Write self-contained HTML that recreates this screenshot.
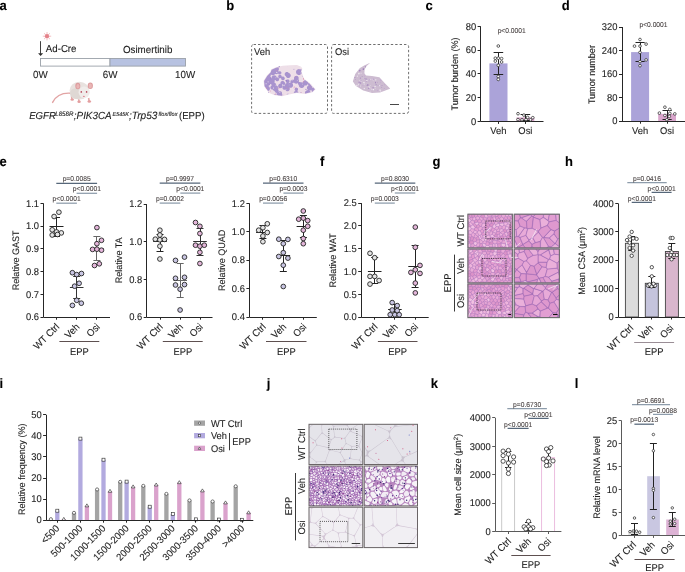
<!DOCTYPE html>
<html><head><meta charset="utf-8"><style>
html,body{margin:0;padding:0;background:#fff;}
svg{display:block;will-change:transform;}
text{font-family:"Liberation Sans", sans-serif;stroke-width:0.1px;text-rendering:geometricPrecision;}
</style></head><body>
<svg width="685" height="572" viewBox="0 0 685 572" fill="#1e1e1e">
<rect width="685" height="572" fill="#fff"/>
<text transform="translate(-0.60 9.80) scale(1 1.045)" font-size="13" fill="#000" stroke="#000" font-weight="bold">a</text>
<line x1="48.50" y1="36.20" x2="51.20" y2="36.20" stroke="#eb9aa0" stroke-width="0.65"/>
<line x1="48.06" y1="37.26" x2="49.97" y2="39.17" stroke="#eb9aa0" stroke-width="0.65"/>
<line x1="47.00" y1="37.70" x2="47.00" y2="40.40" stroke="#eb9aa0" stroke-width="0.65"/>
<line x1="45.94" y1="37.26" x2="44.03" y2="39.17" stroke="#eb9aa0" stroke-width="0.65"/>
<line x1="45.50" y1="36.20" x2="42.80" y2="36.20" stroke="#eb9aa0" stroke-width="0.65"/>
<line x1="45.94" y1="35.14" x2="44.03" y2="33.23" stroke="#eb9aa0" stroke-width="0.65"/>
<line x1="47.00" y1="34.70" x2="47.00" y2="32.00" stroke="#eb9aa0" stroke-width="0.65"/>
<line x1="48.06" y1="35.14" x2="49.97" y2="33.23" stroke="#eb9aa0" stroke-width="0.65"/>
<circle cx="47.00" cy="36.20" r="2.1" fill="#e4828a" stroke="none" stroke-width="0"/>
<line x1="40.50" y1="41.20" x2="40.50" y2="53.80" stroke="#2a2a2a" stroke-width="0.9"/>
<polygon points="38.1,53.2 43.1,53.2 40.6,56.0" fill="#2a2a2a"/>
<text transform="translate(45.80 51.70) scale(1 1.045)" font-size="9.7" stroke="#1e1e1e">Ad-Cre</text>
<text transform="translate(122.90 52.50) scale(1 1.045)" font-size="9.8" stroke="#1e1e1e">Osimertinib</text>
<rect x="40.50" y="58.50" width="69.50" height="7.60" fill="#fff" stroke="#9aa0a8" stroke-width="0.9"/>
<rect x="110.00" y="58.50" width="75.50" height="7.60" fill="#b7c2e1" stroke="#9aa0a8" stroke-width="0.9"/>
<text transform="translate(33.00 78.00) scale(1 1.045)" font-size="9.8" stroke="#1e1e1e">0W</text>
<text transform="translate(102.80 77.70) scale(1 1.045)" font-size="9.8" stroke="#1e1e1e">6W</text>
<text transform="translate(175.00 77.70) scale(1 1.045)" font-size="9.8" stroke="#1e1e1e">10W</text>
<path d="M71,93.2 C63,92.6 56,95.5 52.6,102.4" fill="none" stroke="#e2a4a4" stroke-width="1.4" stroke-linecap="round"/>
<path d="M71.5,96 l0.6,3.6 M78.6,98 l0.4,3.6 M88.6,98 l0.6,3.4" stroke="#e3a8a8" stroke-width="1.6"/>
<ellipse cx="79.4" cy="90.6" rx="9.8" ry="8.9" fill="#e8e2df"/>
<ellipse cx="76.5" cy="93.5" rx="6.5" ry="5.6" fill="#dfd8d4"/>
<ellipse cx="72.2" cy="99.6" rx="1.8" ry="1.2" fill="#e39e9f"/>
<ellipse cx="79.1" cy="101.8" rx="1.7" ry="1.3" fill="#e39e9f"/>
<ellipse cx="89.3" cy="101.5" rx="1.8" ry="1.2" fill="#e39e9f"/>
<circle cx="84.2" cy="92.2" r="5.6" fill="#f0ecea"/>
<ellipse cx="77.8" cy="86.0" rx="2.5" ry="3.3" fill="#dc9c9e"/>
<ellipse cx="77.9" cy="86.2" rx="1.5" ry="2.3" fill="#eab6b6"/>
<ellipse cx="90.3" cy="85.7" rx="2.6" ry="3.3" fill="#dc9c9e"/>
<ellipse cx="90.3" cy="85.9" rx="1.6" ry="2.3" fill="#eab6b6"/>
<ellipse cx="81.3" cy="91.9" rx="0.8" ry="0.9" fill="#b84a5c"/>
<ellipse cx="86.6" cy="91.9" rx="0.8" ry="0.9" fill="#b84a5c"/>
<ellipse cx="83.9" cy="96.4" rx="1.0" ry="0.7" fill="#e08a96"/>
<text transform="translate(29.20 119.30) scale(1 1.045)" font-size="9.6" stroke="#1e1e1e" font-style="italic">EGFR</text>
<text transform="translate(55.20 115.50) scale(1 1.045)" font-size="6.2" stroke="#1e1e1e" font-style="italic">L858R</text>
<text transform="translate(73.80 119.30) scale(1 1.045)" font-size="9.9" stroke="#1e1e1e" font-style="italic">;PIK3CA</text>
<text transform="translate(112.60 115.50) scale(1 1.045)" font-size="5.4" stroke="#1e1e1e" font-style="italic">E545K</text>
<text transform="translate(129.00 119.30) scale(1 1.045)" font-size="10.1" stroke="#1e1e1e" font-style="italic">;Trp53</text>
<text transform="translate(158.50 115.50) scale(1 1.045)" font-size="5.6" stroke="#1e1e1e" font-style="italic">flox/flox</text>
<text transform="translate(179.00 119.30) scale(1 1.045)" font-size="9.6" stroke="#1e1e1e">(EPP)</text>
<text transform="translate(226.20 9.80) scale(1 1.045)" font-size="13" fill="#000" stroke="#000" font-weight="bold">b</text>
<rect x="251.60" y="44.50" width="75.90" height="68.90" fill="none" stroke="#4a4a4a" stroke-width="0.8" rx="2" stroke-dasharray="2.4 2.0"/>
<rect x="331.60" y="44.50" width="77.00" height="68.90" fill="none" stroke="#4a4a4a" stroke-width="0.8" rx="2" stroke-dasharray="2.4 2.0"/>
<text transform="translate(254.10 54.90) scale(1 1.045)" font-size="9.4" stroke="#1e1e1e">Veh</text>
<text transform="translate(335.00 54.90) scale(1 1.045)" font-size="9.4" stroke="#1e1e1e">Osi</text>
<line x1="390.00" y1="104.50" x2="399.00" y2="104.50" stroke="#333" stroke-width="0.9"/>
<filter id="lb" x="-5%" y="-5%" width="110%" height="110%"><feGaussianBlur stdDeviation="0.35"/></filter>
<g filter="url(#lb)">
<path d="M271.1,69.5 270.3,72.1 270.3,72.1 270.2,72.1 270.2,72.1 270.2,72.2 270.2,72.2 266.8,75.6 266.8,75.6 266.8,75.6 266.7,75.7 263.6,80.8 263.6,80.9 263.6,80.9 263.6,80.9 263.6,81.0 263.6,81.0 263.6,81.0 264.1,86.3 264.1,86.4 264.1,86.4 264.1,86.4 264.1,86.4 264.2,86.5 268.6,92.6 268.6,92.6 268.6,92.6 268.6,92.6 268.6,92.7 268.7,92.7 268.7,92.7 274.8,95.3 274.8,95.3 274.8,95.3 274.9,95.3 281.9,96.2 281.9,96.2 281.9,96.2 281.9,96.2 282.0,96.2 289.0,94.5 289.0,94.5 296.8,93.1 296.8,93.1 296.8,93.1 296.9,93.1 305.5,94.0 305.5,94.0 305.5,94.0 305.6,94.0 312.6,92.3 312.6,92.3 312.6,92.3 312.6,92.3 312.7,92.2 312.7,92.2 312.7,92.2 315.4,89.5 315.4,89.5 315.4,89.5 315.5,89.4 315.5,89.4 315.5,89.4 315.5,89.4 315.5,89.3 315.5,89.3 315.5,89.3 315.5,89.2 315.5,89.2 315.5,89.2 315.5,89.2 315.5,89.1 315.4,89.1 315.4,89.1 309.2,82.6 309.2,82.6 309.2,82.6 304.1,78.7 304.1,78.6 304.1,78.6 304.0,78.6 304.0,78.6 304.0,78.5 302.8,75.4 302.8,75.4 301.5,71.5 301.5,71.5 301.5,71.4 301.5,71.4 301.5,71.4 301.5,71.3 301.5,71.3 302.3,68.9 302.3,68.9 302.3,68.8 302.3,68.8 302.3,68.8 302.3,68.7 302.3,68.7 302.3,68.7 302.3,68.7 302.3,68.6 302.2,68.6 300.7,66.6 300.7,66.6 300.7,66.6 300.7,66.6 300.7,66.5 300.6,66.5 300.6,66.5 296.9,65.1 296.9,65.1 296.9,65.1 296.8,65.1 296.8,65.1 290.0,65.2 290.0,65.2 282.8,65.7 282.8,65.7 282.7,65.7 275.9,67.3 275.9,67.3 275.9,67.3 271.3,69.3 271.3,69.3 271.2,69.4 271.2,69.4 271.2,69.4 271.2,69.4 271.2,69.4 271.1,69.5 271.1,69.5Z" fill="#eedfe8"/>
<path d="M268.2,91.0 268.3,90.8 268.7,90.7 269.2,90.3 269.6,89.8 269.9,89.2 269.9,88.5 269.9,87.9 269.6,87.3 269.2,86.7 268.7,86.3 268.1,86.1 267.7,86.0 267.8,86.0 267.8,86.0 268.4,85.9 269.0,85.6 269.5,85.3 269.9,84.7 270.2,84.1 270.2,83.9 270.3,83.9 271.0,84.2 271.3,84.3 271.5,84.4 271.5,84.4 271.4,84.9 271.5,85.6 271.6,85.8 271.3,85.9 270.9,86.2 270.6,86.6 270.4,87.1 270.4,87.6 270.4,88.1 270.6,88.6 270.9,89.0 271.3,89.3 271.8,89.5 272.3,89.6 272.7,89.5 272.8,89.7 273.2,90.3 273.9,90.8 274.6,91.1 274.6,91.1 274.6,91.2 274.9,91.7 275.2,92.2 275.6,92.5 276.1,92.7 276.4,92.7 276.3,93.1 276.2,93.5 276.3,93.9 276.4,94.3 276.7,94.7 277.0,94.9 277.4,95.1 277.7,95.1 277.6,95.2 281.9,95.7 282.3,95.6 282.3,95.6 282.3,95.4 282.4,94.9 282.3,94.5 282.2,94.0 282.0,93.9 282.0,93.8 282.1,93.3 282.0,92.8 281.8,92.2 281.5,91.8 281.0,91.5 280.5,91.2 280.0,91.2 279.4,91.2 278.9,91.5 278.5,91.8 278.3,92.0 278.3,92.0 278.2,91.9 278.4,91.7 278.6,91.2 278.7,90.7 278.6,90.2 278.4,89.7 278.1,89.3 278.2,89.0 278.3,88.2 278.2,87.5 277.9,86.7 277.4,86.1 276.8,85.7 276.2,85.4 276.2,84.9 276.1,84.3 275.9,83.7 275.5,83.2 275.0,82.9 274.4,82.6 274.4,82.6 274.6,82.1 274.7,81.4 274.6,80.6 274.5,80.4 274.8,80.3 275.4,80.0 275.5,80.0 275.7,80.3 275.9,80.7 276.3,81.0 276.8,81.2 277.3,81.2 277.7,81.2 278.2,81.0 278.6,80.7 278.9,80.3 279.1,79.9 279.1,79.4 279.1,78.9 278.9,78.4 278.6,78.1 278.2,77.8 277.7,77.6 277.3,77.5 276.8,77.6 276.7,77.6 276.6,77.2 276.4,76.5 276.0,76.0 275.4,75.6 274.8,75.4 274.2,75.3 273.5,75.4 272.9,75.6 272.4,76.0 271.9,76.5 271.7,77.2 271.6,77.8 271.7,78.4 271.2,78.5 271.3,78.1 271.2,77.7 271.1,77.3 270.8,76.9 270.5,76.7 270.3,76.6 270.4,76.5 270.7,75.8 270.8,75.1 270.7,74.4 271.2,74.8 272.0,75.1 272.8,75.2 273.6,75.1 274.3,74.8 275.0,74.3 275.2,73.9 275.7,74.1 276.3,74.2 276.9,74.1 277.4,73.9 277.9,73.5 278.1,73.3 278.1,73.3 278.2,73.7 278.5,74.1 278.9,74.4 279.3,74.5 279.7,74.6 280.2,74.5 280.6,74.4 280.9,74.1 281.2,73.7 281.4,73.3 281.4,72.9 281.4,72.4 281.2,72.0 280.9,71.7 280.6,71.4 280.2,71.2 279.7,71.2 279.3,71.2 278.9,71.4 278.5,71.7 278.5,71.7 278.5,71.3 278.2,70.8 278.2,70.8 278.5,70.4 278.8,69.8 278.9,69.0 278.8,68.3 278.5,67.6 278.2,67.3 276.1,67.8 271.6,69.7 270.7,72.2 270.7,72.3 270.7,72.3 270.7,72.3 270.7,72.3 270.7,72.4 270.6,72.4 270.6,72.4 270.6,72.5 270.6,72.5 270.6,72.5 270.5,72.5 267.2,75.9 264.1,81.0 264.6,86.2 268.1,91.1ZM286.3,72.1 285.8,72.3 285.3,72.7 285.0,73.1 284.7,73.7 284.7,74.3 284.7,74.8 285.0,75.4 285.3,75.8 285.8,76.2 285.8,76.2 286.1,76.8 286.5,77.3 287.0,77.7 287.6,78.0 288.3,78.0 288.9,78.0 289.5,77.7 290.0,77.3 290.4,76.8 290.7,76.2 290.8,75.5 290.7,74.9 290.4,74.3 290.0,73.7 289.5,73.3 288.9,73.1 288.7,73.1 288.5,72.7 288.0,72.3 287.5,72.1 286.9,72.0ZM279.6,75.0 279.2,75.1 278.8,75.4 278.5,75.8 278.4,76.2 278.3,76.7 278.4,77.1 278.5,77.5 278.8,77.9 279.2,78.2 279.6,78.4 280.1,78.4 280.5,78.4 280.9,78.2 281.1,78.1 281.1,78.4 281.1,78.9 281.3,79.3 281.6,79.7 282.0,80.0 282.4,80.2 282.9,80.2 283.4,80.2 283.8,80.0 284.2,79.7 284.5,79.3 284.7,78.9 284.8,78.4 284.7,77.9 284.5,77.5 284.2,77.1 283.8,76.8 283.4,76.6 282.9,76.6 282.4,76.6 282.0,76.8 281.8,77.0 281.8,76.7 281.8,76.2 281.6,75.8 281.3,75.4 280.9,75.1 280.5,75.0 280.1,74.9ZM287.2,79.4 286.7,79.6 286.4,79.9 286.1,80.3 285.9,80.7 285.8,81.2 285.9,81.7 286.1,82.2 286.4,82.6 286.7,82.9 286.9,82.9 286.9,82.9 286.2,83.2 285.7,83.6 285.3,84.2 285.0,84.8 284.9,85.5 284.9,85.6 284.5,85.6 284.0,85.6 283.4,85.8 283.0,86.2 282.7,86.6 282.5,87.1 282.4,87.7 282.5,88.2 282.7,88.7 283.0,89.2 283.4,89.5 284.0,89.7 284.5,89.8 285.1,89.7 285.3,89.6 285.5,90.1 285.9,90.6 286.3,90.9 286.9,91.2 287.5,91.2 288.1,91.2 288.6,90.9 289.1,90.6 289.5,90.1 289.7,89.5 289.8,88.9 289.7,88.3 289.5,87.8 289.3,87.6 289.4,87.5 289.8,87.7 290.5,87.8 291.2,87.7 291.8,87.5 292.3,87.0 292.8,86.5 293.0,85.9 293.1,85.2 293.0,84.5 292.8,83.9 292.3,83.4 292.2,83.3 292.2,83.3 292.7,83.2 293.1,83.0 293.5,82.7 293.8,82.4 294.1,82.8 294.7,83.3 295.4,83.6 296.2,83.7 296.9,83.6 297.6,83.3 298.1,82.9 298.0,83.1 298.0,83.5 298.0,84.0 298.2,84.4 298.5,84.7 298.8,85.0 298.8,85.2 298.9,85.9 299.1,86.6 299.6,87.2 300.2,87.6 300.9,87.9 301.6,88.0 302.4,87.9 303.1,87.6 303.7,87.2 304.1,86.6 304.4,85.9 304.5,85.3 304.8,85.4 305.5,85.5 306.1,85.4 306.8,85.2 307.3,84.8 307.7,84.2 308.0,83.6 308.1,82.9 308.0,82.3 305.4,80.3 304.8,80.3 304.1,80.6 303.6,81.0 303.2,81.6 302.9,82.2 302.9,82.6 302.4,82.4 301.6,82.3 300.9,82.4 300.8,82.4 300.8,82.4 300.5,82.1 300.1,81.9 299.6,81.9 299.2,81.9 298.8,82.1 298.6,82.2 298.9,81.6 299.0,80.8 298.9,80.1 298.6,79.4 298.5,79.2 298.6,78.7 298.7,78.1 298.6,77.5 298.4,77.0 298.0,76.5 297.5,76.1 297.0,75.9 296.4,75.8 295.7,75.9 295.2,76.1 294.7,76.5 294.3,77.0 294.1,77.5 294.0,78.1 294.1,78.7 294.1,78.8 293.7,79.4 293.4,80.1 293.1,79.9 292.7,79.7 292.2,79.6 291.8,79.7 291.3,79.9 291.0,80.2 290.7,80.5 290.5,81.0 290.4,81.4 290.5,81.9 290.7,82.4 290.9,82.7 290.5,82.6 289.8,82.7 289.2,83.0 288.9,83.2 288.3,83.0 288.6,82.9 289.0,82.6 289.3,82.2 289.5,81.7 289.6,81.2 289.5,80.7 289.3,80.3 289.0,79.9 288.6,79.6 288.2,79.4 287.7,79.4ZM281.0,81.6 280.7,82.1 280.5,82.6 280.4,83.2 280.5,83.7 280.5,83.8 280.3,83.7 279.7,83.8 279.2,84.0 278.7,84.4 278.4,84.9 278.2,85.4 278.1,86.0 278.2,86.6 278.4,87.1 278.7,87.6 279.2,87.9 279.7,88.1 280.3,88.2 280.9,88.1 281.5,87.9 281.9,87.6 282.3,87.1 282.5,86.6 282.6,86.0 282.5,85.4 282.5,85.3 282.5,85.3 283.0,85.2 283.4,85.3 283.8,85.2 284.3,85.1 284.6,84.8 284.9,84.4 285.1,84.0 285.2,83.5 285.1,83.0 284.9,82.6 284.6,82.2 284.3,81.9 284.1,81.6 283.6,81.3 283.1,81.1 282.5,81.0 282.0,81.1 281.5,81.3ZM287.5,93.8 287.1,93.9 286.7,94.2 286.4,94.6 286.4,94.6 288.8,94.0 288.8,94.0 288.9,94.0 288.8,93.9 288.4,93.8 287.9,93.7ZM274.1,94.2 273.8,94.3 275.0,94.8 276.0,94.9 275.8,94.7 275.5,94.4 275.0,94.2 274.6,94.1ZM301.4,69.3 300.9,69.3 300.3,69.3 300.1,69.4 299.7,69.2 298.9,69.1 298.2,69.2 297.5,69.5 296.8,70.0 296.4,70.6 296.1,71.3 296.0,72.1 296.1,72.8 296.4,73.6 296.8,74.2 297.5,74.6 298.2,74.9 298.9,75.0 299.7,74.9 300.4,74.6 301.0,74.2 301.5,73.6 301.6,73.3 301.6,73.3 301.1,71.6 301.1,71.6 301.1,71.6 301.0,71.5 301.0,71.5 301.0,71.5 301.0,71.4 301.0,71.4 301.0,71.3 301.0,71.3 301.0,71.3 301.0,71.2 301.1,71.2 301.1,71.2 301.6,69.4ZM302.2,75.9 302.3,76.3 302.5,76.7 302.7,77.1 303.0,77.3 302.3,75.6 302.3,75.6 302.3,75.6 302.3,75.5 302.3,75.5ZM308.5,82.9 308.2,83.2 308.1,83.7 308.0,84.1 308.1,84.6 308.2,85.0 308.5,85.3 308.6,85.4 308.3,85.5 307.7,85.9 307.3,86.5 307.0,87.1 306.9,87.8 307.0,88.5 307.3,89.2 307.7,89.8 308.3,90.2 308.3,90.2 307.8,90.1 307.1,90.2 306.4,90.5 305.8,91.0 305.3,91.6 305.0,92.3 304.9,93.0 305.0,93.4 305.5,93.5 310.6,92.3 310.3,91.6 309.8,91.0 309.2,90.5 309.1,90.5 309.6,90.5 310.3,90.5 311.0,90.2 311.5,89.8 311.6,89.7 311.5,90.1 311.6,90.9 311.9,91.6 312.2,91.9 312.4,91.8 314.9,89.3 313.2,87.5 313.0,87.6 312.4,88.0 312.3,88.2 312.3,87.8 312.2,87.1 312.0,86.5 311.5,85.9 311.0,85.5 310.9,85.5 311.0,85.3 311.1,85.3 308.9,82.9 308.6,82.8ZM295.5,87.9 295.1,88.1 294.9,88.5 294.7,88.9 294.6,89.4 294.7,89.8 294.9,90.2 295.1,90.6 295.5,90.9 295.6,90.9 295.5,90.9 294.9,91.2 294.4,91.6 294.0,92.1 293.8,92.7 293.7,93.1 296.7,92.6 296.7,92.6 296.7,92.6 296.8,92.6 296.8,92.6 296.9,92.6 296.9,92.6 296.9,92.6 298.5,92.8 298.5,92.7 298.3,92.1 297.9,91.6 297.4,91.2 296.9,91.0 297.2,90.9 297.6,90.6 297.9,90.2 298.0,89.8 298.1,89.4 298.0,88.9 297.9,88.5 297.6,88.1 297.2,87.9 296.8,87.7 296.4,87.6 295.9,87.7ZM299.8,92.9 299.8,92.9 301.9,93.1 301.6,92.9 301.2,92.7 300.7,92.6 300.2,92.7Z" fill="#a893ce"/>
<circle cx="287.50" cy="66.31" r="0.406691155561609" fill="#e8d8e8" stroke="none" stroke-width="0"/>
<circle cx="276.14" cy="93.40" r="0.4998280703251057" fill="#f2e8f0" stroke="none" stroke-width="0"/>
<circle cx="275.37" cy="77.78" r="0.35458840846958684" fill="#e8d8e8" stroke="none" stroke-width="0"/>
<circle cx="283.70" cy="95.00" r="0.49267957854245314" fill="#e8d8e8" stroke="none" stroke-width="0"/>
<circle cx="266.10" cy="83.85" r="0.5216384639673629" fill="#f2e8f0" stroke="none" stroke-width="0"/>
<circle cx="286.30" cy="80.64" r="0.5283915755050914" fill="#9478c0" stroke="none" stroke-width="0"/>
<circle cx="278.23" cy="75.88" r="0.4621462550189035" fill="#9478c0" stroke="none" stroke-width="0"/>
<circle cx="293.68" cy="88.02" r="0.3135340855712213" fill="#d88aa8" stroke="none" stroke-width="0"/>
<circle cx="283.52" cy="94.13" r="0.5567017156530638" fill="#e8d8e8" stroke="none" stroke-width="0"/>
<circle cx="285.62" cy="80.34" r="0.38533076389154397" fill="#9478c0" stroke="none" stroke-width="0"/>
<circle cx="293.70" cy="76.60" r="0.38572512451539026" fill="#f2e8f0" stroke="none" stroke-width="0"/>
<circle cx="291.91" cy="74.22" r="0.5149805339002951" fill="#f2e8f0" stroke="none" stroke-width="0"/>
<circle cx="266.29" cy="88.40" r="0.47574238935732993" fill="#d88aa8" stroke="none" stroke-width="0"/>
<circle cx="284.62" cy="85.85" r="0.31583743594037467" fill="#f2e8f0" stroke="none" stroke-width="0"/>
<circle cx="300.92" cy="67.45" r="0.5966308341690885" fill="#f2e8f0" stroke="none" stroke-width="0"/>
<circle cx="268.53" cy="92.26" r="0.4288547219018447" fill="#9478c0" stroke="none" stroke-width="0"/>
<circle cx="277.04" cy="87.91" r="0.3136301849559533" fill="#e8d8e8" stroke="none" stroke-width="0"/>
<circle cx="309.99" cy="86.96" r="0.4405051055797142" fill="#d88aa8" stroke="none" stroke-width="0"/>
<circle cx="293.97" cy="69.34" r="0.4872743913914813" fill="#9478c0" stroke="none" stroke-width="0"/>
<circle cx="270.66" cy="90.97" r="0.40700912146590584" fill="#d88aa8" stroke="none" stroke-width="0"/>
<circle cx="270.97" cy="78.84" r="0.5003673778853712" fill="#9478c0" stroke="none" stroke-width="0"/>
<circle cx="293.85" cy="84.55" r="0.5046018974919583" fill="#f2e8f0" stroke="none" stroke-width="0"/>
<circle cx="302.34" cy="81.39" r="0.599290377207786" fill="#f2e8f0" stroke="none" stroke-width="0"/>
<circle cx="300.25" cy="72.91" r="0.33416056596401733" fill="#f2e8f0" stroke="none" stroke-width="0"/>
<circle cx="302.65" cy="84.12" r="0.4077551683964324" fill="#f2e8f0" stroke="none" stroke-width="0"/>
<circle cx="294.27" cy="87.03" r="0.509711894970406" fill="#d88aa8" stroke="none" stroke-width="0"/>
<circle cx="295.39" cy="87.85" r="0.356944633912807" fill="#d88aa8" stroke="none" stroke-width="0"/>
<circle cx="289.10" cy="84.94" r="0.3587933329018423" fill="#e8d8e8" stroke="none" stroke-width="0"/>
<circle cx="295.16" cy="66.27" r="0.37785566842226603" fill="#e8d8e8" stroke="none" stroke-width="0"/>
<circle cx="294.92" cy="68.97" r="0.46249445217465246" fill="#e8d8e8" stroke="none" stroke-width="0"/>
<circle cx="301.28" cy="92.47" r="0.3482571681230409" fill="#d88aa8" stroke="none" stroke-width="0"/>
<circle cx="295.29" cy="76.82" r="0.44356665094368" fill="#d88aa8" stroke="none" stroke-width="0"/>
<circle cx="281.24" cy="80.34" r="0.34000875019703924" fill="#e8d8e8" stroke="none" stroke-width="0"/>
<circle cx="303.51" cy="78.97" r="0.5466126135522107" fill="#d88aa8" stroke="none" stroke-width="0"/>
<circle cx="286.33" cy="87.67" r="0.4170376870256892" fill="#d88aa8" stroke="none" stroke-width="0"/>
<circle cx="282.71" cy="84.96" r="0.5967541730329161" fill="#f2e8f0" stroke="none" stroke-width="0"/>
<circle cx="278.96" cy="88.01" r="0.5478470875043235" fill="#d88aa8" stroke="none" stroke-width="0"/>
<circle cx="285.53" cy="76.71" r="0.3291050824419027" fill="#f2e8f0" stroke="none" stroke-width="0"/>
<circle cx="292.08" cy="80.06" r="0.5055980767239161" fill="#f2e8f0" stroke="none" stroke-width="0"/>
<circle cx="279.89" cy="92.41" r="0.48111569452667735" fill="#f2e8f0" stroke="none" stroke-width="0"/>
<circle cx="288.75" cy="88.16" r="0.39838480193074455" fill="#d88aa8" stroke="none" stroke-width="0"/>
<circle cx="275.50" cy="85.06" r="0.39811977304457374" fill="#e8d8e8" stroke="none" stroke-width="0"/>
<circle cx="280.48" cy="78.79" r="0.47843051907097534" fill="#f2e8f0" stroke="none" stroke-width="0"/>
<circle cx="286.02" cy="89.29" r="0.391429362725338" fill="#f2e8f0" stroke="none" stroke-width="0"/>
<circle cx="275.62" cy="94.07" r="0.5189362694950269" fill="#d88aa8" stroke="none" stroke-width="0"/>
<circle cx="269.05" cy="90.03" r="0.30723518139864153" fill="#9478c0" stroke="none" stroke-width="0"/>
<circle cx="293.07" cy="89.09" r="0.5216497344459698" fill="#f2e8f0" stroke="none" stroke-width="0"/>
<circle cx="303.26" cy="81.68" r="0.5509129075507997" fill="#d88aa8" stroke="none" stroke-width="0"/>
<circle cx="273.48" cy="88.01" r="0.5642694730789495" fill="#f2e8f0" stroke="none" stroke-width="0"/>
<circle cx="279.20" cy="66.65" r="0.5525063547588565" fill="#9478c0" stroke="none" stroke-width="0"/>
<circle cx="268.07" cy="81.86" r="0.5364188623699288" fill="#e8d8e8" stroke="none" stroke-width="0"/>
<circle cx="281.06" cy="73.94" r="0.33162167049736946" fill="#f2e8f0" stroke="none" stroke-width="0"/>
<circle cx="269.07" cy="84.39" r="0.3431633817347498" fill="#9478c0" stroke="none" stroke-width="0"/>
<circle cx="276.78" cy="72.39" r="0.5296059092307175" fill="#f2e8f0" stroke="none" stroke-width="0"/>
<circle cx="301.71" cy="77.44" r="0.40134407536821554" fill="#f2e8f0" stroke="none" stroke-width="0"/>
<circle cx="297.27" cy="80.32" r="0.4612019527065344" fill="#e8d8e8" stroke="none" stroke-width="0"/>
<circle cx="298.99" cy="92.53" r="0.4231816599303031" fill="#f2e8f0" stroke="none" stroke-width="0"/>
<circle cx="305.97" cy="89.37" r="0.5501483181623824" fill="#9478c0" stroke="none" stroke-width="0"/>
<circle cx="310.97" cy="84.57" r="0.4571568452463731" fill="#e8d8e8" stroke="none" stroke-width="0"/>
<circle cx="303.51" cy="78.23" r="0.4261369874676223" fill="#d88aa8" stroke="none" stroke-width="0"/>
<circle cx="276.79" cy="70.71" r="0.490555331950312" fill="#d88aa8" stroke="none" stroke-width="0"/>
</g>
<g filter="url(#lb)">
<path d="M369.7,63.3 369.7,63.3 369.7,63.3 369.7,63.3 369.7,63.2 369.7,63.2 369.7,63.2 369.7,63.2 369.7,63.2 369.7,63.2 369.7,63.2 369.7,63.2 369.7,63.2 369.7,63.2 369.7,63.2 369.7,63.1 369.7,63.1 369.7,63.1 369.7,63.1 369.7,63.1 369.6,63.1 369.6,63.1 369.6,63.1 369.6,63.1 369.6,63.1 369.6,63.1 369.6,63.1 369.6,63.1 369.6,63.1 369.6,63.1 364.7,65.2 364.7,65.2 364.6,65.2 360.0,68.1 359.9,68.1 359.9,68.1 359.9,68.1 355.2,73.9 355.2,73.9 355.2,74.0 355.2,74.0 355.2,74.0 352.9,81.3 352.9,81.3 352.9,81.3 352.9,81.3 352.9,81.3 352.9,81.3 352.9,81.3 352.9,81.3 352.9,81.3 352.9,81.4 355.9,86.0 355.9,86.1 355.9,86.1 355.9,86.1 355.9,86.1 356.0,86.1 363.2,90.4 363.3,90.4 363.3,90.4 372.0,93.1 372.0,93.1 372.0,93.1 372.0,93.1 372.0,93.1 380.0,92.6 380.0,92.6 380.0,92.6 380.0,92.6 390.0,88.8 390.0,88.8 390.1,88.8 390.1,88.8 390.1,88.8 390.1,88.8 390.1,88.8 390.1,88.7 390.1,88.7 390.1,88.7 390.1,88.7 390.1,88.7 390.1,88.7 390.1,88.7 390.1,88.7 390.1,88.7 390.1,88.7 390.1,88.7 390.1,88.6 390.1,88.6 390.1,88.6 385.1,83.4 385.1,83.4 379.4,77.2 379.4,77.2 379.4,77.2 379.4,77.2 379.3,77.2 379.3,77.2 379.3,77.2 379.3,77.2 372.0,76.1 372.0,76.1 366.1,75.6 366.1,75.6 366.1,75.6 366.1,75.6 366.1,75.6 366.1,75.6 366.0,75.6 366.0,75.6 366.0,75.5 366.0,75.5 364.4,73.3 364.4,73.3 364.4,73.3 364.4,73.3 364.4,73.3 364.4,73.2 364.4,73.2 364.4,73.2 364.6,69.6 364.6,69.6 364.6,69.5 364.6,69.5 364.6,69.5 364.6,69.5 366.6,66.1 366.6,66.1 366.6,66.1 366.6,66.0Z" fill="#cdbcd1"/>
<circle cx="364.87" cy="75.68" r="0.49601218802496816" fill="#c4aed2" stroke="none" stroke-width="0"/>
<circle cx="364.41" cy="67.44" r="0.42775765573954216" fill="#dccfe0" stroke="none" stroke-width="0"/>
<circle cx="370.80" cy="88.01" r="0.4043379530222129" fill="#ece4ee" stroke="none" stroke-width="0"/>
<circle cx="359.83" cy="70.52" r="0.650013157417043" fill="#a98ac2" stroke="none" stroke-width="0"/>
<circle cx="370.46" cy="79.26" r="0.4424935187940336" fill="#f3eef4" stroke="none" stroke-width="0"/>
<circle cx="363.40" cy="69.18" r="0.8186758306314426" fill="#9a7cb8" stroke="none" stroke-width="0"/>
<circle cx="373.37" cy="89.60" r="0.7937095016338515" fill="#f3eef4" stroke="none" stroke-width="0"/>
<circle cx="372.52" cy="79.47" r="0.7438391506308528" fill="#ece4ee" stroke="none" stroke-width="0"/>
<circle cx="362.12" cy="76.64" r="0.42864519736086104" fill="#9a7cb8" stroke="none" stroke-width="0"/>
<circle cx="358.81" cy="73.65" r="0.8040527048306374" fill="#ece4ee" stroke="none" stroke-width="0"/>
<circle cx="380.44" cy="82.58" r="0.617288219380905" fill="#c4aed2" stroke="none" stroke-width="0"/>
<circle cx="384.31" cy="88.66" r="0.5258638518673209" fill="#b89ccb" stroke="none" stroke-width="0"/>
<circle cx="375.75" cy="79.84" r="0.6968459340507676" fill="#f3eef4" stroke="none" stroke-width="0"/>
<circle cx="373.11" cy="79.18" r="0.7446608274719217" fill="#b89ccb" stroke="none" stroke-width="0"/>
<circle cx="360.71" cy="80.30" r="0.5970915621427875" fill="#c4aed2" stroke="none" stroke-width="0"/>
<circle cx="364.70" cy="76.16" r="0.5028506837683475" fill="#c4aed2" stroke="none" stroke-width="0"/>
<circle cx="370.29" cy="85.45" r="0.3871723610427019" fill="#ece4ee" stroke="none" stroke-width="0"/>
<circle cx="358.20" cy="84.03" r="0.5808794138827784" fill="#dccfe0" stroke="none" stroke-width="0"/>
<circle cx="366.95" cy="85.30" r="0.49673414664013643" fill="#a98ac2" stroke="none" stroke-width="0"/>
<circle cx="384.67" cy="89.34" r="0.45336505212460876" fill="#dccfe0" stroke="none" stroke-width="0"/>
<circle cx="366.91" cy="80.19" r="0.8270445724479467" fill="#ece4ee" stroke="none" stroke-width="0"/>
<circle cx="380.93" cy="80.67" r="0.4782233938152244" fill="#b89ccb" stroke="none" stroke-width="0"/>
<circle cx="360.40" cy="85.94" r="0.5048573558965233" fill="#ece4ee" stroke="none" stroke-width="0"/>
<circle cx="363.13" cy="78.09" r="0.5158292317645866" fill="#dccfe0" stroke="none" stroke-width="0"/>
<circle cx="378.07" cy="85.25" r="0.4465827979232334" fill="#a98ac2" stroke="none" stroke-width="0"/>
<circle cx="369.05" cy="87.14" r="0.8103077576430786" fill="#ece4ee" stroke="none" stroke-width="0"/>
<circle cx="368.80" cy="79.35" r="0.45272660392098646" fill="#dccfe0" stroke="none" stroke-width="0"/>
<circle cx="358.48" cy="84.74" r="0.5157052558709854" fill="#f3eef4" stroke="none" stroke-width="0"/>
<circle cx="367.83" cy="85.00" r="0.7448355065474336" fill="#9a7cb8" stroke="none" stroke-width="0"/>
<circle cx="377.43" cy="82.26" r="0.4803571847491541" fill="#b89ccb" stroke="none" stroke-width="0"/>
<circle cx="359.98" cy="73.20" r="0.40313892870099516" fill="#f3eef4" stroke="none" stroke-width="0"/>
<circle cx="366.97" cy="79.28" r="0.4967386328622274" fill="#9a7cb8" stroke="none" stroke-width="0"/>
<circle cx="356.80" cy="85.40" r="0.7332563517199386" fill="#ece4ee" stroke="none" stroke-width="0"/>
<circle cx="366.04" cy="79.01" r="0.6370779026799693" fill="#a98ac2" stroke="none" stroke-width="0"/>
<circle cx="365.34" cy="66.75" r="0.5305994446060351" fill="#9a7cb8" stroke="none" stroke-width="0"/>
<circle cx="373.75" cy="80.81" r="0.43426733281214147" fill="#ece4ee" stroke="none" stroke-width="0"/>
<circle cx="380.59" cy="90.91" r="0.6507530053915056" fill="#ece4ee" stroke="none" stroke-width="0"/>
<circle cx="361.91" cy="81.21" r="0.43293782616247967" fill="#9a7cb8" stroke="none" stroke-width="0"/>
<circle cx="375.11" cy="88.34" r="0.36601044983934705" fill="#f3eef4" stroke="none" stroke-width="0"/>
<circle cx="364.38" cy="84.14" r="0.8032223097296116" fill="#dccfe0" stroke="none" stroke-width="0"/>
<circle cx="375.76" cy="83.21" r="0.3581745801812032" fill="#9a7cb8" stroke="none" stroke-width="0"/>
<circle cx="360.38" cy="78.04" r="0.6139293945818312" fill="#a98ac2" stroke="none" stroke-width="0"/>
<circle cx="357.38" cy="76.17" r="0.6098853227923571" fill="#ece4ee" stroke="none" stroke-width="0"/>
<circle cx="362.76" cy="81.04" r="0.3767365226213099" fill="#ece4ee" stroke="none" stroke-width="0"/>
<circle cx="382.01" cy="85.65" r="0.42237362266770684" fill="#9a7cb8" stroke="none" stroke-width="0"/>
<circle cx="376.08" cy="84.68" r="0.5534799745370291" fill="#9a7cb8" stroke="none" stroke-width="0"/>
<circle cx="370.15" cy="91.16" r="0.554510226194245" fill="#dccfe0" stroke="none" stroke-width="0"/>
<circle cx="369.06" cy="80.98" r="0.5151821901090485" fill="#c4aed2" stroke="none" stroke-width="0"/>
<circle cx="363.95" cy="82.49" r="0.7160034178811526" fill="#f3eef4" stroke="none" stroke-width="0"/>
<circle cx="375.11" cy="86.56" r="0.7912985764199397" fill="#ece4ee" stroke="none" stroke-width="0"/>
<circle cx="380.04" cy="90.14" r="0.7832457614919415" fill="#ece4ee" stroke="none" stroke-width="0"/>
<circle cx="368.59" cy="88.16" r="0.6747531680264425" fill="#a98ac2" stroke="none" stroke-width="0"/>
<circle cx="355.65" cy="79.59" r="0.4118979814729573" fill="#a98ac2" stroke="none" stroke-width="0"/>
<circle cx="366.19" cy="81.57" r="0.5031118937996465" fill="#b89ccb" stroke="none" stroke-width="0"/>
<circle cx="381.74" cy="87.30" r="0.4513466801321072" fill="#a98ac2" stroke="none" stroke-width="0"/>
<circle cx="384.78" cy="84.78" r="0.4477522891606278" fill="#b89ccb" stroke="none" stroke-width="0"/>
<circle cx="360.47" cy="82.97" r="0.8247301186627503" fill="#a98ac2" stroke="none" stroke-width="0"/>
<circle cx="364.32" cy="88.53" r="0.7847932056350964" fill="#ece4ee" stroke="none" stroke-width="0"/>
<circle cx="361.26" cy="73.21" r="0.6955739512907906" fill="#dccfe0" stroke="none" stroke-width="0"/>
<circle cx="362.95" cy="85.60" r="0.6822957765141955" fill="#c4aed2" stroke="none" stroke-width="0"/>
<circle cx="377.49" cy="90.53" r="0.6079563752896898" fill="#c4aed2" stroke="none" stroke-width="0"/>
<circle cx="359.68" cy="70.78" r="0.6699650968156783" fill="#a98ac2" stroke="none" stroke-width="0"/>
<circle cx="369.29" cy="79.85" r="0.8036977598270092" fill="#c4aed2" stroke="none" stroke-width="0"/>
<circle cx="359.64" cy="86.03" r="0.44317995529758014" fill="#b89ccb" stroke="none" stroke-width="0"/>
<circle cx="359.66" cy="80.68" r="0.8048438614592803" fill="#dccfe0" stroke="none" stroke-width="0"/>
<circle cx="364.87" cy="78.50" r="0.6083675432631631" fill="#b89ccb" stroke="none" stroke-width="0"/>
<circle cx="371.71" cy="89.36" r="0.8417030987162945" fill="#dccfe0" stroke="none" stroke-width="0"/>
<circle cx="380.54" cy="79.95" r="0.739827101570493" fill="#c4aed2" stroke="none" stroke-width="0"/>
<circle cx="359.11" cy="82.24" r="0.6842195244149613" fill="#a98ac2" stroke="none" stroke-width="0"/>
<circle cx="379.50" cy="85.65" r="0.594558872819539" fill="#ece4ee" stroke="none" stroke-width="0"/>
<circle cx="361.19" cy="81.40" r="0.48066840930034715" fill="#f3eef4" stroke="none" stroke-width="0"/>
<circle cx="354.94" cy="77.45" r="0.5125273829393485" fill="#a98ac2" stroke="none" stroke-width="0"/>
<circle cx="375.51" cy="82.26" r="0.5673181865502659" fill="#9a7cb8" stroke="none" stroke-width="0"/>
<circle cx="373.10" cy="87.75" r="0.6616111872577344" fill="#a98ac2" stroke="none" stroke-width="0"/>
</g>
<text transform="translate(425.40 9.80) scale(1 1.045)" font-size="13" fill="#000" stroke="#000" font-weight="bold">c</text>
<line x1="480.50" y1="26.30" x2="480.50" y2="121.40" stroke="#262626" stroke-width="1"/>
<line x1="477.60" y1="121.50" x2="480.60" y2="121.50" stroke="#262626" stroke-width="1"/>
<text transform="translate(476.10 124.60) scale(1 1.045)" font-size="9.4" text-anchor="end" stroke="#1e1e1e">0</text>
<line x1="477.60" y1="97.50" x2="480.60" y2="97.50" stroke="#262626" stroke-width="1"/>
<text transform="translate(476.10 100.83) scale(1 1.045)" font-size="9.4" text-anchor="end" stroke="#1e1e1e">20</text>
<line x1="477.60" y1="73.50" x2="480.60" y2="73.50" stroke="#262626" stroke-width="1"/>
<text transform="translate(476.10 77.05) scale(1 1.045)" font-size="9.4" text-anchor="end" stroke="#1e1e1e">40</text>
<line x1="477.60" y1="50.50" x2="480.60" y2="50.50" stroke="#262626" stroke-width="1"/>
<text transform="translate(476.10 53.28) scale(1 1.045)" font-size="9.4" text-anchor="end" stroke="#1e1e1e">60</text>
<line x1="477.60" y1="26.50" x2="480.60" y2="26.50" stroke="#262626" stroke-width="1"/>
<text transform="translate(476.10 29.50) scale(1 1.045)" font-size="9.4" text-anchor="end" stroke="#1e1e1e">80</text>
<rect x="489.40" y="63.40" width="18.10" height="58.00" fill="#aba3d9" stroke="none" stroke-width="1"/>
<rect x="516.50" y="117.40" width="17.80" height="4.00" fill="#d9a6cc" stroke="none" stroke-width="1"/>
<line x1="480.60" y1="121.50" x2="543.50" y2="121.50" stroke="#262626" stroke-width="1"/>
<line x1="498.50" y1="121.40" x2="498.50" y2="123.90" stroke="#262626" stroke-width="1"/>
<line x1="525.50" y1="121.40" x2="525.50" y2="123.90" stroke="#262626" stroke-width="1"/>
<line x1="498.50" y1="52.60" x2="498.50" y2="74.20" stroke="#222" stroke-width="1"/>
<line x1="493.60" y1="52.50" x2="503.20" y2="52.50" stroke="#222" stroke-width="1"/>
<line x1="493.60" y1="74.50" x2="503.20" y2="74.50" stroke="#222" stroke-width="1"/>
<circle cx="498.30" cy="46.00" r="1.35" fill="#fff" stroke="#222" stroke-width="0.7"/>
<circle cx="495.30" cy="58.20" r="1.35" fill="#fff" stroke="#222" stroke-width="0.7"/>
<circle cx="498.30" cy="58.20" r="1.35" fill="#fff" stroke="#222" stroke-width="0.7"/>
<circle cx="501.60" cy="58.60" r="1.35" fill="#fff" stroke="#222" stroke-width="0.7"/>
<circle cx="495.30" cy="61.10" r="1.35" fill="#fff" stroke="#222" stroke-width="0.7"/>
<circle cx="501.60" cy="62.00" r="1.35" fill="#fff" stroke="#222" stroke-width="0.7"/>
<circle cx="498.30" cy="65.30" r="1.35" fill="#fff" stroke="#222" stroke-width="0.7"/>
<circle cx="498.30" cy="76.50" r="1.35" fill="#fff" stroke="#222" stroke-width="0.7"/>
<circle cx="498.30" cy="79.40" r="1.35" fill="#fff" stroke="#222" stroke-width="0.7"/>
<line x1="525.50" y1="114.50" x2="525.50" y2="120.50" stroke="#222" stroke-width="1"/>
<line x1="520.60" y1="114.50" x2="530.20" y2="114.50" stroke="#222" stroke-width="1"/>
<line x1="520.60" y1="120.50" x2="530.20" y2="120.50" stroke="#222" stroke-width="1"/>
<circle cx="518.00" cy="113.70" r="1.35" fill="#fff" stroke="#222" stroke-width="0.7"/>
<circle cx="523.90" cy="115.10" r="1.35" fill="#fff" stroke="#222" stroke-width="0.7"/>
<circle cx="527.60" cy="117.40" r="1.35" fill="#fff" stroke="#222" stroke-width="0.7"/>
<circle cx="532.80" cy="117.70" r="1.35" fill="#fff" stroke="#222" stroke-width="0.7"/>
<circle cx="518.00" cy="119.60" r="1.35" fill="#fff" stroke="#222" stroke-width="0.7"/>
<circle cx="522.00" cy="119.80" r="1.35" fill="#fff" stroke="#222" stroke-width="0.7"/>
<circle cx="526.00" cy="119.60" r="1.35" fill="#fff" stroke="#222" stroke-width="0.7"/>
<circle cx="530.50" cy="119.80" r="1.35" fill="#fff" stroke="#222" stroke-width="0.7"/>
<text transform="translate(498.40 134.40) scale(1 1.045)" font-size="9.4" text-anchor="middle" stroke="#1e1e1e">Veh</text>
<text transform="translate(525.40 134.40) scale(1 1.045)" font-size="9.4" text-anchor="middle" stroke="#1e1e1e">Osi</text>
<text transform="translate(457.90 74.00) rotate(-90) scale(1 1.045)" font-size="9.05" text-anchor="middle" stroke="#1e1e1e">Tumor burden (%)</text>
<text transform="translate(511.70 32.80) scale(1 1.045)" font-size="6.7" text-anchor="middle" fill="#4a4444" stroke="#4a4444">p&lt;0.0001</text>
<text transform="translate(561.70 9.80) scale(1 1.045)" font-size="13" fill="#000" stroke="#000" font-weight="bold">d</text>
<line x1="622.50" y1="27.00" x2="622.50" y2="121.20" stroke="#262626" stroke-width="1"/>
<line x1="619.00" y1="121.50" x2="622.00" y2="121.50" stroke="#262626" stroke-width="1"/>
<text transform="translate(617.50 124.40) scale(1 1.045)" font-size="9.4" text-anchor="end" stroke="#1e1e1e">0</text>
<line x1="619.00" y1="97.50" x2="622.00" y2="97.50" stroke="#262626" stroke-width="1"/>
<text transform="translate(617.50 100.85) scale(1 1.045)" font-size="9.4" text-anchor="end" stroke="#1e1e1e">80</text>
<line x1="619.00" y1="74.50" x2="622.00" y2="74.50" stroke="#262626" stroke-width="1"/>
<text transform="translate(617.50 77.30) scale(1 1.045)" font-size="9.4" text-anchor="end" stroke="#1e1e1e">160</text>
<line x1="619.00" y1="50.50" x2="622.00" y2="50.50" stroke="#262626" stroke-width="1"/>
<text transform="translate(617.50 53.75) scale(1 1.045)" font-size="9.4" text-anchor="end" stroke="#1e1e1e">240</text>
<line x1="619.00" y1="27.50" x2="622.00" y2="27.50" stroke="#262626" stroke-width="1"/>
<text transform="translate(617.50 30.20) scale(1 1.045)" font-size="9.4" text-anchor="end" stroke="#1e1e1e">320</text>
<rect x="631.10" y="52.10" width="18.00" height="69.10" fill="#aba3d9" stroke="none" stroke-width="1"/>
<rect x="658.20" y="113.90" width="17.80" height="7.30" fill="#d9a6cc" stroke="none" stroke-width="1"/>
<line x1="622.00" y1="121.50" x2="685.00" y2="121.50" stroke="#262626" stroke-width="1"/>
<line x1="640.50" y1="121.20" x2="640.50" y2="123.70" stroke="#262626" stroke-width="1"/>
<line x1="667.50" y1="121.20" x2="667.50" y2="123.70" stroke="#262626" stroke-width="1"/>
<line x1="640.50" y1="42.10" x2="640.50" y2="61.60" stroke="#222" stroke-width="1"/>
<line x1="635.50" y1="42.50" x2="644.70" y2="42.50" stroke="#222" stroke-width="1"/>
<line x1="635.50" y1="61.50" x2="644.70" y2="61.50" stroke="#222" stroke-width="1"/>
<circle cx="640.00" cy="39.50" r="1.35" fill="#fff" stroke="#222" stroke-width="0.7"/>
<circle cx="634.50" cy="46.10" r="1.35" fill="#fff" stroke="#222" stroke-width="0.7"/>
<circle cx="640.00" cy="46.10" r="1.35" fill="#fff" stroke="#222" stroke-width="0.7"/>
<circle cx="646.10" cy="44.10" r="1.35" fill="#fff" stroke="#222" stroke-width="0.7"/>
<circle cx="640.00" cy="52.40" r="1.35" fill="#fff" stroke="#222" stroke-width="0.7"/>
<circle cx="646.10" cy="59.90" r="1.35" fill="#fff" stroke="#222" stroke-width="0.7"/>
<circle cx="640.00" cy="61.60" r="1.35" fill="#fff" stroke="#222" stroke-width="0.7"/>
<circle cx="640.00" cy="65.70" r="1.35" fill="#fff" stroke="#222" stroke-width="0.7"/>
<line x1="667.50" y1="110.10" x2="667.50" y2="119.00" stroke="#222" stroke-width="1"/>
<line x1="662.50" y1="110.50" x2="671.70" y2="110.50" stroke="#222" stroke-width="1"/>
<line x1="662.50" y1="119.50" x2="671.70" y2="119.50" stroke="#222" stroke-width="1"/>
<circle cx="664.90" cy="107.20" r="1.35" fill="#fff" stroke="#222" stroke-width="0.7"/>
<circle cx="669.80" cy="109.40" r="1.35" fill="#fff" stroke="#222" stroke-width="0.7"/>
<circle cx="659.40" cy="113.10" r="1.35" fill="#fff" stroke="#222" stroke-width="0.7"/>
<circle cx="669.80" cy="113.40" r="1.35" fill="#fff" stroke="#222" stroke-width="0.7"/>
<circle cx="674.80" cy="113.90" r="1.35" fill="#fff" stroke="#222" stroke-width="0.7"/>
<circle cx="664.90" cy="115.50" r="1.35" fill="#fff" stroke="#222" stroke-width="0.7"/>
<circle cx="669.30" cy="116.40" r="1.35" fill="#fff" stroke="#222" stroke-width="0.7"/>
<circle cx="666.90" cy="119.70" r="1.35" fill="#fff" stroke="#222" stroke-width="0.7"/>
<text transform="translate(640.10 134.30) scale(1 1.045)" font-size="9.4" text-anchor="middle" stroke="#1e1e1e">Veh</text>
<text transform="translate(667.10 134.30) scale(1 1.045)" font-size="9.4" text-anchor="middle" stroke="#1e1e1e">Osi</text>
<text transform="translate(595.30 74.60) rotate(-90) scale(1 1.045)" font-size="9.05" text-anchor="middle" stroke="#1e1e1e">Tumor number</text>
<text transform="translate(653.50 27.10) scale(1 1.045)" font-size="6.7" text-anchor="middle" fill="#4a4444" stroke="#4a4444">p&lt;0.0001</text>
<text transform="translate(-0.60 166.20) scale(1 1.045)" font-size="13" fill="#000" stroke="#000" font-weight="bold">e</text>
<text transform="translate(320.00 166.30) scale(1 1.045)" font-size="13" fill="#000" stroke="#000" font-weight="bold">f</text>
<text transform="translate(432.60 166.20) scale(1 1.045)" font-size="13" fill="#000" stroke="#000" font-weight="bold">g</text>
<text transform="translate(565.00 166.30) scale(1 1.045)" font-size="13" fill="#000" stroke="#000" font-weight="bold">h</text>
<line x1="43.50" y1="203.40" x2="43.50" y2="317.20" stroke="#262626" stroke-width="1"/>
<line x1="40.50" y1="317.50" x2="43.50" y2="317.50" stroke="#262626" stroke-width="1"/>
<text transform="translate(39.00 320.40) scale(1 1.045)" font-size="9.4" text-anchor="end" stroke="#1e1e1e">0.6</text>
<line x1="40.50" y1="294.50" x2="43.50" y2="294.50" stroke="#262626" stroke-width="1"/>
<text transform="translate(39.00 297.64) scale(1 1.045)" font-size="9.4" text-anchor="end" stroke="#1e1e1e">0.7</text>
<line x1="40.50" y1="271.50" x2="43.50" y2="271.50" stroke="#262626" stroke-width="1"/>
<text transform="translate(39.00 274.88) scale(1 1.045)" font-size="9.4" text-anchor="end" stroke="#1e1e1e">0.8</text>
<line x1="40.50" y1="248.50" x2="43.50" y2="248.50" stroke="#262626" stroke-width="1"/>
<text transform="translate(39.00 252.12) scale(1 1.045)" font-size="9.4" text-anchor="end" stroke="#1e1e1e">0.9</text>
<line x1="40.50" y1="226.50" x2="43.50" y2="226.50" stroke="#262626" stroke-width="1"/>
<text transform="translate(39.00 229.36) scale(1 1.045)" font-size="9.4" text-anchor="end" stroke="#1e1e1e">1.0</text>
<line x1="40.50" y1="203.50" x2="43.50" y2="203.50" stroke="#262626" stroke-width="1"/>
<text transform="translate(39.00 206.60) scale(1 1.045)" font-size="9.4" text-anchor="end" stroke="#1e1e1e">1.1</text>
<line x1="43.50" y1="317.50" x2="110.00" y2="317.50" stroke="#262626" stroke-width="1"/>
<line x1="56.50" y1="317.20" x2="56.50" y2="319.70" stroke="#262626" stroke-width="1"/>
<line x1="76.50" y1="317.20" x2="76.50" y2="319.70" stroke="#262626" stroke-width="1"/>
<line x1="96.50" y1="317.20" x2="96.50" y2="319.70" stroke="#262626" stroke-width="1"/>
<line x1="56.50" y1="217.00" x2="56.50" y2="236.00" stroke="#222" stroke-width="1"/>
<line x1="53.00" y1="217.50" x2="60.00" y2="217.50" stroke="#222" stroke-width="1"/>
<line x1="53.00" y1="236.50" x2="60.00" y2="236.50" stroke="#222" stroke-width="1"/>
<line x1="49.50" y1="226.50" x2="63.50" y2="226.50" stroke="#222" stroke-width="1"/>
<circle cx="58.90" cy="212.20" r="2.35" fill="#e4e4e4" stroke="#222" stroke-width="0.9"/>
<circle cx="54.10" cy="216.50" r="2.35" fill="#e4e4e4" stroke="#222" stroke-width="0.9"/>
<circle cx="52.20" cy="229.80" r="2.35" fill="#e4e4e4" stroke="#222" stroke-width="0.9"/>
<circle cx="56.50" cy="231.90" r="2.35" fill="#e4e4e4" stroke="#222" stroke-width="0.9"/>
<circle cx="61.30" cy="232.90" r="2.35" fill="#e4e4e4" stroke="#222" stroke-width="0.9"/>
<circle cx="52.20" cy="235.00" r="2.35" fill="#e4e4e4" stroke="#222" stroke-width="0.9"/>
<circle cx="57.50" cy="234.50" r="2.35" fill="#e4e4e4" stroke="#222" stroke-width="0.9"/>
<line x1="76.50" y1="276.00" x2="76.50" y2="298.60" stroke="#333" stroke-width="1"/>
<line x1="73.20" y1="276.50" x2="80.20" y2="276.50" stroke="#333" stroke-width="1"/>
<line x1="73.20" y1="298.50" x2="80.20" y2="298.50" stroke="#333" stroke-width="1"/>
<line x1="69.90" y1="287.50" x2="83.50" y2="287.50" stroke="#333" stroke-width="1"/>
<circle cx="72.40" cy="272.70" r="2.35" fill="#c9c6e3" stroke="#222" stroke-width="0.9"/>
<circle cx="76.70" cy="274.60" r="2.35" fill="#c9c6e3" stroke="#222" stroke-width="0.9"/>
<circle cx="81.50" cy="273.50" r="2.35" fill="#c9c6e3" stroke="#222" stroke-width="0.9"/>
<circle cx="79.10" cy="283.30" r="2.35" fill="#c9c6e3" stroke="#222" stroke-width="0.9"/>
<circle cx="74.60" cy="286.20" r="2.35" fill="#c9c6e3" stroke="#222" stroke-width="0.9"/>
<circle cx="76.70" cy="300.30" r="2.35" fill="#c9c6e3" stroke="#222" stroke-width="0.9"/>
<circle cx="81.30" cy="303.20" r="2.35" fill="#c9c6e3" stroke="#222" stroke-width="0.9"/>
<circle cx="72.40" cy="305.40" r="2.35" fill="#c9c6e3" stroke="#222" stroke-width="0.9"/>
<line x1="96.50" y1="236.30" x2="96.50" y2="260.70" stroke="#666" stroke-width="1"/>
<line x1="93.40" y1="236.50" x2="100.40" y2="236.50" stroke="#666" stroke-width="1"/>
<line x1="93.40" y1="260.50" x2="100.40" y2="260.50" stroke="#666" stroke-width="1"/>
<line x1="90.10" y1="248.50" x2="103.70" y2="248.50" stroke="#666" stroke-width="1"/>
<circle cx="96.90" cy="227.60" r="2.35" fill="#e3b5d9" stroke="#222" stroke-width="0.9"/>
<circle cx="101.50" cy="240.30" r="2.35" fill="#e3b5d9" stroke="#222" stroke-width="0.9"/>
<circle cx="96.90" cy="243.70" r="2.35" fill="#e3b5d9" stroke="#222" stroke-width="0.9"/>
<circle cx="92.60" cy="249.40" r="2.35" fill="#e3b5d9" stroke="#222" stroke-width="0.9"/>
<circle cx="96.90" cy="249.20" r="2.35" fill="#e3b5d9" stroke="#222" stroke-width="0.9"/>
<circle cx="101.50" cy="250.20" r="2.35" fill="#e3b5d9" stroke="#222" stroke-width="0.9"/>
<circle cx="94.50" cy="265.50" r="2.35" fill="#e3b5d9" stroke="#222" stroke-width="0.9"/>
<circle cx="99.30" cy="263.80" r="2.35" fill="#e3b5d9" stroke="#222" stroke-width="0.9"/>
<text transform="translate(60.10 327.40) rotate(-45) scale(1 1.045)" font-size="9.5" text-anchor="end" stroke="#1e1e1e">WT Ctrl</text>
<text transform="translate(80.30 327.40) rotate(-45) scale(1 1.045)" font-size="9.5" text-anchor="end" stroke="#1e1e1e">Veh</text>
<text transform="translate(100.50 327.40) rotate(-45) scale(1 1.045)" font-size="9.5" text-anchor="end" stroke="#1e1e1e">Osi</text>
<line x1="59.40" y1="341.50" x2="99.30" y2="341.50" stroke="#5e5050" stroke-width="1"/>
<text transform="translate(79.35 354.80) scale(1 1.045)" font-size="9.4" text-anchor="middle" stroke="#1e1e1e">EPP</text>
<text transform="translate(18.80 260.30) rotate(-90) scale(1 1.045)" font-size="9.05" text-anchor="middle" stroke="#1e1e1e">Relative GAST</text>
<line x1="56.30" y1="183.30" x2="97.10" y2="183.30" stroke="#56677a" stroke-width="1.25"/>
<text transform="translate(76.70 181.40) scale(1 1.045)" font-size="6.7" text-anchor="middle" fill="#4a4444" stroke="#4a4444">p=0.0085</text>
<line x1="76.60" y1="193.30" x2="97.10" y2="193.30" stroke="#8d9cab" stroke-width="1.25"/>
<text transform="translate(86.85 191.40) scale(1 1.045)" font-size="6.7" text-anchor="middle" fill="#4a4444" stroke="#4a4444">p&lt;0.0001</text>
<line x1="56.30" y1="203.20" x2="76.90" y2="203.20" stroke="#8d9cab" stroke-width="1.25"/>
<text transform="translate(66.60 201.30) scale(1 1.045)" font-size="6.7" text-anchor="middle" fill="#4a4444" stroke="#4a4444">p&lt;0.0001</text>
<line x1="146.50" y1="204.10" x2="146.50" y2="317.20" stroke="#262626" stroke-width="1"/>
<line x1="143.70" y1="317.50" x2="146.70" y2="317.50" stroke="#262626" stroke-width="1"/>
<text transform="translate(142.20 320.40) scale(1 1.045)" font-size="9.4" text-anchor="end" stroke="#1e1e1e">0.6</text>
<line x1="143.70" y1="279.50" x2="146.70" y2="279.50" stroke="#262626" stroke-width="1"/>
<text transform="translate(142.20 282.70) scale(1 1.045)" font-size="9.4" text-anchor="end" stroke="#1e1e1e">0.8</text>
<line x1="143.70" y1="241.50" x2="146.70" y2="241.50" stroke="#262626" stroke-width="1"/>
<text transform="translate(142.20 245.00) scale(1 1.045)" font-size="9.4" text-anchor="end" stroke="#1e1e1e">1.0</text>
<line x1="143.70" y1="204.50" x2="146.70" y2="204.50" stroke="#262626" stroke-width="1"/>
<text transform="translate(142.20 207.30) scale(1 1.045)" font-size="9.4" text-anchor="end" stroke="#1e1e1e">1.2</text>
<line x1="146.70" y1="317.50" x2="212.50" y2="317.50" stroke="#262626" stroke-width="1"/>
<line x1="160.50" y1="317.20" x2="160.50" y2="319.70" stroke="#262626" stroke-width="1"/>
<line x1="180.50" y1="317.20" x2="180.50" y2="319.70" stroke="#262626" stroke-width="1"/>
<line x1="200.50" y1="317.20" x2="200.50" y2="319.70" stroke="#262626" stroke-width="1"/>
<line x1="160.50" y1="234.60" x2="160.50" y2="251.30" stroke="#222" stroke-width="1"/>
<line x1="156.50" y1="234.50" x2="163.50" y2="234.50" stroke="#222" stroke-width="1"/>
<line x1="156.50" y1="251.50" x2="163.50" y2="251.50" stroke="#222" stroke-width="1"/>
<line x1="153.20" y1="241.50" x2="166.80" y2="241.50" stroke="#222" stroke-width="1"/>
<circle cx="159.90" cy="230.20" r="2.35" fill="#e4e4e4" stroke="#222" stroke-width="0.9"/>
<circle cx="159.90" cy="235.00" r="2.35" fill="#e4e4e4" stroke="#222" stroke-width="0.9"/>
<circle cx="155.30" cy="239.20" r="2.35" fill="#e4e4e4" stroke="#222" stroke-width="0.9"/>
<circle cx="159.90" cy="239.80" r="2.35" fill="#e4e4e4" stroke="#222" stroke-width="0.9"/>
<circle cx="164.50" cy="239.40" r="2.35" fill="#e4e4e4" stroke="#222" stroke-width="0.9"/>
<circle cx="159.90" cy="246.20" r="2.35" fill="#e4e4e4" stroke="#222" stroke-width="0.9"/>
<circle cx="159.90" cy="259.00" r="2.35" fill="#e4e4e4" stroke="#222" stroke-width="0.9"/>
<line x1="180.50" y1="263.50" x2="180.50" y2="297.10" stroke="#666" stroke-width="1"/>
<line x1="176.70" y1="263.50" x2="183.70" y2="263.50" stroke="#666" stroke-width="1"/>
<line x1="176.70" y1="297.50" x2="183.70" y2="297.50" stroke="#666" stroke-width="1"/>
<line x1="173.40" y1="280.50" x2="187.00" y2="280.50" stroke="#666" stroke-width="1"/>
<circle cx="175.50" cy="260.40" r="2.35" fill="#c9c6e3" stroke="#222" stroke-width="0.9"/>
<circle cx="184.50" cy="257.10" r="2.35" fill="#c9c6e3" stroke="#222" stroke-width="0.9"/>
<circle cx="175.50" cy="278.30" r="2.35" fill="#c9c6e3" stroke="#222" stroke-width="0.9"/>
<circle cx="184.50" cy="277.30" r="2.35" fill="#c9c6e3" stroke="#222" stroke-width="0.9"/>
<circle cx="175.50" cy="285.00" r="2.35" fill="#c9c6e3" stroke="#222" stroke-width="0.9"/>
<circle cx="184.50" cy="284.60" r="2.35" fill="#c9c6e3" stroke="#222" stroke-width="0.9"/>
<circle cx="180.10" cy="289.20" r="2.35" fill="#c9c6e3" stroke="#222" stroke-width="0.9"/>
<circle cx="180.10" cy="310.00" r="2.35" fill="#c9c6e3" stroke="#222" stroke-width="0.9"/>
<line x1="200.50" y1="228.30" x2="200.50" y2="255.20" stroke="#333" stroke-width="1"/>
<line x1="196.50" y1="228.50" x2="203.50" y2="228.50" stroke="#333" stroke-width="1"/>
<line x1="196.50" y1="255.50" x2="203.50" y2="255.50" stroke="#333" stroke-width="1"/>
<line x1="193.20" y1="241.50" x2="206.80" y2="241.50" stroke="#333" stroke-width="1"/>
<circle cx="195.50" cy="222.50" r="2.35" fill="#e3b5d9" stroke="#222" stroke-width="0.9"/>
<circle cx="199.90" cy="226.30" r="2.35" fill="#e3b5d9" stroke="#222" stroke-width="0.9"/>
<circle cx="199.90" cy="233.50" r="2.35" fill="#e3b5d9" stroke="#222" stroke-width="0.9"/>
<circle cx="195.50" cy="245.20" r="2.35" fill="#e3b5d9" stroke="#222" stroke-width="0.9"/>
<circle cx="199.90" cy="246.20" r="2.35" fill="#e3b5d9" stroke="#222" stroke-width="0.9"/>
<circle cx="204.30" cy="245.20" r="2.35" fill="#e3b5d9" stroke="#222" stroke-width="0.9"/>
<circle cx="199.90" cy="252.30" r="2.35" fill="#e3b5d9" stroke="#222" stroke-width="0.9"/>
<circle cx="199.90" cy="263.50" r="2.35" fill="#e3b5d9" stroke="#222" stroke-width="0.9"/>
<text transform="translate(163.60 327.40) rotate(-45) scale(1 1.045)" font-size="9.5" text-anchor="end" stroke="#1e1e1e">WT Ctrl</text>
<text transform="translate(183.80 327.40) rotate(-45) scale(1 1.045)" font-size="9.5" text-anchor="end" stroke="#1e1e1e">Veh</text>
<text transform="translate(203.60 327.40) rotate(-45) scale(1 1.045)" font-size="9.5" text-anchor="end" stroke="#1e1e1e">Osi</text>
<line x1="162.80" y1="341.50" x2="202.70" y2="341.50" stroke="#5e5050" stroke-width="1"/>
<text transform="translate(182.75 354.80) scale(1 1.045)" font-size="9.4" text-anchor="middle" stroke="#1e1e1e">EPP</text>
<text transform="translate(121.80 260.30) rotate(-90) scale(1 1.045)" font-size="9.05" text-anchor="middle" stroke="#1e1e1e">Relative TA</text>
<line x1="159.70" y1="183.20" x2="200.30" y2="183.20" stroke="#56677a" stroke-width="1.25"/>
<text transform="translate(180.00 181.30) scale(1 1.045)" font-size="6.7" text-anchor="middle" fill="#4a4444" stroke="#4a4444">p=0.9997</text>
<line x1="180.30" y1="193.10" x2="200.30" y2="193.10" stroke="#8d9cab" stroke-width="1.25"/>
<text transform="translate(190.30 191.20) scale(1 1.045)" font-size="6.7" text-anchor="middle" fill="#4a4444" stroke="#4a4444">p&lt;0.0001</text>
<line x1="159.70" y1="203.10" x2="180.30" y2="203.10" stroke="#8d9cab" stroke-width="1.25"/>
<text transform="translate(170.00 201.20) scale(1 1.045)" font-size="6.7" text-anchor="middle" fill="#4a4444" stroke="#4a4444">p=0.0002</text>
<line x1="249.50" y1="203.30" x2="249.50" y2="317.20" stroke="#262626" stroke-width="1"/>
<line x1="246.40" y1="317.50" x2="249.40" y2="317.50" stroke="#262626" stroke-width="1"/>
<text transform="translate(244.90 320.40) scale(1 1.045)" font-size="9.4" text-anchor="end" stroke="#1e1e1e">0.4</text>
<line x1="246.40" y1="288.50" x2="249.40" y2="288.50" stroke="#262626" stroke-width="1"/>
<text transform="translate(244.90 291.93) scale(1 1.045)" font-size="9.4" text-anchor="end" stroke="#1e1e1e">0.6</text>
<line x1="246.40" y1="260.50" x2="249.40" y2="260.50" stroke="#262626" stroke-width="1"/>
<text transform="translate(244.90 263.45) scale(1 1.045)" font-size="9.4" text-anchor="end" stroke="#1e1e1e">0.8</text>
<line x1="246.40" y1="231.50" x2="249.40" y2="231.50" stroke="#262626" stroke-width="1"/>
<text transform="translate(244.90 234.97) scale(1 1.045)" font-size="9.4" text-anchor="end" stroke="#1e1e1e">1.0</text>
<line x1="246.40" y1="203.50" x2="249.40" y2="203.50" stroke="#262626" stroke-width="1"/>
<text transform="translate(244.90 206.50) scale(1 1.045)" font-size="9.4" text-anchor="end" stroke="#1e1e1e">1.2</text>
<line x1="249.40" y1="317.50" x2="316.80" y2="317.50" stroke="#262626" stroke-width="1"/>
<line x1="262.50" y1="317.20" x2="262.50" y2="319.70" stroke="#262626" stroke-width="1"/>
<line x1="283.50" y1="317.20" x2="283.50" y2="319.70" stroke="#262626" stroke-width="1"/>
<line x1="303.50" y1="317.20" x2="303.50" y2="319.70" stroke="#262626" stroke-width="1"/>
<line x1="262.50" y1="225.40" x2="262.50" y2="238.50" stroke="#222" stroke-width="1"/>
<line x1="259.40" y1="225.50" x2="266.40" y2="225.50" stroke="#222" stroke-width="1"/>
<line x1="259.40" y1="238.50" x2="266.40" y2="238.50" stroke="#222" stroke-width="1"/>
<line x1="256.10" y1="232.50" x2="269.70" y2="232.50" stroke="#222" stroke-width="1"/>
<circle cx="267.30" cy="223.80" r="2.35" fill="#e4e4e4" stroke="#222" stroke-width="0.9"/>
<circle cx="262.90" cy="227.70" r="2.35" fill="#e4e4e4" stroke="#222" stroke-width="0.9"/>
<circle cx="258.70" cy="230.20" r="2.35" fill="#e4e4e4" stroke="#222" stroke-width="0.9"/>
<circle cx="267.30" cy="232.50" r="2.35" fill="#e4e4e4" stroke="#222" stroke-width="0.9"/>
<circle cx="262.90" cy="236.00" r="2.35" fill="#e4e4e4" stroke="#222" stroke-width="0.9"/>
<circle cx="262.90" cy="241.70" r="2.35" fill="#e4e4e4" stroke="#222" stroke-width="0.9"/>
<line x1="283.50" y1="240.00" x2="283.50" y2="271.20" stroke="#222" stroke-width="1"/>
<line x1="279.80" y1="240.50" x2="286.80" y2="240.50" stroke="#222" stroke-width="1"/>
<line x1="279.80" y1="271.50" x2="286.80" y2="271.50" stroke="#222" stroke-width="1"/>
<line x1="276.50" y1="255.50" x2="290.10" y2="255.50" stroke="#222" stroke-width="1"/>
<circle cx="278.80" cy="239.20" r="2.35" fill="#c9c6e3" stroke="#222" stroke-width="0.9"/>
<circle cx="287.90" cy="239.40" r="2.35" fill="#c9c6e3" stroke="#222" stroke-width="0.9"/>
<circle cx="283.30" cy="243.70" r="2.35" fill="#c9c6e3" stroke="#222" stroke-width="0.9"/>
<circle cx="283.30" cy="252.70" r="2.35" fill="#c9c6e3" stroke="#222" stroke-width="0.9"/>
<circle cx="278.80" cy="256.50" r="2.35" fill="#c9c6e3" stroke="#222" stroke-width="0.9"/>
<circle cx="287.90" cy="258.10" r="2.35" fill="#c9c6e3" stroke="#222" stroke-width="0.9"/>
<circle cx="283.30" cy="265.20" r="2.35" fill="#c9c6e3" stroke="#222" stroke-width="0.9"/>
<circle cx="283.30" cy="286.50" r="2.35" fill="#c9c6e3" stroke="#222" stroke-width="0.9"/>
<line x1="303.50" y1="215.80" x2="303.50" y2="237.00" stroke="#222" stroke-width="1"/>
<line x1="299.90" y1="215.50" x2="306.90" y2="215.50" stroke="#222" stroke-width="1"/>
<line x1="299.90" y1="237.50" x2="306.90" y2="237.50" stroke="#222" stroke-width="1"/>
<line x1="296.60" y1="226.50" x2="310.20" y2="226.50" stroke="#222" stroke-width="1"/>
<circle cx="303.30" cy="211.00" r="2.35" fill="#e3b5d9" stroke="#222" stroke-width="0.9"/>
<circle cx="303.30" cy="218.10" r="2.35" fill="#e3b5d9" stroke="#222" stroke-width="0.9"/>
<circle cx="298.70" cy="219.20" r="2.35" fill="#e3b5d9" stroke="#222" stroke-width="0.9"/>
<circle cx="307.70" cy="220.60" r="2.35" fill="#e3b5d9" stroke="#222" stroke-width="0.9"/>
<circle cx="307.70" cy="226.30" r="2.35" fill="#e3b5d9" stroke="#222" stroke-width="0.9"/>
<circle cx="303.30" cy="230.20" r="2.35" fill="#e3b5d9" stroke="#222" stroke-width="0.9"/>
<circle cx="303.30" cy="238.50" r="2.35" fill="#e3b5d9" stroke="#222" stroke-width="0.9"/>
<circle cx="303.30" cy="243.70" r="2.35" fill="#e3b5d9" stroke="#222" stroke-width="0.9"/>
<text transform="translate(266.50 327.40) rotate(-45) scale(1 1.045)" font-size="9.5" text-anchor="end" stroke="#1e1e1e">WT Ctrl</text>
<text transform="translate(286.90 327.40) rotate(-45) scale(1 1.045)" font-size="9.5" text-anchor="end" stroke="#1e1e1e">Veh</text>
<text transform="translate(307.00 327.40) rotate(-45) scale(1 1.045)" font-size="9.5" text-anchor="end" stroke="#1e1e1e">Osi</text>
<line x1="266.00" y1="341.50" x2="306.50" y2="341.50" stroke="#5e5050" stroke-width="1"/>
<text transform="translate(286.25 354.80) scale(1 1.045)" font-size="9.4" text-anchor="middle" stroke="#1e1e1e">EPP</text>
<text transform="translate(224.50 260.30) rotate(-90) scale(1 1.045)" font-size="9.05" text-anchor="middle" stroke="#1e1e1e">Relative QUAD</text>
<line x1="263.00" y1="183.20" x2="303.50" y2="183.20" stroke="#56677a" stroke-width="1.25"/>
<text transform="translate(283.25 181.30) scale(1 1.045)" font-size="6.7" text-anchor="middle" fill="#4a4444" stroke="#4a4444">p=0.6310</text>
<line x1="283.40" y1="193.10" x2="303.50" y2="193.10" stroke="#8d9cab" stroke-width="1.25"/>
<text transform="translate(293.45 191.20) scale(1 1.045)" font-size="6.7" text-anchor="middle" fill="#4a4444" stroke="#4a4444">p=0.0003</text>
<line x1="263.00" y1="203.10" x2="283.40" y2="203.10" stroke="#8d9cab" stroke-width="1.25"/>
<text transform="translate(273.20 201.20) scale(1 1.045)" font-size="6.7" text-anchor="middle" fill="#4a4444" stroke="#4a4444">p=0.0056</text>
<line x1="361.50" y1="203.10" x2="361.50" y2="317.20" stroke="#262626" stroke-width="1"/>
<line x1="358.20" y1="317.50" x2="361.20" y2="317.50" stroke="#262626" stroke-width="1"/>
<text transform="translate(356.70 320.40) scale(1 1.045)" font-size="9.4" text-anchor="end" stroke="#1e1e1e">0.0</text>
<line x1="358.20" y1="294.50" x2="361.20" y2="294.50" stroke="#262626" stroke-width="1"/>
<text transform="translate(356.70 297.58) scale(1 1.045)" font-size="9.4" text-anchor="end" stroke="#1e1e1e">0.5</text>
<line x1="358.20" y1="271.50" x2="361.20" y2="271.50" stroke="#262626" stroke-width="1"/>
<text transform="translate(356.70 274.76) scale(1 1.045)" font-size="9.4" text-anchor="end" stroke="#1e1e1e">1.0</text>
<line x1="358.20" y1="248.50" x2="361.20" y2="248.50" stroke="#262626" stroke-width="1"/>
<text transform="translate(356.70 251.94) scale(1 1.045)" font-size="9.4" text-anchor="end" stroke="#1e1e1e">1.5</text>
<line x1="358.20" y1="225.50" x2="361.20" y2="225.50" stroke="#262626" stroke-width="1"/>
<text transform="translate(356.70 229.12) scale(1 1.045)" font-size="9.4" text-anchor="end" stroke="#1e1e1e">2.0</text>
<line x1="358.20" y1="203.50" x2="361.20" y2="203.50" stroke="#262626" stroke-width="1"/>
<text transform="translate(356.70 206.30) scale(1 1.045)" font-size="9.4" text-anchor="end" stroke="#1e1e1e">2.5</text>
<line x1="361.20" y1="317.50" x2="428.70" y2="317.50" stroke="#262626" stroke-width="1"/>
<line x1="374.50" y1="317.20" x2="374.50" y2="319.70" stroke="#262626" stroke-width="1"/>
<line x1="394.50" y1="317.20" x2="394.50" y2="319.70" stroke="#262626" stroke-width="1"/>
<line x1="415.50" y1="317.20" x2="415.50" y2="319.70" stroke="#262626" stroke-width="1"/>
<line x1="374.50" y1="257.50" x2="374.50" y2="283.50" stroke="#222" stroke-width="1"/>
<line x1="371.20" y1="257.50" x2="378.20" y2="257.50" stroke="#222" stroke-width="1"/>
<line x1="371.20" y1="283.50" x2="378.20" y2="283.50" stroke="#222" stroke-width="1"/>
<line x1="367.90" y1="271.50" x2="381.50" y2="271.50" stroke="#222" stroke-width="1"/>
<circle cx="370.00" cy="253.30" r="2.35" fill="#e4e4e4" stroke="#222" stroke-width="0.9"/>
<circle cx="374.70" cy="257.70" r="2.35" fill="#e4e4e4" stroke="#222" stroke-width="0.9"/>
<circle cx="370.00" cy="276.40" r="2.35" fill="#e4e4e4" stroke="#222" stroke-width="0.9"/>
<circle cx="374.70" cy="276.40" r="2.35" fill="#e4e4e4" stroke="#222" stroke-width="0.9"/>
<circle cx="379.10" cy="280.50" r="2.35" fill="#e4e4e4" stroke="#222" stroke-width="0.9"/>
<circle cx="370.00" cy="284.10" r="2.35" fill="#e4e4e4" stroke="#222" stroke-width="0.9"/>
<line x1="394.50" y1="304.00" x2="394.50" y2="315.00" stroke="#222" stroke-width="1"/>
<line x1="391.40" y1="304.50" x2="398.40" y2="304.50" stroke="#222" stroke-width="1"/>
<line x1="391.40" y1="315.50" x2="398.40" y2="315.50" stroke="#222" stroke-width="1"/>
<line x1="388.10" y1="309.50" x2="401.70" y2="309.50" stroke="#222" stroke-width="1"/>
<circle cx="392.20" cy="302.60" r="2.35" fill="#c9c6e3" stroke="#222" stroke-width="0.9"/>
<circle cx="397.20" cy="305.60" r="2.35" fill="#c9c6e3" stroke="#222" stroke-width="0.9"/>
<circle cx="392.20" cy="310.00" r="2.35" fill="#c9c6e3" stroke="#222" stroke-width="0.9"/>
<circle cx="397.20" cy="310.60" r="2.35" fill="#c9c6e3" stroke="#222" stroke-width="0.9"/>
<circle cx="390.20" cy="314.70" r="2.35" fill="#c9c6e3" stroke="#222" stroke-width="0.9"/>
<circle cx="394.80" cy="314.70" r="2.35" fill="#c9c6e3" stroke="#222" stroke-width="0.9"/>
<circle cx="399.20" cy="314.70" r="2.35" fill="#c9c6e3" stroke="#222" stroke-width="0.9"/>
<line x1="415.50" y1="245.80" x2="415.50" y2="287.50" stroke="#222" stroke-width="1"/>
<line x1="411.60" y1="245.50" x2="418.60" y2="245.50" stroke="#222" stroke-width="1"/>
<line x1="411.60" y1="287.50" x2="418.60" y2="287.50" stroke="#222" stroke-width="1"/>
<line x1="408.30" y1="266.50" x2="421.90" y2="266.50" stroke="#222" stroke-width="1"/>
<circle cx="415.30" cy="227.10" r="2.35" fill="#e3b5d9" stroke="#222" stroke-width="0.9"/>
<circle cx="415.30" cy="247.30" r="2.35" fill="#e3b5d9" stroke="#222" stroke-width="0.9"/>
<circle cx="420.00" cy="265.40" r="2.35" fill="#e3b5d9" stroke="#222" stroke-width="0.9"/>
<circle cx="415.30" cy="269.80" r="2.35" fill="#e3b5d9" stroke="#222" stroke-width="0.9"/>
<circle cx="410.90" cy="272.40" r="2.35" fill="#e3b5d9" stroke="#222" stroke-width="0.9"/>
<circle cx="420.00" cy="273.40" r="2.35" fill="#e3b5d9" stroke="#222" stroke-width="0.9"/>
<circle cx="415.30" cy="283.10" r="2.35" fill="#e3b5d9" stroke="#222" stroke-width="0.9"/>
<circle cx="415.30" cy="292.90" r="2.35" fill="#e3b5d9" stroke="#222" stroke-width="0.9"/>
<text transform="translate(378.30 327.40) rotate(-45) scale(1 1.045)" font-size="9.5" text-anchor="end" stroke="#1e1e1e">WT Ctrl</text>
<text transform="translate(398.50 327.40) rotate(-45) scale(1 1.045)" font-size="9.5" text-anchor="end" stroke="#1e1e1e">Veh</text>
<text transform="translate(418.70 327.40) rotate(-45) scale(1 1.045)" font-size="9.5" text-anchor="end" stroke="#1e1e1e">Osi</text>
<line x1="377.90" y1="341.50" x2="417.50" y2="341.50" stroke="#5e5050" stroke-width="1"/>
<text transform="translate(397.70 354.80) scale(1 1.045)" font-size="9.4" text-anchor="middle" stroke="#1e1e1e">EPP</text>
<text transform="translate(336.00 260.30) rotate(-90) scale(1 1.045)" font-size="9.05" text-anchor="middle" stroke="#1e1e1e">Relative WAT</text>
<line x1="374.80" y1="183.20" x2="415.30" y2="183.20" stroke="#56677a" stroke-width="1.25"/>
<text transform="translate(395.05 181.30) scale(1 1.045)" font-size="6.7" text-anchor="middle" fill="#4a4444" stroke="#4a4444">p=0.8030</text>
<line x1="394.80" y1="193.00" x2="415.30" y2="193.00" stroke="#8d9cab" stroke-width="1.25"/>
<text transform="translate(405.05 191.10) scale(1 1.045)" font-size="6.7" text-anchor="middle" fill="#4a4444" stroke="#4a4444">p&lt;0.0001</text>
<line x1="374.80" y1="203.10" x2="394.80" y2="203.10" stroke="#8d9cab" stroke-width="1.25"/>
<text transform="translate(384.80 201.20) scale(1 1.045)" font-size="6.7" text-anchor="middle" fill="#4a4444" stroke="#4a4444">p=0.0003</text>
<g filter="url(#lb)">
<rect x="467.90" y="214.20" width="44.50" height="33.70" fill="#c088c4"/>
<path d="M469.1,214.4 469.3,214.2 467.9,214.2 467.9,214.9Z" fill="#eaa8d6" stroke="#a878bc" stroke-width="0.35"/>
<path d="M469.1,214.4 467.9,214.9 467.9,218.8 469.7,218.6 470.2,217.7Z" fill="#eaa8d6" stroke="#a878bc" stroke-width="0.35"/>
<path d="M468.9,223.2 469.4,222.5 467.9,220.6 467.9,223.7Z" fill="#dc92c8" stroke="#a878bc" stroke-width="0.35"/>
<path d="M467.9,227.0 470.6,226.9 470.9,226.3 468.9,223.2 467.9,223.7 467.9,227.0Z" fill="#dc92c8" stroke="#a878bc" stroke-width="0.35"/>
<path d="M467.9,227.0 467.9,227.0 467.9,227.1Z" fill="#e4a2d2" stroke="#a878bc" stroke-width="0.35"/>
<path d="M468.7,231.1 468.7,231.1 467.9,229.8 467.9,231.3Z" fill="#e8aad6" stroke="#a878bc" stroke-width="0.35"/>
<path d="M468.9,234.1 468.7,231.1 467.9,231.3 467.9,235.1Z" fill="#e099cc" stroke="#a878bc" stroke-width="0.35"/>
<path d="M468.5,237.0 467.9,236.0 467.9,238.8 467.9,238.8Z" fill="#dc92c8" stroke="#a878bc" stroke-width="0.35"/>
<path d="M467.9,238.8 467.9,238.8 467.9,241.6 469.7,241.8 470.5,240.7 470.4,240.6Z" fill="#e4a2d2" stroke="#a878bc" stroke-width="0.35"/>
<path d="M469.7,243.3 469.7,241.8 467.9,241.6 467.9,244.3Z" fill="#e59cd0" stroke="#a878bc" stroke-width="0.35"/>
<path d="M469.6,247.6 467.9,246.3 467.9,247.9 469.5,247.9Z" fill="#e8aad6" stroke="#a878bc" stroke-width="0.35"/>
<path d="M469.1,214.4 470.2,217.7 472.1,217.2 471.6,214.2 469.3,214.2Z" fill="#e099cc" stroke="#a878bc" stroke-width="0.35"/>
<path d="M470.2,217.7 469.7,218.6 471.1,220.7 472.7,220.3 473.1,217.6 472.1,217.2Z" fill="#e4a2d2" stroke="#a878bc" stroke-width="0.35"/>
<path d="M469.4,222.5 470.4,222.1 471.1,220.7 469.7,218.6 467.9,218.8 467.9,220.6Z" fill="#f2c0e2" stroke="#a878bc" stroke-width="0.35"/>
<path d="M470.9,226.3 473.0,224.7 473.1,224.3 470.4,222.1 469.4,222.5 468.9,223.2Z" fill="#eeb4dc" stroke="#a878bc" stroke-width="0.35"/>
<path d="M467.9,227.1 467.9,229.8 468.7,231.1 470.3,230.6 471.3,228.6 470.6,226.9 467.9,227.0Z" fill="#f2c0e2" stroke="#a878bc" stroke-width="0.35"/>
<path d="M472.6,232.8 473.3,232.7 474.6,230.0 474.3,229.0 471.3,228.6 470.3,230.6Z" fill="#eaa8d6" stroke="#a878bc" stroke-width="0.35"/>
<path d="M472.6,232.8 470.3,230.6 468.7,231.1 468.7,231.1 468.9,234.1 471.4,234.5Z" fill="#eeb4dc" stroke="#a878bc" stroke-width="0.35"/>
<path d="M468.5,237.0 470.8,237.3 471.9,236.6 471.4,234.5 468.9,234.1 467.9,235.1 467.9,236.0Z" fill="#e59cd0" stroke="#a878bc" stroke-width="0.35"/>
<path d="M470.8,237.3 468.5,237.0 467.9,238.8 470.4,240.6Z" fill="#e099cc" stroke="#a878bc" stroke-width="0.35"/>
<path d="M469.7,241.8 469.7,243.3 470.8,244.4 473.5,243.5 473.8,242.0 472.8,240.8 470.5,240.7Z" fill="#dc92c8" stroke="#a878bc" stroke-width="0.35"/>
<path d="M469.6,247.6 470.8,246.8 470.8,244.4 469.7,243.3 467.9,244.3 467.9,246.3Z" fill="#eeb4dc" stroke="#a878bc" stroke-width="0.35"/>
<path d="M473.2,247.2 470.8,246.8 469.6,247.6 469.5,247.9 473.4,247.9Z" fill="#e8aad6" stroke="#a878bc" stroke-width="0.35"/>
<path d="M474.4,214.4 474.6,214.2 473.7,214.2Z" fill="#e8aad6" stroke="#a878bc" stroke-width="0.35"/>
<path d="M472.1,217.2 473.1,217.6 474.7,217.0 474.4,214.4 473.7,214.2 471.6,214.2Z" fill="#dc92c8" stroke="#a878bc" stroke-width="0.35"/>
<path d="M472.7,220.3 474.2,221.1 476.1,219.3 475.7,217.5 474.7,217.0 473.1,217.6Z" fill="#eeb4dc" stroke="#a878bc" stroke-width="0.35"/>
<path d="M474.2,221.1 472.7,220.3 471.1,220.7 470.4,222.1 473.1,224.3 474.5,223.2 474.6,223.0Z" fill="#e8aad6" stroke="#a878bc" stroke-width="0.35"/>
<path d="M473.1,224.3 473.0,224.7 475.2,227.7 476.1,227.4 476.8,225.3 474.5,223.2Z" fill="#e099cc" stroke="#a878bc" stroke-width="0.35"/>
<path d="M471.3,228.6 474.3,229.0 475.2,227.7 473.0,224.7 470.9,226.3 470.6,226.9Z" fill="#f2c0e2" stroke="#a878bc" stroke-width="0.35"/>
<path d="M477.5,232.4 477.7,231.6 474.6,230.0 473.3,232.7 475.1,233.9Z" fill="#eeb4dc" stroke="#a878bc" stroke-width="0.35"/>
<path d="M475.1,233.9 473.3,232.7 472.6,232.8 471.4,234.5 471.9,236.6 473.8,237.4 475.2,234.4Z" fill="#eaa8d6" stroke="#a878bc" stroke-width="0.35"/>
<path d="M475.2,234.4 473.8,237.4 473.9,237.5 476.0,238.2 478.0,236.3Z" fill="#eaa8d6" stroke="#a878bc" stroke-width="0.35"/>
<path d="M470.5,240.7 472.8,240.8 473.9,237.5 473.8,237.4 471.9,236.6 470.8,237.3 470.4,240.6Z" fill="#dc92c8" stroke="#a878bc" stroke-width="0.35"/>
<path d="M476.3,245.5 477.4,243.1 476.1,241.5 473.8,242.0 473.5,243.5 474.5,245.4Z" fill="#f2c0e2" stroke="#a878bc" stroke-width="0.35"/>
<path d="M473.5,243.5 470.8,244.4 470.8,246.8 473.2,247.2 474.5,245.4Z" fill="#e4a2d2" stroke="#a878bc" stroke-width="0.35"/>
<path d="M477.5,247.0 476.3,245.5 474.5,245.4 473.2,247.2 473.4,247.9 477.2,247.9Z" fill="#eaa8d6" stroke="#a878bc" stroke-width="0.35"/>
<path d="M474.4,214.4 474.7,217.0 475.7,217.5 477.8,216.2 477.7,214.2 474.6,214.2Z" fill="#e59cd0" stroke="#a878bc" stroke-width="0.35"/>
<path d="M479.5,219.2 479.8,217.3 477.8,216.2 475.7,217.5 476.1,219.3 477.8,220.2Z" fill="#e8aad6" stroke="#a878bc" stroke-width="0.35"/>
<path d="M477.9,222.1 477.8,220.2 476.1,219.3 474.2,221.1 474.6,223.0Z" fill="#dc92c8" stroke="#a878bc" stroke-width="0.35"/>
<path d="M477.9,222.1 474.6,223.0 474.5,223.2 476.8,225.3 478.6,224.5 478.9,223.1Z" fill="#f2c0e2" stroke="#a878bc" stroke-width="0.35"/>
<path d="M478.6,224.5 476.8,225.3 476.1,227.4 478.1,228.3 480.2,226.5Z" fill="#e099cc" stroke="#a878bc" stroke-width="0.35"/>
<path d="M476.1,227.4 475.2,227.7 474.3,229.0 474.6,230.0 477.7,231.6 478.8,230.7 478.1,228.3Z" fill="#e59cd0" stroke="#a878bc" stroke-width="0.35"/>
<path d="M477.5,232.4 475.1,233.9 475.2,234.4 478.0,236.3 478.3,236.2 479.2,235.4Z" fill="#e8aad6" stroke="#a878bc" stroke-width="0.35"/>
<path d="M478.3,236.2 479.6,239.7 479.9,239.8 480.9,239.6 481.5,238.7 480.0,235.3 479.2,235.4Z" fill="#f2c0e2" stroke="#a878bc" stroke-width="0.35"/>
<path d="M476.8,239.9 476.0,238.2 473.9,237.5 472.8,240.8 473.8,242.0 476.1,241.5Z" fill="#e099cc" stroke="#a878bc" stroke-width="0.35"/>
<path d="M476.8,239.9 476.1,241.5 477.4,243.1 479.5,243.1 479.9,239.8 479.6,239.7Z" fill="#e4a2d2" stroke="#a878bc" stroke-width="0.35"/>
<path d="M479.5,246.5 480.1,243.7 479.5,243.1 477.4,243.1 476.3,245.5 477.5,247.0Z" fill="#eaa8d6" stroke="#a878bc" stroke-width="0.35"/>
<path d="M480.4,247.2 479.5,246.5 477.5,247.0 477.2,247.9 480.6,247.9Z" fill="#dc92c8" stroke="#a878bc" stroke-width="0.35"/>
<path d="M481.4,215.0 483.6,214.4 483.6,214.2 480.7,214.2Z" fill="#eeb4dc" stroke="#a878bc" stroke-width="0.35"/>
<path d="M477.8,216.2 479.8,217.3 480.7,216.8 481.4,215.0 480.7,214.2 477.7,214.2Z" fill="#e4a2d2" stroke="#a878bc" stroke-width="0.35"/>
<path d="M481.7,220.8 483.3,219.5 483.3,218.2 480.7,216.8 479.8,217.3 479.5,219.2Z" fill="#e8aad6" stroke="#a878bc" stroke-width="0.35"/>
<path d="M481.7,220.8 479.5,219.2 477.8,220.2 477.9,222.1 478.9,223.1 481.6,222.3Z" fill="#e59cd0" stroke="#a878bc" stroke-width="0.35"/>
<path d="M478.9,223.1 478.6,224.5 480.2,226.5 481.5,226.6 482.5,223.2 481.6,222.3Z" fill="#e4a2d2" stroke="#a878bc" stroke-width="0.35"/>
<path d="M478.1,228.3 478.8,230.7 479.9,230.9 482.2,229.1 482.3,227.4 481.5,226.6 480.2,226.5Z" fill="#eaa8d6" stroke="#a878bc" stroke-width="0.35"/>
<path d="M483.6,230.5 482.2,229.1 479.9,230.9 481.7,233.5 483.8,232.3Z" fill="#e59cd0" stroke="#a878bc" stroke-width="0.35"/>
<path d="M481.7,233.5 479.9,230.9 478.8,230.7 477.7,231.6 477.5,232.4 479.2,235.4 480.0,235.3 481.5,234.4Z" fill="#eeb4dc" stroke="#a878bc" stroke-width="0.35"/>
<path d="M481.5,234.4 480.0,235.3 481.5,238.7 483.2,238.0 482.9,235.5Z" fill="#e8aad6" stroke="#a878bc" stroke-width="0.35"/>
<path d="M478.3,236.2 478.0,236.3 476.0,238.2 476.8,239.9 479.6,239.7Z" fill="#e099cc" stroke="#a878bc" stroke-width="0.35"/>
<path d="M479.5,243.1 480.1,243.7 482.3,243.6 482.8,243.2 483.1,241.8 480.9,239.6 479.9,239.8Z" fill="#e8aad6" stroke="#a878bc" stroke-width="0.35"/>
<path d="M482.9,246.1 482.3,243.6 480.1,243.7 479.5,246.5 480.4,247.2Z" fill="#e099cc" stroke="#a878bc" stroke-width="0.35"/>
<path d="M480.6,247.9 483.4,247.9 484.2,246.9 482.9,246.1 480.4,247.2Z" fill="#dc92c8" stroke="#a878bc" stroke-width="0.35"/>
<path d="M483.6,214.4 484.4,214.7 485.7,214.2 483.6,214.2Z" fill="#e099cc" stroke="#a878bc" stroke-width="0.35"/>
<path d="M484.4,214.7 483.6,214.4 481.4,215.0 480.7,216.8 483.3,218.2 484.6,216.9Z" fill="#dc92c8" stroke="#a878bc" stroke-width="0.35"/>
<path d="M487.3,219.0 487.3,218.1 484.6,216.9 483.3,218.2 483.3,219.5 485.2,220.5Z" fill="#e4a2d2" stroke="#a878bc" stroke-width="0.35"/>
<path d="M482.5,223.2 485.4,223.4 485.2,220.5 483.3,219.5 481.7,220.8 481.6,222.3Z" fill="#e4a2d2" stroke="#a878bc" stroke-width="0.35"/>
<path d="M481.5,226.6 482.3,227.4 484.2,227.0 485.6,225.6 485.5,223.4 485.4,223.4 482.5,223.2Z" fill="#eeb4dc" stroke="#a878bc" stroke-width="0.35"/>
<path d="M484.2,227.0 482.3,227.4 482.2,229.1 483.6,230.5 486.1,229.5Z" fill="#e4a2d2" stroke="#a878bc" stroke-width="0.35"/>
<path d="M487.1,231.8 487.2,229.7 486.1,229.5 483.6,230.5 483.8,232.3 485.4,233.0Z" fill="#e8aad6" stroke="#a878bc" stroke-width="0.35"/>
<path d="M485.4,233.0 483.8,232.3 481.7,233.5 481.5,234.4 482.9,235.5 485.7,235.0Z" fill="#e099cc" stroke="#a878bc" stroke-width="0.35"/>
<path d="M482.9,235.5 483.2,238.0 484.1,238.3 486.2,237.2 486.4,235.8 485.7,235.0Z" fill="#f2c0e2" stroke="#a878bc" stroke-width="0.35"/>
<path d="M481.5,238.7 480.9,239.6 483.1,241.8 484.7,240.7 484.1,238.3 483.2,238.0Z" fill="#eeb4dc" stroke="#a878bc" stroke-width="0.35"/>
<path d="M486.6,241.3 484.7,240.7 483.1,241.8 482.8,243.2 485.7,244.1 486.8,241.5Z" fill="#eaa8d6" stroke="#a878bc" stroke-width="0.35"/>
<path d="M485.7,244.1 482.8,243.2 482.3,243.6 482.9,246.1 484.2,246.9 485.2,247.0 486.2,245.5Z" fill="#f2c0e2" stroke="#a878bc" stroke-width="0.35"/>
<path d="M485.2,247.0 484.2,246.9 483.4,247.9 485.6,247.9Z" fill="#dc92c8" stroke="#a878bc" stroke-width="0.35"/>
<path d="M487.5,214.8 488.3,214.2 486.1,214.2Z" fill="#f2c0e2" stroke="#a878bc" stroke-width="0.35"/>
<path d="M484.4,214.7 484.6,216.9 487.3,218.1 488.1,216.9 487.5,214.8 486.1,214.2 485.7,214.2Z" fill="#eeb4dc" stroke="#a878bc" stroke-width="0.35"/>
<path d="M488.1,216.9 487.3,218.1 487.3,219.0 488.8,220.4 490.4,220.3 491.6,216.7Z" fill="#e099cc" stroke="#a878bc" stroke-width="0.35"/>
<path d="M485.4,223.4 485.5,223.4 487.9,223.0 488.8,220.4 487.3,219.0 485.2,220.5Z" fill="#e4a2d2" stroke="#a878bc" stroke-width="0.35"/>
<path d="M489.7,226.1 489.7,224.4 487.9,223.0 485.5,223.4 485.6,225.6 488.4,227.3Z" fill="#dc92c8" stroke="#a878bc" stroke-width="0.35"/>
<path d="M487.2,229.7 488.1,229.0 488.4,227.3 485.6,225.6 484.2,227.0 486.1,229.5Z" fill="#e59cd0" stroke="#a878bc" stroke-width="0.35"/>
<path d="M487.1,231.8 489.1,233.2 491.4,231.1 491.1,230.5 488.1,229.0 487.2,229.7Z" fill="#e4a2d2" stroke="#a878bc" stroke-width="0.35"/>
<path d="M486.4,235.8 489.3,235.0 489.1,233.2 487.1,231.8 485.4,233.0 485.7,235.0Z" fill="#e8aad6" stroke="#a878bc" stroke-width="0.35"/>
<path d="M486.2,237.2 487.4,238.7 489.8,238.5 490.4,237.2 490.0,235.5 489.3,235.0 486.4,235.8Z" fill="#eeb4dc" stroke="#a878bc" stroke-width="0.35"/>
<path d="M484.1,238.3 484.7,240.7 486.6,241.3 487.4,238.7 486.2,237.2Z" fill="#f2c0e2" stroke="#a878bc" stroke-width="0.35"/>
<path d="M492.8,241.0 490.2,239.3 488.6,242.1 489.2,242.7 492.7,241.4Z" fill="#e8aad6" stroke="#a878bc" stroke-width="0.35"/>
<path d="M488.6,242.1 486.8,241.5 485.7,244.1 486.2,245.5 488.9,245.4 489.4,244.3 489.2,242.7Z" fill="#e59cd0" stroke="#a878bc" stroke-width="0.35"/>
<path d="M488.9,245.4 486.2,245.5 485.2,247.0 485.6,247.9 489.2,247.9 489.6,246.9Z" fill="#f2c0e2" stroke="#a878bc" stroke-width="0.35"/>
<path d="M491.7,216.1 493.0,214.3 493.0,214.2 490.3,214.2Z" fill="#f2c0e2" stroke="#a878bc" stroke-width="0.35"/>
<path d="M487.5,214.8 488.1,216.9 491.6,216.7 491.7,216.7 491.7,216.1 490.3,214.2 488.3,214.2Z" fill="#e4a2d2" stroke="#a878bc" stroke-width="0.35"/>
<path d="M491.6,216.7 490.4,220.3 491.3,221.1 493.8,220.5 492.7,217.2 491.7,216.7Z" fill="#e099cc" stroke="#a878bc" stroke-width="0.35"/>
<path d="M490.4,220.3 488.8,220.4 487.9,223.0 489.7,224.4 491.4,223.2 491.3,221.1Z" fill="#e59cd0" stroke="#a878bc" stroke-width="0.35"/>
<path d="M493.8,224.2 491.4,223.2 489.7,224.4 489.7,226.1 492.3,227.1Z" fill="#dc92c8" stroke="#a878bc" stroke-width="0.35"/>
<path d="M489.7,226.1 488.4,227.3 488.1,229.0 491.1,230.5 492.6,227.6 492.3,227.1Z" fill="#e4a2d2" stroke="#a878bc" stroke-width="0.35"/>
<path d="M491.1,230.5 491.4,231.1 492.7,231.9 495.3,229.4 494.9,228.4 492.6,227.6Z" fill="#e59cd0" stroke="#a878bc" stroke-width="0.35"/>
<path d="M492.7,231.9 491.4,231.1 489.1,233.2 489.3,235.0 490.0,235.5 492.4,234.4 492.8,232.1Z" fill="#e8aad6" stroke="#a878bc" stroke-width="0.35"/>
<path d="M490.0,235.5 490.4,237.2 493.7,237.6 494.4,236.8 494.2,235.9 492.4,234.4Z" fill="#f2c0e2" stroke="#a878bc" stroke-width="0.35"/>
<path d="M489.8,238.5 487.4,238.7 486.6,241.3 486.8,241.5 488.6,242.1 490.2,239.3Z" fill="#e099cc" stroke="#a878bc" stroke-width="0.35"/>
<path d="M489.2,242.7 489.4,244.3 492.7,244.3 493.4,243.7 492.7,241.4Z" fill="#dc92c8" stroke="#a878bc" stroke-width="0.35"/>
<path d="M489.4,244.3 488.9,245.4 489.6,246.9 492.3,247.2 492.4,247.1 492.7,244.3Z" fill="#e8aad6" stroke="#a878bc" stroke-width="0.35"/>
<path d="M489.6,246.9 489.2,247.9 492.4,247.9 492.3,247.2Z" fill="#eaa8d6" stroke="#a878bc" stroke-width="0.35"/>
<path d="M493.0,214.3 495.1,214.2 495.2,214.2 493.0,214.2Z" fill="#f2c0e2" stroke="#a878bc" stroke-width="0.35"/>
<path d="M492.7,217.2 495.4,217.0 495.5,216.8 495.1,214.2 493.0,214.3 491.7,216.1 491.7,216.7Z" fill="#e4a2d2" stroke="#a878bc" stroke-width="0.35"/>
<path d="M493.8,220.5 495.2,221.1 495.4,221.0 496.1,219.7 495.4,217.0 492.7,217.2Z" fill="#eeb4dc" stroke="#a878bc" stroke-width="0.35"/>
<path d="M493.8,220.5 491.3,221.1 491.4,223.2 493.8,224.2 494.4,224.0 495.2,221.1Z" fill="#e099cc" stroke="#a878bc" stroke-width="0.35"/>
<path d="M494.4,224.0 495.6,224.8 499.2,223.2 499.1,222.8 495.4,221.0 495.2,221.1Z" fill="#e8aad6" stroke="#a878bc" stroke-width="0.35"/>
<path d="M494.4,224.0 493.8,224.2 492.3,227.1 492.6,227.6 494.9,228.4 496.2,226.5 495.6,224.8Z" fill="#f2c0e2" stroke="#a878bc" stroke-width="0.35"/>
<path d="M496.0,233.3 496.8,231.5 496.3,230.0 495.3,229.4 492.7,231.9 492.8,232.1Z" fill="#eeb4dc" stroke="#a878bc" stroke-width="0.35"/>
<path d="M492.4,234.4 494.2,235.9 496.0,233.5 496.0,233.3 492.8,232.1Z" fill="#e8aad6" stroke="#a878bc" stroke-width="0.35"/>
<path d="M494.2,235.9 494.4,236.8 497.2,237.3 497.4,234.5 496.0,233.5Z" fill="#dc92c8" stroke="#a878bc" stroke-width="0.35"/>
<path d="M493.9,240.0 493.7,237.6 490.4,237.2 489.8,238.5 490.2,239.3 492.8,241.0Z" fill="#dc92c8" stroke="#a878bc" stroke-width="0.35"/>
<path d="M493.4,243.7 495.0,244.1 496.9,243.4 497.2,240.6 493.9,240.0 492.8,241.0 492.7,241.4Z" fill="#e8aad6" stroke="#a878bc" stroke-width="0.35"/>
<path d="M492.4,247.1 495.3,246.9 495.0,244.1 493.4,243.7 492.7,244.3Z" fill="#eeb4dc" stroke="#a878bc" stroke-width="0.35"/>
<path d="M496.3,247.8 495.3,246.9 492.4,247.1 492.3,247.2 492.4,247.9 496.2,247.9Z" fill="#e8aad6" stroke="#a878bc" stroke-width="0.35"/>
<path d="M498.3,214.9 500.0,214.2 497.5,214.2Z" fill="#e099cc" stroke="#a878bc" stroke-width="0.35"/>
<path d="M497.8,216.3 498.3,214.9 497.5,214.2 495.2,214.2 495.1,214.2 495.5,216.8Z" fill="#eaa8d6" stroke="#a878bc" stroke-width="0.35"/>
<path d="M495.4,217.0 496.1,219.7 499.5,218.7 499.5,218.6 497.8,216.3 495.5,216.8Z" fill="#e099cc" stroke="#a878bc" stroke-width="0.35"/>
<path d="M496.1,219.7 495.4,221.0 499.1,222.8 500.1,220.2 499.5,218.7Z" fill="#eeb4dc" stroke="#a878bc" stroke-width="0.35"/>
<path d="M496.2,226.5 498.6,226.9 499.7,225.3 499.5,223.5 499.2,223.2 495.6,224.8Z" fill="#f2c0e2" stroke="#a878bc" stroke-width="0.35"/>
<path d="M494.9,228.4 495.3,229.4 496.3,230.0 498.9,228.5 498.6,226.9 496.2,226.5Z" fill="#eaa8d6" stroke="#a878bc" stroke-width="0.35"/>
<path d="M496.3,230.0 496.8,231.5 499.7,231.8 499.9,229.3 498.9,228.5Z" fill="#eaa8d6" stroke="#a878bc" stroke-width="0.35"/>
<path d="M500.3,232.7 500.3,232.6 499.7,231.8 496.8,231.5 496.0,233.3 496.0,233.5 497.4,234.5 499.5,234.2Z" fill="#e59cd0" stroke="#a878bc" stroke-width="0.35"/>
<path d="M499.5,234.2 497.4,234.5 497.2,237.3 497.9,238.0 500.0,236.8 500.2,236.3Z" fill="#eaa8d6" stroke="#a878bc" stroke-width="0.35"/>
<path d="M497.9,238.0 497.2,237.3 494.4,236.8 493.7,237.6 493.9,240.0 497.2,240.6 497.7,240.2 497.9,239.9Z" fill="#eeb4dc" stroke="#a878bc" stroke-width="0.35"/>
<path d="M497.7,240.2 497.2,240.6 496.9,243.4 497.5,244.0 501.3,243.8 501.6,243.2 501.6,243.2Z" fill="#e59cd0" stroke="#a878bc" stroke-width="0.35"/>
<path d="M497.5,244.0 496.9,243.4 495.0,244.1 495.3,246.9 496.3,247.8 498.0,247.1Z" fill="#eeb4dc" stroke="#a878bc" stroke-width="0.35"/>
<path d="M498.0,247.1 496.3,247.8 496.2,247.9 499.7,247.9 499.6,247.6Z" fill="#eaa8d6" stroke="#a878bc" stroke-width="0.35"/>
<path d="M501.5,214.7 503.9,214.2 501.0,214.2Z" fill="#e4a2d2" stroke="#a878bc" stroke-width="0.35"/>
<path d="M499.5,218.6 501.7,216.8 501.5,214.7 501.0,214.2 500.0,214.2 498.3,214.9 497.8,216.3Z" fill="#e099cc" stroke="#a878bc" stroke-width="0.35"/>
<path d="M500.1,220.2 503.0,220.6 503.9,218.9 503.7,218.0 501.7,216.8 499.5,218.6 499.5,218.7Z" fill="#e8aad6" stroke="#a878bc" stroke-width="0.35"/>
<path d="M499.5,223.5 503.7,223.0 503.8,222.9 503.0,220.6 500.1,220.2 499.1,222.8 499.2,223.2Z" fill="#dc92c8" stroke="#a878bc" stroke-width="0.35"/>
<path d="M502.2,226.5 504.1,225.1 503.7,223.0 499.5,223.5 499.7,225.3Z" fill="#f2c0e2" stroke="#a878bc" stroke-width="0.35"/>
<path d="M498.9,228.5 499.9,229.3 502.1,228.6 502.2,226.5 499.7,225.3 498.6,226.9Z" fill="#e4a2d2" stroke="#a878bc" stroke-width="0.35"/>
<path d="M499.7,231.8 500.3,232.6 503.3,230.8 503.4,229.7 502.1,228.6 499.9,229.3Z" fill="#eeb4dc" stroke="#a878bc" stroke-width="0.35"/>
<path d="M502.6,235.7 502.9,234.3 500.3,232.7 499.5,234.2 500.2,236.3Z" fill="#eeb4dc" stroke="#a878bc" stroke-width="0.35"/>
<path d="M502.6,239.7 503.7,237.3 502.6,235.7 500.2,236.3 500.0,236.8 502.4,239.6Z" fill="#dc92c8" stroke="#a878bc" stroke-width="0.35"/>
<path d="M500.0,236.8 497.9,238.0 497.9,239.9 502.4,239.6Z" fill="#e099cc" stroke="#a878bc" stroke-width="0.35"/>
<path d="M497.9,239.9 497.7,240.2 501.6,243.2 502.7,239.9 502.6,239.7 502.4,239.6Z" fill="#eaa8d6" stroke="#a878bc" stroke-width="0.35"/>
<path d="M501.2,245.8 501.3,243.8 497.5,244.0 498.0,247.1 499.6,247.6Z" fill="#e099cc" stroke="#a878bc" stroke-width="0.35"/>
<path d="M504.0,247.2 501.2,245.8 499.6,247.6 499.7,247.9 503.7,247.9Z" fill="#dc92c8" stroke="#a878bc" stroke-width="0.35"/>
<path d="M505.3,215.0 506.6,214.2 504.4,214.2Z" fill="#dc92c8" stroke="#a878bc" stroke-width="0.35"/>
<path d="M501.5,214.7 501.7,216.8 503.7,218.0 505.6,216.2 505.3,215.0 504.4,214.2 503.9,214.2Z" fill="#eaa8d6" stroke="#a878bc" stroke-width="0.35"/>
<path d="M507.2,216.9 505.6,216.2 503.7,218.0 503.9,218.9 506.4,219.8 507.6,219.2Z" fill="#e59cd0" stroke="#a878bc" stroke-width="0.35"/>
<path d="M506.4,219.8 503.9,218.9 503.0,220.6 503.8,222.9 505.9,222.1Z" fill="#eaa8d6" stroke="#a878bc" stroke-width="0.35"/>
<path d="M505.9,222.1 503.8,222.9 503.7,223.0 504.1,225.1 505.4,225.9 508.2,223.8 508.0,223.1Z" fill="#eeb4dc" stroke="#a878bc" stroke-width="0.35"/>
<path d="M502.1,228.6 503.4,229.7 505.4,228.8 505.8,226.7 505.4,225.9 504.1,225.1 502.2,226.5Z" fill="#eaa8d6" stroke="#a878bc" stroke-width="0.35"/>
<path d="M505.4,228.8 503.4,229.7 503.3,230.8 504.7,232.8 506.7,232.2 506.8,229.9Z" fill="#dc92c8" stroke="#a878bc" stroke-width="0.35"/>
<path d="M504.7,232.8 503.3,230.8 500.3,232.6 500.3,232.7 502.9,234.3 504.5,233.4Z" fill="#eaa8d6" stroke="#a878bc" stroke-width="0.35"/>
<path d="M506.3,236.7 506.4,236.5 504.5,233.4 502.9,234.3 502.6,235.7 503.7,237.3Z" fill="#e59cd0" stroke="#a878bc" stroke-width="0.35"/>
<path d="M502.7,239.9 505.7,240.7 507.0,238.0 506.3,236.7 503.7,237.3 502.6,239.7Z" fill="#eeb4dc" stroke="#a878bc" stroke-width="0.35"/>
<path d="M501.6,243.2 501.6,243.2 505.9,244.2 506.3,241.8 505.7,240.7 502.7,239.9Z" fill="#e4a2d2" stroke="#a878bc" stroke-width="0.35"/>
<path d="M505.1,246.7 505.9,244.3 505.9,244.2 501.6,243.2 501.3,243.8 501.2,245.8 504.0,247.2Z" fill="#f2c0e2" stroke="#a878bc" stroke-width="0.35"/>
<path d="M505.1,246.7 504.0,247.2 503.7,247.9 506.3,247.9Z" fill="#e4a2d2" stroke="#a878bc" stroke-width="0.35"/>
<path d="M508.7,214.2 506.6,214.2 505.3,215.0 505.6,216.2 507.2,216.9 508.8,215.8Z" fill="#eeb4dc" stroke="#a878bc" stroke-width="0.35"/>
<path d="M510.0,220.0 510.8,218.9 510.6,216.7 508.8,215.8 507.2,216.9 507.6,219.2 509.5,220.0Z" fill="#e099cc" stroke="#a878bc" stroke-width="0.35"/>
<path d="M507.6,219.2 506.4,219.8 505.9,222.1 508.0,223.1 509.5,220.0Z" fill="#eeb4dc" stroke="#a878bc" stroke-width="0.35"/>
<path d="M508.2,223.8 505.4,225.9 505.8,226.7 508.9,227.3 510.0,225.8 509.7,224.8Z" fill="#eeb4dc" stroke="#a878bc" stroke-width="0.35"/>
<path d="M508.9,227.3 505.8,226.7 505.4,228.8 506.8,229.9 508.9,229.1Z" fill="#f2c0e2" stroke="#a878bc" stroke-width="0.35"/>
<path d="M508.9,229.1 506.8,229.9 506.7,232.2 507.6,232.7 509.6,231.8 509.8,229.9Z" fill="#e8aad6" stroke="#a878bc" stroke-width="0.35"/>
<path d="M506.7,232.2 504.7,232.8 504.5,233.4 506.4,236.5 508.1,235.0 507.6,232.7Z" fill="#eeb4dc" stroke="#a878bc" stroke-width="0.35"/>
<path d="M506.4,236.5 506.3,236.7 507.0,238.0 508.9,238.6 510.9,237.3 511.0,237.1 510.2,235.4 508.1,235.0Z" fill="#dc92c8" stroke="#a878bc" stroke-width="0.35"/>
<path d="M507.0,238.0 505.7,240.7 506.3,241.8 509.3,241.2 508.9,238.6Z" fill="#e099cc" stroke="#a878bc" stroke-width="0.35"/>
<path d="M509.3,241.2 506.3,241.8 505.9,244.2 505.9,244.3 508.6,244.9 510.5,242.8 510.3,241.8Z" fill="#e59cd0" stroke="#a878bc" stroke-width="0.35"/>
<path d="M509.2,246.1 508.6,244.9 505.9,244.3 505.1,246.7 506.3,247.9 508.4,247.9Z" fill="#e4a2d2" stroke="#a878bc" stroke-width="0.35"/>
<path d="M512.0,247.5 511.6,246.6 509.2,246.1 508.4,247.9 511.9,247.9Z" fill="#e59cd0" stroke="#a878bc" stroke-width="0.35"/>
<path d="M511.9,215.6 512.4,215.6 512.4,214.2 511.4,214.2Z" fill="#eeb4dc" stroke="#a878bc" stroke-width="0.35"/>
<path d="M508.8,215.8 510.6,216.7 511.9,215.6 511.4,214.2 508.7,214.2Z" fill="#f2c0e2" stroke="#a878bc" stroke-width="0.35"/>
<path d="M512.4,218.9 512.4,215.6 511.9,215.6 510.6,216.7 510.8,218.9Z" fill="#e59cd0" stroke="#a878bc" stroke-width="0.35"/>
<path d="M508.0,223.1 508.2,223.8 509.7,224.8 511.9,222.4 510.0,220.0 509.5,220.0Z" fill="#f2c0e2" stroke="#a878bc" stroke-width="0.35"/>
<path d="M511.9,222.4 509.7,224.8 510.0,225.8 512.4,226.7 512.4,222.4Z" fill="#e59cd0" stroke="#a878bc" stroke-width="0.35"/>
<path d="M512.4,229.4 512.4,226.7 510.0,225.8 508.9,227.3 508.9,229.1 509.8,229.9Z" fill="#dc92c8" stroke="#a878bc" stroke-width="0.35"/>
<path d="M509.8,229.9 509.6,231.8 511.4,233.3 511.9,233.1 512.4,232.0 512.4,229.4Z" fill="#e59cd0" stroke="#a878bc" stroke-width="0.35"/>
<path d="M507.6,232.7 508.1,235.0 510.2,235.4 511.4,233.3 509.6,231.8Z" fill="#dc92c8" stroke="#a878bc" stroke-width="0.35"/>
<path d="M510.2,235.4 511.0,237.1 512.4,236.9 512.4,233.4 511.9,233.1 511.4,233.3Z" fill="#e4a2d2" stroke="#a878bc" stroke-width="0.35"/>
<path d="M509.3,241.2 510.3,241.8 512.0,240.3 510.9,237.3 508.9,238.6Z" fill="#eeb4dc" stroke="#a878bc" stroke-width="0.35"/>
<path d="M512.0,240.3 510.3,241.8 510.5,242.8 512.4,244.1 512.4,240.3Z" fill="#e59cd0" stroke="#a878bc" stroke-width="0.35"/>
<path d="M512.4,244.6 512.4,244.1 510.5,242.8 508.6,244.9 509.2,246.1 511.6,246.6Z" fill="#e59cd0" stroke="#a878bc" stroke-width="0.35"/>
<path d="M512.0,247.5 511.9,247.9 512.4,247.9 512.4,247.5Z" fill="#e8aad6" stroke="#a878bc" stroke-width="0.35"/>
<path d="M511.9,222.4 512.4,222.4 512.4,218.9 510.8,218.9 510.0,220.0Z" fill="#e8aad6" stroke="#a878bc" stroke-width="0.35"/>
<path d="M511.9,233.1 512.4,233.4 512.4,232.0Z" fill="#f2c0e2" stroke="#a878bc" stroke-width="0.35"/>
<path d="M511.0,237.1 510.9,237.3 512.0,240.3 512.4,240.3 512.4,236.9Z" fill="#dc92c8" stroke="#a878bc" stroke-width="0.35"/>
<path d="M511.6,246.6 512.0,247.5 512.4,247.5 512.4,244.6Z" fill="#e59cd0" stroke="#a878bc" stroke-width="0.35"/>
<path d="M505.5,239.7 l2.0,7.8" stroke="#f6eef6" stroke-width="0.8" fill="none" opacity="0.9"/>
<path d="M490.7,227.8 l-6.6,5.3" stroke="#f6eef6" stroke-width="0.8" fill="none" opacity="0.9"/>
</g>
<rect x="467.90" y="214.20" width="44.50" height="33.70" fill="none" stroke="#6e6e6e" stroke-width="1.1"/>
<g filter="url(#lb)">
<rect x="514.20" y="214.20" width="45.20" height="33.70" fill="#a674bc"/>
<path d="M516.5,229.4 519.7,226.5 519.8,225.7 518.3,221.4 517.7,221.0 514.2,220.8 514.2,229.1 515.8,229.6Z" fill="#e29ed2" stroke="#9462b0" stroke-width="0.4"/>
<path d="M516.5,235.9 516.1,230.4 516.0,230.0 515.6,229.7 514.2,229.3 514.2,237.7 516.1,236.5Z" fill="#e8aad8" stroke="#9462b0" stroke-width="0.4"/>
<path d="M518.2,236.7 516.9,236.5 516.4,236.6 514.4,237.8 514.2,238.0 514.2,238.9 517.8,246.5 518.5,246.9 518.9,246.9 519.2,246.8 522.3,245.0 522.6,244.6 522.6,244.1 519.9,237.7 519.6,237.3 518.3,236.8Z" fill="#dc96cc" stroke="#9462b0" stroke-width="0.4"/>
<path d="M517.9,247.2 516.7,247.9 519.4,247.9 519.2,247.5 518.9,247.2 518.5,247.1 518.2,247.1Z" fill="#e29ed2" stroke="#9462b0" stroke-width="0.4"/>
<path d="M520.5,217.6 520.9,217.8 521.0,217.8 521.3,217.7 529.7,214.8 530.1,214.4 530.1,214.2 519.7,214.2 520.3,217.2Z" fill="#de98ce" stroke="#9462b0" stroke-width="0.4"/>
<path d="M517.7,220.8 518.4,220.5 520.0,218.1 520.1,217.5 519.4,214.2 514.2,214.2 514.2,220.6Z" fill="#de98ce" stroke="#9462b0" stroke-width="0.4"/>
<path d="M526.6,227.9 526.9,227.3 526.4,221.8 526.1,221.2 521.3,218.1 520.9,218.0 520.7,218.0 520.1,218.3 518.5,220.6 518.4,221.3 520.1,225.8 520.5,226.2 524.5,227.8 524.6,227.8 526.0,228.1Z" fill="#de98ce" stroke="#9462b0" stroke-width="0.4"/>
<path d="M518.5,236.2 523.8,228.7 523.9,228.1 523.5,227.6 520.6,226.5 519.8,226.6 516.6,229.6 516.3,230.2 516.7,235.7 516.8,236.1 517.2,236.3 517.8,236.5Z" fill="#e8aad8" stroke="#9462b0" stroke-width="0.4"/>
<path d="M528.7,239.9 526.1,235.9 525.8,235.6 525.3,235.6 520.7,237.2 520.3,237.6 520.3,238.1 522.6,243.6 523.0,244.0 523.6,243.9 528.4,241.0 528.8,240.5 528.8,240.4Z" fill="#e6a6d6" stroke="#9462b0" stroke-width="0.4"/>
<path d="M517.6,246.8 517.5,246.3 514.2,239.4 514.2,247.9 516.1,247.9 517.2,247.2Z" fill="#eab0da" stroke="#9462b0" stroke-width="0.4"/>
<path d="M519.4,247.0 519.4,247.5 519.6,247.9 525.4,247.9 523.1,245.3 522.6,245.1 522.2,245.2 519.7,246.6Z" fill="#dc96cc" stroke="#9462b0" stroke-width="0.4"/>
<path d="M533.0,216.4 533.4,216.2 535.6,214.2 530.4,214.2 530.5,214.4 530.7,214.7 531.7,215.8 531.9,215.9 532.6,216.3Z" fill="#e29ed2" stroke="#9462b0" stroke-width="0.4"/>
<path d="M531.3,215.9 531.1,215.4 530.8,215.1 530.0,214.9 522.8,217.5 522.4,217.8 522.4,218.3 522.7,218.7 525.9,220.9 526.4,221.0 526.8,220.8 531.1,216.4Z" fill="#e8aad8" stroke="#9462b0" stroke-width="0.4"/>
<path d="M528.0,228.6 531.4,228.2 531.8,228.0 532.0,227.6 533.2,217.5 533.1,217.1 533.0,216.9 532.8,216.7 532.2,216.4 531.8,216.3 531.4,216.5 526.8,221.2 526.6,221.7 527.1,227.9 527.5,228.4 527.6,228.5Z" fill="#dc96cc" stroke="#9462b0" stroke-width="0.4"/>
<path d="M527.4,228.9 527.1,228.5 527.1,228.5 526.9,228.4 525.0,228.1 524.3,228.4 519.0,235.9 518.9,236.5 519.3,237.0 519.7,237.1 520.2,237.2 525.4,235.4 525.9,234.9 527.4,229.3Z" fill="#e8aad8" stroke="#9462b0" stroke-width="0.4"/>
<path d="M529.0,240.5 529.0,240.5 529.2,241.1 531.6,243.8 532.0,244.0 532.4,244.0 534.6,242.9 534.9,242.5 534.9,242.0 533.0,238.5 532.5,238.1 532.0,238.2 529.3,240.0Z" fill="#e8aad8" stroke="#9462b0" stroke-width="0.4"/>
<path d="M523.1,244.7 523.3,245.3 525.7,247.9 530.4,247.9 531.6,246.9 531.9,246.3 531.8,244.7 531.6,244.3 529.2,241.5 528.8,241.2 528.3,241.3 523.5,244.2Z" fill="#de98ce" stroke="#9462b0" stroke-width="0.4"/>
<path d="M532.5,247.2 532.1,247.1 531.7,247.2 530.8,247.9 533.5,247.9Z" fill="#e8aad8" stroke="#9462b0" stroke-width="0.4"/>
<path d="M533.5,216.6 533.6,217.0 533.9,217.3 539.5,219.3 540.1,219.2 542.9,217.4 543.2,216.9 543.4,214.6 543.3,214.2 535.9,214.2 533.7,216.2Z" fill="#e29ed2" stroke="#9462b0" stroke-width="0.4"/>
<path d="M532.4,228.2 532.7,228.4 537.7,231.0 538.2,231.1 538.6,230.8 540.6,228.3 540.7,227.8 539.8,220.0 539.3,219.5 534.4,217.7 533.8,217.8 533.4,218.3 532.3,227.7Z" fill="#e29ed2" stroke="#9462b0" stroke-width="0.4"/>
<path d="M527.9,229.0 527.7,229.3 526.1,235.0 526.2,235.6 528.6,239.3 529.0,239.6 529.5,239.5 532.5,237.5 532.6,237.4 537.9,232.4 538.1,231.8 537.7,231.3 532.3,228.5 531.9,228.5 528.3,228.8Z" fill="#eab0da" stroke="#9462b0" stroke-width="0.4"/>
<path d="M538.4,232.6 537.9,232.8 533.2,237.2 533.0,237.6 533.1,238.1 535.2,242.0 535.6,242.3 536.0,242.4 540.1,241.3 540.5,241.0 542.1,237.9 542.1,237.1 538.9,232.9Z" fill="#e8aad8" stroke="#9462b0" stroke-width="0.4"/>
<path d="M540.0,241.9 539.4,241.8 535.5,242.8 535.4,242.8 532.5,244.3 532.1,244.9 532.2,246.3 532.5,246.9 534.0,247.9 540.3,247.9 540.3,242.5Z" fill="#dc96cc" stroke="#9462b0" stroke-width="0.4"/>
<path d="M543.5,216.8 543.8,217.5 547.2,219.8 547.6,220.0 548.0,219.8 548.3,219.4 549.3,214.2 543.7,214.2Z" fill="#e8aad8" stroke="#9462b0" stroke-width="0.4"/>
<path d="M548.6,221.6 548.1,220.9 547.9,220.7 543.7,217.8 542.9,217.7 540.4,219.3 540.1,220.0 540.9,227.0 541.3,227.5 541.9,227.5 547.0,225.4 547.4,225.1 548.7,222.3Z" fill="#eab0da" stroke="#9462b0" stroke-width="0.4"/>
<path d="M543.6,237.3 550.4,230.1 550.6,229.6 550.4,229.2 547.7,225.9 547.3,225.7 546.9,225.7 541.1,228.1 540.9,228.3 538.6,231.2 538.5,231.8 538.5,231.9 538.6,232.1 542.4,237.2 542.8,237.4 543.0,237.5Z" fill="#de98ce" stroke="#9462b0" stroke-width="0.4"/>
<path d="M544.2,237.9 544.0,238.3 544.1,238.8 548.5,246.2 549.0,246.6 550.7,246.8 551.3,246.7 554.4,244.2 554.6,243.7 554.4,243.1 549.3,238.3 548.9,238.1 544.7,237.7Z" fill="#de98ce" stroke="#9462b0" stroke-width="0.4"/>
<path d="M543.1,237.8 542.6,237.8 542.2,238.1 540.6,241.2 540.6,241.5 540.5,247.9 546.3,247.9 547.9,246.9 548.2,246.5 548.1,246.0 543.5,238.1Z" fill="#e8aad8" stroke="#9462b0" stroke-width="0.4"/>
<path d="M549.6,221.7 555.5,220.4 555.9,220.1 556.0,219.7 555.6,214.7 555.5,214.3 555.4,214.2 549.5,214.2 548.3,220.3 548.4,220.9 548.9,221.5Z" fill="#e29ed2" stroke="#9462b0" stroke-width="0.4"/>
<path d="M549.0,222.3 547.7,225.0 547.8,225.8 550.9,229.4 551.2,229.6 554.3,230.8 554.9,230.7 559.4,228.1 559.4,223.1 556.4,220.7 555.8,220.5 549.5,221.9Z" fill="#de98ce" stroke="#9462b0" stroke-width="0.4"/>
<path d="M554.0,233.6 554.3,231.7 554.3,231.2 553.9,230.9 551.4,230.0 550.7,230.2 544.8,236.4 544.6,236.8 544.8,237.3 545.2,237.6 548.8,237.8 549.3,237.7 553.7,234.0Z" fill="#e8aad8" stroke="#9462b0" stroke-width="0.4"/>
<path d="M555.2,243.2 555.7,242.8 557.4,239.5 557.3,238.7 554.5,234.7 554.0,234.4 553.4,234.5 549.9,237.5 549.6,238.0 549.9,238.6 554.6,243.0Z" fill="#e8aad8" stroke="#9462b0" stroke-width="0.4"/>
<path d="M551.0,247.6 550.8,247.2 550.4,247.0 548.9,246.7 548.4,246.8 546.7,247.9 551.1,247.9Z" fill="#e6a6d6" stroke="#9462b0" stroke-width="0.4"/>
<path d="M556.3,214.3 556.0,214.6 555.9,215.0 556.3,220.0 556.5,220.5 559.4,222.8 559.4,214.2 556.5,214.2Z" fill="#e8aad8" stroke="#9462b0" stroke-width="0.4"/>
<path d="M557.8,238.8 558.3,238.7 559.4,238.2 559.4,228.3 559.4,228.3 555.0,230.9 554.7,231.4 554.2,233.6 554.3,234.1 557.4,238.5Z" fill="#dc96cc" stroke="#9462b0" stroke-width="0.4"/>
<path d="M555.7,243.6 555.9,244.0 559.4,246.6 559.4,238.4 558.0,239.1 557.7,239.4 555.7,243.1Z" fill="#e29ed2" stroke="#9462b0" stroke-width="0.4"/>
<path d="M555.7,244.1 555.2,243.9 554.8,244.1 551.5,246.8 551.2,247.4 551.3,247.9 559.4,247.9 559.4,246.9Z" fill="#eab0da" stroke="#9462b0" stroke-width="0.4"/>
<path d="M520.3,242.8 l-5.9,5.4" stroke="#f6eef6" stroke-width="0.8" fill="none" opacity="0.9"/>
<path d="M536.6,229.3 l-5.6,10.9" stroke="#f6eef6" stroke-width="0.8" fill="none" opacity="0.9"/>
</g>
<rect x="514.20" y="214.20" width="45.20" height="33.70" fill="none" stroke="#6e6e6e" stroke-width="1.1"/>
<g filter="url(#lb)">
<rect x="467.90" y="249.00" width="44.50" height="33.90" fill="#c088c4"/>
<path d="M467.9,249.0 467.9,249.0 467.9,249.0Z" fill="#f2c0e2" stroke="#a878bc" stroke-width="0.35"/>
<path d="M469.7,253.5 469.6,253.0 468.9,251.9 467.9,251.5 467.9,255.7Z" fill="#e8aad6" stroke="#a878bc" stroke-width="0.35"/>
<path d="M468.0,257.4 468.0,257.3 467.9,256.0 467.9,257.4Z" fill="#dc92c8" stroke="#a878bc" stroke-width="0.35"/>
<path d="M468.9,261.2 469.1,260.6 468.0,257.4 467.9,257.4 467.9,261.3Z" fill="#e099cc" stroke="#a878bc" stroke-width="0.35"/>
<path d="M468.8,265.0 470.1,263.4 468.9,261.2 467.9,261.3 467.9,264.2Z" fill="#dc92c8" stroke="#a878bc" stroke-width="0.35"/>
<path d="M468.7,265.5 468.8,265.0 467.9,264.2 467.9,265.6Z" fill="#e59cd0" stroke="#a878bc" stroke-width="0.35"/>
<path d="M467.9,265.6 467.9,267.9 469.2,267.0 468.7,265.5Z" fill="#e8aad6" stroke="#a878bc" stroke-width="0.35"/>
<path d="M470.4,274.0 471.4,272.3 470.2,270.5 467.9,270.9 467.9,273.9Z" fill="#dc92c8" stroke="#a878bc" stroke-width="0.35"/>
<path d="M468.3,279.5 470.6,278.8 470.4,276.4 467.9,277.0 467.9,278.9Z" fill="#eeb4dc" stroke="#a878bc" stroke-width="0.35"/>
<path d="M468.2,281.2 468.3,279.5 467.9,278.9 467.9,281.3Z" fill="#f2c0e2" stroke="#a878bc" stroke-width="0.35"/>
<path d="M469.8,282.0 468.2,281.2 467.9,281.3 467.9,282.9 469.9,282.9Z" fill="#dc92c8" stroke="#a878bc" stroke-width="0.35"/>
<path d="M473.4,249.0 470.1,249.0 470.5,249.7 472.7,250.1Z" fill="#eaa8d6" stroke="#a878bc" stroke-width="0.35"/>
<path d="M467.9,249.0 467.9,251.5 468.9,251.9 470.5,249.7 470.1,249.0 467.9,249.0Z" fill="#e8aad6" stroke="#a878bc" stroke-width="0.35"/>
<path d="M469.7,253.5 471.7,254.8 474.1,253.9 474.2,253.7 474.0,252.6 472.9,251.3 469.6,253.0Z" fill="#eaa8d6" stroke="#a878bc" stroke-width="0.35"/>
<path d="M468.0,257.3 471.3,257.2 471.7,254.8 469.7,253.5 467.9,255.7 467.9,256.0Z" fill="#e8aad6" stroke="#a878bc" stroke-width="0.35"/>
<path d="M471.3,257.2 468.0,257.3 468.0,257.4 469.1,260.6 472.9,258.9 472.9,258.9Z" fill="#e59cd0" stroke="#a878bc" stroke-width="0.35"/>
<path d="M470.1,263.4 470.4,263.4 473.2,260.8 472.9,258.9 469.1,260.6 468.9,261.2Z" fill="#e099cc" stroke="#a878bc" stroke-width="0.35"/>
<path d="M468.7,265.5 469.2,267.0 470.6,268.1 472.0,267.7 472.9,266.0 472.5,264.6 470.4,263.4 470.1,263.4 468.8,265.0Z" fill="#eeb4dc" stroke="#a878bc" stroke-width="0.35"/>
<path d="M470.2,270.5 470.6,268.1 469.2,267.0 467.9,267.9 467.9,270.9Z" fill="#e8aad6" stroke="#a878bc" stroke-width="0.35"/>
<path d="M473.2,272.1 474.4,269.3 472.0,267.7 470.6,268.1 470.2,270.5 471.4,272.3Z" fill="#e8aad6" stroke="#a878bc" stroke-width="0.35"/>
<path d="M470.4,276.4 470.9,275.8 470.4,274.0 467.9,273.9 467.9,277.0Z" fill="#dc92c8" stroke="#a878bc" stroke-width="0.35"/>
<path d="M470.6,278.8 471.8,279.8 473.6,278.9 472.8,276.3 470.9,275.8 470.4,276.4Z" fill="#eaa8d6" stroke="#a878bc" stroke-width="0.35"/>
<path d="M468.2,281.2 469.8,282.0 471.5,281.1 471.8,279.8 470.6,278.8 468.3,279.5Z" fill="#e4a2d2" stroke="#a878bc" stroke-width="0.35"/>
<path d="M471.5,281.1 469.8,282.0 469.9,282.9 473.4,282.9Z" fill="#f2c0e2" stroke="#a878bc" stroke-width="0.35"/>
<path d="M469.6,253.0 472.9,251.3 472.7,250.1 470.5,249.7 468.9,251.9Z" fill="#f2c0e2" stroke="#a878bc" stroke-width="0.35"/>
<path d="M478.2,251.8 477.9,250.4 477.0,249.9 474.0,252.6 474.2,253.7 475.4,253.9Z" fill="#f2c0e2" stroke="#a878bc" stroke-width="0.35"/>
<path d="M474.1,253.9 471.7,254.8 471.3,257.2 472.9,258.9 474.6,258.0Z" fill="#e59cd0" stroke="#a878bc" stroke-width="0.35"/>
<path d="M474.6,258.0 474.6,258.0 472.9,258.9 472.9,258.9 473.2,260.8 475.0,262.6 477.7,260.6Z" fill="#eeb4dc" stroke="#a878bc" stroke-width="0.35"/>
<path d="M473.2,260.8 470.4,263.4 472.5,264.6 475.0,262.8 475.0,262.6Z" fill="#eeb4dc" stroke="#a878bc" stroke-width="0.35"/>
<path d="M472.5,264.6 472.9,266.0 475.6,266.2 476.5,265.2 475.0,262.8Z" fill="#eeb4dc" stroke="#a878bc" stroke-width="0.35"/>
<path d="M475.6,266.2 472.9,266.0 472.0,267.7 474.4,269.3 475.5,269.0Z" fill="#eeb4dc" stroke="#a878bc" stroke-width="0.35"/>
<path d="M474.4,269.3 473.2,272.1 473.8,272.6 477.1,272.0 477.5,269.8 475.5,269.0Z" fill="#e59cd0" stroke="#a878bc" stroke-width="0.35"/>
<path d="M470.9,275.8 472.8,276.3 474.7,275.1 473.8,272.6 473.2,272.1 471.4,272.3 470.4,274.0Z" fill="#dc92c8" stroke="#a878bc" stroke-width="0.35"/>
<path d="M473.6,278.9 473.8,278.9 476.8,277.0 476.8,276.3 476.3,275.6 474.7,275.1 472.8,276.3Z" fill="#e4a2d2" stroke="#a878bc" stroke-width="0.35"/>
<path d="M475.7,281.5 475.7,281.4 473.8,278.9 473.6,278.9 471.8,279.8 471.5,281.1 473.4,282.9 473.5,282.9Z" fill="#eeb4dc" stroke="#a878bc" stroke-width="0.35"/>
<path d="M475.7,281.5 473.5,282.9 476.4,282.9Z" fill="#eaa8d6" stroke="#a878bc" stroke-width="0.35"/>
<path d="M480.4,249.0 476.4,249.0 477.0,249.9 477.9,250.4 480.4,249.0Z" fill="#eeb4dc" stroke="#a878bc" stroke-width="0.35"/>
<path d="M472.7,250.1 472.9,251.3 474.0,252.6 477.0,249.9 476.4,249.0 473.4,249.0Z" fill="#e099cc" stroke="#a878bc" stroke-width="0.35"/>
<path d="M479.1,252.9 478.2,251.8 475.4,253.9 478.0,255.9Z" fill="#f2c0e2" stroke="#a878bc" stroke-width="0.35"/>
<path d="M475.4,253.9 474.2,253.7 474.1,253.9 474.6,258.0 474.6,258.0 478.0,256.1 478.0,255.9Z" fill="#eeb4dc" stroke="#a878bc" stroke-width="0.35"/>
<path d="M474.6,258.0 477.7,260.6 478.1,260.6 478.3,260.4 478.9,256.9 478.8,256.6 478.0,256.1Z" fill="#e8aad6" stroke="#a878bc" stroke-width="0.35"/>
<path d="M477.7,260.6 475.0,262.6 475.0,262.8 476.5,265.2 477.2,265.2 478.8,263.5 478.1,260.6Z" fill="#e8aad6" stroke="#a878bc" stroke-width="0.35"/>
<path d="M477.2,265.2 479.1,267.1 480.7,266.6 481.2,264.0 478.8,263.5Z" fill="#dc92c8" stroke="#a878bc" stroke-width="0.35"/>
<path d="M476.5,265.2 475.6,266.2 475.5,269.0 477.5,269.8 478.3,269.4 479.1,267.1 477.2,265.2Z" fill="#e4a2d2" stroke="#a878bc" stroke-width="0.35"/>
<path d="M479.7,270.2 478.3,269.4 477.5,269.8 477.1,272.0 477.4,272.5 480.0,273.6 480.6,272.8Z" fill="#eeb4dc" stroke="#a878bc" stroke-width="0.35"/>
<path d="M474.7,275.1 476.3,275.6 477.4,272.5 477.1,272.0 473.8,272.6Z" fill="#e4a2d2" stroke="#a878bc" stroke-width="0.35"/>
<path d="M476.8,276.3 476.8,277.0 478.1,278.9 480.6,278.5 481.2,275.9 480.2,274.9Z" fill="#eaa8d6" stroke="#a878bc" stroke-width="0.35"/>
<path d="M473.8,278.9 475.7,281.4 477.6,280.4 478.1,278.9 476.8,277.0Z" fill="#f2c0e2" stroke="#a878bc" stroke-width="0.35"/>
<path d="M479.8,282.5 477.6,280.4 475.7,281.4 475.7,281.5 476.4,282.9 479.8,282.9Z" fill="#e4a2d2" stroke="#a878bc" stroke-width="0.35"/>
<path d="M480.4,249.0 481.8,249.9 483.2,249.0 480.4,249.0Z" fill="#e59cd0" stroke="#a878bc" stroke-width="0.35"/>
<path d="M482.5,252.1 481.8,249.9 480.4,249.0 477.9,250.4 478.2,251.8 479.1,252.9 482.0,253.2Z" fill="#eaa8d6" stroke="#a878bc" stroke-width="0.35"/>
<path d="M478.0,256.1 478.8,256.6 482.0,254.2 482.2,253.9 482.0,253.2 479.1,252.9 478.0,255.9Z" fill="#e8aad6" stroke="#a878bc" stroke-width="0.35"/>
<path d="M478.8,256.6 478.9,256.9 482.1,257.9 482.0,254.2Z" fill="#e59cd0" stroke="#a878bc" stroke-width="0.35"/>
<path d="M480.7,260.5 482.7,259.2 482.8,258.7 482.1,257.9 478.9,256.9 478.3,260.4Z" fill="#e099cc" stroke="#a878bc" stroke-width="0.35"/>
<path d="M478.8,263.5 481.2,264.0 481.6,263.7 480.7,260.5 478.3,260.4 478.1,260.6Z" fill="#f2c0e2" stroke="#a878bc" stroke-width="0.35"/>
<path d="M480.7,266.6 482.4,267.7 483.9,266.8 484.1,263.6 481.6,263.7 481.2,264.0Z" fill="#e099cc" stroke="#a878bc" stroke-width="0.35"/>
<path d="M478.3,269.4 479.7,270.2 482.4,269.4 482.4,267.7 480.7,266.6 479.1,267.1Z" fill="#f2c0e2" stroke="#a878bc" stroke-width="0.35"/>
<path d="M482.8,272.1 483.0,270.1 482.4,269.4 479.7,270.2 480.6,272.8Z" fill="#e099cc" stroke="#a878bc" stroke-width="0.35"/>
<path d="M477.4,272.5 476.3,275.6 476.8,276.3 480.2,274.9 480.0,273.6Z" fill="#e59cd0" stroke="#a878bc" stroke-width="0.35"/>
<path d="M480.6,278.5 482.1,280.1 484.8,277.9 483.0,275.7 481.2,275.9Z" fill="#eeb4dc" stroke="#a878bc" stroke-width="0.35"/>
<path d="M477.6,280.4 479.8,282.5 482.2,280.7 482.1,280.1 480.6,278.5 478.1,278.9Z" fill="#eeb4dc" stroke="#a878bc" stroke-width="0.35"/>
<path d="M484.0,282.3 482.2,280.7 479.8,282.5 479.8,282.9 483.8,282.9Z" fill="#e099cc" stroke="#a878bc" stroke-width="0.35"/>
<path d="M485.4,251.5 485.2,249.0 483.2,249.0 481.8,249.9 482.5,252.1Z" fill="#dc92c8" stroke="#a878bc" stroke-width="0.35"/>
<path d="M484.8,255.1 486.7,253.8 486.3,252.1 485.4,251.5 482.5,252.1 482.0,253.2 482.2,253.9Z" fill="#e8aad6" stroke="#a878bc" stroke-width="0.35"/>
<path d="M482.0,254.2 482.1,257.9 482.8,258.7 484.9,257.8 484.8,255.1 482.2,253.9Z" fill="#f2c0e2" stroke="#a878bc" stroke-width="0.35"/>
<path d="M482.7,259.2 484.6,262.8 487.0,260.6 487.1,258.6 484.9,257.8 482.8,258.7Z" fill="#eeb4dc" stroke="#a878bc" stroke-width="0.35"/>
<path d="M481.6,263.7 484.1,263.6 484.5,263.3 484.6,262.8 482.7,259.2 480.7,260.5Z" fill="#dc92c8" stroke="#a878bc" stroke-width="0.35"/>
<path d="M483.9,266.8 486.3,267.8 486.7,267.6 486.8,264.5 484.5,263.3 484.1,263.6Z" fill="#e8aad6" stroke="#a878bc" stroke-width="0.35"/>
<path d="M483.9,266.8 482.4,267.7 482.4,269.4 483.0,270.1 485.7,269.9 486.3,267.8Z" fill="#dc92c8" stroke="#a878bc" stroke-width="0.35"/>
<path d="M484.3,273.6 485.1,273.5 486.9,271.7 485.7,269.9 483.0,270.1 482.8,272.1Z" fill="#dc92c8" stroke="#a878bc" stroke-width="0.35"/>
<path d="M480.0,273.6 480.2,274.9 481.2,275.9 483.0,275.7 484.3,273.6 482.8,272.1 480.6,272.8Z" fill="#e59cd0" stroke="#a878bc" stroke-width="0.35"/>
<path d="M484.8,277.9 485.4,278.0 487.3,276.3 487.3,276.3 485.1,273.5 484.3,273.6 483.0,275.7Z" fill="#dc92c8" stroke="#a878bc" stroke-width="0.35"/>
<path d="M485.4,278.0 484.8,277.9 482.1,280.1 482.2,280.7 484.0,282.3 486.0,282.1 486.6,281.4 486.8,280.8Z" fill="#e8aad6" stroke="#a878bc" stroke-width="0.35"/>
<path d="M483.8,282.9 486.2,282.9 486.0,282.1 484.0,282.3Z" fill="#eaa8d6" stroke="#a878bc" stroke-width="0.35"/>
<path d="M487.9,249.0 487.9,249.0 487.9,249.0Z" fill="#e8aad6" stroke="#a878bc" stroke-width="0.35"/>
<path d="M485.4,251.5 486.3,252.1 487.9,250.9 487.9,249.0 487.9,249.0 485.2,249.0Z" fill="#e4a2d2" stroke="#a878bc" stroke-width="0.35"/>
<path d="M486.7,253.8 487.7,254.4 489.1,254.3 490.7,251.7 487.9,250.9 486.3,252.1Z" fill="#e099cc" stroke="#a878bc" stroke-width="0.35"/>
<path d="M484.9,257.8 487.1,258.6 487.2,258.5 487.7,254.4 486.7,253.8 484.8,255.1Z" fill="#e4a2d2" stroke="#a878bc" stroke-width="0.35"/>
<path d="M487.0,260.6 488.9,262.1 490.6,262.0 491.7,260.3 488.1,258.4 487.2,258.5 487.1,258.6Z" fill="#dc92c8" stroke="#a878bc" stroke-width="0.35"/>
<path d="M486.8,264.5 487.6,264.3 488.9,262.1 487.0,260.6 484.6,262.8 484.5,263.3Z" fill="#e8aad6" stroke="#a878bc" stroke-width="0.35"/>
<path d="M489.8,265.6 487.6,264.3 486.8,264.5 486.7,267.6 488.2,267.8Z" fill="#e59cd0" stroke="#a878bc" stroke-width="0.35"/>
<path d="M488.2,267.8 486.7,267.6 486.3,267.8 485.7,269.9 486.9,271.7 487.5,271.7 489.8,269.6Z" fill="#eeb4dc" stroke="#a878bc" stroke-width="0.35"/>
<path d="M489.8,269.6 487.5,271.7 488.8,273.3 490.7,273.6 491.6,272.4 490.9,269.7Z" fill="#e099cc" stroke="#a878bc" stroke-width="0.35"/>
<path d="M488.8,273.3 487.5,271.7 486.9,271.7 485.1,273.5 487.3,276.3Z" fill="#dc92c8" stroke="#a878bc" stroke-width="0.35"/>
<path d="M487.3,276.3 489.6,279.1 490.6,279.2 491.1,278.4 490.6,275.8Z" fill="#dc92c8" stroke="#a878bc" stroke-width="0.35"/>
<path d="M485.4,278.0 486.8,280.8 489.6,279.1 487.3,276.3 487.3,276.3Z" fill="#e4a2d2" stroke="#a878bc" stroke-width="0.35"/>
<path d="M490.1,282.9 486.6,281.4 486.0,282.1 486.2,282.9 490.1,282.9Z" fill="#eeb4dc" stroke="#a878bc" stroke-width="0.35"/>
<path d="M492.0,249.0 489.9,249.0 491.0,249.9Z" fill="#dc92c8" stroke="#a878bc" stroke-width="0.35"/>
<path d="M490.7,251.7 490.8,251.7 491.0,249.9 489.9,249.0 487.9,249.0 487.9,249.0 487.9,250.9Z" fill="#e59cd0" stroke="#a878bc" stroke-width="0.35"/>
<path d="M490.8,251.7 490.7,251.7 489.1,254.3 490.6,256.1 490.9,256.2 493.2,255.0 493.0,252.7Z" fill="#eaa8d6" stroke="#a878bc" stroke-width="0.35"/>
<path d="M489.1,254.3 487.7,254.4 487.2,258.5 488.1,258.4 490.6,256.1Z" fill="#eaa8d6" stroke="#a878bc" stroke-width="0.35"/>
<path d="M490.6,256.1 488.1,258.4 491.7,260.3 492.3,259.9 492.4,259.9 490.9,256.2Z" fill="#e8aad6" stroke="#a878bc" stroke-width="0.35"/>
<path d="M491.5,264.5 490.6,262.0 488.9,262.1 487.6,264.3 489.8,265.6 490.6,265.4Z" fill="#e4a2d2" stroke="#a878bc" stroke-width="0.35"/>
<path d="M492.5,268.8 494.1,266.4 493.2,264.7 491.5,264.5 490.6,265.4 491.7,269.0Z" fill="#e4a2d2" stroke="#a878bc" stroke-width="0.35"/>
<path d="M490.6,265.4 489.8,265.6 488.2,267.8 489.8,269.6 490.9,269.7 491.7,269.0Z" fill="#e59cd0" stroke="#a878bc" stroke-width="0.35"/>
<path d="M490.9,269.7 491.6,272.4 494.3,272.7 494.9,270.3 492.5,268.8 491.7,269.0Z" fill="#f2c0e2" stroke="#a878bc" stroke-width="0.35"/>
<path d="M487.3,276.3 490.6,275.8 491.0,275.0 490.7,273.6 488.8,273.3 487.3,276.3 487.3,276.3Z" fill="#eaa8d6" stroke="#a878bc" stroke-width="0.35"/>
<path d="M490.6,275.8 491.1,278.4 493.3,277.6 493.5,275.7 491.0,275.0Z" fill="#eeb4dc" stroke="#a878bc" stroke-width="0.35"/>
<path d="M486.6,281.4 490.1,282.9 491.4,280.8 490.6,279.2 489.6,279.1 486.8,280.8Z" fill="#e099cc" stroke="#a878bc" stroke-width="0.35"/>
<path d="M490.1,282.9 494.1,282.9 494.2,282.6 493.3,281.3 491.4,280.8 490.1,282.9Z" fill="#e4a2d2" stroke="#a878bc" stroke-width="0.35"/>
<path d="M491.0,249.9 490.8,251.7 493.0,252.7 494.3,251.7 494.1,249.0 492.0,249.0Z" fill="#dc92c8" stroke="#a878bc" stroke-width="0.35"/>
<path d="M496.8,252.1 494.3,251.7 493.0,252.7 493.2,255.0 494.6,255.9 497.1,254.3 497.1,252.5Z" fill="#f2c0e2" stroke="#a878bc" stroke-width="0.35"/>
<path d="M490.9,256.2 492.4,259.9 494.8,256.6 494.6,255.9 493.2,255.0Z" fill="#eeb4dc" stroke="#a878bc" stroke-width="0.35"/>
<path d="M492.3,259.9 495.2,261.4 496.7,260.4 496.8,258.4 494.8,256.6 492.4,259.9Z" fill="#eaa8d6" stroke="#a878bc" stroke-width="0.35"/>
<path d="M495.2,262.6 495.2,261.4 492.3,259.9 491.7,260.3 490.6,262.0 491.5,264.5 493.2,264.7Z" fill="#e59cd0" stroke="#a878bc" stroke-width="0.35"/>
<path d="M495.6,266.8 497.6,265.3 497.6,264.9 495.2,262.6 493.2,264.7 494.1,266.4Z" fill="#e4a2d2" stroke="#a878bc" stroke-width="0.35"/>
<path d="M492.5,268.8 494.9,270.3 496.4,269.6 495.6,266.8 494.1,266.4Z" fill="#eaa8d6" stroke="#a878bc" stroke-width="0.35"/>
<path d="M494.9,270.3 494.3,272.7 495.2,274.0 498.1,272.2 497.8,269.9 496.4,269.6Z" fill="#dc92c8" stroke="#a878bc" stroke-width="0.35"/>
<path d="M493.5,275.7 495.2,274.4 495.2,274.0 494.3,272.7 491.6,272.4 490.7,273.6 491.0,275.0Z" fill="#e8aad6" stroke="#a878bc" stroke-width="0.35"/>
<path d="M493.5,275.7 493.3,277.6 495.0,279.0 495.7,278.9 496.1,275.3 495.2,274.4Z" fill="#eeb4dc" stroke="#a878bc" stroke-width="0.35"/>
<path d="M493.3,281.3 495.0,279.0 493.3,277.6 491.1,278.4 490.6,279.2 491.4,280.8Z" fill="#f2c0e2" stroke="#a878bc" stroke-width="0.35"/>
<path d="M497.0,282.6 494.2,282.6 494.1,282.9 497.1,282.9Z" fill="#e4a2d2" stroke="#a878bc" stroke-width="0.35"/>
<path d="M497.7,249.3 501.1,249.7 501.2,249.6 501.1,249.0 497.5,249.0Z" fill="#e59cd0" stroke="#a878bc" stroke-width="0.35"/>
<path d="M497.7,249.3 497.5,249.0 494.1,249.0 494.3,251.7 496.8,252.1Z" fill="#f2c0e2" stroke="#a878bc" stroke-width="0.35"/>
<path d="M497.1,254.3 497.2,254.3 499.9,254.8 500.4,252.2 497.1,252.5Z" fill="#e099cc" stroke="#a878bc" stroke-width="0.35"/>
<path d="M494.6,255.9 494.8,256.6 496.8,258.4 498.4,257.4 497.2,254.3 497.1,254.3Z" fill="#e8aad6" stroke="#a878bc" stroke-width="0.35"/>
<path d="M500.7,257.4 498.4,257.4 496.8,258.4 496.7,260.4 498.8,261.1 501.0,259.0 500.9,257.6Z" fill="#eaa8d6" stroke="#a878bc" stroke-width="0.35"/>
<path d="M499.5,262.7 498.8,261.1 496.7,260.4 495.2,261.4 495.2,262.6 497.6,264.9Z" fill="#e099cc" stroke="#a878bc" stroke-width="0.35"/>
<path d="M497.6,265.3 498.9,266.4 500.8,266.2 501.8,264.4 500.9,263.1 499.5,262.7 497.6,264.9Z" fill="#dc92c8" stroke="#a878bc" stroke-width="0.35"/>
<path d="M495.6,266.8 496.4,269.6 497.8,269.9 498.5,269.4 498.9,266.4 497.6,265.3Z" fill="#e8aad6" stroke="#a878bc" stroke-width="0.35"/>
<path d="M498.1,272.2 499.6,273.3 501.2,273.3 501.7,272.8 501.1,269.8 498.5,269.4 497.8,269.9Z" fill="#dc92c8" stroke="#a878bc" stroke-width="0.35"/>
<path d="M495.2,274.0 495.2,274.4 496.1,275.3 498.1,275.8 499.6,273.3 498.1,272.2Z" fill="#e8aad6" stroke="#a878bc" stroke-width="0.35"/>
<path d="M498.1,275.8 496.1,275.3 495.7,278.9 496.7,279.3 499.2,277.9 499.3,277.5Z" fill="#e099cc" stroke="#a878bc" stroke-width="0.35"/>
<path d="M495.0,279.0 493.3,281.3 494.2,282.6 497.0,282.6 497.5,281.9 496.7,279.3 495.7,278.9Z" fill="#e4a2d2" stroke="#a878bc" stroke-width="0.35"/>
<path d="M497.5,281.9 497.0,282.6 497.1,282.9 500.4,282.9 499.9,281.8Z" fill="#e4a2d2" stroke="#a878bc" stroke-width="0.35"/>
<path d="M501.2,249.6 504.3,249.2 504.3,249.0 501.1,249.0Z" fill="#e8aad6" stroke="#a878bc" stroke-width="0.35"/>
<path d="M500.4,252.2 501.0,251.8 501.1,249.7 497.7,249.3 496.8,252.1 497.1,252.5Z" fill="#dc92c8" stroke="#a878bc" stroke-width="0.35"/>
<path d="M499.9,254.8 500.8,256.0 503.3,253.5 501.0,251.8 500.4,252.2Z" fill="#e099cc" stroke="#a878bc" stroke-width="0.35"/>
<path d="M498.4,257.4 500.7,257.4 500.8,256.0 499.9,254.8 497.2,254.3Z" fill="#e59cd0" stroke="#a878bc" stroke-width="0.35"/>
<path d="M504.8,256.9 500.9,257.6 501.0,259.0 502.7,260.7 503.5,260.8 505.3,257.9Z" fill="#eeb4dc" stroke="#a878bc" stroke-width="0.35"/>
<path d="M501.0,259.0 498.8,261.1 499.5,262.7 500.9,263.1 502.7,260.7Z" fill="#f2c0e2" stroke="#a878bc" stroke-width="0.35"/>
<path d="M502.5,268.4 502.6,268.4 505.0,266.4 504.3,264.4 501.8,264.4 500.8,266.2Z" fill="#dc92c8" stroke="#a878bc" stroke-width="0.35"/>
<path d="M498.5,269.4 501.1,269.8 502.5,268.4 500.8,266.2 498.9,266.4Z" fill="#eaa8d6" stroke="#a878bc" stroke-width="0.35"/>
<path d="M501.1,269.8 501.7,272.8 504.2,272.5 504.7,270.5 502.6,268.4 502.5,268.4Z" fill="#e4a2d2" stroke="#a878bc" stroke-width="0.35"/>
<path d="M499.6,273.3 498.1,275.8 499.3,277.5 501.7,276.0 501.2,273.3Z" fill="#e4a2d2" stroke="#a878bc" stroke-width="0.35"/>
<path d="M499.3,277.5 499.2,277.9 501.0,280.3 502.4,280.1 503.4,276.9 501.7,276.0Z" fill="#eeb4dc" stroke="#a878bc" stroke-width="0.35"/>
<path d="M499.2,277.9 496.7,279.3 497.5,281.9 499.9,281.8 501.0,280.3Z" fill="#e59cd0" stroke="#a878bc" stroke-width="0.35"/>
<path d="M502.4,280.1 501.0,280.3 499.9,281.8 500.4,282.9 504.0,282.9 503.9,281.3Z" fill="#e59cd0" stroke="#a878bc" stroke-width="0.35"/>
<path d="M504.3,249.2 505.1,249.6 505.8,249.2 505.8,249.0 504.3,249.0Z" fill="#e099cc" stroke="#a878bc" stroke-width="0.35"/>
<path d="M501.1,249.7 501.0,251.8 503.3,253.5 503.4,253.5 505.3,250.8 505.1,249.6 504.3,249.2 501.2,249.6Z" fill="#eaa8d6" stroke="#a878bc" stroke-width="0.35"/>
<path d="M507.1,252.1 505.3,250.8 503.4,253.5 505.2,255.4 507.5,254.4Z" fill="#dc92c8" stroke="#a878bc" stroke-width="0.35"/>
<path d="M503.4,253.5 503.3,253.5 500.8,256.0 500.7,257.4 500.9,257.6 504.8,256.9 505.2,255.4Z" fill="#e8aad6" stroke="#a878bc" stroke-width="0.35"/>
<path d="M505.3,257.9 503.5,260.8 504.1,261.4 507.0,260.8 506.9,258.7Z" fill="#f2c0e2" stroke="#a878bc" stroke-width="0.35"/>
<path d="M502.7,260.7 500.9,263.1 501.8,264.4 504.3,264.4 504.6,263.8 504.1,261.4 503.5,260.8Z" fill="#eaa8d6" stroke="#a878bc" stroke-width="0.35"/>
<path d="M504.6,263.8 504.3,264.4 505.0,266.4 506.0,266.8 508.0,266.4 508.0,262.9Z" fill="#e59cd0" stroke="#a878bc" stroke-width="0.35"/>
<path d="M506.2,269.7 506.0,266.8 505.0,266.4 502.6,268.4 504.7,270.5Z" fill="#e099cc" stroke="#a878bc" stroke-width="0.35"/>
<path d="M505.4,273.6 506.0,273.4 507.9,270.5 506.2,269.7 504.7,270.5 504.2,272.5Z" fill="#e4a2d2" stroke="#a878bc" stroke-width="0.35"/>
<path d="M505.0,276.3 505.4,273.6 504.2,272.5 501.7,272.8 501.2,273.3 501.7,276.0 503.4,276.9 504.9,276.5Z" fill="#e099cc" stroke="#a878bc" stroke-width="0.35"/>
<path d="M508.5,276.3 505.0,276.3 504.9,276.5 505.8,278.4 508.7,278.4 509.1,277.7Z" fill="#eaa8d6" stroke="#a878bc" stroke-width="0.35"/>
<path d="M504.9,276.5 503.4,276.9 502.4,280.1 503.9,281.3 505.6,280.3 505.8,278.4Z" fill="#e4a2d2" stroke="#a878bc" stroke-width="0.35"/>
<path d="M508.0,281.2 505.6,280.3 503.9,281.3 504.0,282.9 507.7,282.9Z" fill="#e4a2d2" stroke="#a878bc" stroke-width="0.35"/>
<path d="M505.8,249.2 509.3,249.1 509.4,249.0 505.8,249.0Z" fill="#f2c0e2" stroke="#a878bc" stroke-width="0.35"/>
<path d="M509.7,250.4 509.9,250.0 509.3,249.1 505.8,249.2 505.1,249.6 505.3,250.8 507.1,252.1Z" fill="#dc92c8" stroke="#a878bc" stroke-width="0.35"/>
<path d="M512.4,252.1 512.4,250.4 512.3,250.3 509.9,250.0 509.7,250.4 510.0,254.0 511.2,254.3Z" fill="#e8aad6" stroke="#a878bc" stroke-width="0.35"/>
<path d="M507.5,254.4 505.2,255.4 504.8,256.9 505.3,257.9 506.9,258.7 509.0,257.9 508.0,254.6Z" fill="#e59cd0" stroke="#a878bc" stroke-width="0.35"/>
<path d="M506.9,258.7 507.0,260.8 508.3,262.3 510.1,260.5 509.5,258.1 509.0,257.9Z" fill="#e59cd0" stroke="#a878bc" stroke-width="0.35"/>
<path d="M504.1,261.4 504.6,263.8 508.0,262.9 508.3,262.5 508.3,262.3 507.0,260.8Z" fill="#e4a2d2" stroke="#a878bc" stroke-width="0.35"/>
<path d="M508.3,262.5 508.0,262.9 508.0,266.4 509.5,267.2 509.8,267.2 510.5,266.2 510.2,263.5Z" fill="#eaa8d6" stroke="#a878bc" stroke-width="0.35"/>
<path d="M506.0,266.8 506.2,269.7 507.9,270.5 508.4,270.4 509.5,267.2 508.0,266.4Z" fill="#eeb4dc" stroke="#a878bc" stroke-width="0.35"/>
<path d="M506.0,273.4 508.6,274.0 509.6,271.5 508.4,270.4 507.9,270.5Z" fill="#e099cc" stroke="#a878bc" stroke-width="0.35"/>
<path d="M509.0,274.8 508.6,274.0 506.0,273.4 505.4,273.6 505.0,276.3 508.5,276.3Z" fill="#eaa8d6" stroke="#a878bc" stroke-width="0.35"/>
<path d="M511.0,277.6 512.4,275.7 512.4,275.7 511.9,274.9 509.0,274.8 508.5,276.3 509.1,277.7Z" fill="#f2c0e2" stroke="#a878bc" stroke-width="0.35"/>
<path d="M505.8,278.4 505.6,280.3 508.0,281.2 508.8,280.6 508.7,278.4Z" fill="#e8aad6" stroke="#a878bc" stroke-width="0.35"/>
<path d="M511.5,282.4 511.0,281.1 508.8,280.6 508.0,281.2 507.7,282.9 511.3,282.9Z" fill="#eaa8d6" stroke="#a878bc" stroke-width="0.35"/>
<path d="M509.3,249.1 509.9,250.0 512.3,250.3 512.4,250.2 512.4,249.0 509.4,249.0Z" fill="#e099cc" stroke="#a878bc" stroke-width="0.35"/>
<path d="M510.0,254.0 509.7,250.4 507.1,252.1 507.5,254.4 508.0,254.6Z" fill="#eaa8d6" stroke="#a878bc" stroke-width="0.35"/>
<path d="M512.4,254.9 512.4,252.1 511.2,254.3 511.7,254.9Z" fill="#e4a2d2" stroke="#a878bc" stroke-width="0.35"/>
<path d="M509.0,257.9 509.5,258.1 511.7,257.2 511.7,254.9 511.2,254.3 510.0,254.0 508.0,254.6Z" fill="#f2c0e2" stroke="#a878bc" stroke-width="0.35"/>
<path d="M511.7,257.2 509.5,258.1 510.1,260.5 512.4,260.9 512.4,257.7Z" fill="#e59cd0" stroke="#a878bc" stroke-width="0.35"/>
<path d="M510.1,260.5 508.3,262.3 508.3,262.5 510.2,263.5 512.0,263.0 512.4,261.1 512.4,260.9Z" fill="#eaa8d6" stroke="#a878bc" stroke-width="0.35"/>
<path d="M510.5,266.2 512.4,265.5 512.4,263.5 512.0,263.0 510.2,263.5Z" fill="#eaa8d6" stroke="#a878bc" stroke-width="0.35"/>
<path d="M509.8,267.2 509.5,267.2 508.4,270.4 509.6,271.5 511.2,271.6 512.2,268.9Z" fill="#dc92c8" stroke="#a878bc" stroke-width="0.35"/>
<path d="M512.2,268.9 511.2,271.6 512.2,272.6 512.4,272.5 512.4,268.8Z" fill="#dc92c8" stroke="#a878bc" stroke-width="0.35"/>
<path d="M511.9,274.9 512.2,272.6 511.2,271.6 509.6,271.5 508.6,274.0 509.0,274.8Z" fill="#e099cc" stroke="#a878bc" stroke-width="0.35"/>
<path d="M511.0,277.6 512.2,279.6 512.4,279.6 512.4,275.7Z" fill="#dc92c8" stroke="#a878bc" stroke-width="0.35"/>
<path d="M508.7,278.4 508.8,280.6 511.0,281.1 512.2,279.6 511.0,277.6 509.1,277.7Z" fill="#dc92c8" stroke="#a878bc" stroke-width="0.35"/>
<path d="M511.5,282.4 511.3,282.9 512.4,282.9 512.4,282.6Z" fill="#e8aad6" stroke="#a878bc" stroke-width="0.35"/>
<path d="M512.3,250.3 512.4,250.4 512.4,250.2Z" fill="#f2c0e2" stroke="#a878bc" stroke-width="0.35"/>
<path d="M512.4,257.7 512.4,254.9 511.7,254.9 511.7,257.2Z" fill="#eaa8d6" stroke="#a878bc" stroke-width="0.35"/>
<path d="M512.0,263.0 512.4,263.5 512.4,261.1Z" fill="#eeb4dc" stroke="#a878bc" stroke-width="0.35"/>
<path d="M510.5,266.2 509.8,267.2 512.2,268.9 512.4,268.8 512.4,265.5Z" fill="#dc92c8" stroke="#a878bc" stroke-width="0.35"/>
<path d="M512.2,272.6 511.9,274.9 512.4,275.7 512.4,272.5Z" fill="#e099cc" stroke="#a878bc" stroke-width="0.35"/>
<path d="M512.2,279.6 511.0,281.1 511.5,282.4 512.4,282.6 512.4,279.6Z" fill="#e59cd0" stroke="#a878bc" stroke-width="0.35"/>
<path d="M482.3,254.1 l-3.0,5.9" stroke="#f6eef6" stroke-width="0.8" fill="none" opacity="0.9"/>
<path d="M491.7,261.4 l9.9,1.8" stroke="#f6eef6" stroke-width="0.8" fill="none" opacity="0.9"/>
</g>
<rect x="467.90" y="249.00" width="44.50" height="33.90" fill="none" stroke="#6e6e6e" stroke-width="1.1"/>
<g filter="url(#lb)">
<rect x="514.20" y="249.00" width="45.20" height="33.90" fill="#a674bc"/>
<path d="M516.2,269.6 516.0,269.2 514.2,267.7 514.2,273.2 516.1,270.1Z" fill="#de98ce" stroke="#9462b0" stroke-width="0.4"/>
<path d="M517.4,253.9 517.8,254.0 518.3,253.8 519.0,253.1 519.2,252.5 518.8,249.0 514.2,249.0 514.2,251.8Z" fill="#eab0da" stroke="#9462b0" stroke-width="0.4"/>
<path d="M517.5,258.3 517.9,257.7 517.7,254.7 517.4,254.1 514.2,252.1 514.2,260.2Z" fill="#e29ed2" stroke="#9462b0" stroke-width="0.4"/>
<path d="M519.5,277.0 520.9,274.1 520.9,273.7 520.7,273.3 517.2,270.3 516.7,270.1 516.2,270.4 514.2,273.7 514.2,277.3 514.7,277.6 518.9,277.4Z" fill="#e29ed2" stroke="#9462b0" stroke-width="0.4"/>
<path d="M520.5,282.9 519.9,282.8 519.7,282.9 520.5,282.9Z" fill="#e29ed2" stroke="#9462b0" stroke-width="0.4"/>
<path d="M519.4,251.9 519.7,252.4 520.3,252.5 523.8,251.4 524.2,251.0 525.0,249.0 519.1,249.0Z" fill="#e8aad8" stroke="#9462b0" stroke-width="0.4"/>
<path d="M527.4,258.1 524.4,252.1 524.1,251.8 523.6,251.8 519.6,253.0 519.3,253.1 518.2,254.1 518.0,254.6 518.1,257.8 518.5,258.3 523.7,261.3 524.2,261.3 526.0,260.8 526.5,260.5 527.4,258.8Z" fill="#e8aad8" stroke="#9462b0" stroke-width="0.4"/>
<path d="M514.2,260.5 514.2,267.4 516.1,269.0 516.6,269.2 517.0,269.0 522.0,264.9 522.2,264.7 523.5,262.2 523.6,261.6 523.2,261.2 518.4,258.5 517.7,258.5 514.2,260.5Z" fill="#e29ed2" stroke="#9462b0" stroke-width="0.4"/>
<path d="M517.2,269.5 517.4,270.1 521.1,273.3 521.6,273.5 525.7,273.8 526.1,273.6 526.4,273.2 526.4,272.8 526.3,272.4 522.6,265.8 522.1,265.5 521.6,265.6 517.4,269.0Z" fill="#e8aad8" stroke="#9462b0" stroke-width="0.4"/>
<path d="M525.9,280.6 526.1,280.1 526.1,274.7 525.9,274.2 525.4,274.0 521.8,273.8 521.4,273.9 521.1,274.2 519.7,277.3 519.7,277.8 520.7,280.8 521.0,281.2 521.4,281.3 525.5,280.8Z" fill="#de98ce" stroke="#9462b0" stroke-width="0.4"/>
<path d="M520.4,281.5 520.5,280.8 519.5,278.1 519.3,277.8 518.9,277.6 514.9,277.8 514.5,278.0 514.2,278.5 514.2,279.3 514.2,281.5 514.3,281.7 514.8,281.9 519.8,281.8Z" fill="#de98ce" stroke="#9462b0" stroke-width="0.4"/>
<path d="M519.3,282.6 519.0,282.2 518.6,282.0 514.4,282.1 514.2,282.2 514.2,282.9 519.2,282.9Z" fill="#de98ce" stroke="#9462b0" stroke-width="0.4"/>
<path d="M527.8,258.0 528.4,257.9 532.4,255.7 532.7,255.2 532.6,254.7 528.2,249.0 525.3,249.0 524.4,251.2 524.4,251.7 527.4,257.6Z" fill="#de98ce" stroke="#9462b0" stroke-width="0.4"/>
<path d="M527.7,258.7 526.8,260.4 526.7,260.8 526.8,261.2 530.4,265.2 530.8,265.4 533.7,266.1 534.3,265.9 537.9,262.9 538.1,262.6 538.1,262.4 538.1,262.2 538.1,255.5 537.8,255.0 537.3,254.8 533.4,255.4 533.2,255.5 527.9,258.4Z" fill="#e6a6d6" stroke="#9462b0" stroke-width="0.4"/>
<path d="M526.0,261.0 524.3,261.5 523.9,261.8 522.5,264.5 522.5,265.2 526.0,271.3 526.4,271.6 526.8,271.6 527.2,271.3 530.2,265.9 530.3,265.5 530.1,265.1 526.7,261.2Z" fill="#e6a6d6" stroke="#9462b0" stroke-width="0.4"/>
<path d="M526.6,274.1 526.4,274.6 526.4,280.5 526.6,281.0 527.1,281.5 527.8,281.8 537.3,279.4 537.7,279.2 538.3,278.5 538.5,278.0 538.4,277.6 536.9,275.4 536.4,275.0 527.1,273.9Z" fill="#dc96cc" stroke="#9462b0" stroke-width="0.4"/>
<path d="M521.0,281.8 520.8,282.3 520.9,282.9 527.2,282.9 527.2,282.3 527.0,281.9 526.4,281.2 525.8,281.0 521.5,281.6Z" fill="#e8aad8" stroke="#9462b0" stroke-width="0.4"/>
<path d="M537.3,250.8 537.9,251.1 538.4,250.8 539.6,249.0 535.8,249.0Z" fill="#de98ce" stroke="#9462b0" stroke-width="0.4"/>
<path d="M537.7,254.4 537.9,253.9 537.8,252.1 537.7,251.7 535.6,249.0 528.4,249.0 533.0,254.9 533.7,255.2 537.3,254.7Z" fill="#eab0da" stroke="#9462b0" stroke-width="0.4"/>
<path d="M538.5,255.2 538.3,255.7 538.3,261.5 538.5,262.0 539.0,262.2 546.6,262.2 547.2,261.9 548.2,260.1 548.2,259.6 547.9,259.2 540.4,255.2 540.1,255.1 539.0,255.0Z" fill="#e6a6d6" stroke="#9462b0" stroke-width="0.4"/>
<path d="M533.5,266.2 531.1,265.7 530.6,265.7 530.3,266.0 526.8,272.5 526.7,272.7 526.7,272.9 526.8,273.4 527.3,273.7 535.6,274.7 536.1,274.6 536.4,274.2 536.4,273.8 534.1,266.7Z" fill="#dc96cc" stroke="#9462b0" stroke-width="0.4"/>
<path d="M537.0,275.2 538.7,277.6 539.3,278.0 542.9,277.4 543.1,277.3 544.8,276.5 545.2,276.1 547.0,269.4 546.9,268.8 546.3,267.8 545.8,267.5 542.5,266.9 541.8,267.2 537.0,274.4Z" fill="#e6a6d6" stroke="#9462b0" stroke-width="0.4"/>
<path d="M527.6,282.2 527.5,282.7 527.5,282.9 536.7,282.9 537.2,280.8 537.2,280.3 536.8,280.0 536.4,279.9 528.0,282.0Z" fill="#de98ce" stroke="#9462b0" stroke-width="0.4"/>
<path d="M537.7,279.7 536.9,282.9 541.1,282.9 539.4,279.2 539.1,278.9 538.6,278.8 538.2,279.0 537.9,279.4Z" fill="#eab0da" stroke="#9462b0" stroke-width="0.4"/>
<path d="M538.3,254.5 538.7,254.7 540.0,254.8 540.4,254.7 548.4,249.8 548.7,249.4 548.9,249.0 539.9,249.0 538.2,251.7 538.0,252.1 538.1,254.0Z" fill="#e6a6d6" stroke="#9462b0" stroke-width="0.4"/>
<path d="M548.9,259.2 549.2,259.1 549.6,258.7 550.4,256.2 550.4,255.8 548.9,250.9 548.5,250.4 547.9,250.5 541.6,254.3 541.3,254.7 541.3,255.2 541.7,255.6 548.4,259.2Z" fill="#e6a6d6" stroke="#9462b0" stroke-width="0.4"/>
<path d="M539.0,262.6 538.8,263.1 539.0,263.6 541.9,266.5 542.3,266.7 545.4,267.2 545.9,267.1 546.2,266.6 546.8,263.3 546.6,262.7 546.1,262.4 539.5,262.4Z" fill="#e29ed2" stroke="#9462b0" stroke-width="0.4"/>
<path d="M534.3,266.3 534.3,266.7 536.4,273.0 536.7,273.4 537.2,273.4 537.6,273.1 541.5,267.3 541.7,266.8 541.5,266.4 538.6,263.5 538.1,263.3 537.6,263.4 534.5,266.0Z" fill="#de98ce" stroke="#9462b0" stroke-width="0.4"/>
<path d="M558.6,270.6 557.4,268.6 556.7,268.3 547.8,269.1 547.4,269.3 547.2,269.6 545.5,275.7 545.6,276.2 546.0,276.5 548.1,277.1 548.6,277.0 558.2,272.2 558.6,271.7 558.7,271.1Z" fill="#e6a6d6" stroke="#9462b0" stroke-width="0.4"/>
<path d="M539.7,278.4 539.7,279.1 541.4,282.9 545.7,282.9 543.2,278.1 542.9,277.8 542.5,277.7 540.2,278.1Z" fill="#dc96cc" stroke="#9462b0" stroke-width="0.4"/>
<path d="M550.9,255.4 551.5,255.4 553.7,254.3 554.0,253.9 554.1,253.5 553.4,249.0 549.2,249.0 549.0,249.6 549.0,250.0 550.5,255.0Z" fill="#eab0da" stroke="#9462b0" stroke-width="0.4"/>
<path d="M549.9,259.0 550.2,259.4 556.6,262.8 557.1,262.9 557.5,262.7 559.4,260.4 559.4,254.9 554.6,254.2 554.2,254.3 551.0,255.9 550.6,256.3 549.9,258.6Z" fill="#eab0da" stroke="#9462b0" stroke-width="0.4"/>
<path d="M548.6,259.8 547.2,262.3 547.2,262.5 546.3,267.1 546.4,267.6 547.0,268.6 547.7,268.9 556.5,268.1 556.9,267.8 557.1,267.4 557.0,263.7 556.7,263.1 549.9,259.4 549.4,259.4 549.0,259.5Z" fill="#eab0da" stroke="#9462b0" stroke-width="0.4"/>
<path d="M558.4,272.7 557.7,272.7 549.3,276.9 549.0,277.4 549.1,278.0 551.5,280.8 552.2,281.0 558.6,279.0 559.0,278.7 559.4,277.7 559.4,276.1 558.7,273.2Z" fill="#eab0da" stroke="#9462b0" stroke-width="0.4"/>
<path d="M543.4,277.6 543.5,278.2 546.0,282.9 551.6,282.9 551.7,281.5 551.5,281.1 548.5,277.5 548.1,277.3 545.4,276.6 544.9,276.6 543.8,277.2Z" fill="#e29ed2" stroke="#9462b0" stroke-width="0.4"/>
<path d="M554.4,253.5 554.6,253.9 554.9,254.1 559.4,254.8 559.4,249.0 553.7,249.0Z" fill="#e6a6d6" stroke="#9462b0" stroke-width="0.4"/>
<path d="M557.4,263.0 557.2,263.5 557.4,267.9 557.5,268.2 558.7,270.3 559.4,270.6 559.4,270.6 559.4,260.7Z" fill="#de98ce" stroke="#9462b0" stroke-width="0.4"/>
<path d="M559.0,271.0 558.8,271.3 558.7,272.0 558.7,272.3 559.4,275.3 559.4,270.8Z" fill="#e29ed2" stroke="#9462b0" stroke-width="0.4"/>
<path d="M558.9,280.1 558.5,279.6 557.9,279.5 552.4,281.2 552.0,281.4 551.9,281.9 551.9,282.9 559.0,282.9Z" fill="#dc96cc" stroke="#9462b0" stroke-width="0.4"/>
<path d="M559.1,278.9 559.0,279.2 559.3,282.9 559.4,282.9 559.4,278.2Z" fill="#dc96cc" stroke="#9462b0" stroke-width="0.4"/>
<path d="M524.4,281.6 l10.7,4.5" stroke="#f6eef6" stroke-width="0.8" fill="none" opacity="0.9"/>
<path d="M518.1,257.4 l-7.7,0.0" stroke="#f6eef6" stroke-width="0.8" fill="none" opacity="0.9"/>
</g>
<rect x="514.20" y="249.00" width="45.20" height="33.90" fill="none" stroke="#6e6e6e" stroke-width="1.1"/>
<g filter="url(#lb)">
<rect x="467.90" y="284.00" width="44.50" height="33.60" fill="#c088c4"/>
<path d="M468.0,290.0 467.9,289.9 467.9,290.1Z" fill="#e4a2d2" stroke="#a878bc" stroke-width="0.35"/>
<path d="M468.1,286.2 468.3,284.0 467.9,284.0 467.9,286.3Z" fill="#e8aad6" stroke="#a878bc" stroke-width="0.35"/>
<path d="M467.9,286.3 467.9,289.9 468.0,290.0 468.4,289.9 468.9,289.4 468.8,286.9 468.1,286.2Z" fill="#f2c0e2" stroke="#a878bc" stroke-width="0.35"/>
<path d="M468.0,290.0 467.9,290.1 467.9,293.6 468.1,293.7 469.3,292.2 468.4,289.9Z" fill="#e59cd0" stroke="#a878bc" stroke-width="0.35"/>
<path d="M468.1,294.5 468.1,293.7 467.9,293.6 467.9,294.7Z" fill="#e4a2d2" stroke="#a878bc" stroke-width="0.35"/>
<path d="M468.7,301.1 468.8,298.4 467.9,298.0 467.9,301.1Z" fill="#eaa8d6" stroke="#a878bc" stroke-width="0.35"/>
<path d="M468.7,301.1 468.7,301.1 467.9,301.1 467.9,304.6Z" fill="#e099cc" stroke="#a878bc" stroke-width="0.35"/>
<path d="M469.4,308.7 470.3,306.2 470.2,305.7 467.9,305.1 467.9,309.7Z" fill="#f2c0e2" stroke="#a878bc" stroke-width="0.35"/>
<path d="M470.0,313.2 469.8,312.3 467.9,310.0 467.9,314.1Z" fill="#e099cc" stroke="#a878bc" stroke-width="0.35"/>
<path d="M467.9,317.1 467.9,317.6 468.9,317.6 468.9,317.5Z" fill="#e099cc" stroke="#a878bc" stroke-width="0.35"/>
<path d="M471.9,284.0 471.9,284.0 471.8,284.0Z" fill="#e59cd0" stroke="#a878bc" stroke-width="0.35"/>
<path d="M468.1,286.2 468.8,286.9 472.0,286.2 471.9,284.0 471.8,284.0 468.3,284.0Z" fill="#dc92c8" stroke="#a878bc" stroke-width="0.35"/>
<path d="M472.9,287.0 472.0,286.2 468.8,286.9 468.9,289.4 472.6,289.7Z" fill="#dc92c8" stroke="#a878bc" stroke-width="0.35"/>
<path d="M472.6,289.7 468.9,289.4 468.4,289.9 469.3,292.2 471.1,292.6 472.7,289.9Z" fill="#e59cd0" stroke="#a878bc" stroke-width="0.35"/>
<path d="M471.1,292.6 469.3,292.2 468.1,293.7 468.1,294.5 470.3,295.8 472.1,294.7Z" fill="#e4a2d2" stroke="#a878bc" stroke-width="0.35"/>
<path d="M470.0,297.6 470.3,295.8 468.1,294.5 467.9,294.7 467.9,298.0 468.8,298.4Z" fill="#e4a2d2" stroke="#a878bc" stroke-width="0.35"/>
<path d="M468.7,301.1 470.7,301.7 473.2,299.8 473.2,299.4 470.0,297.6 468.8,298.4 468.7,301.1Z" fill="#f2c0e2" stroke="#a878bc" stroke-width="0.35"/>
<path d="M471.6,304.4 470.7,301.7 468.7,301.1 467.9,304.6 467.9,305.1 470.2,305.7Z" fill="#eeb4dc" stroke="#a878bc" stroke-width="0.35"/>
<path d="M473.4,308.6 474.3,307.5 473.6,304.5 471.6,304.4 470.2,305.7 470.3,306.2Z" fill="#f2c0e2" stroke="#a878bc" stroke-width="0.35"/>
<path d="M469.8,312.3 472.2,309.8 469.4,308.7 467.9,309.7 467.9,310.0Z" fill="#eaa8d6" stroke="#a878bc" stroke-width="0.35"/>
<path d="M472.2,309.8 469.8,312.3 470.0,313.2 470.8,313.8 470.8,313.8 474.2,310.8 473.3,309.5Z" fill="#e59cd0" stroke="#a878bc" stroke-width="0.35"/>
<path d="M470.8,313.8 470.0,313.2 467.9,314.1 467.9,317.1 468.9,317.5 471.1,316.1Z" fill="#e4a2d2" stroke="#a878bc" stroke-width="0.35"/>
<path d="M471.7,316.5 471.1,316.1 468.9,317.5 468.9,317.6 472.1,317.6Z" fill="#f2c0e2" stroke="#a878bc" stroke-width="0.35"/>
<path d="M475.6,285.1 477.9,284.1 477.9,284.0 474.8,284.0Z" fill="#eaa8d6" stroke="#a878bc" stroke-width="0.35"/>
<path d="M471.9,284.0 472.0,286.2 472.9,287.0 475.0,286.5 475.6,285.1 474.8,284.0 471.9,284.0Z" fill="#e59cd0" stroke="#a878bc" stroke-width="0.35"/>
<path d="M475.0,286.5 472.9,287.0 472.6,289.7 472.7,289.9 474.1,290.6 476.7,289.0 476.7,288.0Z" fill="#dc92c8" stroke="#a878bc" stroke-width="0.35"/>
<path d="M471.1,292.6 472.1,294.7 472.3,294.7 474.9,293.5 475.1,293.0 474.1,290.6 472.7,289.9Z" fill="#eaa8d6" stroke="#a878bc" stroke-width="0.35"/>
<path d="M474.1,298.1 475.9,297.4 476.1,295.0 474.9,293.5 472.3,294.7Z" fill="#eeb4dc" stroke="#a878bc" stroke-width="0.35"/>
<path d="M472.1,294.7 470.3,295.8 470.0,297.6 473.2,299.4 474.1,298.1 472.3,294.7Z" fill="#e8aad6" stroke="#a878bc" stroke-width="0.35"/>
<path d="M474.1,298.1 473.2,299.4 473.2,299.8 474.7,301.5 476.3,301.4 478.0,299.1 477.6,298.3 475.9,297.4Z" fill="#e59cd0" stroke="#a878bc" stroke-width="0.35"/>
<path d="M474.1,304.1 474.7,301.5 473.2,299.8 470.7,301.7 471.6,304.4 473.6,304.5Z" fill="#f2c0e2" stroke="#a878bc" stroke-width="0.35"/>
<path d="M476.7,304.8 474.1,304.1 473.6,304.5 474.3,307.5 476.8,307.3Z" fill="#e4a2d2" stroke="#a878bc" stroke-width="0.35"/>
<path d="M469.4,308.7 472.2,309.8 473.3,309.5 473.4,308.6 470.3,306.2Z" fill="#dc92c8" stroke="#a878bc" stroke-width="0.35"/>
<path d="M474.2,310.8 470.8,313.8 475.1,314.0 475.1,313.9 474.9,311.3Z" fill="#eaa8d6" stroke="#a878bc" stroke-width="0.35"/>
<path d="M470.8,313.8 470.8,313.8 471.1,316.1 471.7,316.5 474.3,315.8 475.1,314.0Z" fill="#eaa8d6" stroke="#a878bc" stroke-width="0.35"/>
<path d="M474.3,315.8 471.7,316.5 472.1,317.6 475.4,317.6Z" fill="#eaa8d6" stroke="#a878bc" stroke-width="0.35"/>
<path d="M477.9,284.1 478.0,284.1 480.7,284.1 480.7,284.0 477.9,284.0Z" fill="#eeb4dc" stroke="#a878bc" stroke-width="0.35"/>
<path d="M478.0,284.1 477.9,284.1 475.6,285.1 475.0,286.5 476.7,288.0 478.2,287.1Z" fill="#e099cc" stroke="#a878bc" stroke-width="0.35"/>
<path d="M478.2,287.1 476.7,288.0 476.7,289.0 478.4,290.7 480.7,288.9 480.9,288.1 480.4,287.5Z" fill="#e099cc" stroke="#a878bc" stroke-width="0.35"/>
<path d="M476.7,289.0 474.1,290.6 475.1,293.0 478.4,291.6 478.4,290.7Z" fill="#e59cd0" stroke="#a878bc" stroke-width="0.35"/>
<path d="M474.9,293.5 476.1,295.0 479.7,294.5 479.8,293.3 478.4,291.6 475.1,293.0Z" fill="#eeb4dc" stroke="#a878bc" stroke-width="0.35"/>
<path d="M479.7,294.5 476.1,295.0 475.9,297.4 477.6,298.3 480.1,295.2Z" fill="#e099cc" stroke="#a878bc" stroke-width="0.35"/>
<path d="M478.2,303.3 479.7,300.0 478.0,299.1 476.3,301.4Z" fill="#eeb4dc" stroke="#a878bc" stroke-width="0.35"/>
<path d="M478.2,303.3 476.3,301.4 474.7,301.5 474.1,304.1 476.7,304.8 478.3,303.6Z" fill="#f2c0e2" stroke="#a878bc" stroke-width="0.35"/>
<path d="M478.3,303.6 476.7,304.8 476.8,307.3 477.9,308.1 479.9,307.5 479.4,304.1Z" fill="#dc92c8" stroke="#a878bc" stroke-width="0.35"/>
<path d="M476.8,307.3 474.3,307.5 473.4,308.6 473.3,309.5 474.2,310.8 474.9,311.3 477.3,310.5 477.9,308.1Z" fill="#e8aad6" stroke="#a878bc" stroke-width="0.35"/>
<path d="M477.3,310.5 474.9,311.3 475.1,313.9 478.0,314.7 479.2,313.4 479.1,312.2Z" fill="#e4a2d2" stroke="#a878bc" stroke-width="0.35"/>
<path d="M475.1,313.9 475.1,314.0 474.3,315.8 475.4,317.6 476.2,317.6 478.1,316.4 478.0,314.7Z" fill="#e4a2d2" stroke="#a878bc" stroke-width="0.35"/>
<path d="M476.2,317.6 479.1,317.6 479.1,317.2 478.1,316.4Z" fill="#e59cd0" stroke="#a878bc" stroke-width="0.35"/>
<path d="M480.7,284.1 480.9,284.5 484.4,285.8 485.2,284.4 484.8,284.0 480.7,284.0Z" fill="#e59cd0" stroke="#a878bc" stroke-width="0.35"/>
<path d="M480.9,284.5 480.7,284.1 478.0,284.1 478.2,287.1 480.4,287.5Z" fill="#e099cc" stroke="#a878bc" stroke-width="0.35"/>
<path d="M480.7,288.9 482.7,291.5 484.1,289.8 483.7,287.5 480.9,288.1Z" fill="#eeb4dc" stroke="#a878bc" stroke-width="0.35"/>
<path d="M478.4,290.7 478.4,291.6 479.8,293.3 482.7,291.6 482.7,291.5 480.7,288.9Z" fill="#e4a2d2" stroke="#a878bc" stroke-width="0.35"/>
<path d="M482.7,291.6 479.8,293.3 479.7,294.5 480.1,295.2 480.6,295.5 483.6,295.1 483.9,292.7Z" fill="#eaa8d6" stroke="#a878bc" stroke-width="0.35"/>
<path d="M480.1,295.2 477.6,298.3 478.0,299.1 479.7,300.0 480.3,299.9 481.7,298.7 480.6,295.5Z" fill="#e59cd0" stroke="#a878bc" stroke-width="0.35"/>
<path d="M484.3,301.0 484.4,299.7 483.8,298.9 481.7,298.7 480.3,299.9 481.8,302.6 484.0,301.6Z" fill="#e4a2d2" stroke="#a878bc" stroke-width="0.35"/>
<path d="M481.5,303.3 481.8,302.6 480.3,299.9 479.7,300.0 478.2,303.3 478.3,303.6 479.4,304.1Z" fill="#e59cd0" stroke="#a878bc" stroke-width="0.35"/>
<path d="M479.9,307.5 480.2,307.6 483.1,306.5 483.2,305.5 481.5,303.3 479.4,304.1Z" fill="#e4a2d2" stroke="#a878bc" stroke-width="0.35"/>
<path d="M477.3,310.5 479.1,312.2 481.4,310.5 480.2,307.6 479.9,307.5 477.9,308.1Z" fill="#dc92c8" stroke="#a878bc" stroke-width="0.35"/>
<path d="M479.1,312.2 479.2,313.4 481.7,314.5 483.1,313.2 482.8,310.9 481.4,310.5Z" fill="#f2c0e2" stroke="#a878bc" stroke-width="0.35"/>
<path d="M478.0,314.7 478.1,316.4 479.1,317.2 482.1,316.6 481.7,314.5 479.2,313.4Z" fill="#eaa8d6" stroke="#a878bc" stroke-width="0.35"/>
<path d="M482.4,316.9 482.1,316.6 479.1,317.2 479.1,317.6 482.5,317.6Z" fill="#eeb4dc" stroke="#a878bc" stroke-width="0.35"/>
<path d="M485.2,284.4 485.8,284.0 484.8,284.0Z" fill="#e59cd0" stroke="#a878bc" stroke-width="0.35"/>
<path d="M480.9,288.1 483.7,287.5 484.5,286.6 484.4,285.8 480.9,284.5 480.4,287.5Z" fill="#e59cd0" stroke="#a878bc" stroke-width="0.35"/>
<path d="M487.3,289.7 486.8,287.8 484.5,286.6 483.7,287.5 484.1,289.8 486.7,290.3 487.1,290.0Z" fill="#e59cd0" stroke="#a878bc" stroke-width="0.35"/>
<path d="M484.1,289.8 482.7,291.5 482.7,291.6 483.9,292.7 485.5,292.5 486.7,290.3Z" fill="#e4a2d2" stroke="#a878bc" stroke-width="0.35"/>
<path d="M483.9,292.7 483.6,295.1 484.6,296.0 486.5,295.7 487.0,294.0 485.5,292.5Z" fill="#f2c0e2" stroke="#a878bc" stroke-width="0.35"/>
<path d="M483.6,295.1 480.6,295.5 481.7,298.7 483.8,298.9 484.6,296.0Z" fill="#eaa8d6" stroke="#a878bc" stroke-width="0.35"/>
<path d="M488.1,302.0 486.9,299.3 484.4,299.7 484.3,301.0 487.5,302.6Z" fill="#eaa8d6" stroke="#a878bc" stroke-width="0.35"/>
<path d="M481.8,302.6 481.5,303.3 483.2,305.5 485.1,304.3 484.0,301.6Z" fill="#e4a2d2" stroke="#a878bc" stroke-width="0.35"/>
<path d="M486.2,307.8 487.2,304.8 487.0,304.5 485.1,304.3 483.2,305.5 483.1,306.5 484.8,308.5Z" fill="#dc92c8" stroke="#a878bc" stroke-width="0.35"/>
<path d="M481.4,310.5 482.8,310.9 484.6,309.8 484.8,308.5 483.1,306.5 480.2,307.6Z" fill="#e4a2d2" stroke="#a878bc" stroke-width="0.35"/>
<path d="M482.8,310.9 483.1,313.2 485.6,314.1 486.2,313.6 486.3,311.3 484.6,309.8Z" fill="#eeb4dc" stroke="#a878bc" stroke-width="0.35"/>
<path d="M482.1,316.6 482.4,316.9 485.1,316.3 485.6,314.1 483.1,313.2 481.7,314.5Z" fill="#f2c0e2" stroke="#a878bc" stroke-width="0.35"/>
<path d="M482.5,317.6 486.4,317.6 485.1,316.3 482.4,316.9Z" fill="#f2c0e2" stroke="#a878bc" stroke-width="0.35"/>
<path d="M488.8,284.5 489.4,284.0 487.9,284.0Z" fill="#eeb4dc" stroke="#a878bc" stroke-width="0.35"/>
<path d="M487.9,284.0 485.8,284.0 485.2,284.4 484.4,285.8 484.5,286.6 486.8,287.8 489.1,285.8 488.8,284.5Z" fill="#eaa8d6" stroke="#a878bc" stroke-width="0.35"/>
<path d="M490.7,287.4 490.6,286.9 489.1,285.8 486.8,287.8 487.3,289.7 489.9,289.2Z" fill="#e099cc" stroke="#a878bc" stroke-width="0.35"/>
<path d="M486.7,290.3 485.5,292.5 487.0,294.0 489.3,292.9 487.1,290.0Z" fill="#e4a2d2" stroke="#a878bc" stroke-width="0.35"/>
<path d="M486.5,295.7 488.2,297.4 490.5,295.5 489.3,292.9 489.3,292.9 487.0,294.0Z" fill="#eaa8d6" stroke="#a878bc" stroke-width="0.35"/>
<path d="M484.6,296.0 483.8,298.9 484.4,299.7 486.9,299.3 488.2,297.7 488.2,297.4 486.5,295.7Z" fill="#eaa8d6" stroke="#a878bc" stroke-width="0.35"/>
<path d="M489.8,301.7 490.2,299.4 488.2,297.7 486.9,299.3 488.1,302.0Z" fill="#f2c0e2" stroke="#a878bc" stroke-width="0.35"/>
<path d="M484.3,301.0 484.0,301.6 485.1,304.3 487.0,304.5 487.5,302.6Z" fill="#e8aad6" stroke="#a878bc" stroke-width="0.35"/>
<path d="M489.6,305.7 487.2,304.8 486.2,307.8 488.6,308.7 490.1,306.9Z" fill="#e8aad6" stroke="#a878bc" stroke-width="0.35"/>
<path d="M488.6,308.7 486.2,307.8 484.8,308.5 484.6,309.8 486.3,311.3 488.9,310.4Z" fill="#f2c0e2" stroke="#a878bc" stroke-width="0.35"/>
<path d="M486.3,311.3 486.2,313.6 488.7,314.3 489.1,314.0 489.8,311.1 488.9,310.4Z" fill="#f2c0e2" stroke="#a878bc" stroke-width="0.35"/>
<path d="M486.4,317.6 487.5,317.6 488.8,316.7 488.7,314.3 486.2,313.6 485.6,314.1 485.1,316.3Z" fill="#eeb4dc" stroke="#a878bc" stroke-width="0.35"/>
<path d="M489.9,317.1 488.8,316.7 487.5,317.6 490.1,317.6Z" fill="#e4a2d2" stroke="#a878bc" stroke-width="0.35"/>
<path d="M488.8,284.5 489.1,285.8 490.6,286.9 493.6,284.5 493.4,284.0 489.4,284.0Z" fill="#e4a2d2" stroke="#a878bc" stroke-width="0.35"/>
<path d="M493.0,288.6 490.7,287.4 489.9,289.2 491.2,291.6 491.7,291.5Z" fill="#dc92c8" stroke="#a878bc" stroke-width="0.35"/>
<path d="M489.9,289.2 487.3,289.7 487.1,290.0 489.3,292.9 489.3,292.9 491.2,291.6Z" fill="#e099cc" stroke="#a878bc" stroke-width="0.35"/>
<path d="M491.2,291.6 489.3,292.9 490.5,295.5 491.8,295.8 493.3,294.9 493.9,292.9 491.7,291.5Z" fill="#eaa8d6" stroke="#a878bc" stroke-width="0.35"/>
<path d="M488.2,297.7 490.2,299.4 492.4,298.7 491.8,295.8 490.5,295.5 488.2,297.4Z" fill="#e099cc" stroke="#a878bc" stroke-width="0.35"/>
<path d="M491.2,302.8 493.4,301.2 493.4,299.3 492.4,298.7 490.2,299.4 489.8,301.7Z" fill="#e099cc" stroke="#a878bc" stroke-width="0.35"/>
<path d="M487.0,304.5 487.2,304.8 489.6,305.7 491.3,303.5 491.2,302.8 489.8,301.7 488.1,302.0 487.5,302.6Z" fill="#e4a2d2" stroke="#a878bc" stroke-width="0.35"/>
<path d="M492.1,307.6 492.5,307.5 493.4,305.0 491.3,303.5 489.6,305.7 490.1,306.9Z" fill="#eaa8d6" stroke="#a878bc" stroke-width="0.35"/>
<path d="M489.8,311.1 491.6,310.9 492.1,307.6 490.1,306.9 488.6,308.7 488.9,310.4Z" fill="#e099cc" stroke="#a878bc" stroke-width="0.35"/>
<path d="M489.1,314.0 492.3,314.5 492.7,314.2 492.7,311.6 491.6,310.9 489.8,311.1Z" fill="#dc92c8" stroke="#a878bc" stroke-width="0.35"/>
<path d="M489.9,317.1 492.0,316.3 492.3,314.5 489.1,314.0 488.7,314.3 488.8,316.7Z" fill="#e59cd0" stroke="#a878bc" stroke-width="0.35"/>
<path d="M492.0,316.3 489.9,317.1 490.1,317.6 493.1,317.6Z" fill="#e59cd0" stroke="#a878bc" stroke-width="0.35"/>
<path d="M493.6,284.5 495.3,286.0 497.5,284.5 497.4,284.0 493.4,284.0Z" fill="#dc92c8" stroke="#a878bc" stroke-width="0.35"/>
<path d="M493.0,288.6 494.3,288.3 495.3,286.8 495.3,286.0 493.6,284.5 490.6,286.9 490.7,287.4Z" fill="#e099cc" stroke="#a878bc" stroke-width="0.35"/>
<path d="M497.7,288.3 495.3,286.8 494.3,288.3 495.4,291.0 497.7,290.6Z" fill="#e8aad6" stroke="#a878bc" stroke-width="0.35"/>
<path d="M493.9,292.9 494.4,292.6 495.4,291.0 494.3,288.3 493.0,288.6 491.7,291.5Z" fill="#e59cd0" stroke="#a878bc" stroke-width="0.35"/>
<path d="M494.4,292.6 493.9,292.9 493.3,294.9 495.6,296.8 497.5,295.6 497.7,294.3Z" fill="#e4a2d2" stroke="#a878bc" stroke-width="0.35"/>
<path d="M493.3,294.9 491.8,295.8 492.4,298.7 493.4,299.3 495.3,298.3 495.6,296.8Z" fill="#eaa8d6" stroke="#a878bc" stroke-width="0.35"/>
<path d="M493.4,299.3 493.4,301.2 495.5,302.6 497.3,301.7 497.4,299.9 495.3,298.3Z" fill="#e59cd0" stroke="#a878bc" stroke-width="0.35"/>
<path d="M493.4,305.0 495.1,304.5 495.5,302.6 493.4,301.2 491.2,302.8 491.3,303.5Z" fill="#e099cc" stroke="#a878bc" stroke-width="0.35"/>
<path d="M495.1,308.5 496.4,307.5 496.6,306.2 495.1,304.5 493.4,305.0 492.5,307.5Z" fill="#e59cd0" stroke="#a878bc" stroke-width="0.35"/>
<path d="M492.7,311.6 494.9,310.9 495.1,308.5 492.5,307.5 492.1,307.6 491.6,310.9Z" fill="#e099cc" stroke="#a878bc" stroke-width="0.35"/>
<path d="M496.8,312.2 494.9,310.9 492.7,311.6 492.7,314.2 495.2,315.0 496.9,313.1Z" fill="#e59cd0" stroke="#a878bc" stroke-width="0.35"/>
<path d="M495.4,316.2 495.2,315.0 492.7,314.2 492.3,314.5 492.0,316.3 493.1,317.6 493.4,317.6Z" fill="#eeb4dc" stroke="#a878bc" stroke-width="0.35"/>
<path d="M496.6,317.3 495.4,316.2 493.4,317.6 496.5,317.6Z" fill="#eaa8d6" stroke="#a878bc" stroke-width="0.35"/>
<path d="M497.5,284.5 498.7,284.6 499.3,284.0 497.4,284.0Z" fill="#e099cc" stroke="#a878bc" stroke-width="0.35"/>
<path d="M495.3,286.0 495.3,286.8 497.7,288.3 500.2,287.1 498.7,284.6 497.5,284.5Z" fill="#dc92c8" stroke="#a878bc" stroke-width="0.35"/>
<path d="M501.1,289.0 500.8,287.3 500.2,287.1 497.7,288.3 497.7,290.6 498.6,291.2Z" fill="#eaa8d6" stroke="#a878bc" stroke-width="0.35"/>
<path d="M499.1,292.8 498.6,291.2 497.7,290.6 495.4,291.0 494.4,292.6 497.7,294.3Z" fill="#dc92c8" stroke="#a878bc" stroke-width="0.35"/>
<path d="M497.5,295.6 499.0,296.9 501.7,295.8 501.1,293.9 500.1,293.0 499.1,292.8 497.7,294.3Z" fill="#e59cd0" stroke="#a878bc" stroke-width="0.35"/>
<path d="M495.3,298.3 497.4,299.9 499.0,298.7 499.0,296.9 497.5,295.6 495.6,296.8Z" fill="#e8aad6" stroke="#a878bc" stroke-width="0.35"/>
<path d="M501.2,299.6 499.0,298.7 497.4,299.9 497.3,301.7 498.8,302.7 501.4,301.4Z" fill="#e59cd0" stroke="#a878bc" stroke-width="0.35"/>
<path d="M499.2,305.0 498.8,302.7 497.3,301.7 495.5,302.6 495.1,304.5 496.6,306.2Z" fill="#dc92c8" stroke="#a878bc" stroke-width="0.35"/>
<path d="M498.8,309.2 500.5,306.7 499.8,305.3 499.2,305.0 496.6,306.2 496.4,307.5Z" fill="#e8aad6" stroke="#a878bc" stroke-width="0.35"/>
<path d="M499.1,310.3 498.8,309.2 496.4,307.5 495.1,308.5 494.9,310.9 496.8,312.2Z" fill="#e8aad6" stroke="#a878bc" stroke-width="0.35"/>
<path d="M500.8,311.0 499.1,310.3 496.8,312.2 496.9,313.1 498.8,314.6 501.3,314.1 501.6,313.6 501.6,312.7Z" fill="#f2c0e2" stroke="#a878bc" stroke-width="0.35"/>
<path d="M496.9,313.1 495.2,315.0 495.4,316.2 496.6,317.3 498.4,317.1 498.8,314.6Z" fill="#eeb4dc" stroke="#a878bc" stroke-width="0.35"/>
<path d="M498.4,317.1 496.6,317.3 496.5,317.6 498.9,317.6Z" fill="#eaa8d6" stroke="#a878bc" stroke-width="0.35"/>
<path d="M500.2,287.1 500.8,287.3 502.0,286.6 502.0,284.0 499.3,284.0 498.7,284.6Z" fill="#e099cc" stroke="#a878bc" stroke-width="0.35"/>
<path d="M501.1,289.0 502.5,290.5 504.0,290.8 504.9,287.8 504.2,286.8 502.0,286.6 500.8,287.3Z" fill="#e59cd0" stroke="#a878bc" stroke-width="0.35"/>
<path d="M500.1,293.0 502.5,290.5 501.1,289.0 498.6,291.2 499.1,292.8Z" fill="#e099cc" stroke="#a878bc" stroke-width="0.35"/>
<path d="M504.9,292.1 501.1,293.9 501.7,295.8 501.8,295.9 504.5,294.8 504.9,292.2Z" fill="#e8aad6" stroke="#a878bc" stroke-width="0.35"/>
<path d="M501.8,295.9 501.7,295.8 499.0,296.9 499.0,298.7 501.2,299.6 502.7,298.1Z" fill="#e4a2d2" stroke="#a878bc" stroke-width="0.35"/>
<path d="M503.6,298.3 502.7,298.1 501.2,299.6 501.4,301.4 502.8,302.4 504.5,302.1 505.0,301.5Z" fill="#dc92c8" stroke="#a878bc" stroke-width="0.35"/>
<path d="M501.4,301.4 498.8,302.7 499.2,305.0 499.8,305.3 502.3,304.0 502.8,302.4Z" fill="#eaa8d6" stroke="#a878bc" stroke-width="0.35"/>
<path d="M503.7,306.4 502.3,304.0 499.8,305.3 500.5,306.7 502.2,307.3 503.7,306.5Z" fill="#e4a2d2" stroke="#a878bc" stroke-width="0.35"/>
<path d="M500.5,306.7 498.8,309.2 499.1,310.3 500.8,311.0 502.3,309.4 502.2,307.3Z" fill="#e8aad6" stroke="#a878bc" stroke-width="0.35"/>
<path d="M500.8,311.0 501.6,312.7 505.6,311.1 505.7,310.6 505.5,310.1 502.3,309.4Z" fill="#e59cd0" stroke="#a878bc" stroke-width="0.35"/>
<path d="M501.7,316.3 501.3,314.1 498.8,314.6 498.4,317.1 498.9,317.6 500.7,317.6Z" fill="#e4a2d2" stroke="#a878bc" stroke-width="0.35"/>
<path d="M503.5,316.9 501.7,316.3 500.7,317.6 503.8,317.6Z" fill="#eeb4dc" stroke="#a878bc" stroke-width="0.35"/>
<path d="M505.3,284.6 506.5,284.2 506.6,284.0 504.7,284.0Z" fill="#e59cd0" stroke="#a878bc" stroke-width="0.35"/>
<path d="M502.0,286.6 504.2,286.8 505.3,284.6 504.7,284.0 502.0,284.0Z" fill="#dc92c8" stroke="#a878bc" stroke-width="0.35"/>
<path d="M504.9,287.8 504.0,290.8 504.9,292.1 504.9,292.2 505.0,292.2 507.8,290.1 507.1,288.0Z" fill="#eaa8d6" stroke="#a878bc" stroke-width="0.35"/>
<path d="M504.0,290.8 502.5,290.5 500.1,293.0 501.1,293.9 504.9,292.1Z" fill="#eaa8d6" stroke="#a878bc" stroke-width="0.35"/>
<path d="M504.9,292.2 504.5,294.8 505.9,296.6 506.5,296.4 507.5,293.7 505.0,292.2Z" fill="#e099cc" stroke="#a878bc" stroke-width="0.35"/>
<path d="M503.6,298.3 505.5,297.3 505.9,296.6 504.5,294.8 501.8,295.9 502.7,298.1Z" fill="#e099cc" stroke="#a878bc" stroke-width="0.35"/>
<path d="M506.5,300.9 506.9,299.8 505.5,297.3 503.6,298.3 505.0,301.5Z" fill="#eaa8d6" stroke="#a878bc" stroke-width="0.35"/>
<path d="M502.8,302.4 502.3,304.0 503.7,306.4 505.8,305.1 504.5,302.1Z" fill="#eaa8d6" stroke="#a878bc" stroke-width="0.35"/>
<path d="M505.5,309.2 507.0,307.4 506.2,305.2 505.8,305.1 503.7,306.4 503.7,306.5Z" fill="#eaa8d6" stroke="#a878bc" stroke-width="0.35"/>
<path d="M502.2,307.3 502.3,309.4 505.5,310.1 505.5,309.2 503.7,306.5Z" fill="#e59cd0" stroke="#a878bc" stroke-width="0.35"/>
<path d="M501.6,313.6 504.8,314.7 505.4,314.6 506.4,313.6 505.6,311.1 501.6,312.7Z" fill="#f2c0e2" stroke="#a878bc" stroke-width="0.35"/>
<path d="M503.5,316.9 504.8,314.7 501.6,313.6 501.3,314.1 501.7,316.3Z" fill="#e4a2d2" stroke="#a878bc" stroke-width="0.35"/>
<path d="M505.4,314.6 504.8,314.7 503.5,316.9 503.8,317.6 506.2,317.6Z" fill="#f2c0e2" stroke="#a878bc" stroke-width="0.35"/>
<path d="M506.5,284.2 508.8,285.8 510.0,284.0 506.6,284.0Z" fill="#e59cd0" stroke="#a878bc" stroke-width="0.35"/>
<path d="M508.8,285.8 506.5,284.2 505.3,284.6 504.2,286.8 504.9,287.8 507.1,288.0 508.9,286.2Z" fill="#dc92c8" stroke="#a878bc" stroke-width="0.35"/>
<path d="M507.1,288.0 507.8,290.1 509.5,290.7 510.5,289.2 509.6,286.7 508.9,286.2Z" fill="#eeb4dc" stroke="#a878bc" stroke-width="0.35"/>
<path d="M507.8,290.1 505.0,292.2 507.5,293.7 508.9,293.6 509.9,291.9 509.5,290.7Z" fill="#e099cc" stroke="#a878bc" stroke-width="0.35"/>
<path d="M506.5,296.4 508.1,296.8 509.6,295.1 508.9,293.6 507.5,293.7Z" fill="#eeb4dc" stroke="#a878bc" stroke-width="0.35"/>
<path d="M506.5,296.4 505.9,296.6 505.5,297.3 506.9,299.8 509.0,298.5 508.1,296.8Z" fill="#e8aad6" stroke="#a878bc" stroke-width="0.35"/>
<path d="M510.5,301.3 510.2,298.9 509.0,298.5 506.9,299.8 506.5,300.9 508.9,302.4Z" fill="#e8aad6" stroke="#a878bc" stroke-width="0.35"/>
<path d="M504.5,302.1 505.8,305.1 506.2,305.2 508.7,304.2 508.9,302.4 506.5,300.9 505.0,301.5Z" fill="#eeb4dc" stroke="#a878bc" stroke-width="0.35"/>
<path d="M509.3,307.9 510.4,306.7 510.4,305.9 508.7,304.2 506.2,305.2 507.0,307.4Z" fill="#eeb4dc" stroke="#a878bc" stroke-width="0.35"/>
<path d="M505.7,310.6 509.1,309.9 509.3,307.9 507.0,307.4 505.5,309.2 505.5,310.1Z" fill="#eeb4dc" stroke="#a878bc" stroke-width="0.35"/>
<path d="M506.4,313.6 507.6,313.9 510.5,312.4 510.6,311.7 509.1,309.9 505.7,310.6 505.6,311.1Z" fill="#f2c0e2" stroke="#a878bc" stroke-width="0.35"/>
<path d="M506.2,317.6 507.9,317.6 508.7,316.6 507.6,313.9 506.4,313.6 505.4,314.6Z" fill="#e8aad6" stroke="#a878bc" stroke-width="0.35"/>
<path d="M510.6,316.6 508.7,316.6 507.9,317.6 510.9,317.6Z" fill="#e59cd0" stroke="#a878bc" stroke-width="0.35"/>
<path d="M509.6,286.7 512.4,286.3 512.4,286.3 512.4,284.0 510.0,284.0 508.8,285.8 508.9,286.2Z" fill="#f2c0e2" stroke="#a878bc" stroke-width="0.35"/>
<path d="M510.5,289.2 512.4,289.1 512.4,286.3 512.4,286.3 509.6,286.7Z" fill="#e59cd0" stroke="#a878bc" stroke-width="0.35"/>
<path d="M510.5,289.2 509.5,290.7 509.9,291.9 511.7,292.3 512.4,291.4 512.4,289.1Z" fill="#e8aad6" stroke="#a878bc" stroke-width="0.35"/>
<path d="M508.9,293.6 509.6,295.1 511.2,295.8 512.4,295.0 512.4,293.2 511.7,292.3 509.9,291.9Z" fill="#e4a2d2" stroke="#a878bc" stroke-width="0.35"/>
<path d="M509.6,295.1 508.1,296.8 509.0,298.5 510.2,298.9 511.1,298.1 511.2,295.8Z" fill="#e59cd0" stroke="#a878bc" stroke-width="0.35"/>
<path d="M512.4,301.5 512.4,298.4 511.1,298.1 510.2,298.9 510.5,301.3 511.9,301.8Z" fill="#eeb4dc" stroke="#a878bc" stroke-width="0.35"/>
<path d="M511.9,301.8 510.5,301.3 508.9,302.4 508.7,304.2 510.4,305.9 512.4,304.4 512.4,303.1Z" fill="#e4a2d2" stroke="#a878bc" stroke-width="0.35"/>
<path d="M510.4,305.9 510.4,306.7 512.4,307.9 512.4,304.4Z" fill="#e8aad6" stroke="#a878bc" stroke-width="0.35"/>
<path d="M510.6,311.7 512.4,310.5 512.4,307.9 510.4,306.7 509.3,307.9 509.1,309.9Z" fill="#e099cc" stroke="#a878bc" stroke-width="0.35"/>
<path d="M510.6,311.7 510.5,312.4 511.8,314.1 512.4,314.0 512.4,310.5Z" fill="#f2c0e2" stroke="#a878bc" stroke-width="0.35"/>
<path d="M510.5,312.4 507.6,313.9 508.7,316.6 510.6,316.6 511.6,315.6 511.8,314.1Z" fill="#dc92c8" stroke="#a878bc" stroke-width="0.35"/>
<path d="M511.6,315.6 510.6,316.6 510.9,317.6 512.4,317.6 512.4,316.1Z" fill="#e4a2d2" stroke="#a878bc" stroke-width="0.35"/>
<path d="M512.4,286.3 512.4,286.3 512.4,286.3Z" fill="#eaa8d6" stroke="#a878bc" stroke-width="0.35"/>
<path d="M512.4,293.2 512.4,291.4 511.7,292.3Z" fill="#eeb4dc" stroke="#a878bc" stroke-width="0.35"/>
<path d="M511.2,295.8 511.1,298.1 512.4,298.4 512.4,295.0Z" fill="#eeb4dc" stroke="#a878bc" stroke-width="0.35"/>
<path d="M511.9,301.8 512.4,303.1 512.4,301.5Z" fill="#dc92c8" stroke="#a878bc" stroke-width="0.35"/>
<path d="M511.8,314.1 511.6,315.6 512.4,316.1 512.4,314.0Z" fill="#e099cc" stroke="#a878bc" stroke-width="0.35"/>
<path d="M472.7,307.6 l-6.2,12.0" stroke="#f6eef6" stroke-width="0.8" fill="none" opacity="0.9"/>
<path d="M480.0,292.6 l-7.6,8.4" stroke="#f6eef6" stroke-width="0.8" fill="none" opacity="0.9"/>
</g>
<rect x="467.90" y="284.00" width="44.50" height="33.60" fill="none" stroke="#6e6e6e" stroke-width="1.1"/>
<g filter="url(#lb)">
<rect x="514.20" y="284.00" width="45.20" height="33.60" fill="#a674bc"/>
<path d="M517.0,288.5 517.1,288.0 516.9,287.6 516.5,287.4 514.2,287.1 514.2,293.1Z" fill="#e6a6d6" stroke="#9462b0" stroke-width="0.4"/>
<path d="M523.0,299.0 523.5,298.8 523.8,298.4 523.9,296.4 523.9,296.1 523.1,294.3 522.8,293.9 522.3,293.8 514.2,295.7 514.2,298.3Z" fill="#e29ed2" stroke="#9462b0" stroke-width="0.4"/>
<path d="M515.4,305.0 515.8,304.6 515.7,304.1 514.2,300.8 514.2,305.6Z" fill="#e6a6d6" stroke="#9462b0" stroke-width="0.4"/>
<path d="M518.9,307.2 519.1,306.6 518.7,306.1 516.4,305.0 515.8,305.0 514.2,305.8 514.2,312.5Z" fill="#e6a6d6" stroke="#9462b0" stroke-width="0.4"/>
<path d="M514.2,317.0 514.2,317.6 514.5,317.6Z" fill="#dc96cc" stroke="#9462b0" stroke-width="0.4"/>
<path d="M528.0,284.8 528.2,284.0 519.1,284.0 519.6,286.3 520.0,286.8 522.8,288.2 523.4,288.2 523.5,288.2 523.6,288.1 527.7,285.2Z" fill="#eab0da" stroke="#9462b0" stroke-width="0.4"/>
<path d="M517.6,287.3 517.9,287.2 518.9,286.8 519.3,286.5 519.3,286.0 518.8,284.0 514.2,284.0 514.2,286.8Z" fill="#e8aad8" stroke="#9462b0" stroke-width="0.4"/>
<path d="M514.5,295.3 522.3,293.6 522.7,293.3 522.9,292.9 522.9,289.0 522.6,288.4 519.9,287.0 519.3,286.9 518.1,287.4 517.7,287.7 514.2,293.6 514.2,295.3Z" fill="#e8aad8" stroke="#9462b0" stroke-width="0.4"/>
<path d="M525.3,306.2 525.4,306.1 525.5,305.5 523.9,299.8 523.6,299.5 523.3,299.3 514.5,298.6 514.2,298.7 514.2,300.4 516.1,304.4 516.4,304.7 519.6,306.3 519.9,306.4 524.7,306.5Z" fill="#eab0da" stroke="#9462b0" stroke-width="0.4"/>
<path d="M523.8,314.7 524.1,314.4 525.4,312.2 525.5,311.8 525.1,307.3 524.9,306.9 524.4,306.7 520.1,306.6 519.5,306.9 514.6,312.3 514.5,312.7 514.6,313.2 515.0,313.4 523.4,314.8Z" fill="#de98ce" stroke="#9462b0" stroke-width="0.4"/>
<path d="M514.8,317.6 523.1,317.6 523.6,315.8 523.5,315.2 523.0,314.9 514.2,313.5 514.2,316.5Z" fill="#dc96cc" stroke="#9462b0" stroke-width="0.4"/>
<path d="M533.7,288.4 534.1,288.2 537.3,284.0 537.3,284.0 528.4,284.0 528.2,284.6 528.3,285.0 528.5,285.3 533.2,288.3Z" fill="#eab0da" stroke="#9462b0" stroke-width="0.4"/>
<path d="M533.0,288.5 528.4,285.5 528.0,285.4 527.6,285.5 524.7,287.6 524.4,288.2 524.8,288.8 531.8,293.2 532.2,293.3 532.6,293.1 532.8,292.7 533.4,289.2Z" fill="#dc96cc" stroke="#9462b0" stroke-width="0.4"/>
<path d="M523.8,288.7 523.4,289.0 523.2,289.4 523.2,293.4 523.2,293.6 524.0,295.5 524.3,295.9 524.8,295.9 531.1,294.6 531.6,294.3 531.7,293.7 531.4,293.3 524.3,288.8Z" fill="#de98ce" stroke="#9462b0" stroke-width="0.4"/>
<path d="M532.2,303.6 534.1,296.4 533.9,295.8 533.1,294.8 532.4,294.5 524.7,296.2 524.3,296.4 524.1,296.8 523.9,299.1 523.9,299.4 525.6,305.0 525.9,305.5 526.4,305.5 531.7,304.1Z" fill="#de98ce" stroke="#9462b0" stroke-width="0.4"/>
<path d="M537.6,308.7 537.6,308.2 536.4,306.1 536.0,305.8 532.4,304.3 531.9,304.3 526.0,305.9 525.6,306.2 525.4,306.4 525.3,306.9 525.7,311.5 526.1,312.1 527.8,313.0 528.1,313.0 531.7,313.0 532.1,312.9 537.4,309.2Z" fill="#dc96cc" stroke="#9462b0" stroke-width="0.4"/>
<path d="M527.9,313.4 527.7,313.2 526.2,312.5 525.7,312.5 525.3,312.8 524.1,314.9 524.0,315.1 523.4,317.6 531.4,317.6Z" fill="#e29ed2" stroke="#9462b0" stroke-width="0.4"/>
<path d="M533.9,288.9 533.6,289.4 532.9,293.9 532.9,294.1 532.9,294.1 533.1,294.5 534.1,295.6 534.7,295.9 537.3,295.6 537.7,295.5 541.5,292.1 541.7,291.7 541.6,291.2 541.2,290.9 534.5,288.9Z" fill="#e8aad8" stroke="#9462b0" stroke-width="0.4"/>
<path d="M542.8,292.0 542.4,291.8 541.9,292.0 538.1,295.3 537.9,295.8 538.0,296.2 541.1,300.4 541.5,300.7 542.0,300.6 543.8,299.5 544.1,299.2 544.1,298.8 543.1,292.4Z" fill="#dc96cc" stroke="#9462b0" stroke-width="0.4"/>
<path d="M541.1,300.8 537.7,296.2 537.1,295.9 534.8,296.1 534.4,296.3 534.2,296.6 532.4,303.4 532.5,303.9 532.8,304.2 536.0,305.5 536.7,305.4 541.0,301.8 541.2,301.5 541.2,301.4Z" fill="#e6a6d6" stroke="#9462b0" stroke-width="0.4"/>
<path d="M538.0,309.3 537.6,309.4 533.2,312.5 532.9,312.9 532.9,313.3 533.2,313.7 537.9,316.4 538.4,316.5 539.2,316.4 539.7,316.2 539.8,315.7 540.1,311.5 539.9,311.0 538.5,309.5Z" fill="#eab0da" stroke="#9462b0" stroke-width="0.4"/>
<path d="M536.6,317.2 536.9,316.9 537.0,316.4 536.7,316.0 532.1,313.4 531.8,313.3 529.6,313.3 529.1,313.5 528.9,313.9 529.1,314.4 531.7,317.6 535.7,317.6Z" fill="#dc96cc" stroke="#9462b0" stroke-width="0.4"/>
<path d="M540.2,316.9 539.5,316.6 538.2,316.8 538.0,316.8 536.2,317.6 540.7,317.6Z" fill="#e6a6d6" stroke="#9462b0" stroke-width="0.4"/>
<path d="M544.8,287.0 545.3,287.2 545.8,286.9 548.1,284.0 541.9,284.0Z" fill="#e8aad8" stroke="#9462b0" stroke-width="0.4"/>
<path d="M543.0,290.9 545.1,288.9 545.3,288.3 545.3,288.0 545.1,287.6 541.6,284.0 537.6,284.0 534.7,287.7 534.6,288.3 535.1,288.8 542.4,291.1Z" fill="#e6a6d6" stroke="#9462b0" stroke-width="0.4"/>
<path d="M544.5,299.1 544.8,299.3 547.5,299.8 547.9,299.7 548.2,299.4 551.2,292.9 551.3,292.4 550.9,292.0 545.9,289.1 545.5,289.0 545.1,289.2 543.3,290.9 543.1,291.6 544.3,298.7Z" fill="#e8aad8" stroke="#9462b0" stroke-width="0.4"/>
<path d="M541.5,301.5 541.7,302.1 547.4,307.6 547.8,307.7 548.3,307.6 548.5,307.3 549.7,303.6 549.6,303.0 548.1,300.3 547.7,300.0 544.6,299.4 544.1,299.5 541.8,300.9Z" fill="#de98ce" stroke="#9462b0" stroke-width="0.4"/>
<path d="M538.3,308.8 540.0,310.6 540.3,310.8 540.7,310.8 546.5,308.4 546.9,308.1 546.9,307.7 546.7,307.3 541.6,302.4 541.2,302.2 540.7,302.3 537.0,305.5 536.8,305.9 536.8,306.4 538.2,308.7Z" fill="#de98ce" stroke="#9462b0" stroke-width="0.4"/>
<path d="M552.5,313.3 552.6,312.8 552.4,312.4 548.6,308.4 548.0,308.1 547.9,308.2 547.7,308.2 540.8,311.1 540.3,311.7 540.1,316.1 540.2,316.6 540.9,317.6 548.7,317.6Z" fill="#e29ed2" stroke="#9462b0" stroke-width="0.4"/>
<path d="M556.3,286.2 556.7,286.4 557.2,286.4 557.5,286.0 558.3,284.0 554.7,284.0Z" fill="#de98ce" stroke="#9462b0" stroke-width="0.4"/>
<path d="M557.2,288.7 557.2,288.3 557.0,287.6 556.9,287.3 554.5,284.0 548.4,284.0 545.6,287.5 545.5,288.1 545.5,288.3 545.9,288.8 551.5,292.1 551.8,292.1 552.0,292.2 552.4,292.0 556.9,289.0Z" fill="#dc96cc" stroke="#9462b0" stroke-width="0.4"/>
<path d="M557.7,289.0 557.2,289.1 552.9,291.9 552.6,292.3 552.7,292.9 555.6,297.3 556.1,297.6 556.6,297.4 559.4,294.9 559.4,289.3Z" fill="#dc96cc" stroke="#9462b0" stroke-width="0.4"/>
<path d="M552.2,292.7 551.7,292.7 551.3,293.1 548.3,299.6 548.3,300.3 549.7,302.6 550.0,302.9 550.5,303.0 553.8,301.9 554.1,301.7 556.1,299.6 556.2,298.9 555.9,298.2 555.9,298.0 552.5,293.0Z" fill="#dc96cc" stroke="#9462b0" stroke-width="0.4"/>
<path d="M558.4,309.5 558.3,309.1 554.3,302.6 553.9,302.3 553.5,302.3 550.3,303.2 549.9,303.7 548.7,307.6 548.8,308.3 552.9,312.5 553.3,312.7 555.7,312.9 556.3,312.6 558.3,309.9Z" fill="#de98ce" stroke="#9462b0" stroke-width="0.4"/>
<path d="M557.6,315.7 557.5,315.1 556.3,313.4 555.8,313.1 553.4,312.9 552.8,313.2 549.0,317.6 557.0,317.6Z" fill="#e29ed2" stroke="#9462b0" stroke-width="0.4"/>
<path d="M558.6,316.4 558.2,316.2 557.7,316.3 557.4,316.7 557.1,317.6 559.4,317.6 559.4,317.2Z" fill="#dc96cc" stroke="#9462b0" stroke-width="0.4"/>
<path d="M557.3,287.2 557.3,287.6 557.4,288.3 558.0,288.8 559.4,289.1 559.4,284.0 558.5,284.0Z" fill="#e29ed2" stroke="#9462b0" stroke-width="0.4"/>
<path d="M556.5,297.8 556.3,298.1 556.3,298.5 556.4,298.9 556.9,299.3 559.2,300.0 559.4,299.9 559.4,295.1Z" fill="#de98ce" stroke="#9462b0" stroke-width="0.4"/>
<path d="M559.2,300.2 556.9,299.5 556.2,299.7 554.5,301.6 554.3,302.0 554.4,302.4 558.4,308.8 558.8,309.1 559.4,309.0 559.4,309.0 559.4,300.3Z" fill="#e8aad8" stroke="#9462b0" stroke-width="0.4"/>
<path d="M558.9,309.6 558.7,309.7 556.6,312.6 556.5,313.0 556.6,313.4 557.5,314.8 558.1,315.1 559.4,315.0 559.4,309.2Z" fill="#dc96cc" stroke="#9462b0" stroke-width="0.4"/>
<path d="M558.9,315.5 558.8,316.0 559.0,316.4 559.4,316.9 559.4,315.2Z" fill="#dc96cc" stroke="#9462b0" stroke-width="0.4"/>
<path d="M557.8,284.4 l-4.9,5.4" stroke="#f6eef6" stroke-width="0.8" fill="none" opacity="0.9"/>
<path d="M558.8,284.6 l-10.6,4.2" stroke="#f6eef6" stroke-width="0.8" fill="none" opacity="0.9"/>
</g>
<rect x="514.20" y="284.00" width="45.20" height="33.60" fill="none" stroke="#6e6e6e" stroke-width="1.1"/>
<rect x="485.80" y="221.00" width="24.40" height="17.80" fill="none" stroke="#151515" stroke-width="0.7" stroke-dasharray="1 0.8"/>
<rect x="482.00" y="258.50" width="24.00" height="17.50" fill="none" stroke="#151515" stroke-width="0.7" stroke-dasharray="1 0.8"/>
<rect x="477.00" y="293.00" width="24.00" height="17.00" fill="none" stroke="#151515" stroke-width="0.7" stroke-dasharray="1 0.8"/>
<line x1="508.30" y1="314.50" x2="511.00" y2="314.50" stroke="#111" stroke-width="1.1"/>
<line x1="553.00" y1="314.50" x2="557.50" y2="314.50" stroke="#111" stroke-width="1.1"/>
<text transform="translate(463.80 230.80) rotate(-90) scale(1 1.045)" font-size="9.4" text-anchor="middle" stroke="#1e1e1e">WT Ctrl</text>
<text transform="translate(463.80 266.00) rotate(-90) scale(1 1.045)" font-size="9.4" text-anchor="middle" stroke="#1e1e1e">Veh</text>
<text transform="translate(463.80 301.00) rotate(-90) scale(1 1.045)" font-size="9.4" text-anchor="middle" stroke="#1e1e1e">Osi</text>
<line x1="454.50" y1="254.60" x2="454.50" y2="311.50" stroke="#222" stroke-width="0.9"/>
<text transform="translate(451.40 283.00) rotate(-90) scale(1 1.045)" font-size="9.4" text-anchor="middle" stroke="#1e1e1e">EPP</text>
<line x1="618.50" y1="203.50" x2="618.50" y2="317.00" stroke="#262626" stroke-width="1"/>
<line x1="615.30" y1="317.50" x2="618.30" y2="317.50" stroke="#262626" stroke-width="1"/>
<text transform="translate(613.80 320.20) scale(1 1.045)" font-size="9.4" text-anchor="end" stroke="#1e1e1e">0</text>
<line x1="615.30" y1="288.50" x2="618.30" y2="288.50" stroke="#262626" stroke-width="1"/>
<text transform="translate(613.80 291.82) scale(1 1.045)" font-size="9.4" text-anchor="end" stroke="#1e1e1e">1000</text>
<line x1="615.30" y1="260.50" x2="618.30" y2="260.50" stroke="#262626" stroke-width="1"/>
<text transform="translate(613.80 263.45) scale(1 1.045)" font-size="9.4" text-anchor="end" stroke="#1e1e1e">2000</text>
<line x1="615.30" y1="231.50" x2="618.30" y2="231.50" stroke="#262626" stroke-width="1"/>
<text transform="translate(613.80 235.07) scale(1 1.045)" font-size="9.4" text-anchor="end" stroke="#1e1e1e">3000</text>
<line x1="615.30" y1="203.50" x2="618.30" y2="203.50" stroke="#262626" stroke-width="1"/>
<text transform="translate(613.80 206.70) scale(1 1.045)" font-size="9.4" text-anchor="end" stroke="#1e1e1e">4000</text>
<rect x="625.40" y="243.30" width="13.00" height="73.70" fill="#dcdcdc" stroke="#444" stroke-width="0.9"/>
<rect x="645.30" y="283.30" width="13.00" height="33.70" fill="#c5c4dc" stroke="#444" stroke-width="0.9"/>
<rect x="665.40" y="251.50" width="13.00" height="65.50" fill="#d9b6cd" stroke="#444" stroke-width="0.9"/>
<line x1="618.30" y1="317.50" x2="685.00" y2="317.50" stroke="#262626" stroke-width="1"/>
<line x1="631.50" y1="317.00" x2="631.50" y2="319.50" stroke="#262626" stroke-width="1"/>
<line x1="651.50" y1="317.00" x2="651.50" y2="319.50" stroke="#262626" stroke-width="1"/>
<line x1="671.50" y1="317.00" x2="671.50" y2="319.50" stroke="#262626" stroke-width="1"/>
<line x1="631.50" y1="236.50" x2="631.50" y2="250.00" stroke="#222" stroke-width="1"/>
<line x1="628.30" y1="236.50" x2="635.30" y2="236.50" stroke="#222" stroke-width="1"/>
<line x1="628.30" y1="250.50" x2="635.30" y2="250.50" stroke="#222" stroke-width="1"/>
<circle cx="631.70" cy="231.90" r="1.7" fill="#fff" stroke="#222" stroke-width="0.75"/>
<circle cx="629.60" cy="236.60" r="1.7" fill="#fff" stroke="#222" stroke-width="0.75"/>
<circle cx="627.00" cy="240.10" r="1.7" fill="#fff" stroke="#222" stroke-width="0.75"/>
<circle cx="633.10" cy="238.40" r="1.7" fill="#fff" stroke="#222" stroke-width="0.75"/>
<circle cx="636.60" cy="238.90" r="1.7" fill="#fff" stroke="#222" stroke-width="0.75"/>
<circle cx="629.60" cy="242.70" r="1.7" fill="#fff" stroke="#222" stroke-width="0.75"/>
<circle cx="633.10" cy="245.30" r="1.7" fill="#fff" stroke="#222" stroke-width="0.75"/>
<circle cx="629.60" cy="248.00" r="1.7" fill="#fff" stroke="#222" stroke-width="0.75"/>
<circle cx="633.10" cy="250.60" r="1.7" fill="#fff" stroke="#222" stroke-width="0.75"/>
<circle cx="631.70" cy="255.80" r="1.7" fill="#fff" stroke="#222" stroke-width="0.75"/>
<line x1="651.50" y1="276.30" x2="651.50" y2="287.00" stroke="#222" stroke-width="1"/>
<line x1="648.30" y1="276.50" x2="655.30" y2="276.50" stroke="#222" stroke-width="1"/>
<line x1="648.30" y1="287.50" x2="655.30" y2="287.50" stroke="#222" stroke-width="1"/>
<circle cx="651.80" cy="267.20" r="1.7" fill="#fff" stroke="#222" stroke-width="0.75"/>
<circle cx="651.80" cy="276.30" r="1.7" fill="#fff" stroke="#222" stroke-width="0.75"/>
<circle cx="648.00" cy="285.60" r="1.7" fill="#fff" stroke="#222" stroke-width="0.75"/>
<circle cx="651.50" cy="286.40" r="1.7" fill="#fff" stroke="#222" stroke-width="0.75"/>
<circle cx="655.00" cy="285.60" r="1.7" fill="#fff" stroke="#222" stroke-width="0.75"/>
<circle cx="649.50" cy="284.50" r="1.7" fill="#fff" stroke="#222" stroke-width="0.75"/>
<circle cx="653.50" cy="283.80" r="1.7" fill="#fff" stroke="#222" stroke-width="0.75"/>
<line x1="671.50" y1="243.30" x2="671.50" y2="258.00" stroke="#222" stroke-width="1"/>
<line x1="668.30" y1="243.50" x2="675.30" y2="243.50" stroke="#222" stroke-width="1"/>
<line x1="668.30" y1="258.50" x2="675.30" y2="258.50" stroke="#222" stroke-width="1"/>
<circle cx="670.70" cy="238.00" r="1.7" fill="#fff" stroke="#222" stroke-width="0.75"/>
<circle cx="672.60" cy="238.00" r="1.7" fill="#fff" stroke="#222" stroke-width="0.75"/>
<circle cx="669.80" cy="248.00" r="1.7" fill="#fff" stroke="#222" stroke-width="0.75"/>
<circle cx="671.60" cy="252.30" r="1.7" fill="#fff" stroke="#222" stroke-width="0.75"/>
<circle cx="667.30" cy="255.00" r="1.7" fill="#fff" stroke="#222" stroke-width="0.75"/>
<circle cx="670.70" cy="255.00" r="1.7" fill="#fff" stroke="#222" stroke-width="0.75"/>
<circle cx="674.20" cy="255.00" r="1.7" fill="#fff" stroke="#222" stroke-width="0.75"/>
<circle cx="676.80" cy="255.00" r="1.7" fill="#fff" stroke="#222" stroke-width="0.75"/>
<circle cx="671.60" cy="259.30" r="1.7" fill="#fff" stroke="#222" stroke-width="0.75"/>
<text transform="translate(634.10 328.70) rotate(-45) scale(1 1.045)" font-size="9.5" text-anchor="end" stroke="#1e1e1e">WT Ctrl</text>
<text transform="translate(654.10 328.70) rotate(-45) scale(1 1.045)" font-size="9.5" text-anchor="end" stroke="#1e1e1e">Veh</text>
<text transform="translate(674.10 328.70) rotate(-45) scale(1 1.045)" font-size="9.5" text-anchor="end" stroke="#1e1e1e">Osi</text>
<line x1="634.20" y1="342.50" x2="674.10" y2="342.50" stroke="#9a8e96" stroke-width="1"/>
<text transform="translate(654.15 355.30) scale(1 1.045)" font-size="9.4" text-anchor="middle" stroke="#1e1e1e">EPP</text>
<text transform="translate(584.70 260.80) rotate(-90) scale(1 1.045)" font-size="9.05" text-anchor="middle" stroke="#1e1e1e">Mean CSA (μm<tspan dy="-3" font-size="6">2</tspan><tspan dy="3">)</tspan></text>
<line x1="627.30" y1="182.60" x2="666.70" y2="182.60" stroke="#8d9cab" stroke-width="1.25"/>
<text transform="translate(647.00 180.70) scale(1 1.045)" font-size="6.7" text-anchor="middle" fill="#4a4444" stroke="#4a4444">p=0.0416</text>
<line x1="651.60" y1="192.40" x2="671.60" y2="192.40" stroke="#56677a" stroke-width="1.25"/>
<text transform="translate(661.60 190.50) scale(1 1.045)" font-size="6.7" text-anchor="middle" fill="#4a4444" stroke="#4a4444">p&lt;0.0001</text>
<line x1="631.70" y1="202.40" x2="652.00" y2="202.40" stroke="#56677a" stroke-width="1.25"/>
<text transform="translate(641.85 200.50) scale(1 1.045)" font-size="6.7" text-anchor="middle" fill="#4a4444" stroke="#4a4444">p&lt;0.0001</text>
<text transform="translate(-0.60 387.60) scale(1 1.045)" font-size="13" fill="#000" stroke="#000" font-weight="bold">i</text>
<text transform="translate(266.80 387.60) scale(1 1.045)" font-size="13" fill="#000" stroke="#000" font-weight="bold">j</text>
<text transform="translate(430.80 387.60) scale(1 1.045)" font-size="13" fill="#000" stroke="#000" font-weight="bold">k</text>
<text transform="translate(574.80 387.60) scale(1 1.045)" font-size="13" fill="#000" stroke="#000" font-weight="bold">l</text>
<line x1="46.50" y1="414.80" x2="46.50" y2="520.20" stroke="#262626" stroke-width="1"/>
<line x1="43.10" y1="520.50" x2="46.10" y2="520.50" stroke="#262626" stroke-width="1"/>
<text transform="translate(41.60 523.40) scale(1 1.045)" font-size="9.4" text-anchor="end" stroke="#1e1e1e">0</text>
<line x1="43.10" y1="499.50" x2="46.10" y2="499.50" stroke="#262626" stroke-width="1"/>
<text transform="translate(41.60 502.32) scale(1 1.045)" font-size="9.4" text-anchor="end" stroke="#1e1e1e">10</text>
<line x1="43.10" y1="478.50" x2="46.10" y2="478.50" stroke="#262626" stroke-width="1"/>
<text transform="translate(41.60 481.24) scale(1 1.045)" font-size="9.4" text-anchor="end" stroke="#1e1e1e">20</text>
<line x1="43.10" y1="456.50" x2="46.10" y2="456.50" stroke="#262626" stroke-width="1"/>
<text transform="translate(41.60 460.16) scale(1 1.045)" font-size="9.4" text-anchor="end" stroke="#1e1e1e">30</text>
<line x1="43.10" y1="435.50" x2="46.10" y2="435.50" stroke="#262626" stroke-width="1"/>
<text transform="translate(41.60 439.08) scale(1 1.045)" font-size="9.4" text-anchor="end" stroke="#1e1e1e">40</text>
<line x1="43.10" y1="414.50" x2="46.10" y2="414.50" stroke="#262626" stroke-width="1"/>
<text transform="translate(41.60 418.00) scale(1 1.045)" font-size="9.4" text-anchor="end" stroke="#1e1e1e">50</text>
<rect x="48.75" y="519.15" width="4.30" height="1.05" fill="#a4a4a4" stroke="none" stroke-width="1"/>
<circle cx="50.90" cy="519.15" r="1.55" fill="#fff" stroke="#333" stroke-width="0.65"/>
<rect x="55.15" y="510.71" width="4.30" height="9.49" fill="#b2aadf" stroke="none" stroke-width="1"/>
<rect x="55.80" y="509.21" width="3.00" height="3.00" fill="#fff" stroke="#333" stroke-width="0.65"/>
<rect x="61.65" y="519.15" width="4.30" height="1.05" fill="#daa2cc" stroke="none" stroke-width="1"/>
<polygon points="62.00,520.35 65.60,520.35 63.80,517.35" fill="#fff" stroke="#333" stroke-width="0.65"/>
<rect x="71.85" y="512.82" width="4.30" height="7.38" fill="#a4a4a4" stroke="none" stroke-width="1"/>
<circle cx="74.00" cy="512.82" r="1.55" fill="#fff" stroke="#333" stroke-width="0.65"/>
<rect x="78.25" y="438.62" width="4.30" height="81.58" fill="#b2aadf" stroke="none" stroke-width="1"/>
<rect x="78.90" y="437.12" width="3.00" height="3.00" fill="#fff" stroke="#333" stroke-width="0.65"/>
<rect x="84.75" y="505.65" width="4.30" height="14.55" fill="#daa2cc" stroke="none" stroke-width="1"/>
<polygon points="85.10,506.85 88.70,506.85 86.90,503.85" fill="#fff" stroke="#333" stroke-width="0.65"/>
<rect x="94.95" y="489.42" width="4.30" height="30.78" fill="#a4a4a4" stroke="none" stroke-width="1"/>
<circle cx="97.10" cy="489.42" r="1.55" fill="#fff" stroke="#333" stroke-width="0.65"/>
<rect x="101.35" y="459.70" width="4.30" height="60.50" fill="#b2aadf" stroke="none" stroke-width="1"/>
<rect x="102.00" y="458.20" width="3.00" height="3.00" fill="#fff" stroke="#333" stroke-width="0.65"/>
<rect x="107.85" y="491.11" width="4.30" height="29.09" fill="#daa2cc" stroke="none" stroke-width="1"/>
<polygon points="108.20,492.31 111.80,492.31 110.00,489.31" fill="#fff" stroke="#333" stroke-width="0.65"/>
<rect x="118.05" y="481.83" width="4.30" height="38.37" fill="#a4a4a4" stroke="none" stroke-width="1"/>
<circle cx="120.20" cy="481.83" r="1.55" fill="#fff" stroke="#333" stroke-width="0.65"/>
<rect x="124.45" y="481.62" width="4.30" height="38.58" fill="#b2aadf" stroke="none" stroke-width="1"/>
<rect x="125.10" y="480.12" width="3.00" height="3.00" fill="#fff" stroke="#333" stroke-width="0.65"/>
<rect x="130.95" y="486.68" width="4.30" height="33.52" fill="#daa2cc" stroke="none" stroke-width="1"/>
<polygon points="131.30,487.88 134.90,487.88 133.10,484.88" fill="#fff" stroke="#333" stroke-width="0.65"/>
<rect x="141.15" y="485.84" width="4.30" height="34.36" fill="#a4a4a4" stroke="none" stroke-width="1"/>
<circle cx="143.30" cy="485.84" r="1.55" fill="#fff" stroke="#333" stroke-width="0.65"/>
<rect x="147.55" y="506.71" width="4.30" height="13.49" fill="#b2aadf" stroke="none" stroke-width="1"/>
<rect x="148.20" y="505.21" width="3.00" height="3.00" fill="#fff" stroke="#333" stroke-width="0.65"/>
<rect x="154.05" y="484.79" width="4.30" height="35.41" fill="#daa2cc" stroke="none" stroke-width="1"/>
<polygon points="154.40,485.99 158.00,485.99 156.20,482.99" fill="#fff" stroke="#333" stroke-width="0.65"/>
<rect x="164.25" y="493.85" width="4.30" height="26.35" fill="#a4a4a4" stroke="none" stroke-width="1"/>
<circle cx="166.40" cy="493.85" r="1.55" fill="#fff" stroke="#333" stroke-width="0.65"/>
<rect x="170.65" y="513.88" width="4.30" height="6.32" fill="#b2aadf" stroke="none" stroke-width="1"/>
<rect x="171.30" y="512.38" width="3.00" height="3.00" fill="#fff" stroke="#333" stroke-width="0.65"/>
<rect x="177.15" y="482.47" width="4.30" height="37.73" fill="#daa2cc" stroke="none" stroke-width="1"/>
<polygon points="177.50,483.67 181.10,483.67 179.30,480.67" fill="#fff" stroke="#333" stroke-width="0.65"/>
<rect x="187.35" y="500.38" width="4.30" height="19.82" fill="#a4a4a4" stroke="none" stroke-width="1"/>
<circle cx="189.50" cy="500.38" r="1.55" fill="#fff" stroke="#333" stroke-width="0.65"/>
<rect x="193.75" y="519.36" width="4.30" height="0.84" fill="#b2aadf" stroke="none" stroke-width="1"/>
<rect x="194.40" y="517.86" width="3.00" height="3.00" fill="#fff" stroke="#333" stroke-width="0.65"/>
<rect x="200.25" y="490.69" width="4.30" height="29.51" fill="#daa2cc" stroke="none" stroke-width="1"/>
<polygon points="200.60,491.89 204.20,491.89 202.40,488.89" fill="#fff" stroke="#333" stroke-width="0.65"/>
<rect x="210.45" y="501.44" width="4.30" height="18.76" fill="#a4a4a4" stroke="none" stroke-width="1"/>
<circle cx="212.60" cy="501.44" r="1.55" fill="#fff" stroke="#333" stroke-width="0.65"/>
<rect x="216.85" y="519.57" width="4.30" height="0.63" fill="#b2aadf" stroke="none" stroke-width="1"/>
<rect x="217.50" y="518.07" width="3.00" height="3.00" fill="#fff" stroke="#333" stroke-width="0.65"/>
<rect x="223.35" y="502.70" width="4.30" height="17.50" fill="#daa2cc" stroke="none" stroke-width="1"/>
<polygon points="223.70,503.90 227.30,503.90 225.50,500.90" fill="#fff" stroke="#333" stroke-width="0.65"/>
<rect x="233.55" y="486.26" width="4.30" height="33.94" fill="#a4a4a4" stroke="none" stroke-width="1"/>
<circle cx="235.70" cy="486.26" r="1.55" fill="#fff" stroke="#333" stroke-width="0.65"/>
<rect x="239.95" y="519.78" width="4.30" height="0.42" fill="#b2aadf" stroke="none" stroke-width="1"/>
<rect x="240.60" y="518.28" width="3.00" height="3.00" fill="#fff" stroke="#333" stroke-width="0.65"/>
<rect x="246.45" y="512.61" width="4.30" height="7.59" fill="#daa2cc" stroke="none" stroke-width="1"/>
<polygon points="246.80,513.81 250.40,513.81 248.60,510.81" fill="#fff" stroke="#333" stroke-width="0.65"/>
<line x1="46.10" y1="520.50" x2="253.30" y2="520.50" stroke="#262626" stroke-width="1"/>
<line x1="57.50" y1="520.20" x2="57.50" y2="522.70" stroke="#262626" stroke-width="1"/>
<line x1="80.50" y1="520.20" x2="80.50" y2="522.70" stroke="#262626" stroke-width="1"/>
<line x1="103.50" y1="520.20" x2="103.50" y2="522.70" stroke="#262626" stroke-width="1"/>
<line x1="126.50" y1="520.20" x2="126.50" y2="522.70" stroke="#262626" stroke-width="1"/>
<line x1="149.50" y1="520.20" x2="149.50" y2="522.70" stroke="#262626" stroke-width="1"/>
<line x1="172.50" y1="520.20" x2="172.50" y2="522.70" stroke="#262626" stroke-width="1"/>
<line x1="195.50" y1="520.20" x2="195.50" y2="522.70" stroke="#262626" stroke-width="1"/>
<line x1="219.50" y1="520.20" x2="219.50" y2="522.70" stroke="#262626" stroke-width="1"/>
<line x1="242.50" y1="520.20" x2="242.50" y2="522.70" stroke="#262626" stroke-width="1"/>
<text transform="translate(60.10 529.10) rotate(-45) scale(1 1.045)" font-size="9.5" text-anchor="end" stroke="#1e1e1e">&lt;500</text>
<text transform="translate(83.20 529.10) rotate(-45) scale(1 1.045)" font-size="9.5" text-anchor="end" stroke="#1e1e1e">500-1000</text>
<text transform="translate(106.30 529.10) rotate(-45) scale(1 1.045)" font-size="9.5" text-anchor="end" stroke="#1e1e1e">1000-1500</text>
<text transform="translate(129.40 529.10) rotate(-45) scale(1 1.045)" font-size="9.5" text-anchor="end" stroke="#1e1e1e">1500-2000</text>
<text transform="translate(152.50 529.10) rotate(-45) scale(1 1.045)" font-size="9.5" text-anchor="end" stroke="#1e1e1e">2000-2500</text>
<text transform="translate(175.60 529.10) rotate(-45) scale(1 1.045)" font-size="9.5" text-anchor="end" stroke="#1e1e1e">2500-3000</text>
<text transform="translate(198.70 529.10) rotate(-45) scale(1 1.045)" font-size="9.5" text-anchor="end" stroke="#1e1e1e">3000-3500</text>
<text transform="translate(221.80 529.10) rotate(-45) scale(1 1.045)" font-size="9.5" text-anchor="end" stroke="#1e1e1e">3500-4000</text>
<text transform="translate(244.90 529.10) rotate(-45) scale(1 1.045)" font-size="9.5" text-anchor="end" stroke="#1e1e1e">&gt;4000</text>
<text transform="translate(25.00 469.30) rotate(-90) scale(1 1.045)" font-size="9.05" text-anchor="middle" stroke="#1e1e1e">Relative frequency (%)</text>
<rect x="194.10" y="420.50" width="10.90" height="5.30" fill="#a4a4a4" stroke="none" stroke-width="1"/>
<circle cx="199.50" cy="423.15" r="1.1" fill="#fff" stroke="#333" stroke-width="0.6"/>
<text transform="translate(210.90 426.50) scale(1 1.045)" font-size="9.3" stroke="#1e1e1e">WT Ctrl</text>
<rect x="194.10" y="433.00" width="10.90" height="5.30" fill="#b2aadf" stroke="none" stroke-width="1"/>
<rect x="198.40" y="434.55" width="2.20" height="2.20" fill="#fff" stroke="#333" stroke-width="0.6"/>
<text transform="translate(210.90 439.00) scale(1 1.045)" font-size="9.3" stroke="#1e1e1e">Veh</text>
<rect x="194.10" y="445.70" width="10.90" height="5.30" fill="#daa2cc" stroke="none" stroke-width="1"/>
<polygon points="198.20,449.35 200.80,449.35 199.50,447.05" fill="#fff" stroke="#333" stroke-width="0.6"/>
<text transform="translate(210.90 451.70) scale(1 1.045)" font-size="9.3" stroke="#1e1e1e">Osi</text>
<line x1="229.50" y1="433.00" x2="229.50" y2="450.30" stroke="#222" stroke-width="0.9"/>
<text transform="translate(232.30 445.20) scale(1 1.045)" font-size="9.3" stroke="#1e1e1e">EPP</text>
<g filter="url(#lb)">
<rect x="309.00" y="424.30" width="53.80" height="40.20" fill="#c9c3cf"/>
<path d="M309.7,427.0 312.9,424.3 309.0,424.3 309.0,427.1Z" fill="#e5e4ea" stroke="none" stroke-width="0"/>
<path d="M316.1,444.1 315.3,441.7 314.7,440.9 309.0,436.8 309.0,451.6 310.2,452.1 311.4,451.4 315.9,445.7Z" fill="#e5e4ea" stroke="none" stroke-width="0"/>
<path d="M309.4,452.8 309.0,452.4 309.0,456.7 309.7,455.7 309.9,454.2Z" fill="#e5e4ea" stroke="none" stroke-width="0"/>
<path d="M315.8,462.0 315.2,461.2 310.7,457.7 309.0,457.5 309.0,464.5 315.4,464.5 315.8,463.0Z" fill="#e5e4ea" stroke="none" stroke-width="0"/>
<path d="M315.2,440.0 316.3,439.4 321.4,433.1 321.8,431.9 321.3,425.2 320.9,424.3 313.7,424.3 309.6,427.8 309.0,428.7 309.0,436.1 314.0,439.7Z" fill="#e5e4ea" stroke="none" stroke-width="0"/>
<path d="M317.8,445.0 326.8,447.0 327.9,446.9 328.7,446.0 330.6,441.1 330.6,440.1 330.0,439.2 323.4,434.0 322.2,433.7 321.1,434.3 316.2,440.3 315.9,442.0 316.6,443.9Z" fill="#e5e4ea" stroke="none" stroke-width="0"/>
<path d="M324.9,461.1 325.5,460.3 328.9,450.7 328.9,449.4 328.5,448.6 327.3,447.7 317.8,445.5 316.1,446.1 310.8,453.0 310.4,453.8 310.2,455.7 310.9,457.2 316.0,461.2 317.1,461.5 324.0,461.4Z" fill="#e5e4ea" stroke="none" stroke-width="0"/>
<path d="M325.7,462.6 324.4,461.9 317.9,462.0 316.9,462.4 316.3,463.3 315.9,464.5 327.2,464.5Z" fill="#e5e4ea" stroke="none" stroke-width="0"/>
<path d="M332.5,424.5 333.1,425.4 334.2,425.7 345.9,425.4 347.0,425.0 347.3,424.3 332.5,424.3Z" fill="#e5e4ea" stroke="none" stroke-width="0"/>
<path d="M322.9,433.0 330.3,438.8 331.3,439.1 332.4,438.7 333.7,437.7 334.3,436.1 333.1,426.7 332.6,425.7 332.2,425.3 331.1,424.8 323.6,424.6 322.4,425.1 321.9,426.4 322.3,431.8Z" fill="#e5e4ea" stroke="none" stroke-width="0"/>
<path d="M330.4,450.0 338.9,452.0 340.0,451.9 340.8,451.3 345.4,443.7 345.6,442.4 344.9,439.6 344.4,438.8 343.5,438.4 335.5,437.5 334.2,437.9 331.9,439.8 331.4,440.5 328.9,447.0 328.9,448.3 329.3,449.0Z" fill="#e5e4ea" stroke="none" stroke-width="0"/>
<path d="M343.0,460.9 343.7,459.9 343.5,458.7 340.4,453.4 339.4,452.6 331.1,450.6 329.9,450.8 329.1,451.7 325.9,460.8 326.2,462.4 327.8,464.5 337.8,464.5Z" fill="#e5e4ea" stroke="none" stroke-width="0"/>
<path d="M345.0,462.8 343.9,461.8 342.4,461.9 338.6,464.5 345.5,464.5Z" fill="#e5e4ea" stroke="none" stroke-width="0"/>
<path d="M348.0,425.1 348.1,426.0 349.1,427.9 350.2,428.7 351.5,428.5 358.1,424.3 348.0,424.3Z" fill="#e5e4ea" stroke="none" stroke-width="0"/>
<path d="M349.7,430.3 349.7,430.2 349.5,429.7 348.0,426.8 346.5,425.9 335.4,426.2 334.1,426.8 333.8,428.1 334.7,435.6 335.2,436.6 336.2,437.1 343.8,437.9 345.3,437.2 349.4,431.5Z" fill="#e5e4ea" stroke="none" stroke-width="0"/>
<path d="M358.5,445.5 359.1,444.7 361.6,438.2 361.6,437.0 360.7,436.1 351.4,431.9 350.3,431.8 349.3,432.4 345.6,437.7 345.3,439.1 346.1,442.3 346.9,443.4 351.3,445.7 352.1,445.9 357.6,445.8Z" fill="#e5e4ea" stroke="none" stroke-width="0"/>
<path d="M344.9,459.3 345.9,459.4 348.8,458.9 349.7,458.3 350.1,457.4 351.2,447.4 351.0,446.4 350.3,445.7 347.6,444.3 346.3,444.1 345.3,444.8 341.1,451.7 341.0,453.4 344.1,458.7Z" fill="#e5e4ea" stroke="none" stroke-width="0"/>
<path d="M345.4,460.6 345.2,462.0 346.0,464.5 360.2,464.5 360.3,462.3 360.1,461.4 359.9,461.2 358.7,460.3 350.5,459.1 349.9,459.1 346.5,459.8Z" fill="#e5e4ea" stroke="none" stroke-width="0"/>
<path d="M351.3,429.7 351.4,430.9 352.2,431.7 361.3,435.8 362.7,435.8 362.8,435.6 362.8,424.3 359.0,424.3 352.0,428.8Z" fill="#e5e4ea" stroke="none" stroke-width="0"/>
<path d="M359.5,446.7 361.7,451.4 362.5,452.2 362.8,452.3 362.8,437.2 362.3,437.8 359.4,445.4Z" fill="#e5e4ea" stroke="none" stroke-width="0"/>
<path d="M357.6,446.3 353.3,446.4 352.2,446.8 351.7,447.9 350.6,457.0 351.0,458.2 352.1,458.8 358.1,459.7 359.2,459.5 360.0,458.6 361.7,453.7 361.6,452.4 359.2,447.3Z" fill="#e5e4ea" stroke="none" stroke-width="0"/>
<path d="M362.5,462.1 361.3,462.5 360.7,463.7 360.7,464.5 362.8,464.5 362.8,462.1Z" fill="#e5e4ea" stroke="none" stroke-width="0"/>
<path d="M360.4,460.8 361.8,461.6 362.8,461.6 362.8,453.4 362.1,454.0 360.2,459.3Z" fill="#e5e4ea" stroke="none" stroke-width="0"/>
</g>
<rect x="309.00" y="424.30" width="53.80" height="40.20" fill="none" stroke="#6a6466" stroke-width="1.0"/>
<g filter="url(#lb)">
<rect x="364.20" y="424.30" width="53.30" height="40.20" fill="#c9c3cf"/>
<path d="M365.5,455.5 366.4,454.5 366.5,454.3 366.6,451.4 364.2,446.5 364.2,456.4Z" fill="#e5e4ea" stroke="none" stroke-width="0"/>
<path d="M368.0,456.8 366.3,456.3 364.5,456.8 364.2,457.0 364.2,464.5 379.2,464.5Z" fill="#e5e4ea" stroke="none" stroke-width="0"/>
<path d="M389.5,430.6 391.2,429.6 393.3,427.3 394.1,425.5 394.2,424.3 374.3,424.3 387.6,430.4Z" fill="#e5e4ea" stroke="none" stroke-width="0"/>
<path d="M387.7,431.0 373.1,424.3 364.2,424.3 364.2,445.3 366.1,449.2 368.1,450.8 370.7,450.3 388.3,437.7 389.6,435.0 389.6,433.7Z" fill="#e5e4ea" stroke="none" stroke-width="0"/>
<path d="M368.0,454.6 369.3,457.1 380.1,464.5 394.4,464.5 400.5,460.5 401.8,458.6 401.4,456.3 391.6,440.1 389.6,438.6 387.1,439.1 369.3,452.0Z" fill="#e5e4ea" stroke="none" stroke-width="0"/>
<path d="M395.8,425.1 398.2,426.0 416.0,424.3 395.5,424.3Z" fill="#e5e4ea" stroke="none" stroke-width="0"/>
<path d="M390.0,433.0 390.1,435.9 390.6,437.4 401.3,455.2 403.1,456.6 405.3,456.4 417.5,450.8 417.5,425.2 415.7,424.8 395.6,426.7 393.5,427.7 390.8,430.8Z" fill="#e5e4ea" stroke="none" stroke-width="0"/>
<path d="M403.6,458.9 403.9,461.4 405.8,464.5 417.5,464.5 417.5,451.4 405.3,457.0Z" fill="#e5e4ea" stroke="none" stroke-width="0"/>
<path d="M404.1,462.6 402.1,461.2 399.7,461.6 395.3,464.5 405.2,464.5Z" fill="#e5e4ea" stroke="none" stroke-width="0"/>
</g>
<rect x="364.20" y="424.30" width="53.30" height="40.20" fill="none" stroke="#6a6466" stroke-width="1.0"/>
<g filter="url(#lb)">
<clipPath id="cj10"><rect x="309.0" y="466.0" width="53.8" height="39.9"/></clipPath>
<g clip-path="url(#cj10)">
<rect x="309.00" y="466.00" width="53.80" height="39.90" fill="#a874b8"/>
<path d="M309.7,470.7 310.3,470.3 310.4,470.2 310.3,469.6 309.4,468.6 309.0,468.8 309.0,470.5Z" fill="#ead8ec" stroke="none" stroke-width="0"/>
<path d="M309.3,472.6 309.3,471.4 309.0,471.4 309.0,472.7Z" fill="#ead8ec" stroke="none" stroke-width="0"/>
<path d="M309.7,474.1 309.5,473.7 309.0,473.8 309.0,474.9 309.4,474.9Z" fill="#f6f0f7" stroke="none" stroke-width="0"/>
<path d="M309.1,479.3 309.3,479.0 309.2,478.7 309.0,478.6 309.0,479.2Z" fill="#ead8ec" stroke="none" stroke-width="0"/>
<path d="M309.0,483.1 309.0,484.1 310.0,484.2 309.5,482.5Z" fill="#ead8ec" stroke="none" stroke-width="0"/>
<path d="M309.0,486.6 309.0,487.2 309.9,487.5 310.5,486.0Z" fill="#ead8ec" stroke="none" stroke-width="0"/>
<path d="M309.4,488.3 309.0,488.2 309.0,488.8Z" fill="#efe4f0" stroke="none" stroke-width="0"/>
<path d="M309.0,490.9 309.0,493.0 310.2,491.8 310.0,491.2Z" fill="#f6f0f7" stroke="none" stroke-width="0"/>
<path d="M310.7,497.7 309.6,495.6 309.6,495.6 309.0,495.4 309.0,495.4 309.0,498.0 310.1,498.0Z" fill="#efe4f0" stroke="none" stroke-width="0"/>
<path d="M309.7,498.7 309.0,498.7 309.0,500.3 309.5,499.6Z" fill="#ead8ec" stroke="none" stroke-width="0"/>
<path d="M310.6,501.8 310.6,500.8 310.0,500.5 309.4,501.3 309.6,502.1 310.2,502.0Z" fill="#f6f0f7" stroke="none" stroke-width="0"/>
<path d="M309.0,505.6 309.0,505.9 309.2,505.9Z" fill="#ead8ec" stroke="none" stroke-width="0"/>
<path d="M310.6,466.1 309.8,466.2 309.7,466.3 309.9,468.1 310.6,468.9 311.5,467.4Z" fill="#f8f4f9" stroke="none" stroke-width="0"/>
<path d="M311.1,469.5 311.1,469.8 312.6,469.4 312.0,468.0Z" fill="#ead8ec" stroke="none" stroke-width="0"/>
<path d="M312.4,472.8 310.6,471.2 310.3,471.3 310.3,472.8 310.7,473.4 312.4,473.1Z" fill="#ead8ec" stroke="none" stroke-width="0"/>
<path d="M310.7,474.4 310.3,475.4 310.6,475.8 312.1,476.3 313.1,475.2 312.5,474.0Z" fill="#f6f0f7" stroke="none" stroke-width="0"/>
<path d="M309.6,475.9 309.0,476.0 309.0,477.5 309.5,477.7 309.9,476.2Z" fill="#ead8ec" stroke="none" stroke-width="0"/>
<path d="M310.6,476.6 310.1,478.3 310.2,478.6 312.1,478.1 311.9,477.0Z" fill="#f8f4f9" stroke="none" stroke-width="0"/>
<path d="M312.4,480.9 312.2,478.6 310.1,479.2 309.6,480.2 309.8,481.3 309.9,481.3 312.1,481.3Z" fill="#f8f4f9" stroke="none" stroke-width="0"/>
<path d="M310.6,482.1 311.4,484.6 311.6,484.7 311.6,484.8 312.4,483.7 312.2,482.4 311.9,482.0Z" fill="#efe4f0" stroke="none" stroke-width="0"/>
<path d="M309.0,485.2 309.0,485.8 310.3,485.3Z" fill="#f8f4f9" stroke="none" stroke-width="0"/>
<path d="M310.7,487.7 310.7,487.8 311.4,488.1 311.8,487.9 312.2,486.8 311.6,485.9 311.5,485.8Z" fill="#f8f4f9" stroke="none" stroke-width="0"/>
<path d="M310.7,490.1 311.1,488.8 310.4,488.6 309.0,490.2 309.0,490.3 310.2,490.6Z" fill="#f8f4f9" stroke="none" stroke-width="0"/>
<path d="M311.0,490.5 310.6,491.0 310.8,491.7 312.1,492.5 312.6,491.0Z" fill="#efe4f0" stroke="none" stroke-width="0"/>
<path d="M310.7,492.5 309.1,493.9 309.3,494.6 309.7,494.7 311.6,493.1Z" fill="#f8f4f9" stroke="none" stroke-width="0"/>
<path d="M313.0,497.3 313.0,497.2 313.1,496.0 310.7,495.9 311.4,497.4 311.6,497.5Z" fill="#ead8ec" stroke="none" stroke-width="0"/>
<path d="M311.0,498.5 310.6,498.7 310.5,499.5 310.9,499.8 311.0,499.6Z" fill="#efe4f0" stroke="none" stroke-width="0"/>
<path d="M311.6,500.6 311.6,501.7 312.9,501.6 312.9,501.4 311.7,500.5Z" fill="#ead8ec" stroke="none" stroke-width="0"/>
<path d="M310.9,504.6 310.1,503.2 309.6,503.2 309.5,503.3 309.5,504.4 309.8,505.0Z" fill="#f6f0f7" stroke="none" stroke-width="0"/>
<path d="M312.5,505.3 311.9,505.2 310.0,505.9 312.2,505.9Z" fill="#ead8ec" stroke="none" stroke-width="0"/>
<path d="M315.3,466.1 315.3,466.0 314.1,466.0 314.6,466.8 314.7,466.8Z" fill="#f8f4f9" stroke="none" stroke-width="0"/>
<path d="M312.1,467.2 312.2,467.2 314.0,466.9 313.5,466.0 313.4,466.0 311.2,466.0Z" fill="#efe4f0" stroke="none" stroke-width="0"/>
<path d="M314.4,467.7 314.3,467.6 313.0,467.9 313.5,469.2 313.9,469.3Z" fill="#f6f0f7" stroke="none" stroke-width="0"/>
<path d="M313.1,472.3 314.0,471.7 313.8,470.1 313.1,470.0 311.1,470.5Z" fill="#efe4f0" stroke="none" stroke-width="0"/>
<path d="M314.4,472.3 313.4,472.9 313.2,473.5 313.9,474.9 314.5,475.1 316.2,473.0 316.2,473.0 315.9,472.8Z" fill="#efe4f0" stroke="none" stroke-width="0"/>
<path d="M314.5,475.7 313.7,475.5 312.4,476.8 312.7,478.1 314.7,478.2 315.3,476.7Z" fill="#ead8ec" stroke="none" stroke-width="0"/>
<path d="M313.1,480.2 314.2,480.0 314.5,479.0 314.5,479.0 313.0,478.9Z" fill="#efe4f0" stroke="none" stroke-width="0"/>
<path d="M312.9,481.9 315.4,481.9 314.5,480.8 312.8,481.2 312.6,481.5Z" fill="#ead8ec" stroke="none" stroke-width="0"/>
<path d="M313.4,483.4 313.7,483.4 315.3,482.9 315.4,482.7 313.3,482.8Z" fill="#ead8ec" stroke="none" stroke-width="0"/>
<path d="M313.4,484.5 313.2,484.4 312.6,485.3 313.1,486.1 314.4,486.1Z" fill="#efe4f0" stroke="none" stroke-width="0"/>
<path d="M315.5,487.4 315.4,487.2 315.4,487.2 313.2,487.3 313.0,488.1 314.2,489.3 314.5,489.3Z" fill="#f8f4f9" stroke="none" stroke-width="0"/>
<path d="M312.2,488.9 311.8,489.1 311.6,489.9 312.8,490.3 313.2,489.9Z" fill="#f8f4f9" stroke="none" stroke-width="0"/>
<path d="M313.3,493.2 314.8,491.2 314.6,490.4 314.6,490.4 314.1,490.4 313.3,491.1 312.7,492.9Z" fill="#efe4f0" stroke="none" stroke-width="0"/>
<path d="M313.2,495.0 313.2,495.0 313.3,494.5 313.1,494.2 312.4,493.8 311.1,494.9Z" fill="#efe4f0" stroke="none" stroke-width="0"/>
<path d="M314.1,496.8 315.3,496.8 315.4,496.2 314.2,495.8Z" fill="#efe4f0" stroke="none" stroke-width="0"/>
<path d="M313.4,500.6 313.7,500.0 313.0,498.1 312.0,498.3 311.9,499.6Z" fill="#ead8ec" stroke="none" stroke-width="0"/>
<path d="M313.6,502.1 313.9,502.5 316.0,502.5 315.8,500.5 314.4,500.4 313.9,501.3Z" fill="#f6f0f7" stroke="none" stroke-width="0"/>
<path d="M312.1,504.6 312.8,504.8 313.1,504.6 313.3,503.0 313.0,502.5 311.2,502.5 310.9,502.7Z" fill="#f8f4f9" stroke="none" stroke-width="0"/>
<path d="M313.4,505.2 313.0,505.4 312.7,505.9 314.2,505.9Z" fill="#ead8ec" stroke="none" stroke-width="0"/>
<path d="M315.8,466.6 315.2,467.3 315.2,467.4 317.4,468.4 317.7,468.3 317.1,466.8Z" fill="#ead8ec" stroke="none" stroke-width="0"/>
<path d="M315.4,468.5 315.2,469.1 316.1,469.3 316.5,469.1Z" fill="#f8f4f9" stroke="none" stroke-width="0"/>
<path d="M314.7,471.5 315.7,471.8 315.8,470.3 314.5,470.1Z" fill="#efe4f0" stroke="none" stroke-width="0"/>
<path d="M316.9,473.2 317.6,475.3 318.6,474.7 316.9,473.2Z" fill="#ead8ec" stroke="none" stroke-width="0"/>
<path d="M317.0,475.8 316.4,474.2 315.2,475.5 315.8,476.2 316.9,476.2Z" fill="#f8f4f9" stroke="none" stroke-width="0"/>
<path d="M317.8,478.6 318.1,477.9 317.1,477.0 315.7,477.0 315.2,478.4 315.3,478.7 317.5,479.3Z" fill="#efe4f0" stroke="none" stroke-width="0"/>
<path d="M316.8,481.5 317.2,480.5 317.2,480.0 315.4,479.5 315.1,480.3 316.3,481.7Z" fill="#efe4f0" stroke="none" stroke-width="0"/>
<path d="M316.3,482.4 316.0,483.4 316.5,485.0 319.1,484.1 317.0,482.2Z" fill="#efe4f0" stroke="none" stroke-width="0"/>
<path d="M315.7,485.2 315.3,484.1 314.7,484.3 315.5,485.6Z" fill="#f8f4f9" stroke="none" stroke-width="0"/>
<path d="M316.7,487.6 318.4,490.0 318.8,490.2 318.7,487.4Z" fill="#ead8ec" stroke="none" stroke-width="0"/>
<path d="M317.7,489.9 316.2,487.8 315.1,489.9 315.2,490.0Z" fill="#f6f0f7" stroke="none" stroke-width="0"/>
<path d="M316.8,492.8 315.4,491.8 314.0,493.8 314.0,493.9 315.6,493.7Z" fill="#f8f4f9" stroke="none" stroke-width="0"/>
<path d="M315.6,494.3 314.0,494.5 314.0,494.9 316.0,495.6 316.3,495.4Z" fill="#f8f4f9" stroke="none" stroke-width="0"/>
<path d="M316.5,496.2 316.4,497.1 317.0,497.4 317.6,497.3 317.4,496.2 316.7,496.1Z" fill="#ead8ec" stroke="none" stroke-width="0"/>
<path d="M314.4,499.6 315.8,499.7 316.5,498.2 315.7,497.8 313.7,497.8Z" fill="#f6f0f7" stroke="none" stroke-width="0"/>
<path d="M318.1,501.2 316.9,501.0 316.9,502.2Z" fill="#f6f0f7" stroke="none" stroke-width="0"/>
<path d="M316.1,505.9 316.4,503.4 316.3,503.3 314.1,503.3 313.9,504.8 315.2,505.9 316.0,505.9Z" fill="#f8f4f9" stroke="none" stroke-width="0"/>
<path d="M319.1,504.2 317.0,503.6 316.7,505.7 319.1,505.2Z" fill="#f8f4f9" stroke="none" stroke-width="0"/>
<path d="M318.0,466.7 318.4,467.9 318.9,467.8 318.3,466.4Z" fill="#f8f4f9" stroke="none" stroke-width="0"/>
<path d="M318.2,468.9 317.8,469.1 317.7,469.3 318.4,471.4 319.1,471.3 319.3,468.8Z" fill="#f8f4f9" stroke="none" stroke-width="0"/>
<path d="M317.5,471.8 317.0,470.1 316.7,470.3 316.5,472.2 316.8,472.3Z" fill="#f8f4f9" stroke="none" stroke-width="0"/>
<path d="M318.3,472.4 317.7,472.8 319.4,474.2 320.3,474.4 320.4,474.4 320.4,474.3 319.5,472.3 319.4,472.2Z" fill="#f6f0f7" stroke="none" stroke-width="0"/>
<path d="M318.9,477.3 319.9,475.2 319.2,475.1 317.8,476.0 317.7,476.6 318.6,477.4Z" fill="#ead8ec" stroke="none" stroke-width="0"/>
<path d="M321.1,480.1 321.1,480.1 321.1,479.9 321.1,479.2 320.9,478.9 319.1,478.1 318.8,478.2 318.7,478.6Z" fill="#f6f0f7" stroke="none" stroke-width="0"/>
<path d="M317.8,481.8 319.0,482.9 318.9,481.4 318.0,481.3Z" fill="#f8f4f9" stroke="none" stroke-width="0"/>
<path d="M321.3,481.0 321.2,481.0 321.0,481.0 319.9,481.3 320.1,482.9Z" fill="#efe4f0" stroke="none" stroke-width="0"/>
<path d="M318.6,486.6 319.3,485.5 319.1,484.9 316.7,485.7 316.4,486.6 316.5,486.8Z" fill="#f6f0f7" stroke="none" stroke-width="0"/>
<path d="M321.6,488.8 322.1,488.7 322.1,488.6 320.0,486.0 319.3,487.1Z" fill="#f6f0f7" stroke="none" stroke-width="0"/>
<path d="M318.3,490.8 318.1,490.7 315.7,490.8 315.8,490.9 317.6,492.2Z" fill="#ead8ec" stroke="none" stroke-width="0"/>
<path d="M321.2,492.3 319.6,490.8 319.2,490.8 318.2,492.8 318.9,493.8Z" fill="#efe4f0" stroke="none" stroke-width="0"/>
<path d="M317.7,495.3 318.3,494.0 317.7,493.1 317.6,493.1 316.2,494.1 316.8,495.2Z" fill="#f8f4f9" stroke="none" stroke-width="0"/>
<path d="M318.5,497.4 319.6,497.9 320.1,497.5 321.1,495.8 318.9,494.5 318.3,495.7Z" fill="#f6f0f7" stroke="none" stroke-width="0"/>
<path d="M318.6,500.0 319.2,499.3 319.1,498.8 318.1,498.3 317.4,498.5 316.9,499.8Z" fill="#ead8ec" stroke="none" stroke-width="0"/>
<path d="M321.1,500.7 319.9,499.8 319.1,500.8 319.0,501.3 320.0,502.7 320.1,502.6Z" fill="#ead8ec" stroke="none" stroke-width="0"/>
<path d="M319.3,503.5 319.4,503.4 319.5,503.1 318.7,502.0 317.6,503.0Z" fill="#f8f4f9" stroke="none" stroke-width="0"/>
<path d="M319.8,504.1 319.7,505.3 319.8,505.4 321.2,505.8 321.5,504.9 319.8,504.1Z" fill="#efe4f0" stroke="none" stroke-width="0"/>
<path d="M319.8,468.1 319.8,468.1 320.7,467.8 321.3,466.0 318.9,466.0Z" fill="#f8f4f9" stroke="none" stroke-width="0"/>
<path d="M320.1,468.6 319.8,471.5 320.0,471.6 322.0,470.8 322.1,469.3 320.8,468.3Z" fill="#ead8ec" stroke="none" stroke-width="0"/>
<path d="M320.6,472.2 321.2,473.5 322.6,472.8 322.7,472.2 322.1,471.6Z" fill="#f8f4f9" stroke="none" stroke-width="0"/>
<path d="M323.0,473.4 321.2,474.4 321.1,474.6 321.2,474.6 324.3,475.4 324.6,475.2Z" fill="#ead8ec" stroke="none" stroke-width="0"/>
<path d="M321.0,478.1 321.5,476.7 320.8,475.1 320.7,475.2 319.6,477.4Z" fill="#f6f0f7" stroke="none" stroke-width="0"/>
<path d="M323.2,477.7 323.2,477.4 322.2,477.2 321.7,478.4Z" fill="#f6f0f7" stroke="none" stroke-width="0"/>
<path d="M318.0,480.4 319.4,480.6 320.2,480.4 318.2,479.2 317.9,479.7Z" fill="#f6f0f7" stroke="none" stroke-width="0"/>
<path d="M322.6,483.5 323.3,482.9 323.4,482.2 322.0,481.6 321.0,483.1Z" fill="#ead8ec" stroke="none" stroke-width="0"/>
<path d="M320.3,485.1 322.0,485.0 322.1,484.3 320.5,483.8 320.0,484.2 319.9,484.3Z" fill="#f6f0f7" stroke="none" stroke-width="0"/>
<path d="M322.8,488.0 323.1,486.6 323.1,486.5 322.2,485.8 320.8,485.9 322.6,488.1Z" fill="#efe4f0" stroke="none" stroke-width="0"/>
<path d="M319.6,490.3 321.1,489.1 319.2,487.8 319.3,490.3Z" fill="#ead8ec" stroke="none" stroke-width="0"/>
<path d="M321.7,492.0 322.5,492.2 322.7,492.0 322.0,489.3 321.7,489.4 320.2,490.6Z" fill="#ead8ec" stroke="none" stroke-width="0"/>
<path d="M321.7,495.4 322.6,495.0 322.7,494.8 322.4,492.8 321.6,492.6 319.3,494.0Z" fill="#f6f0f7" stroke="none" stroke-width="0"/>
<path d="M323.8,497.9 323.2,496.0 322.7,495.6 321.9,495.9 320.9,497.6 323.2,498.4Z" fill="#f6f0f7" stroke="none" stroke-width="0"/>
<path d="M322.8,498.9 320.5,498.2 320.0,498.5 320.1,499.3 321.5,500.3 322.2,500.4Z" fill="#ead8ec" stroke="none" stroke-width="0"/>
<path d="M322.2,502.6 322.4,501.3 322.2,501.1 321.6,501.0 320.9,502.5Z" fill="#ead8ec" stroke="none" stroke-width="0"/>
<path d="M321.9,504.1 322.3,503.7 322.2,503.5 320.4,503.3 320.4,503.4Z" fill="#efe4f0" stroke="none" stroke-width="0"/>
<path d="M322.4,504.9 322.0,505.9 323.3,505.9 323.6,505.6 322.9,504.4Z" fill="#f8f4f9" stroke="none" stroke-width="0"/>
<path d="M321.5,467.8 322.5,468.6 322.6,468.6 324.1,467.5 323.9,466.3 323.3,466.0 322.8,466.0 322.1,466.0Z" fill="#f8f4f9" stroke="none" stroke-width="0"/>
<path d="M325.4,468.8 324.7,468.3 323.7,469.1 325.5,470.2 325.8,470.0Z" fill="#f8f4f9" stroke="none" stroke-width="0"/>
<path d="M322.8,470.8 323.5,471.4 324.6,471.0 322.9,469.9Z" fill="#efe4f0" stroke="none" stroke-width="0"/>
<path d="M323.8,472.6 323.7,472.9 324.8,474.0 325.0,473.3 324.7,472.3Z" fill="#f8f4f9" stroke="none" stroke-width="0"/>
<path d="M321.8,475.5 322.1,476.3 323.4,476.5 323.7,476.0Z" fill="#f8f4f9" stroke="none" stroke-width="0"/>
<path d="M321.9,479.3 322.0,479.5 324.5,479.1 323.6,478.4Z" fill="#f8f4f9" stroke="none" stroke-width="0"/>
<path d="M322.1,480.4 322.1,480.4 322.2,480.6 323.8,481.3 324.5,481.0 324.8,480.0Z" fill="#ead8ec" stroke="none" stroke-width="0"/>
<path d="M325.7,484.4 326.1,482.6 324.9,481.8 324.1,482.2 324.0,483.0 324.4,483.8Z" fill="#f6f0f7" stroke="none" stroke-width="0"/>
<path d="M323.2,485.3 323.6,484.1 323.5,484.0 323.2,484.2 323.0,485.2Z" fill="#ead8ec" stroke="none" stroke-width="0"/>
<path d="M324.0,486.9 323.7,488.0 325.4,488.7 325.8,488.7 325.5,486.5Z" fill="#efe4f0" stroke="none" stroke-width="0"/>
<path d="M322.7,489.1 323.3,491.2 324.6,489.4 323.2,488.8 322.8,489.0Z" fill="#f8f4f9" stroke="none" stroke-width="0"/>
<path d="M326.2,490.7 324.8,491.9 326.3,492.7 326.2,490.8Z" fill="#efe4f0" stroke="none" stroke-width="0"/>
<path d="M323.3,492.8 323.4,493.8 324.9,493.1 323.9,492.6 323.4,492.6Z" fill="#ead8ec" stroke="none" stroke-width="0"/>
<path d="M325.7,497.2 325.3,496.1 324.0,496.2 324.4,497.6Z" fill="#f6f0f7" stroke="none" stroke-width="0"/>
<path d="M324.4,500.9 324.7,499.3 324.1,498.5 323.5,498.9 322.8,500.7 323.0,500.9Z" fill="#f8f4f9" stroke="none" stroke-width="0"/>
<path d="M326.6,500.7 326.5,499.9 325.5,499.8 325.2,501.0 325.6,501.3Z" fill="#ead8ec" stroke="none" stroke-width="0"/>
<path d="M324.6,503.0 325.2,502.7 325.2,502.1 324.5,501.6 323.2,501.6 323.0,503.0 323.2,503.5Z" fill="#f6f0f7" stroke="none" stroke-width="0"/>
<path d="M324.3,504.2 323.9,504.3 324.3,504.8Z" fill="#f8f4f9" stroke="none" stroke-width="0"/>
<path d="M326.8,466.7 325.9,466.0 325.5,466.0 325.0,466.3 325.2,467.3 325.8,467.7Z" fill="#efe4f0" stroke="none" stroke-width="0"/>
<path d="M327.9,470.0 327.9,470.0 328.6,469.4 328.6,468.4 327.6,467.4 326.4,468.6 326.8,469.8Z" fill="#f8f4f9" stroke="none" stroke-width="0"/>
<path d="M325.9,471.3 325.7,471.6 326.0,472.7 327.4,472.5 327.4,471.0 326.6,470.8Z" fill="#ead8ec" stroke="none" stroke-width="0"/>
<path d="M325.7,475.3 326.9,475.5 327.7,475.1 327.7,473.3 325.9,473.5 325.3,475.1Z" fill="#f8f4f9" stroke="none" stroke-width="0"/>
<path d="M325.3,475.8 325.0,475.6 324.6,475.9 324.0,477.0 324.0,477.8 325.2,478.7Z" fill="#f8f4f9" stroke="none" stroke-width="0"/>
<path d="M326.6,478.7 326.3,476.3 326.2,476.3 326.1,478.8Z" fill="#efe4f0" stroke="none" stroke-width="0"/>
<path d="M325.7,481.2 326.6,481.9 327.0,481.9 326.0,480.4Z" fill="#ead8ec" stroke="none" stroke-width="0"/>
<path d="M326.6,482.8 326.2,484.8 326.4,485.1 327.9,485.1 327.9,485.0 328.2,482.9 328.1,482.9Z" fill="#f6f0f7" stroke="none" stroke-width="0"/>
<path d="M325.5,485.4 325.5,485.4 325.5,485.3 324.6,484.8 324.3,485.7Z" fill="#efe4f0" stroke="none" stroke-width="0"/>
<path d="M326.7,488.4 328.6,487.7 328.7,487.3 327.8,485.8 326.4,485.9 326.3,486.0Z" fill="#f8f4f9" stroke="none" stroke-width="0"/>
<path d="M325.8,490.0 325.7,489.7 325.5,489.7 324.6,491.0Z" fill="#f8f4f9" stroke="none" stroke-width="0"/>
<path d="M327.3,492.8 327.3,492.9 327.6,492.6 327.8,491.4 327.2,491.4Z" fill="#f6f0f7" stroke="none" stroke-width="0"/>
<path d="M326.4,493.3 323.1,495.0 323.1,495.1 323.6,495.6 325.5,495.4 327.2,494.4 327.0,493.7 326.6,493.3Z" fill="#f6f0f7" stroke="none" stroke-width="0"/>
<path d="M327.2,497.1 327.7,496.7 327.8,495.7 327.4,495.2 326.2,495.9 326.6,497.0Z" fill="#f6f0f7" stroke="none" stroke-width="0"/>
<path d="M326.7,498.9 326.8,498.8 326.9,498.1 326.2,498.0 325.0,498.3 325.3,498.8Z" fill="#f6f0f7" stroke="none" stroke-width="0"/>
<path d="M327.2,499.5 327.3,500.8 329.2,501.6 329.2,500.1 329.2,499.9 327.3,499.3Z" fill="#ead8ec" stroke="none" stroke-width="0"/>
<path d="M325.9,504.0 325.5,503.6 325.4,503.7 325.4,504.3Z" fill="#ead8ec" stroke="none" stroke-width="0"/>
<path d="M325.2,505.9 327.1,505.9 327.5,505.5 327.6,504.8 326.8,504.4 325.1,505.7 325.1,505.7Z" fill="#efe4f0" stroke="none" stroke-width="0"/>
<path d="M329.1,467.8 330.5,466.5 330.5,466.0 328.5,466.0 327.9,466.6Z" fill="#efe4f0" stroke="none" stroke-width="0"/>
<path d="M331.6,467.9 330.9,467.2 329.6,468.4 329.6,469.2 331.5,469.4Z" fill="#f8f4f9" stroke="none" stroke-width="0"/>
<path d="M330.6,472.9 328.4,471.1 328.4,472.7Z" fill="#efe4f0" stroke="none" stroke-width="0"/>
<path d="M328.4,475.1 329.5,475.5 330.3,474.6 330.4,473.6 328.3,473.4Z" fill="#efe4f0" stroke="none" stroke-width="0"/>
<path d="M327.7,477.4 328.7,476.2 328.0,476.0 327.5,476.1Z" fill="#efe4f0" stroke="none" stroke-width="0"/>
<path d="M328.4,479.2 330.3,478.5 330.2,477.5 329.6,476.6 327.7,478.9Z" fill="#ead8ec" stroke="none" stroke-width="0"/>
<path d="M326.9,479.8 328.1,481.5 327.9,480.0 327.2,479.7Z" fill="#ead8ec" stroke="none" stroke-width="0"/>
<path d="M331.5,483.9 330.8,482.3 329.5,482.7Z" fill="#ead8ec" stroke="none" stroke-width="0"/>
<path d="M328.9,483.4 328.7,484.5 330.1,484.2Z" fill="#efe4f0" stroke="none" stroke-width="0"/>
<path d="M329.7,487.4 329.5,487.5 329.3,488.1 330.3,489.8 331.5,489.3 332.2,488.6Z" fill="#f8f4f9" stroke="none" stroke-width="0"/>
<path d="M328.4,490.6 329.7,490.1 328.8,488.5 326.5,489.2 326.4,489.4 326.6,490.1 326.8,490.4Z" fill="#efe4f0" stroke="none" stroke-width="0"/>
<path d="M329.9,491.7 329.7,491.0 329.0,491.3 328.9,492.1Z" fill="#f6f0f7" stroke="none" stroke-width="0"/>
<path d="M327.8,493.8 327.9,494.3 328.6,495.0 330.0,494.8 329.8,492.9 328.4,493.4Z" fill="#efe4f0" stroke="none" stroke-width="0"/>
<path d="M330.1,497.9 331.2,497.6 331.4,497.1 331.4,496.1 330.5,495.8 328.9,496.0 328.8,496.7Z" fill="#f8f4f9" stroke="none" stroke-width="0"/>
<path d="M329.1,499.0 329.2,498.6 328.2,497.8 328.0,498.0 327.9,498.6Z" fill="#ead8ec" stroke="none" stroke-width="0"/>
<path d="M330.7,500.3 329.9,500.5 329.9,501.3Z" fill="#f6f0f7" stroke="none" stroke-width="0"/>
<path d="M327.1,503.6 327.9,504.0 328.7,503.4 329.0,502.4 327.1,501.6 326.1,502.2 326.1,502.7Z" fill="#f8f4f9" stroke="none" stroke-width="0"/>
<path d="M330.8,505.7 329.2,504.4 328.5,504.9 328.4,505.5 328.8,505.9 330.7,505.9Z" fill="#ead8ec" stroke="none" stroke-width="0"/>
<path d="M331.4,466.3 332.2,467.0 332.7,466.8 332.7,466.5 332.3,466.0 331.3,466.0Z" fill="#efe4f0" stroke="none" stroke-width="0"/>
<path d="M333.0,469.5 334.5,467.9 333.4,467.6 332.5,467.9 332.4,469.6Z" fill="#efe4f0" stroke="none" stroke-width="0"/>
<path d="M329.3,470.3 329.2,470.4 331.3,472.1 331.6,471.9 331.5,470.5Z" fill="#f8f4f9" stroke="none" stroke-width="0"/>
<path d="M333.1,473.2 332.3,472.8 331.5,473.3 331.3,473.5 331.2,474.4 333.4,475.0 333.5,474.9 333.5,474.9Z" fill="#ead8ec" stroke="none" stroke-width="0"/>
<path d="M332.4,475.6 330.8,475.2 330.2,476.0 330.7,476.8Z" fill="#efe4f0" stroke="none" stroke-width="0"/>
<path d="M333.6,477.6 331.0,477.8 331.1,478.6 331.2,478.7 333.7,478.4Z" fill="#f8f4f9" stroke="none" stroke-width="0"/>
<path d="M330.8,481.2 331.0,480.9 330.6,479.4 330.6,479.3 328.8,479.9 329.1,481.8Z" fill="#ead8ec" stroke="none" stroke-width="0"/>
<path d="M333.6,481.6 331.5,481.2 331.4,481.6 332.2,483.5 333.6,482.6 333.7,481.7Z" fill="#ead8ec" stroke="none" stroke-width="0"/>
<path d="M329.4,486.7 329.5,486.7 331.5,485.0 331.5,484.9 331.3,484.8 328.7,485.5Z" fill="#ead8ec" stroke="none" stroke-width="0"/>
<path d="M333.0,488.0 333.2,486.5 332.0,485.6 330.5,487.0 332.8,488.0Z" fill="#ead8ec" stroke="none" stroke-width="0"/>
<path d="M330.8,491.5 331.8,491.8 332.6,491.2 331.6,489.9 330.4,490.4Z" fill="#f8f4f9" stroke="none" stroke-width="0"/>
<path d="M333.8,492.8 333.0,491.9 332.4,492.3 332.5,492.5Z" fill="#f6f0f7" stroke="none" stroke-width="0"/>
<path d="M331.6,492.4 330.7,492.1 330.6,492.2 330.8,495.0 331.5,495.2 331.9,493.0Z" fill="#efe4f0" stroke="none" stroke-width="0"/>
<path d="M331.8,499.3 331.4,498.5 330.2,498.7 329.8,499.7Z" fill="#efe4f0" stroke="none" stroke-width="0"/>
<path d="M331.0,501.7 332.4,501.8 332.5,501.8 332.8,500.5 332.3,500.2Z" fill="#f6f0f7" stroke="none" stroke-width="0"/>
<path d="M329.5,503.6 331.5,505.2 331.6,505.1 331.7,505.0 332.1,502.6 329.9,502.5Z" fill="#ead8ec" stroke="none" stroke-width="0"/>
<path d="M333.3,505.6 333.7,505.0 332.9,505.4Z" fill="#efe4f0" stroke="none" stroke-width="0"/>
<path d="M331.7,505.8 331.6,505.9 331.9,505.9Z" fill="#efe4f0" stroke="none" stroke-width="0"/>
<path d="M333.7,466.5 333.8,466.8 334.5,467.0 334.6,466.0 334.1,466.0Z" fill="#f8f4f9" stroke="none" stroke-width="0"/>
<path d="M335.3,468.4 334.1,469.6 335.2,470.0 336.0,469.5 335.6,468.5Z" fill="#efe4f0" stroke="none" stroke-width="0"/>
<path d="M332.7,470.5 332.8,472.0 333.5,472.4 334.2,472.0 334.7,470.9 333.2,470.4Z" fill="#efe4f0" stroke="none" stroke-width="0"/>
<path d="M334.7,472.6 333.8,473.1 334.2,474.7 336.7,474.7 337.2,473.4Z" fill="#f8f4f9" stroke="none" stroke-width="0"/>
<path d="M333.7,476.8 333.5,475.8 333.4,475.8 331.7,476.9Z" fill="#efe4f0" stroke="none" stroke-width="0"/>
<path d="M334.5,478.6 334.8,478.9 336.9,479.0 336.8,477.2 334.5,477.4Z" fill="#efe4f0" stroke="none" stroke-width="0"/>
<path d="M333.9,479.2 331.5,479.5 331.8,480.6 333.6,480.8 334.1,479.4Z" fill="#ead8ec" stroke="none" stroke-width="0"/>
<path d="M334.2,481.9 334.1,482.7 335.4,483.9 336.7,483.3 337.2,482.3 337.2,482.2Z" fill="#f8f4f9" stroke="none" stroke-width="0"/>
<path d="M334.2,485.4 334.6,484.3 333.8,483.6 332.6,484.3 332.5,484.6 332.6,484.8 333.7,485.6Z" fill="#f8f4f9" stroke="none" stroke-width="0"/>
<path d="M334.7,489.0 336.2,487.5 336.0,487.1 334.7,486.4 334.1,486.6 333.8,488.1Z" fill="#f6f0f7" stroke="none" stroke-width="0"/>
<path d="M332.2,489.6 333.1,490.7 334.1,489.6 333.2,488.7 333.0,488.8Z" fill="#efe4f0" stroke="none" stroke-width="0"/>
<path d="M335.0,492.7 335.8,491.8 335.8,491.3 334.6,490.2 333.6,491.3Z" fill="#f6f0f7" stroke="none" stroke-width="0"/>
<path d="M334.4,494.3 334.5,493.8 332.6,493.4 332.3,495.2Z" fill="#ead8ec" stroke="none" stroke-width="0"/>
<path d="M334.9,496.6 335.3,495.9 334.7,495.2 333.2,495.8Z" fill="#ead8ec" stroke="none" stroke-width="0"/>
<path d="M332.0,498.1 332.5,499.2 333.4,499.8 334.1,499.6 334.1,498.2 332.2,497.7Z" fill="#efe4f0" stroke="none" stroke-width="0"/>
<path d="M335.8,501.4 335.9,500.7 334.4,500.3 333.8,500.6 333.5,502.0 335.0,503.1Z" fill="#f6f0f7" stroke="none" stroke-width="0"/>
<path d="M334.2,503.7 332.9,502.7 332.8,502.7 332.5,504.4Z" fill="#efe4f0" stroke="none" stroke-width="0"/>
<path d="M334.5,505.9 335.5,505.9 335.2,504.9Z" fill="#ead8ec" stroke="none" stroke-width="0"/>
<path d="M335.3,467.4 335.3,467.5 335.9,467.7 337.6,466.1 337.2,466.0 335.4,466.0Z" fill="#efe4f0" stroke="none" stroke-width="0"/>
<path d="M336.9,469.4 338.1,470.1 338.4,469.9 338.6,466.3 338.4,466.4 336.4,468.2Z" fill="#ead8ec" stroke="none" stroke-width="0"/>
<path d="M335.7,470.9 335.2,472.1 337.2,472.6 337.7,470.9 337.7,470.8 336.6,470.2Z" fill="#f6f0f7" stroke="none" stroke-width="0"/>
<path d="M339.3,474.9 339.4,474.7 339.3,474.2 337.8,473.6 337.3,474.9 337.6,475.7Z" fill="#f8f4f9" stroke="none" stroke-width="0"/>
<path d="M336.5,475.4 334.3,475.5 334.3,475.5 334.5,476.5 336.8,476.3 336.8,476.2Z" fill="#ead8ec" stroke="none" stroke-width="0"/>
<path d="M337.4,476.8 337.6,479.2 338.8,479.1 339.9,477.1 339.9,477.1 337.5,476.5Z" fill="#efe4f0" stroke="none" stroke-width="0"/>
<path d="M336.8,481.4 336.9,480.0 335.0,479.9 334.5,481.2Z" fill="#ead8ec" stroke="none" stroke-width="0"/>
<path d="M337.4,483.4 338.1,484.5 339.4,485.2 339.4,485.1 338.5,483.0 337.7,482.8Z" fill="#f6f0f7" stroke="none" stroke-width="0"/>
<path d="M335.8,484.5 335.4,485.7 336.2,486.1 336.3,486.1 337.1,484.9 336.7,484.1Z" fill="#efe4f0" stroke="none" stroke-width="0"/>
<path d="M337.2,487.2 338.3,487.7 338.3,487.6 338.8,486.7 337.0,486.9Z" fill="#efe4f0" stroke="none" stroke-width="0"/>
<path d="M336.9,487.9 335.0,489.6 336.2,490.8 338.1,489.5 338.1,488.5Z" fill="#ead8ec" stroke="none" stroke-width="0"/>
<path d="M339.5,491.3 339.4,491.1 338.3,490.2 336.7,491.4 336.7,491.7 338.7,492.8Z" fill="#ead8ec" stroke="none" stroke-width="0"/>
<path d="M335.3,494.5 336.1,495.4 336.8,495.5 338.2,493.5 336.3,492.5 335.3,493.6Z" fill="#f8f4f9" stroke="none" stroke-width="0"/>
<path d="M337.0,496.8 336.7,496.5 336.3,496.5 335.9,497.1 336.8,498.3 337.4,497.5Z" fill="#efe4f0" stroke="none" stroke-width="0"/>
<path d="M334.8,498.1 334.8,499.6 336.2,500.0 336.4,499.3 335.1,497.7Z" fill="#efe4f0" stroke="none" stroke-width="0"/>
<path d="M337.0,501.2 338.4,502.2 338.8,501.4 337.0,501.1Z" fill="#f6f0f7" stroke="none" stroke-width="0"/>
<path d="M338.0,503.4 336.5,502.3 335.8,503.6Z" fill="#f8f4f9" stroke="none" stroke-width="0"/>
<path d="M339.0,505.2 339.0,504.6 338.6,504.1 335.9,504.4 336.3,505.6 338.7,505.6Z" fill="#f8f4f9" stroke="none" stroke-width="0"/>
<path d="M339.1,469.8 339.8,469.7 340.4,467.3 339.8,466.4 339.3,466.2Z" fill="#ead8ec" stroke="none" stroke-width="0"/>
<path d="M341.2,469.7 341.5,468.4 341.1,468.2 340.7,469.6Z" fill="#ead8ec" stroke="none" stroke-width="0"/>
<path d="M339.5,473.7 340.7,473.0 338.3,471.3 337.8,473.0Z" fill="#f8f4f9" stroke="none" stroke-width="0"/>
<path d="M340.0,474.6 341.5,475.2 341.9,474.0 341.2,473.2 339.9,474.0Z" fill="#f8f4f9" stroke="none" stroke-width="0"/>
<path d="M339.3,476.2 339.2,475.9 338.9,476.1Z" fill="#ead8ec" stroke="none" stroke-width="0"/>
<path d="M341.8,477.3 340.6,477.5 339.7,479.1 340.7,479.6 342.0,478.0 342.0,477.5Z" fill="#ead8ec" stroke="none" stroke-width="0"/>
<path d="M339.0,479.6 337.7,479.8 337.6,482.0 337.6,482.0 338.8,482.3 341.2,481.7 340.7,480.4Z" fill="#efe4f0" stroke="none" stroke-width="0"/>
<path d="M339.6,483.0 340.1,484.0 341.2,482.7 341.1,482.6Z" fill="#efe4f0" stroke="none" stroke-width="0"/>
<path d="M339.3,487.7 341.5,488.3 341.5,488.3 339.8,486.6Z" fill="#efe4f0" stroke="none" stroke-width="0"/>
<path d="M339.0,489.3 339.8,490.0 340.5,489.1 339.0,488.6Z" fill="#efe4f0" stroke="none" stroke-width="0"/>
<path d="M341.4,492.6 341.0,492.0 340.3,491.9 339.6,493.0Z" fill="#ead8ec" stroke="none" stroke-width="0"/>
<path d="M339.6,494.8 338.9,494.1 337.9,495.6Z" fill="#ead8ec" stroke="none" stroke-width="0"/>
<path d="M339.7,497.3 340.7,495.7 340.4,495.6 338.3,496.6 338.5,497.0Z" fill="#f6f0f7" stroke="none" stroke-width="0"/>
<path d="M337.0,499.4 336.7,500.2 339.3,500.6 339.8,498.1 339.8,498.1 338.3,497.7Z" fill="#f8f4f9" stroke="none" stroke-width="0"/>
<path d="M340.6,500.9 341.6,499.3 340.4,498.7 339.9,500.7Z" fill="#f6f0f7" stroke="none" stroke-width="0"/>
<path d="M339.0,503.7 339.3,504.1 340.9,503.1 340.4,501.7 339.8,501.5 339.0,503.3Z" fill="#efe4f0" stroke="none" stroke-width="0"/>
<path d="M341.6,504.0 341.3,503.9 339.8,504.8 339.8,504.8 340.9,505.2Z" fill="#ead8ec" stroke="none" stroke-width="0"/>
<path d="M342.2,467.8 343.2,467.4 343.6,466.0 341.9,466.0 340.5,466.4 340.9,467.1Z" fill="#f8f4f9" stroke="none" stroke-width="0"/>
<path d="M342.1,470.4 342.9,470.4 343.7,468.8 343.2,468.1 342.5,468.4 342.0,470.3Z" fill="#ead8ec" stroke="none" stroke-width="0"/>
<path d="M341.0,472.4 341.5,470.9 341.4,470.7 340.0,470.4 338.9,470.5 338.6,470.8Z" fill="#f6f0f7" stroke="none" stroke-width="0"/>
<path d="M344.1,474.0 342.3,474.1 341.9,475.5 342.1,476.6 342.5,476.9 343.8,476.5Z" fill="#f6f0f7" stroke="none" stroke-width="0"/>
<path d="M340.5,476.4 341.1,476.3 341.1,476.0 340.4,475.7Z" fill="#ead8ec" stroke="none" stroke-width="0"/>
<path d="M344.2,478.9 345.1,478.4 344.1,477.0 344.0,477.0 342.8,477.4 342.8,478.1Z" fill="#f6f0f7" stroke="none" stroke-width="0"/>
<path d="M343.0,480.9 342.4,479.1 341.4,480.3 341.8,481.4Z" fill="#efe4f0" stroke="none" stroke-width="0"/>
<path d="M343.9,483.0 343.6,481.9 342.3,482.3 342.3,482.5Z" fill="#f8f4f9" stroke="none" stroke-width="0"/>
<path d="M342.1,485.3 341.6,483.9 340.5,485.2Z" fill="#f6f0f7" stroke="none" stroke-width="0"/>
<path d="M342.2,488.0 342.4,487.8 342.8,486.2 342.8,486.2 340.1,486.1Z" fill="#efe4f0" stroke="none" stroke-width="0"/>
<path d="M341.2,491.0 342.2,490.3 341.8,489.2 340.5,490.9Z" fill="#f6f0f7" stroke="none" stroke-width="0"/>
<path d="M343.1,493.3 343.5,493.0 343.9,491.3 342.9,491.0 342.0,491.7 342.5,492.6Z" fill="#ead8ec" stroke="none" stroke-width="0"/>
<path d="M341.5,495.1 341.5,495.1 342.5,494.0 342.0,493.4 340.1,493.9 340.8,494.6Z" fill="#efe4f0" stroke="none" stroke-width="0"/>
<path d="M343.6,495.2 342.9,494.6 342.2,495.5 343.2,496.6 344.9,497.3Z" fill="#f6f0f7" stroke="none" stroke-width="0"/>
<path d="M341.9,498.4 342.5,496.9 341.7,496.1 340.6,497.8Z" fill="#efe4f0" stroke="none" stroke-width="0"/>
<path d="M342.4,499.9 341.8,500.8 343.5,500.8 343.7,500.4Z" fill="#efe4f0" stroke="none" stroke-width="0"/>
<path d="M341.6,502.9 342.5,503.3 343.2,503.2 343.3,501.8 341.3,501.8Z" fill="#f8f4f9" stroke="none" stroke-width="0"/>
<path d="M342.7,504.1 341.5,505.9 341.6,505.9 343.0,505.9 343.5,505.6 343.4,504.0Z" fill="#f6f0f7" stroke="none" stroke-width="0"/>
<path d="M339.5,505.7 339.3,505.9 340.1,505.9Z" fill="#f8f4f9" stroke="none" stroke-width="0"/>
<path d="M343.8,467.5 344.4,468.4 346.0,468.6 345.4,466.3 344.2,466.2Z" fill="#efe4f0" stroke="none" stroke-width="0"/>
<path d="M345.9,470.6 346.0,469.3 344.3,469.0 343.4,470.8 344.0,471.2Z" fill="#efe4f0" stroke="none" stroke-width="0"/>
<path d="M343.4,471.8 342.9,471.4 342.4,471.4 341.9,472.8 342.4,473.3 343.6,473.2Z" fill="#f8f4f9" stroke="none" stroke-width="0"/>
<path d="M347.5,472.6 347.2,472.5 345.6,473.8 346.4,474.3Z" fill="#f8f4f9" stroke="none" stroke-width="0"/>
<path d="M346.5,475.7 346.3,475.2 344.8,474.2 344.7,474.2 344.4,476.3Z" fill="#efe4f0" stroke="none" stroke-width="0"/>
<path d="M344.8,480.5 345.7,480.5 346.2,479.3 345.5,479.0 344.7,479.5Z" fill="#ead8ec" stroke="none" stroke-width="0"/>
<path d="M343.7,479.6 343.6,479.5 343.7,479.9Z" fill="#f6f0f7" stroke="none" stroke-width="0"/>
<path d="M345.2,483.4 346.2,482.6 346.2,482.5 345.7,481.6 344.7,481.6Z" fill="#f6f0f7" stroke="none" stroke-width="0"/>
<path d="M343.2,485.6 343.3,485.6 344.5,485.3 344.6,484.3 344.5,484.2 342.5,483.6Z" fill="#f8f4f9" stroke="none" stroke-width="0"/>
<path d="M344.8,486.1 343.5,486.4 343.1,487.7 345.0,488.4 345.4,486.6Z" fill="#f8f4f9" stroke="none" stroke-width="0"/>
<path d="M343.1,490.2 344.4,490.7 345.2,490.3 345.1,489.4 345.1,489.2 342.7,488.3 342.4,488.5Z" fill="#ead8ec" stroke="none" stroke-width="0"/>
<path d="M345.2,493.4 346.4,491.8 346.4,491.2 345.5,490.8 344.7,491.2 344.3,493.1Z" fill="#f6f0f7" stroke="none" stroke-width="0"/>
<path d="M344.0,494.6 346.1,495.1 346.2,495.1 345.2,494.1 344.0,493.7 343.4,494.1Z" fill="#f8f4f9" stroke="none" stroke-width="0"/>
<path d="M345.8,495.8 344.6,495.5 345.3,496.7Z" fill="#ead8ec" stroke="none" stroke-width="0"/>
<path d="M344.2,499.8 345.2,498.2 345.1,498.0 343.2,497.1 342.4,499.0Z" fill="#f6f0f7" stroke="none" stroke-width="0"/>
<path d="M347.6,500.5 345.8,498.6 345.5,498.5 344.5,500.1 344.5,500.3 345.8,501.0Z" fill="#f6f0f7" stroke="none" stroke-width="0"/>
<path d="M344.7,503.1 345.7,502.3 345.3,501.7 344.5,501.3 344.4,501.5 344.3,503.1Z" fill="#f6f0f7" stroke="none" stroke-width="0"/>
<path d="M346.4,505.1 344.7,504.1 344.1,504.0 344.2,505.6 344.6,505.9 346.6,505.9Z" fill="#f8f4f9" stroke="none" stroke-width="0"/>
<path d="M346.3,466.2 346.8,468.4 347.8,468.2 347.2,466.0 346.6,466.0Z" fill="#f6f0f7" stroke="none" stroke-width="0"/>
<path d="M348.1,472.1 348.5,472.1 349.0,470.5 348.0,469.0 346.6,469.1 346.5,469.2 346.4,470.6 347.3,471.8Z" fill="#f8f4f9" stroke="none" stroke-width="0"/>
<path d="M344.8,473.6 346.8,472.0 346.0,471.0 344.2,471.6 344.5,473.6Z" fill="#efe4f0" stroke="none" stroke-width="0"/>
<path d="M347.8,476.0 348.9,474.9 349.1,473.2 348.5,472.7 348.3,472.7 346.9,475.0 347.3,475.7Z" fill="#f6f0f7" stroke="none" stroke-width="0"/>
<path d="M347.4,477.5 347.3,476.8 346.9,476.6 345.3,477.1 345.9,477.9 346.8,478.4Z" fill="#f8f4f9" stroke="none" stroke-width="0"/>
<path d="M347.9,478.8 349.4,480.1 349.5,480.0 349.7,479.6 348.2,478.3Z" fill="#f8f4f9" stroke="none" stroke-width="0"/>
<path d="M346.6,480.9 347.1,481.8 348.4,481.5 348.6,480.9 347.2,479.6Z" fill="#f6f0f7" stroke="none" stroke-width="0"/>
<path d="M348.7,482.3 347.1,482.7 347.0,482.9 348.3,484.4 349.3,484.1 349.4,483.1Z" fill="#efe4f0" stroke="none" stroke-width="0"/>
<path d="M346.6,483.6 345.5,484.5 345.4,485.4 346.0,485.9 347.1,486.0 347.7,484.8Z" fill="#f8f4f9" stroke="none" stroke-width="0"/>
<path d="M348.0,487.9 348.0,487.6 347.3,486.8 346.1,486.7 345.6,488.9Z" fill="#f8f4f9" stroke="none" stroke-width="0"/>
<path d="M345.7,489.5 345.8,490.2 346.8,490.7 346.9,490.6 347.7,488.7Z" fill="#f6f0f7" stroke="none" stroke-width="0"/>
<path d="M349.8,492.9 347.6,491.3 347.1,491.2 347.0,491.2 347.0,491.8 348.1,494.0Z" fill="#ead8ec" stroke="none" stroke-width="0"/>
<path d="M347.6,494.6 347.7,494.4 346.7,492.4 345.7,493.7 346.8,494.8Z" fill="#f6f0f7" stroke="none" stroke-width="0"/>
<path d="M345.6,498.1 345.9,498.1 348.5,497.5 348.6,496.6 347.6,495.1 346.8,495.3 346.5,495.7 345.6,497.5 345.5,497.8Z" fill="#f6f0f7" stroke="none" stroke-width="0"/>
<path d="M348.3,500.0 348.7,498.1 348.7,498.0 346.4,498.5 348.1,500.3Z" fill="#f6f0f7" stroke="none" stroke-width="0"/>
<path d="M346.3,501.4 346.8,502.2 347.7,502.6 348.4,502.4 347.9,500.9Z" fill="#f8f4f9" stroke="none" stroke-width="0"/>
<path d="M347.2,503.1 346.6,502.9 345.5,503.7 346.5,504.3Z" fill="#efe4f0" stroke="none" stroke-width="0"/>
<path d="M349.2,505.0 349.6,503.3 349.4,502.9 349.0,502.9Z" fill="#f6f0f7" stroke="none" stroke-width="0"/>
<path d="M350.4,466.9 350.6,467.0 350.7,466.0 349.7,466.0Z" fill="#f8f4f9" stroke="none" stroke-width="0"/>
<path d="M348.4,466.0 348.1,466.0 348.6,467.8 349.5,467.4 348.6,466.0Z" fill="#efe4f0" stroke="none" stroke-width="0"/>
<path d="M348.5,468.5 348.4,468.7 349.4,470.1 351.0,469.5 351.2,469.3 351.1,467.9 351.0,467.8 350.1,467.8Z" fill="#efe4f0" stroke="none" stroke-width="0"/>
<path d="M350.1,472.4 350.3,470.7 349.8,470.9 349.4,472.2 349.7,472.4Z" fill="#ead8ec" stroke="none" stroke-width="0"/>
<path d="M350.1,473.4 349.7,473.4 349.6,474.9 350.1,475.2 351.3,474.7Z" fill="#f8f4f9" stroke="none" stroke-width="0"/>
<path d="M351.0,477.2 349.8,475.8 349.3,475.6 348.2,476.5 348.3,477.3Z" fill="#ead8ec" stroke="none" stroke-width="0"/>
<path d="M350.5,479.0 350.9,478.0 349.2,478.0 350.4,479.1Z" fill="#efe4f0" stroke="none" stroke-width="0"/>
<path d="M349.8,481.0 349.7,481.1 349.4,481.8 349.9,482.4 351.2,481.9Z" fill="#f6f0f7" stroke="none" stroke-width="0"/>
<path d="M351.1,483.2 350.3,483.5 350.3,483.7Z" fill="#efe4f0" stroke="none" stroke-width="0"/>
<path d="M347.8,486.4 348.4,487.1 350.9,486.3 349.8,484.9 349.5,484.7 348.5,485.0Z" fill="#ead8ec" stroke="none" stroke-width="0"/>
<path d="M350.1,489.3 351.9,487.5 351.9,487.4 351.4,486.9 348.8,487.7 348.8,487.9Z" fill="#f8f4f9" stroke="none" stroke-width="0"/>
<path d="M348.9,489.5 348.6,489.2 348.3,489.9Z" fill="#efe4f0" stroke="none" stroke-width="0"/>
<path d="M348.7,491.1 350.0,492.0 350.3,491.6 349.8,490.4Z" fill="#f6f0f7" stroke="none" stroke-width="0"/>
<path d="M349.1,495.9 350.5,495.4 350.7,494.6 350.0,493.8 348.4,494.8Z" fill="#ead8ec" stroke="none" stroke-width="0"/>
<path d="M351.8,497.9 350.8,496.2 349.2,496.8 349.1,497.6 349.2,497.7 351.2,498.4Z" fill="#f8f4f9" stroke="none" stroke-width="0"/>
<path d="M350.7,499.5 350.7,499.2 349.4,498.8 349.3,499.5Z" fill="#f6f0f7" stroke="none" stroke-width="0"/>
<path d="M349.5,502.1 350.4,501.6 350.8,500.5 348.8,500.5 348.6,500.7 349.1,502.1Z" fill="#ead8ec" stroke="none" stroke-width="0"/>
<path d="M348.2,503.2 348.0,503.3 347.1,504.9 347.3,505.9 347.5,505.9 348.4,505.5Z" fill="#f6f0f7" stroke="none" stroke-width="0"/>
<path d="M350.2,505.7 350.8,504.7 350.2,504.0 349.9,505.6Z" fill="#ead8ec" stroke="none" stroke-width="0"/>
<path d="M353.1,466.9 353.7,466.4 353.7,466.0 351.8,466.0 351.7,467.2Z" fill="#f6f0f7" stroke="none" stroke-width="0"/>
<path d="M354.1,470.2 353.1,467.9 351.9,468.2 352.0,469.3 353.6,470.6Z" fill="#ead8ec" stroke="none" stroke-width="0"/>
<path d="M351.2,472.2 353.1,471.7 353.1,471.4 351.5,470.0Z" fill="#ead8ec" stroke="none" stroke-width="0"/>
<path d="M352.3,474.3 352.8,474.5 352.8,472.9 351.4,473.3Z" fill="#f8f4f9" stroke="none" stroke-width="0"/>
<path d="M352.3,475.5 351.9,475.3 350.8,475.7 351.8,476.8Z" fill="#ead8ec" stroke="none" stroke-width="0"/>
<path d="M352.9,480.5 353.7,479.5 353.8,479.0 352.0,477.7 351.8,477.7 351.7,477.8 351.1,479.2Z" fill="#f8f4f9" stroke="none" stroke-width="0"/>
<path d="M350.7,480.3 352.2,481.2 352.2,481.1 350.8,480.1Z" fill="#ead8ec" stroke="none" stroke-width="0"/>
<path d="M353.0,482.9 353.1,483.4 355.0,484.5 355.7,483.4 355.4,482.7 352.9,482.5Z" fill="#f6f0f7" stroke="none" stroke-width="0"/>
<path d="M352.6,483.6 352.6,483.4 350.5,484.7 351.5,486.1Z" fill="#f8f4f9" stroke="none" stroke-width="0"/>
<path d="M353.3,488.5 355.6,489.1 355.9,488.8 354.9,487.1 352.9,487.7Z" fill="#ead8ec" stroke="none" stroke-width="0"/>
<path d="M350.6,489.8 351.1,491.4 352.5,491.1 352.7,489.0 352.2,488.2Z" fill="#ead8ec" stroke="none" stroke-width="0"/>
<path d="M351.4,494.1 354.0,493.0 354.1,492.5 352.7,491.8 351.1,492.0 350.5,492.9Z" fill="#f8f4f9" stroke="none" stroke-width="0"/>
<path d="M353.5,495.2 353.9,494.8 354.0,494.0 352.5,494.6Z" fill="#f8f4f9" stroke="none" stroke-width="0"/>
<path d="M351.2,495.8 352.3,497.6 353.2,496.7 353.3,496.0 351.4,494.9Z" fill="#f8f4f9" stroke="none" stroke-width="0"/>
<path d="M354.0,500.6 354.0,500.5 354.1,500.0 352.3,498.7 351.8,499.1 351.8,500.1Z" fill="#ead8ec" stroke="none" stroke-width="0"/>
<path d="M353.8,501.6 351.5,501.1 351.3,501.7 352.9,502.8Z" fill="#f6f0f7" stroke="none" stroke-width="0"/>
<path d="M351.4,504.2 352.6,504.0 352.6,503.6 350.7,502.3 350.1,502.6 350.3,503.0Z" fill="#efe4f0" stroke="none" stroke-width="0"/>
<path d="M352.9,505.8 353.2,505.0 352.9,504.6 351.5,504.9 350.8,505.9 352.7,505.9Z" fill="#efe4f0" stroke="none" stroke-width="0"/>
<path d="M354.7,466.3 356.3,467.3 356.6,466.0 354.7,466.0Z" fill="#f8f4f9" stroke="none" stroke-width="0"/>
<path d="M355.9,469.2 356.0,468.7 356.0,468.4 354.3,467.4 354.1,467.5 355.0,469.6 355.9,469.2Z" fill="#f8f4f9" stroke="none" stroke-width="0"/>
<path d="M356.1,470.1 354.7,470.6 353.8,471.3 353.7,471.8 356.8,473.4 357.1,473.0Z" fill="#f8f4f9" stroke="none" stroke-width="0"/>
<path d="M353.7,474.7 355.3,475.3 356.5,475.0 356.6,473.9 353.7,472.3Z" fill="#f8f4f9" stroke="none" stroke-width="0"/>
<path d="M352.8,477.2 353.8,477.8 354.5,475.9 353.5,475.5 353.4,475.6Z" fill="#f6f0f7" stroke="none" stroke-width="0"/>
<path d="M355.9,478.5 356.6,477.1 356.6,475.7 355.5,475.9 354.6,478.5Z" fill="#efe4f0" stroke="none" stroke-width="0"/>
<path d="M355.2,481.9 355.3,481.8 354.0,480.4 353.4,481.1 353.2,481.8Z" fill="#f6f0f7" stroke="none" stroke-width="0"/>
<path d="M357.7,481.2 357.5,481.0 356.1,481.9 356.0,482.4 356.2,483.1 357.5,483.2Z" fill="#f6f0f7" stroke="none" stroke-width="0"/>
<path d="M354.6,485.1 353.2,484.3 352.2,486.4 352.5,486.7 354.7,486.0Z" fill="#efe4f0" stroke="none" stroke-width="0"/>
<path d="M356.6,487.7 357.6,486.5 357.5,486.3 356.0,486.7Z" fill="#ead8ec" stroke="none" stroke-width="0"/>
<path d="M353.2,489.2 353.0,491.3 354.4,492.1 354.9,491.8 355.5,489.8Z" fill="#efe4f0" stroke="none" stroke-width="0"/>
<path d="M357.9,490.8 356.4,489.4 356.0,489.8 355.5,491.7 357.3,492.1 357.5,491.9 357.9,491.1Z" fill="#efe4f0" stroke="none" stroke-width="0"/>
<path d="M357.2,495.3 355.1,494.7 355.1,494.8 356.6,496.2Z" fill="#ead8ec" stroke="none" stroke-width="0"/>
<path d="M356.2,497.2 354.5,495.7 354.0,496.1 353.9,496.5 356.1,497.3Z" fill="#f8f4f9" stroke="none" stroke-width="0"/>
<path d="M354.6,499.0 355.4,498.1 353.5,497.4 353.0,497.9Z" fill="#f6f0f7" stroke="none" stroke-width="0"/>
<path d="M354.6,501.4 355.4,502.0 356.6,501.7 356.7,500.8 354.8,500.9 354.6,501.3Z" fill="#efe4f0" stroke="none" stroke-width="0"/>
<path d="M353.8,504.5 355.2,504.5 355.6,504.0 355.0,502.6 354.5,502.3 353.5,503.6 353.5,504.1Z" fill="#f8f4f9" stroke="none" stroke-width="0"/>
<path d="M355.1,505.5 353.9,505.5 353.8,505.9 355.1,505.9 355.1,505.7Z" fill="#ead8ec" stroke="none" stroke-width="0"/>
<path d="M359.6,466.8 359.6,466.4 357.4,466.1 357.0,467.7Z" fill="#f6f0f7" stroke="none" stroke-width="0"/>
<path d="M360.1,468.7 357.0,469.2 357.0,469.2 359.6,470.1Z" fill="#ead8ec" stroke="none" stroke-width="0"/>
<path d="M357.6,472.6 358.5,472.3 359.2,470.8 356.7,469.9Z" fill="#f6f0f7" stroke="none" stroke-width="0"/>
<path d="M357.6,475.0 359.9,474.3 358.7,473.2 357.7,473.5 357.4,473.9 357.3,474.9Z" fill="#f8f4f9" stroke="none" stroke-width="0"/>
<path d="M357.6,476.8 359.0,477.4 357.6,476.3Z" fill="#efe4f0" stroke="none" stroke-width="0"/>
<path d="M357.2,477.6 356.6,478.8 357.7,479.9 359.1,478.9 359.1,478.5Z" fill="#f8f4f9" stroke="none" stroke-width="0"/>
<path d="M354.2,479.5 355.9,481.4 357.4,480.4 356.1,479.1 354.3,479.2Z" fill="#f6f0f7" stroke="none" stroke-width="0"/>
<path d="M358.7,483.3 360.3,482.3 358.3,481.6 358.2,483.3Z" fill="#f8f4f9" stroke="none" stroke-width="0"/>
<path d="M357.1,485.2 357.2,484.1 356.3,484.0 355.6,484.9 355.7,485.6Z" fill="#ead8ec" stroke="none" stroke-width="0"/>
<path d="M359.2,488.2 359.0,486.7 358.6,486.7 357.1,488.4Z" fill="#f6f0f7" stroke="none" stroke-width="0"/>
<path d="M358.3,489.9 359.3,489.2 359.2,489.1 357.6,489.3Z" fill="#f8f4f9" stroke="none" stroke-width="0"/>
<path d="M358.3,491.9 359.1,492.2 358.7,491.7 358.4,491.7Z" fill="#efe4f0" stroke="none" stroke-width="0"/>
<path d="M355.2,492.4 354.9,492.6 354.8,493.2 354.9,493.5 357.3,494.2 357.0,492.8Z" fill="#ead8ec" stroke="none" stroke-width="0"/>
<path d="M358.3,495.4 357.5,496.7 360.3,497.7 359.3,495.5 359.3,495.4Z" fill="#f6f0f7" stroke="none" stroke-width="0"/>
<path d="M356.8,500.3 357.6,499.8 356.4,498.3 355.0,499.8 354.9,500.3Z" fill="#f6f0f7" stroke="none" stroke-width="0"/>
<path d="M357.4,501.5 357.9,501.6 358.3,501.2 358.2,500.5 357.5,500.9Z" fill="#f8f4f9" stroke="none" stroke-width="0"/>
<path d="M357.5,503.7 357.7,502.4 356.8,502.1 355.7,502.4 356.4,503.8Z" fill="#efe4f0" stroke="none" stroke-width="0"/>
<path d="M357.0,505.9 358.9,505.9 359.1,505.8 359.1,505.6 357.5,504.4 356.4,504.4 355.8,505.1 355.9,505.3Z" fill="#efe4f0" stroke="none" stroke-width="0"/>
<path d="M359.8,467.8 359.6,467.6 358.5,468.0Z" fill="#f8f4f9" stroke="none" stroke-width="0"/>
<path d="M362.6,470.2 361.1,468.7 361.0,468.7 360.5,470.3 361.4,470.9Z" fill="#ead8ec" stroke="none" stroke-width="0"/>
<path d="M360.6,473.9 361.4,472.3 361.2,471.6 359.9,470.9 359.1,472.6Z" fill="#f6f0f7" stroke="none" stroke-width="0"/>
<path d="M361.9,475.3 362.3,475.1 362.8,474.1 362.8,473.2 361.9,472.9 361.2,474.4Z" fill="#efe4f0" stroke="none" stroke-width="0"/>
<path d="M358.5,475.6 360.2,476.9 361.0,476.5 361.3,475.9 360.6,475.0Z" fill="#efe4f0" stroke="none" stroke-width="0"/>
<path d="M361.3,477.1 360.3,477.6 359.7,478.4 359.6,478.9 361.5,480.6 362.7,479.6 362.8,479.5 362.8,479.4Z" fill="#efe4f0" stroke="none" stroke-width="0"/>
<path d="M358.3,480.8 360.9,481.8 361.1,481.0 359.3,479.5 358.0,480.5Z" fill="#ead8ec" stroke="none" stroke-width="0"/>
<path d="M359.4,483.9 360.4,485.4 360.9,485.3 361.0,485.0 360.8,483.0Z" fill="#f6f0f7" stroke="none" stroke-width="0"/>
<path d="M358.0,485.5 358.7,486.0 359.1,486.1 359.6,485.8 358.6,484.1 358.1,484.0Z" fill="#f8f4f9" stroke="none" stroke-width="0"/>
<path d="M360.2,486.1 359.5,486.6 359.7,488.4 360.3,489.1 360.9,489.2 361.9,488.4 362.0,487.8 361.0,485.9Z" fill="#efe4f0" stroke="none" stroke-width="0"/>
<path d="M358.9,490.9 360.7,490.7 360.8,490.5 360.6,489.8 360.3,489.7 358.7,490.9Z" fill="#ead8ec" stroke="none" stroke-width="0"/>
<path d="M360.6,491.7 359.9,491.7 360.6,492.4Z" fill="#f6f0f7" stroke="none" stroke-width="0"/>
<path d="M357.8,492.4 357.7,492.5 358.1,494.7 358.1,494.8 359.3,494.8 360.3,493.3Z" fill="#efe4f0" stroke="none" stroke-width="0"/>
<path d="M361.0,497.6 362.8,497.1 362.8,496.2 362.7,495.6 360.1,495.5Z" fill="#f8f4f9" stroke="none" stroke-width="0"/>
<path d="M356.8,497.8 358.3,499.5 358.6,499.7 360.1,498.5 360.1,498.5 357.0,497.3Z" fill="#ead8ec" stroke="none" stroke-width="0"/>
<path d="M359.3,501.1 360.1,501.6 361.3,500.6 360.4,499.3 359.1,500.3Z" fill="#f8f4f9" stroke="none" stroke-width="0"/>
<path d="M359.4,504.6 360.0,503.8 359.6,502.6 359.0,502.2 358.6,502.6 358.4,503.7Z" fill="#f6f0f7" stroke="none" stroke-width="0"/>
<path d="M362.6,504.1 360.9,504.3 359.8,505.6 359.8,505.9 362.8,505.9 362.8,504.5Z" fill="#f8f4f9" stroke="none" stroke-width="0"/>
<path d="M361.1,467.9 362.6,467.0 362.6,466.7 362.2,466.1 361.8,466.0 360.3,466.0 360.2,466.3 360.2,466.8 360.9,467.9Z" fill="#ead8ec" stroke="none" stroke-width="0"/>
<path d="M361.8,468.3 362.8,469.3 362.8,467.6Z" fill="#f6f0f7" stroke="none" stroke-width="0"/>
<path d="M362.0,471.7 362.1,471.9 362.8,472.1 362.8,471.2Z" fill="#f8f4f9" stroke="none" stroke-width="0"/>
<path d="M362.7,475.8 362.0,476.0 361.7,476.7 362.8,478.5 362.8,475.9Z" fill="#ead8ec" stroke="none" stroke-width="0"/>
<path d="M362.8,482.4 362.8,480.3 361.8,481.1 361.5,482.1Z" fill="#f8f4f9" stroke="none" stroke-width="0"/>
<path d="M361.7,483.1 361.9,484.6 362.8,484.5 362.8,483.4Z" fill="#f8f4f9" stroke="none" stroke-width="0"/>
<path d="M361.6,485.4 361.4,485.7 362.3,487.4 362.8,487.1 362.8,485.3Z" fill="#efe4f0" stroke="none" stroke-width="0"/>
<path d="M362.7,488.0 362.7,488.2 362.8,488.2 362.8,488.0Z" fill="#f6f0f7" stroke="none" stroke-width="0"/>
<path d="M362.8,490.4 362.8,489.3 362.2,489.1 361.6,489.7 361.7,490.1Z" fill="#f8f4f9" stroke="none" stroke-width="0"/>
<path d="M361.4,491.2 361.4,492.7 362.8,493.2 362.8,491.3 361.4,490.9Z" fill="#efe4f0" stroke="none" stroke-width="0"/>
<path d="M362.5,494.9 362.7,494.0 361.1,493.4 361.0,493.5 360.2,494.8Z" fill="#f8f4f9" stroke="none" stroke-width="0"/>
<path d="M361.9,499.8 362.7,498.5 362.8,498.0 361.2,498.4 361.1,498.5 361.1,498.6Z" fill="#f8f4f9" stroke="none" stroke-width="0"/>
<path d="M362.7,500.6 362.8,500.7 362.8,500.5Z" fill="#f6f0f7" stroke="none" stroke-width="0"/>
<path d="M361.1,503.4 362.5,503.2 362.8,502.8 362.8,501.9 361.9,501.3 360.7,502.3Z" fill="#ead8ec" stroke="none" stroke-width="0"/>
<circle cx="338.65" cy="473.54" r="0.4669743677485875" fill="#5a3090" stroke="none" stroke-width="0"/>
<circle cx="359.71" cy="501.85" r="0.7712469390530878" fill="#5a3090" stroke="none" stroke-width="0"/>
<circle cx="325.93" cy="482.83" r="0.6838623242043225" fill="#3a2a7a" stroke="none" stroke-width="0"/>
<circle cx="317.67" cy="477.98" r="0.4132264267254719" fill="#3a2a7a" stroke="none" stroke-width="0"/>
<circle cx="318.37" cy="489.34" r="0.5177007020864276" fill="#8a3c90" stroke="none" stroke-width="0"/>
<circle cx="344.52" cy="488.53" r="0.4884402500070609" fill="#5a3090" stroke="none" stroke-width="0"/>
<circle cx="353.29" cy="491.03" r="0.7713183983577186" fill="#5a3090" stroke="none" stroke-width="0"/>
<circle cx="311.75" cy="469.68" r="0.7058580475139142" fill="#8a3c90" stroke="none" stroke-width="0"/>
<circle cx="326.91" cy="489.27" r="0.5062614719183091" fill="#3a2a7a" stroke="none" stroke-width="0"/>
<circle cx="352.00" cy="477.10" r="0.6174539462184457" fill="#8a3c90" stroke="none" stroke-width="0"/>
<circle cx="312.74" cy="466.06" r="0.418372383285701" fill="#2e2068" stroke="none" stroke-width="0"/>
<circle cx="340.99" cy="480.21" r="0.7659945723900459" fill="#3a2a7a" stroke="none" stroke-width="0"/>
<circle cx="309.70" cy="473.37" r="0.6739261279674271" fill="#2e2068" stroke="none" stroke-width="0"/>
<circle cx="359.47" cy="500.08" r="0.5581182096729129" fill="#8a3c90" stroke="none" stroke-width="0"/>
<circle cx="342.20" cy="480.64" r="0.367565599258458" fill="#5a3090" stroke="none" stroke-width="0"/>
<circle cx="319.16" cy="500.72" r="0.3788668541918098" fill="#5a3090" stroke="none" stroke-width="0"/>
<circle cx="354.12" cy="480.46" r="0.6693147763301375" fill="#5a3090" stroke="none" stroke-width="0"/>
<circle cx="353.27" cy="474.72" r="0.681187621519536" fill="#8a3c90" stroke="none" stroke-width="0"/>
<circle cx="351.40" cy="490.80" r="0.39992253925659205" fill="#5a3090" stroke="none" stroke-width="0"/>
<circle cx="350.52" cy="467.32" r="0.44402093503925066" fill="#2e2068" stroke="none" stroke-width="0"/>
<circle cx="333.57" cy="468.44" r="0.38577712948111736" fill="#8a3c90" stroke="none" stroke-width="0"/>
<circle cx="357.01" cy="493.89" r="0.45802949000625637" fill="#8a3c90" stroke="none" stroke-width="0"/>
<circle cx="347.20" cy="482.26" r="0.4900958238117599" fill="#8a3c90" stroke="none" stroke-width="0"/>
<circle cx="318.42" cy="494.04" r="0.6531278678354902" fill="#5a3090" stroke="none" stroke-width="0"/>
<circle cx="336.91" cy="483.88" r="0.5841985165415379" fill="#3a2a7a" stroke="none" stroke-width="0"/>
<circle cx="320.34" cy="497.65" r="0.6239976373767805" fill="#8a3c90" stroke="none" stroke-width="0"/>
<circle cx="323.85" cy="489.02" r="0.48007886868746896" fill="#2e2068" stroke="none" stroke-width="0"/>
<circle cx="326.91" cy="480.98" r="0.7323169138544798" fill="#5a3090" stroke="none" stroke-width="0"/>
<circle cx="316.57" cy="503.47" r="0.41273619031971986" fill="#2e2068" stroke="none" stroke-width="0"/>
<circle cx="328.20" cy="470.32" r="0.7959441736246463" fill="#8a3c90" stroke="none" stroke-width="0"/>
<circle cx="340.67" cy="497.75" r="0.6961471799808361" fill="#2e2068" stroke="none" stroke-width="0"/>
<circle cx="323.38" cy="473.06" r="0.6354887304060085" fill="#3a2a7a" stroke="none" stroke-width="0"/>
<circle cx="339.54" cy="494.29" r="0.7049588743967439" fill="#5a3090" stroke="none" stroke-width="0"/>
<circle cx="349.32" cy="466.13" r="0.6346343217103814" fill="#3a2a7a" stroke="none" stroke-width="0"/>
<circle cx="309.70" cy="467.84" r="0.6867596370633975" fill="#2e2068" stroke="none" stroke-width="0"/>
<circle cx="327.32" cy="498.98" r="0.35586944220892863" fill="#2e2068" stroke="none" stroke-width="0"/>
<circle cx="344.96" cy="472.04" r="0.7328707821106941" fill="#3a2a7a" stroke="none" stroke-width="0"/>
<circle cx="344.62" cy="478.93" r="0.524193284727584" fill="#3a2a7a" stroke="none" stroke-width="0"/>
<circle cx="334.05" cy="492.70" r="0.7604469676858353" fill="#2e2068" stroke="none" stroke-width="0"/>
<circle cx="336.96" cy="491.39" r="0.4221699227091882" fill="#5a3090" stroke="none" stroke-width="0"/>
<circle cx="333.89" cy="495.14" r="0.3773099776512611" fill="#3a2a7a" stroke="none" stroke-width="0"/>
<circle cx="330.69" cy="481.07" r="0.48543450909081665" fill="#5a3090" stroke="none" stroke-width="0"/>
<circle cx="345.26" cy="475.61" r="0.5336403067872922" fill="#8a3c90" stroke="none" stroke-width="0"/>
<circle cx="354.60" cy="502.83" r="0.45365048036788047" fill="#3a2a7a" stroke="none" stroke-width="0"/>
<circle cx="332.81" cy="497.26" r="0.6369215950658133" fill="#2e2068" stroke="none" stroke-width="0"/>
<circle cx="344.80" cy="474.41" r="0.40501616951187136" fill="#8a3c90" stroke="none" stroke-width="0"/>
<circle cx="337.58" cy="487.59" r="0.584743928419857" fill="#5a3090" stroke="none" stroke-width="0"/>
<circle cx="357.47" cy="473.81" r="0.43379893199553027" fill="#2e2068" stroke="none" stroke-width="0"/>
<circle cx="328.75" cy="502.42" r="0.7857441308723447" fill="#8a3c90" stroke="none" stroke-width="0"/>
<circle cx="355.70" cy="466.34" r="0.5227572103137018" fill="#3a2a7a" stroke="none" stroke-width="0"/>
<circle cx="348.17" cy="499.73" r="0.7530221777431039" fill="#2e2068" stroke="none" stroke-width="0"/>
<circle cx="309.15" cy="490.96" r="0.38071011300565605" fill="#5a3090" stroke="none" stroke-width="0"/>
<circle cx="310.84" cy="493.30" r="0.3663206521560207" fill="#3a2a7a" stroke="none" stroke-width="0"/>
<circle cx="337.34" cy="500.80" r="0.6984877769862796" fill="#8a3c90" stroke="none" stroke-width="0"/>
<circle cx="330.60" cy="504.79" r="0.5090163469285482" fill="#3a2a7a" stroke="none" stroke-width="0"/>
<circle cx="341.87" cy="502.15" r="0.45659491588744416" fill="#8a3c90" stroke="none" stroke-width="0"/>
<circle cx="332.17" cy="479.65" r="0.6793178888345293" fill="#3a2a7a" stroke="none" stroke-width="0"/>
<circle cx="333.51" cy="474.82" r="0.779894262264609" fill="#2e2068" stroke="none" stroke-width="0"/>
<circle cx="313.39" cy="505.26" r="0.6204982017788074" fill="#2e2068" stroke="none" stroke-width="0"/>
<circle cx="349.45" cy="491.97" r="0.4886811338672544" fill="#2e2068" stroke="none" stroke-width="0"/>
<circle cx="329.06" cy="472.83" r="0.5066095465315421" fill="#2e2068" stroke="none" stroke-width="0"/>
<circle cx="338.12" cy="485.20" r="0.6163590241876999" fill="#2e2068" stroke="none" stroke-width="0"/>
<circle cx="317.15" cy="492.40" r="0.6665797862453906" fill="#3a2a7a" stroke="none" stroke-width="0"/>
<circle cx="338.40" cy="502.59" r="0.38272796147488874" fill="#5a3090" stroke="none" stroke-width="0"/>
<circle cx="313.42" cy="469.21" r="0.35343711342073275" fill="#2e2068" stroke="none" stroke-width="0"/>
<circle cx="310.46" cy="483.17" r="0.4689012211180727" fill="#5a3090" stroke="none" stroke-width="0"/>
<circle cx="312.69" cy="503.29" r="0.5319372472140325" fill="#5a3090" stroke="none" stroke-width="0"/>
<circle cx="337.10" cy="480.12" r="0.6844952539359505" fill="#5a3090" stroke="none" stroke-width="0"/>
<circle cx="312.44" cy="471.09" r="0.5426672534301877" fill="#5a3090" stroke="none" stroke-width="0"/>
<circle cx="358.11" cy="487.40" r="0.3626884411709428" fill="#3a2a7a" stroke="none" stroke-width="0"/>
<circle cx="313.98" cy="492.82" r="0.4866382772207794" fill="#8a3c90" stroke="none" stroke-width="0"/>
<circle cx="313.79" cy="484.15" r="0.6873621236629983" fill="#5a3090" stroke="none" stroke-width="0"/>
<circle cx="360.29" cy="485.52" r="0.49689567466568557" fill="#3a2a7a" stroke="none" stroke-width="0"/>
<circle cx="318.44" cy="475.84" r="0.49023718578086095" fill="#5a3090" stroke="none" stroke-width="0"/>
<circle cx="322.80" cy="467.21" r="0.7090657939944023" fill="#5a3090" stroke="none" stroke-width="0"/>
<circle cx="322.94" cy="466.98" r="0.38193514056816147" fill="#3a2a7a" stroke="none" stroke-width="0"/>
<circle cx="332.26" cy="469.09" r="0.6752412165297823" fill="#5a3090" stroke="none" stroke-width="0"/>
<circle cx="314.43" cy="469.02" r="0.48737651205426147" fill="#8a3c90" stroke="none" stroke-width="0"/>
<circle cx="357.58" cy="486.45" r="0.6317367011183854" fill="#3a2a7a" stroke="none" stroke-width="0"/>
<circle cx="346.75" cy="484.58" r="0.6860032901999085" fill="#3a2a7a" stroke="none" stroke-width="0"/>
<circle cx="355.26" cy="489.53" r="0.36388790532978105" fill="#8a3c90" stroke="none" stroke-width="0"/>
<circle cx="328.60" cy="491.97" r="0.4546608361219182" fill="#3a2a7a" stroke="none" stroke-width="0"/>
<circle cx="320.15" cy="482.79" r="0.48813360560380287" fill="#2e2068" stroke="none" stroke-width="0"/>
<circle cx="350.45" cy="482.10" r="0.351814314447387" fill="#3a2a7a" stroke="none" stroke-width="0"/>
<circle cx="347.00" cy="470.66" r="0.4567218997650393" fill="#5a3090" stroke="none" stroke-width="0"/>
<circle cx="357.52" cy="474.99" r="0.5043575991706255" fill="#3a2a7a" stroke="none" stroke-width="0"/>
<circle cx="357.97" cy="504.79" r="0.527612911299536" fill="#2e2068" stroke="none" stroke-width="0"/>
<circle cx="326.91" cy="476.90" r="0.4087211635671769" fill="#3a2a7a" stroke="none" stroke-width="0"/>
<circle cx="318.80" cy="486.62" r="0.48900285238888286" fill="#2e2068" stroke="none" stroke-width="0"/>
<circle cx="341.47" cy="483.65" r="0.5362824931873067" fill="#8a3c90" stroke="none" stroke-width="0"/>
<circle cx="343.10" cy="493.39" r="0.7500364622336466" fill="#8a3c90" stroke="none" stroke-width="0"/>
<circle cx="316.79" cy="489.11" r="0.48604367102124124" fill="#8a3c90" stroke="none" stroke-width="0"/>
<circle cx="348.94" cy="493.18" r="0.44573666533653084" fill="#2e2068" stroke="none" stroke-width="0"/>
<circle cx="361.43" cy="490.21" r="0.6967732127857544" fill="#3a2a7a" stroke="none" stroke-width="0"/>
<circle cx="357.53" cy="487.18" r="0.3932242317508909" fill="#3a2a7a" stroke="none" stroke-width="0"/>
<circle cx="361.45" cy="488.44" r="0.7817749467038243" fill="#5a3090" stroke="none" stroke-width="0"/>
<circle cx="321.63" cy="498.91" r="0.5654400463193916" fill="#3a2a7a" stroke="none" stroke-width="0"/>
<circle cx="312.93" cy="487.16" r="0.7514383860589419" fill="#5a3090" stroke="none" stroke-width="0"/>
<circle cx="362.60" cy="505.69" r="0.5390083400256287" fill="#2e2068" stroke="none" stroke-width="0"/>
<circle cx="347.42" cy="466.92" r="0.35518341609232623" fill="#8a3c90" stroke="none" stroke-width="0"/>
<circle cx="347.82" cy="475.68" r="0.4088183656694218" fill="#5a3090" stroke="none" stroke-width="0"/>
<circle cx="328.75" cy="493.90" r="0.38213739636023647" fill="#3a2a7a" stroke="none" stroke-width="0"/>
<circle cx="309.01" cy="499.22" r="0.7197827713366833" fill="#3a2a7a" stroke="none" stroke-width="0"/>
<circle cx="343.15" cy="470.83" r="0.6498762781865246" fill="#3a2a7a" stroke="none" stroke-width="0"/>
<circle cx="311.61" cy="483.36" r="0.5468504249450568" fill="#3a2a7a" stroke="none" stroke-width="0"/>
<circle cx="325.39" cy="491.03" r="0.7683540484672567" fill="#3a2a7a" stroke="none" stroke-width="0"/>
<circle cx="342.21" cy="473.55" r="0.6103227665080724" fill="#2e2068" stroke="none" stroke-width="0"/>
<circle cx="335.57" cy="495.09" r="0.5688500943507134" fill="#3a2a7a" stroke="none" stroke-width="0"/>
<circle cx="361.04" cy="479.71" r="0.5085679165295103" fill="#3a2a7a" stroke="none" stroke-width="0"/>
<circle cx="327.08" cy="504.76" r="0.600088338379971" fill="#5a3090" stroke="none" stroke-width="0"/>
<circle cx="339.40" cy="492.38" r="0.6827130769271275" fill="#2e2068" stroke="none" stroke-width="0"/>
<circle cx="349.97" cy="473.46" r="0.5939367232630515" fill="#3a2a7a" stroke="none" stroke-width="0"/>
<circle cx="332.15" cy="493.50" r="0.6728638010392975" fill="#5a3090" stroke="none" stroke-width="0"/>
<circle cx="323.85" cy="467.79" r="0.6039525568245702" fill="#3a2a7a" stroke="none" stroke-width="0"/>
<circle cx="334.21" cy="496.85" r="0.6732222288058045" fill="#8a3c90" stroke="none" stroke-width="0"/>
<circle cx="338.45" cy="500.33" r="0.7623746029821845" fill="#8a3c90" stroke="none" stroke-width="0"/>
<circle cx="321.04" cy="486.60" r="0.3790729991097704" fill="#8a3c90" stroke="none" stroke-width="0"/>
<circle cx="349.93" cy="482.48" r="0.6566903259236477" fill="#5a3090" stroke="none" stroke-width="0"/>
<circle cx="350.39" cy="496.43" r="0.6820000107306539" fill="#8a3c90" stroke="none" stroke-width="0"/>
<circle cx="319.49" cy="488.27" r="0.5331869773044327" fill="#2e2068" stroke="none" stroke-width="0"/>
<circle cx="327.22" cy="500.29" r="0.563879951756483" fill="#3a2a7a" stroke="none" stroke-width="0"/>
<circle cx="336.71" cy="502.36" r="0.4407939350963944" fill="#8a3c90" stroke="none" stroke-width="0"/>
<circle cx="347.57" cy="495.73" r="0.7794369862090141" fill="#2e2068" stroke="none" stroke-width="0"/>
<circle cx="318.77" cy="498.52" r="0.47055831772290513" fill="#3a2a7a" stroke="none" stroke-width="0"/>
<circle cx="340.72" cy="491.61" r="0.5457907972847769" fill="#5a3090" stroke="none" stroke-width="0"/>
<circle cx="314.24" cy="491.19" r="0.7571164011970836" fill="#8a3c90" stroke="none" stroke-width="0"/>
<circle cx="323.21" cy="491.71" r="0.753194381905809" fill="#3a2a7a" stroke="none" stroke-width="0"/>
<circle cx="310.56" cy="471.11" r="0.49144659912012434" fill="#8a3c90" stroke="none" stroke-width="0"/>
<circle cx="333.94" cy="477.36" r="0.5280329722356177" fill="#8a3c90" stroke="none" stroke-width="0"/>
<circle cx="316.99" cy="494.87" r="0.5360965214202309" fill="#5a3090" stroke="none" stroke-width="0"/>
<circle cx="339.16" cy="500.27" r="0.6542507643107532" fill="#2e2068" stroke="none" stroke-width="0"/>
<circle cx="339.37" cy="477.75" r="0.6119969262408547" fill="#8a3c90" stroke="none" stroke-width="0"/>
<circle cx="310.41" cy="492.94" r="0.35256061569201586" fill="#3a2a7a" stroke="none" stroke-width="0"/>
<circle cx="352.40" cy="505.45" r="0.5808013730037053" fill="#2e2068" stroke="none" stroke-width="0"/>
<circle cx="328.48" cy="474.15" r="0.6544341180230606" fill="#3a2a7a" stroke="none" stroke-width="0"/>
<circle cx="342.13" cy="477.18" r="0.5388152241249204" fill="#5a3090" stroke="none" stroke-width="0"/>
<circle cx="342.76" cy="483.31" r="0.6022176522424489" fill="#2e2068" stroke="none" stroke-width="0"/>
<circle cx="351.12" cy="502.87" r="0.7626632798264164" fill="#2e2068" stroke="none" stroke-width="0"/>
<circle cx="322.79" cy="496.56" r="0.4394368107688552" fill="#3a2a7a" stroke="none" stroke-width="0"/>
<circle cx="336.65" cy="484.10" r="0.3660253733977694" fill="#3a2a7a" stroke="none" stroke-width="0"/>
<circle cx="323.55" cy="493.12" r="0.7538089964120083" fill="#3a2a7a" stroke="none" stroke-width="0"/>
<circle cx="345.87" cy="501.78" r="0.7087503069202965" fill="#5a3090" stroke="none" stroke-width="0"/>
<circle cx="309.97" cy="500.30" r="0.6098098272602579" fill="#5a3090" stroke="none" stroke-width="0"/>
<circle cx="311.87" cy="496.08" r="0.4432460288387454" fill="#5a3090" stroke="none" stroke-width="0"/>
<circle cx="326.33" cy="494.74" r="0.6089764715771722" fill="#2e2068" stroke="none" stroke-width="0"/>
<circle cx="312.61" cy="500.06" r="0.4808602282217126" fill="#8a3c90" stroke="none" stroke-width="0"/>
<circle cx="359.66" cy="492.88" r="0.682127461946026" fill="#5a3090" stroke="none" stroke-width="0"/>
<circle cx="342.43" cy="472.81" r="0.627964765614352" fill="#8a3c90" stroke="none" stroke-width="0"/>
<circle cx="362.08" cy="502.57" r="0.752794926642973" fill="#3a2a7a" stroke="none" stroke-width="0"/>
<circle cx="340.59" cy="481.81" r="0.7073261974551959" fill="#8a3c90" stroke="none" stroke-width="0"/>
</g>
</g>
<rect x="309.00" y="466.00" width="53.80" height="39.90" fill="none" stroke="#6a6466" stroke-width="1.0"/>
<g filter="url(#lb)">
<clipPath id="cj11"><rect x="364.2" y="466.0" width="53.3" height="39.9"/></clipPath>
<g clip-path="url(#cj11)">
<rect x="364.20" y="466.00" width="53.30" height="39.90" fill="#b888c0"/>
<path d="M364.4,470.7 364.8,470.0 364.6,469.3 364.2,468.5 364.2,470.8Z" fill="#f8f6f9" stroke="none" stroke-width="0"/>
<path d="M365.1,472.5 364.2,472.1 364.2,475.3 364.4,475.2 365.0,474.5 365.3,473.6Z" fill="#f6f2f7" stroke="none" stroke-width="0"/>
<path d="M366.1,478.7 365.5,477.0 364.8,476.2 364.2,476.3 364.2,481.5 364.3,481.5 365.3,480.9 366.0,479.6Z" fill="#f2ecf4" stroke="none" stroke-width="0"/>
<path d="M365.3,483.0 364.4,483.4 364.2,484.2 364.2,484.7 364.4,486.9 364.9,487.7 365.9,487.9 366.8,487.7 367.5,487.2 367.7,486.4 367.5,485.0 367.2,484.3 366.2,483.3Z" fill="#f6f2f7" stroke="none" stroke-width="0"/>
<path d="M364.2,504.5 364.2,505.9 366.2,505.9Z" fill="#f6f2f7" stroke="none" stroke-width="0"/>
<path d="M366.2,470.2 366.9,470.7 367.8,470.6 368.4,469.9 369.4,466.0 364.2,466.0 364.2,466.6Z" fill="#f2ecf4" stroke="none" stroke-width="0"/>
<path d="M366.6,472.6 365.9,474.9 365.9,475.7 366.4,477.3 367.1,478.0 368.0,478.0 368.4,477.9 369.1,477.1 370.1,474.0 370.0,473.2 370.0,473.0 369.5,472.4 368.7,471.9 367.9,471.7 367.5,471.8Z" fill="#f8f6f9" stroke="none" stroke-width="0"/>
<path d="M371.5,481.1 371.1,480.1 369.8,479.0 368.6,478.9 367.3,479.4 366.7,480.0 366.2,480.9 366.1,481.6 366.4,482.3 367.3,483.2 368.0,483.5 368.7,483.3 370.9,482.1Z" fill="#f8f6f9" stroke="none" stroke-width="0"/>
<path d="M368.9,487.1 369.6,487.4 370.4,487.2 374.3,484.3 374.8,483.6 374.7,482.8 374.6,482.5 373.9,481.8 372.9,481.9 369.0,484.1 368.4,485.3 368.5,486.3Z" fill="#f6f2f7" stroke="none" stroke-width="0"/>
<path d="M364.2,489.6 364.2,492.6 364.4,492.9 365.6,493.2 368.8,492.5 369.7,491.8 369.6,490.7 368.7,489.2 368.2,488.7 367.4,488.6 364.5,489.3Z" fill="#f2ecf4" stroke="none" stroke-width="0"/>
<path d="M364.5,499.8 364.7,499.8 365.5,499.4 369.0,495.6 369.3,494.7 368.8,493.8 367.9,493.6 365.5,494.2 364.6,494.9 364.2,496.0 364.2,499.7Z" fill="#f8f6f9" stroke="none" stroke-width="0"/>
<path d="M372.0,498.8 370.8,496.8 369.9,496.2 368.9,496.6 366.9,498.8 366.7,499.8 367.4,500.7 370.0,501.8 371.0,501.8 371.6,501.1 372.1,499.8Z" fill="#f8f6f9" stroke="none" stroke-width="0"/>
<path d="M364.9,500.6 364.4,500.6 364.2,500.7 364.2,503.5 366.9,505.4 367.7,505.6 368.4,505.3 369.4,504.3 369.8,503.6 369.7,502.8 369.1,502.3 365.4,500.7Z" fill="#f6f2f7" stroke="none" stroke-width="0"/>
<path d="M373.1,505.3 372.7,504.6 372.3,504.3 371.5,504.0 370.7,504.4 369.1,505.9 373.2,505.9Z" fill="#f6f2f7" stroke="none" stroke-width="0"/>
<path d="M376.2,469.1 376.2,468.3 375.7,466.4 375.5,466.0 375.5,466.0 370.3,466.0 370.1,466.4 369.1,470.1 369.1,470.9 369.6,471.4 369.7,471.5 370.8,471.6 375.5,469.7Z" fill="#f2ecf4" stroke="none" stroke-width="0"/>
<path d="M371.4,472.4 371.2,473.2 371.7,473.9 375.1,476.7 375.9,477.0 376.6,476.7 379.2,474.5 379.6,473.9 379.9,472.7 379.8,472.0 379.4,471.5 377.5,470.2 376.4,470.1 372.0,471.9Z" fill="#f2ecf4" stroke="none" stroke-width="0"/>
<path d="M373.8,480.6 374.6,480.1 374.9,479.7 375.1,479.3 375.2,478.6 374.8,477.4 372.3,475.4 371.2,475.2 370.4,476.0 370.1,477.1 370.5,478.4 372.9,480.4Z" fill="#f2ecf4" stroke="none" stroke-width="0"/>
<path d="M377.6,487.2 378.7,487.1 379.6,486.6 380.2,485.7 379.8,484.7 378.9,484.3 377.9,484.4 377.0,484.9 376.8,485.9 376.9,486.4Z" fill="#f2ecf4" stroke="none" stroke-width="0"/>
<path d="M374.0,490.2 375.6,488.4 375.9,487.3 375.7,486.5 374.9,485.7 373.8,485.9 370.8,488.1 370.3,488.8 370.4,489.7 370.6,490.1 371.7,490.7 373.1,490.6Z" fill="#f2ecf4" stroke="none" stroke-width="0"/>
<path d="M377.1,496.3 376.8,495.3 374.1,492.1 373.1,491.7 371.6,491.8 370.6,492.4 370.5,492.7 370.4,493.3 370.5,494.5 370.6,495.0 372.3,497.8 373.0,498.3 373.8,498.2 376.4,497.2Z" fill="#f6f2f7" stroke="none" stroke-width="0"/>
<path d="M372.2,502.7 372.6,503.3 373.1,503.7 374.1,504.0 376.6,503.4 377.3,503.0 377.5,502.3 377.6,499.6 377.4,498.8 376.7,498.4 376.0,498.4 373.6,499.4 372.9,500.1 372.2,502.0Z" fill="#f6f2f7" stroke="none" stroke-width="0"/>
<path d="M379.4,505.2 378.9,504.6 378.4,504.3 377.5,504.2 375.0,504.8 374.3,505.3 374.2,505.9 379.4,505.9Z" fill="#f2ecf4" stroke="none" stroke-width="0"/>
<path d="M381.1,470.8 381.4,470.6 382.0,469.9 382.6,468.1 382.6,467.5 382.4,466.0 377.8,466.0 377.1,466.6 377.1,467.4 377.4,468.7 377.9,469.4 379.9,470.7Z" fill="#f8f6f9" stroke="none" stroke-width="0"/>
<path d="M380.8,472.8 380.6,473.7 380.8,474.7 382.0,476.3 382.5,476.7 384.7,477.4 386.0,477.1 386.8,476.1 387.1,475.0 386.8,473.6 386.0,472.7 383.3,471.8 383.3,471.7 382.9,471.6 382.0,471.7 381.5,471.9Z" fill="#f2ecf4" stroke="none" stroke-width="0"/>
<path d="M379.7,475.3 378.8,475.6 376.4,477.6 376.0,478.2 376.0,478.4 376.1,479.3 376.8,479.8 379.7,480.7 380.7,480.6 381.2,479.7 381.5,477.6 381.3,476.8 380.5,475.8Z" fill="#f8f6f9" stroke="none" stroke-width="0"/>
<path d="M379.1,488.4 379.4,489.4 380.5,490.5 381.4,490.8 382.3,490.4 382.5,489.4 382.2,487.8 381.5,487.0 380.4,487.0 379.6,487.5Z" fill="#f8f6f9" stroke="none" stroke-width="0"/>
<path d="M377.3,488.5 376.4,488.9 375.0,490.4 374.7,491.2 375.0,492.0 378.0,495.5 379.0,495.9 379.9,495.3 381.2,493.1 381.3,492.4 381.0,491.7 378.1,488.9Z" fill="#f8f6f9" stroke="none" stroke-width="0"/>
<path d="M380.7,498.3 379.8,498.1 379.1,498.5 378.7,499.2 378.6,502.5 379.3,503.6 379.9,504.0 380.9,504.0 381.0,503.9 381.6,503.4 381.7,502.6 381.1,499.1Z" fill="#f2ecf4" stroke="none" stroke-width="0"/>
<path d="M384.6,502.8 385.5,503.4 386.5,503.6 387.2,503.4 387.7,502.9 388.3,501.7 388.3,500.6 387.7,499.6 387.1,499.1 386.2,499.1 385.6,499.7 384.6,501.7Z" fill="#f2ecf4" stroke="none" stroke-width="0"/>
<path d="M383.9,466.9 384.9,467.0 387.9,466.0 383.3,466.0 383.3,466.1Z" fill="#f2ecf4" stroke="none" stroke-width="0"/>
<path d="M390.2,471.7 389.2,471.8 388.4,472.3 387.9,472.8 387.8,473.6 388.2,475.0 388.8,475.8 390.0,476.4 391.0,476.5 391.4,476.3 392.0,475.7 392.0,474.7 390.9,472.3Z" fill="#f8f6f9" stroke="none" stroke-width="0"/>
<path d="M383.2,483.5 384.1,483.4 385.3,482.7 385.8,481.5 385.4,479.3 384.6,478.4 383.5,478.0 382.5,478.1 381.9,479.0 381.6,481.0 381.8,481.8 382.4,483.0Z" fill="#f8f6f9" stroke="none" stroke-width="0"/>
<path d="M386.9,487.4 387.8,487.2 388.3,486.4 388.6,484.5 388.3,483.6 387.6,483.2 386.9,483.1 386.0,483.2 385.5,483.6 385.0,484.3 385.1,485.2 386.1,486.8Z" fill="#f6f2f7" stroke="none" stroke-width="0"/>
<path d="M384.3,486.0 383.4,486.0 382.8,486.5 382.7,487.3 383.3,490.3 383.7,491.0 384.5,491.3 385.6,491.2 386.4,490.9 386.8,490.2 386.6,489.4 384.9,486.5Z" fill="#f8f6f9" stroke="none" stroke-width="0"/>
<path d="M380.7,496.0 381.2,496.8 381.3,496.8 381.9,497.0 385.7,497.5 386.0,497.5 386.2,497.5 387.2,496.7 388.4,493.5 388.4,492.7 388.0,492.1 387.2,491.9 383.6,492.1 383.1,492.2 382.6,492.5 382.1,493.0 380.9,495.2Z" fill="#f2ecf4" stroke="none" stroke-width="0"/>
<path d="M384.2,504.7 383.7,505.5 383.8,505.9 387.2,505.9 387.0,505.1 386.2,504.7 385.0,504.5Z" fill="#f8f6f9" stroke="none" stroke-width="0"/>
<path d="M396.7,466.0 390.1,466.0 390.2,466.3 390.3,466.3 391.3,468.4 392.4,469.1 393.9,469.1 394.8,468.7 396.2,467.2 396.3,467.0 396.6,466.4Z" fill="#f2ecf4" stroke="none" stroke-width="0"/>
<path d="M386.2,470.2 386.4,471.1 387.1,471.6 388.0,471.4 390.0,470.2 390.4,469.9 390.4,469.9 390.5,468.6 390.4,468.4 389.6,467.8 388.6,468.0 386.7,469.4Z" fill="#f6f2f7" stroke="none" stroke-width="0"/>
<path d="M391.9,470.1 391.5,470.8 391.6,471.5 393.0,474.7 393.8,475.3 394.8,475.2 395.3,474.3 395.5,472.4 395.3,471.7 394.6,470.5 393.6,469.8 392.7,469.8Z" fill="#f2ecf4" stroke="none" stroke-width="0"/>
<path d="M389.8,482.2 390.2,481.3 390.2,478.1 389.5,477.0 388.8,476.7 388.0,476.5 387.4,476.9 386.3,478.1 386.0,479.1 386.4,481.3 386.8,481.9 387.4,482.2 388.8,482.5Z" fill="#f8f6f9" stroke="none" stroke-width="0"/>
<path d="M390.7,487.4 389.7,487.5 389.1,488.3 388.8,490.3 389.2,491.3 390.1,491.7 390.4,491.7 391.1,491.4 391.5,491.0 392.0,490.1 392.0,489.8 391.9,489.3 391.4,488.1Z" fill="#f6f2f7" stroke="none" stroke-width="0"/>
<path d="M392.4,491.4 392.4,491.4 391.9,492.2 392.2,493.1 395.5,497.3 396.3,497.7 397.1,497.6 397.4,497.4 398.0,496.8 398.9,494.2 398.9,493.2 398.2,491.8 397.8,491.4 396.9,490.7 396.0,490.5 392.9,491.2Z" fill="#f6f2f7" stroke="none" stroke-width="0"/>
<path d="M389.7,500.2 390.6,500.1 393.6,498.5 394.2,497.7 394.0,496.7 391.4,493.5 390.7,493.1 389.9,493.2 389.3,493.8 388.1,497.3 388.2,498.3 389.0,499.7Z" fill="#f2ecf4" stroke="none" stroke-width="0"/>
<path d="M388.6,504.3 389.5,504.9 391.0,505.2 392.0,504.9 392.4,504.0 391.9,503.0 390.7,502.2 389.7,502.0 388.9,502.6 388.6,503.2Z" fill="#f6f2f7" stroke="none" stroke-width="0"/>
<path d="M389.6,505.8 389.2,505.9 390.2,505.9Z" fill="#f8f6f9" stroke="none" stroke-width="0"/>
<path d="M401.0,466.6 401.6,466.0 401.6,466.0 398.1,466.0 398.3,466.1 400.2,466.7Z" fill="#f6f2f7" stroke="none" stroke-width="0"/>
<path d="M396.6,475.4 397.5,475.7 399.6,475.5 400.2,475.1 400.6,474.4 400.7,473.8 400.4,472.8 399.5,472.4 397.5,472.4 396.7,472.7 396.3,473.5 396.2,474.4Z" fill="#f8f6f9" stroke="none" stroke-width="0"/>
<path d="M394.8,477.2 394.1,476.8 393.5,476.8 392.9,476.9 391.9,477.3 391.3,477.7 391.1,478.4 391.2,480.7 391.5,481.5 392.2,481.9 392.8,482.0 393.5,481.8 394.0,481.2 395.1,478.6 395.1,478.1 395.1,477.9Z" fill="#f6f2f7" stroke="none" stroke-width="0"/>
<path d="M394.9,482.5 395.5,483.1 397.4,484.2 398.5,484.2 399.1,483.4 399.5,481.7 399.4,480.9 398.9,480.3 397.2,479.5 396.2,479.4 395.5,480.1 394.9,481.6Z" fill="#f2ecf4" stroke="none" stroke-width="0"/>
<path d="M393.5,489.0 394.1,489.6 394.9,489.7 395.4,489.6 396.3,488.8 397.1,486.3 397.1,485.4 396.6,484.8 396.0,484.5 395.0,484.5 394.3,485.3 393.5,488.2Z" fill="#f8f6f9" stroke="none" stroke-width="0"/>
<path d="M405.2,489.9 405.0,489.2 404.9,489.0 404.2,488.5 403.3,488.6 399.7,490.9 399.2,491.6 399.3,492.4 399.3,492.6 400.5,493.2 402.4,493.1 403.2,492.6 404.9,490.6Z" fill="#f8f6f9" stroke="none" stroke-width="0"/>
<path d="M395.8,498.9 394.7,498.9 392.2,500.2 391.7,500.8 391.6,501.6 392.1,502.2 395.0,504.3 395.8,504.6 396.6,504.1 396.9,503.2 396.4,499.8Z" fill="#f8f6f9" stroke="none" stroke-width="0"/>
<path d="M398.0,498.2 397.4,498.7 397.2,499.4 397.7,503.4 398.5,504.3 399.8,504.8 401.0,504.6 403.5,502.6 403.9,501.3 403.6,500.3 402.8,499.5 398.8,498.1Z" fill="#f6f2f7" stroke="none" stroke-width="0"/>
<path d="M399.7,505.7 397.9,505.0 396.9,505.0 396.1,505.4 395.7,505.7 395.6,505.9 399.9,505.9Z" fill="#f8f6f9" stroke="none" stroke-width="0"/>
<path d="M403.6,466.3 404.6,466.2 405.0,466.0 403.3,466.0Z" fill="#f2ecf4" stroke="none" stroke-width="0"/>
<path d="M399.8,467.9 399.3,468.7 399.6,469.7 400.4,470.5 401.3,470.8 402.1,470.5 402.5,469.7 402.5,469.2 402.3,468.4 401.7,467.9 400.8,467.7Z" fill="#f8f6f9" stroke="none" stroke-width="0"/>
<path d="M401.6,472.6 401.3,474.9 401.5,475.7 402.1,476.2 402.9,476.1 405.9,475.0 406.6,474.4 406.6,473.5 406.0,472.8 403.5,471.6 402.2,471.8 402.1,471.9Z" fill="#f2ecf4" stroke="none" stroke-width="0"/>
<path d="M396.9,477.0 396.7,478.0 397.4,478.8 399.3,479.8 400.6,479.6 401.2,479.1 401.6,478.0 401.5,477.4 401.3,476.8 401.1,476.6 400.0,476.2 397.7,476.5Z" fill="#f8f6f9" stroke="none" stroke-width="0"/>
<path d="M402.2,479.7 401.5,480.0 400.9,480.5 400.5,481.2 400.0,483.3 400.1,484.1 400.8,484.7 403.0,485.4 403.8,485.3 404.4,484.9 405.1,483.8 405.3,483.1 405.2,482.0 404.6,481.1 402.9,479.9Z" fill="#f2ecf4" stroke="none" stroke-width="0"/>
<path d="M397.5,489.8 398.2,490.4 399.2,490.3 402.5,488.2 403.0,487.5 402.9,486.6 402.2,486.1 399.8,485.3 398.9,485.4 398.3,486.1 397.4,488.9Z" fill="#f2ecf4" stroke="none" stroke-width="0"/>
<path d="M407.1,490.8 406.8,490.7 406.1,490.7 405.5,491.1 404.0,492.9 403.8,494.1 404.5,495.9 405.2,496.6 406.1,496.6 408.6,495.5 409.2,494.9 409.3,494.0 408.6,492.3 408.3,491.8 407.5,491.1Z" fill="#f2ecf4" stroke="none" stroke-width="0"/>
<path d="M402.6,494.2 401.8,494.0 400.7,494.1 399.6,494.9 399.2,495.9 399.3,496.8 400.0,497.5 402.3,498.2 403.2,498.2 403.8,497.5 403.8,496.6 403.1,494.8Z" fill="#f8f6f9" stroke="none" stroke-width="0"/>
<path d="M401.7,505.7 401.8,505.9 408.9,505.9 409.0,505.6 408.7,504.9 408.0,504.1 407.5,503.7 405.3,503.0 404.2,503.2 402.1,505.0Z" fill="#f6f2f7" stroke="none" stroke-width="0"/>
<path d="M409.9,466.8 411.2,466.5 411.2,466.5 411.5,466.0 408.0,466.0Z" fill="#f6f2f7" stroke="none" stroke-width="0"/>
<path d="M403.5,468.9 403.4,469.7 403.6,470.4 404.1,470.9 407.5,472.5 408.3,472.5 408.9,472.1 409.8,470.9 410.1,470.2 410.1,468.7 409.9,468.0 409.4,467.6 407.2,466.7 406.1,466.7 404.1,468.0Z" fill="#f6f2f7" stroke="none" stroke-width="0"/>
<path d="M409.7,476.1 410.4,476.3 413.0,476.3 413.7,476.0 414.1,475.5 414.7,474.0 414.6,473.1 414.0,472.5 411.6,471.6 410.9,471.5 410.2,472.0 409.1,473.4 408.9,474.1 408.9,474.1 408.9,474.6 409.2,475.5Z" fill="#f2ecf4" stroke="none" stroke-width="0"/>
<path d="M402.9,477.4 402.8,478.3 403.3,479.0 404.6,479.9 405.5,480.0 406.2,479.7 408.1,477.6 408.4,476.6 407.8,475.7 406.8,475.6 403.6,476.9Z" fill="#f8f6f9" stroke="none" stroke-width="0"/>
<path d="M409.1,478.7 408.2,479.1 406.5,480.9 406.2,481.8 406.2,482.1 406.5,482.9 407.3,483.2 409.9,483.5 410.7,483.3 411.2,482.7 411.4,481.9 411.3,480.8 410.0,479.1Z" fill="#f8f6f9" stroke="none" stroke-width="0"/>
<path d="M405.7,484.9 405.0,485.9 404.8,486.8 404.9,487.1 405.1,487.5 406.0,489.0 407.0,489.5 408.0,489.1 410.1,486.5 410.3,485.7 410.0,484.9 409.2,484.5 406.8,484.3Z" fill="#f8f6f9" stroke="none" stroke-width="0"/>
<path d="M409.7,492.1 409.7,493.0 410.3,494.7 410.7,495.2 411.4,495.7 412.2,495.9 413.6,495.8 414.4,495.4 414.7,494.6 414.8,491.2 414.5,490.4 413.8,490.0 413.0,490.1 410.3,491.5Z" fill="#f6f2f7" stroke="none" stroke-width="0"/>
<path d="M404.8,498.3 404.5,498.9 404.4,499.8 404.7,501.3 405.5,502.1 406.9,502.6 407.7,502.6 408.3,502.0 410.3,497.9 410.3,496.9 409.7,496.3 408.7,496.3 405.4,497.8Z" fill="#f8f6f9" stroke="none" stroke-width="0"/>
<path d="M411.7,500.1 410.8,500.0 410.0,500.6 409.1,502.6 409.2,503.9 409.9,504.7 410.7,505.1 411.5,505.2 412.5,504.8 412.8,503.8 412.3,501.0Z" fill="#f8f6f9" stroke="none" stroke-width="0"/>
<path d="M415.2,466.0 413.2,466.0 412.6,466.2 412.2,466.5 411.4,467.3 411.0,468.1 411.0,469.8 411.2,470.4 411.8,470.9 415.3,472.3 415.9,472.4 417.5,472.2 417.5,468.1Z" fill="#f2ecf4" stroke="none" stroke-width="0"/>
<path d="M415.0,477.1 416.6,478.9 417.5,479.2 417.5,472.9 417.3,472.9 416.5,472.9 415.5,473.7 414.7,475.8Z" fill="#f2ecf4" stroke="none" stroke-width="0"/>
<path d="M411.5,477.5 411.1,478.3 411.4,479.1 412.0,480.0 413.3,480.4 414.2,480.2 414.9,479.7 415.1,478.9 414.8,478.2 414.2,477.6 413.3,477.2 412.3,477.2Z" fill="#f2ecf4" stroke="none" stroke-width="0"/>
<path d="M412.4,482.3 411.9,483.6 412.0,484.6 412.0,484.6 412.5,485.1 415.2,486.7 416.4,486.8 417.5,486.2 417.5,481.6 417.0,481.0 416.1,480.8 413.3,481.5Z" fill="#f6f2f7" stroke="none" stroke-width="0"/>
<path d="M409.8,489.2 410.4,490.1 411.5,490.0 413.6,489.0 414.1,488.4 414.2,487.5 413.7,486.9 412.8,486.4 412.0,486.2 411.3,486.6 410.0,488.2Z" fill="#f8f6f9" stroke="none" stroke-width="0"/>
<path d="M416.9,491.4 415.9,491.6 415.5,492.5 415.4,494.9 415.6,495.6 416.2,496.0 416.4,496.1 417.1,496.1 417.5,495.9 417.5,491.8Z" fill="#f8f6f9" stroke="none" stroke-width="0"/>
<path d="M414.7,496.6 414.0,496.7 413.1,497.2 412.9,498.1 413.6,501.7 414.0,502.4 414.7,502.7 415.5,502.4 417.3,500.9 417.5,500.5 417.5,498.4 417.1,497.7 416.5,497.2 415.2,496.7Z" fill="#f8f6f9" stroke="none" stroke-width="0"/>
<path d="M413.7,505.9 413.7,505.9 417.5,505.9 417.5,502.1 417.2,502.2 414.1,504.9Z" fill="#f8f6f9" stroke="none" stroke-width="0"/>
<path d="M417.5,466.9 417.5,466.0 416.5,466.0Z" fill="#f6f2f7" stroke="none" stroke-width="0"/>
<path d="M416.9,487.9 417.0,488.8 417.5,489.9 417.5,487.2 417.5,487.2Z" fill="#f8f6f9" stroke="none" stroke-width="0"/>
<circle cx="407.93" cy="476.26" r="0.38193928552478856" fill="#8a3c90" stroke="none" stroke-width="0"/>
<circle cx="389.49" cy="501.31" r="0.47622989117013825" fill="#2e2068" stroke="none" stroke-width="0"/>
<circle cx="392.61" cy="475.05" r="0.4947281726918129" fill="#5a3090" stroke="none" stroke-width="0"/>
<circle cx="369.24" cy="472.11" r="0.4662190025951551" fill="#5a3090" stroke="none" stroke-width="0"/>
<circle cx="415.71" cy="468.65" r="0.4525079218558406" fill="#5a3090" stroke="none" stroke-width="0"/>
<circle cx="384.05" cy="483.83" r="0.5575303863707701" fill="#2e2068" stroke="none" stroke-width="0"/>
<circle cx="378.03" cy="470.85" r="0.7660671851333292" fill="#2e2068" stroke="none" stroke-width="0"/>
<circle cx="392.53" cy="488.97" r="0.39622004859141025" fill="#3a2a7a" stroke="none" stroke-width="0"/>
<circle cx="371.08" cy="505.19" r="0.6701941642708457" fill="#5a3090" stroke="none" stroke-width="0"/>
<circle cx="403.14" cy="490.25" r="0.35967984827547395" fill="#2e2068" stroke="none" stroke-width="0"/>
<circle cx="366.85" cy="496.97" r="0.6660492670285836" fill="#8a3c90" stroke="none" stroke-width="0"/>
<circle cx="397.55" cy="468.29" r="0.40456030324725417" fill="#2e2068" stroke="none" stroke-width="0"/>
<circle cx="411.08" cy="479.77" r="0.48517346095725666" fill="#3a2a7a" stroke="none" stroke-width="0"/>
<circle cx="410.71" cy="470.53" r="0.5791851842519243" fill="#3a2a7a" stroke="none" stroke-width="0"/>
<circle cx="404.64" cy="467.30" r="0.7146882194218052" fill="#5a3090" stroke="none" stroke-width="0"/>
<circle cx="417.46" cy="493.00" r="0.6347155421494362" fill="#3a2a7a" stroke="none" stroke-width="0"/>
<circle cx="409.59" cy="494.29" r="0.4908507523607082" fill="#3a2a7a" stroke="none" stroke-width="0"/>
<circle cx="382.64" cy="473.98" r="0.5437449845908533" fill="#8a3c90" stroke="none" stroke-width="0"/>
<circle cx="366.48" cy="492.16" r="0.7147215624127053" fill="#5a3090" stroke="none" stroke-width="0"/>
<circle cx="374.52" cy="467.68" r="0.7922646602470289" fill="#5a3090" stroke="none" stroke-width="0"/>
<circle cx="386.99" cy="496.11" r="0.6377419978529776" fill="#2e2068" stroke="none" stroke-width="0"/>
<circle cx="387.65" cy="468.40" r="0.7243025413806738" fill="#2e2068" stroke="none" stroke-width="0"/>
<circle cx="382.67" cy="481.57" r="0.475082169364338" fill="#3a2a7a" stroke="none" stroke-width="0"/>
<circle cx="377.85" cy="482.44" r="0.3706063838956151" fill="#2e2068" stroke="none" stroke-width="0"/>
<circle cx="412.89" cy="497.97" r="0.5716018560453685" fill="#5a3090" stroke="none" stroke-width="0"/>
<circle cx="406.61" cy="500.34" r="0.7516428370052637" fill="#3a2a7a" stroke="none" stroke-width="0"/>
<circle cx="415.81" cy="499.52" r="0.7385662767535881" fill="#2e2068" stroke="none" stroke-width="0"/>
<circle cx="369.09" cy="468.67" r="0.7504071563630886" fill="#5a3090" stroke="none" stroke-width="0"/>
<circle cx="376.42" cy="478.06" r="0.3904926297151338" fill="#8a3c90" stroke="none" stroke-width="0"/>
<circle cx="386.36" cy="482.03" r="0.5872781256866515" fill="#5a3090" stroke="none" stroke-width="0"/>
<circle cx="370.34" cy="504.88" r="0.354891998920268" fill="#5a3090" stroke="none" stroke-width="0"/>
<circle cx="398.39" cy="466.89" r="0.5404801285237946" fill="#8a3c90" stroke="none" stroke-width="0"/>
<circle cx="405.54" cy="480.09" r="0.7021040307534447" fill="#8a3c90" stroke="none" stroke-width="0"/>
<circle cx="367.02" cy="494.34" r="0.3990682514140928" fill="#5a3090" stroke="none" stroke-width="0"/>
<circle cx="377.77" cy="471.88" r="0.5677826315520358" fill="#2e2068" stroke="none" stroke-width="0"/>
<circle cx="366.41" cy="495.11" r="0.4057054626550755" fill="#3a2a7a" stroke="none" stroke-width="0"/>
<circle cx="399.41" cy="469.68" r="0.41153342534766035" fill="#2e2068" stroke="none" stroke-width="0"/>
<circle cx="415.83" cy="466.63" r="0.7969387570502928" fill="#2e2068" stroke="none" stroke-width="0"/>
<circle cx="385.01" cy="496.86" r="0.3721289612959257" fill="#3a2a7a" stroke="none" stroke-width="0"/>
<circle cx="387.30" cy="495.93" r="0.4076078960469314" fill="#5a3090" stroke="none" stroke-width="0"/>
<circle cx="373.64" cy="474.59" r="0.44129337874985963" fill="#3a2a7a" stroke="none" stroke-width="0"/>
<circle cx="399.07" cy="490.91" r="0.5835209247857075" fill="#8a3c90" stroke="none" stroke-width="0"/>
<circle cx="376.42" cy="488.64" r="0.5491791038945149" fill="#2e2068" stroke="none" stroke-width="0"/>
<circle cx="386.37" cy="502.02" r="0.6609754889611816" fill="#3a2a7a" stroke="none" stroke-width="0"/>
<circle cx="369.34" cy="505.43" r="0.4968947477554571" fill="#8a3c90" stroke="none" stroke-width="0"/>
<circle cx="365.33" cy="490.63" r="0.6436396698543204" fill="#5a3090" stroke="none" stroke-width="0"/>
<circle cx="410.67" cy="495.96" r="0.5824961712396015" fill="#5a3090" stroke="none" stroke-width="0"/>
<circle cx="375.59" cy="467.51" r="0.36255735903853253" fill="#8a3c90" stroke="none" stroke-width="0"/>
<circle cx="413.90" cy="487.10" r="0.6832457559520967" fill="#8a3c90" stroke="none" stroke-width="0"/>
<circle cx="380.99" cy="491.12" r="0.6799868593254228" fill="#5a3090" stroke="none" stroke-width="0"/>
<circle cx="405.34" cy="477.86" r="0.6412139477802317" fill="#2e2068" stroke="none" stroke-width="0"/>
<circle cx="390.63" cy="487.10" r="0.41581031019711734" fill="#2e2068" stroke="none" stroke-width="0"/>
<circle cx="377.11" cy="476.66" r="0.6558251239059321" fill="#3a2a7a" stroke="none" stroke-width="0"/>
<circle cx="406.21" cy="475.16" r="0.3665908382972444" fill="#8a3c90" stroke="none" stroke-width="0"/>
<circle cx="388.13" cy="500.44" r="0.7553412008374758" fill="#2e2068" stroke="none" stroke-width="0"/>
<circle cx="385.24" cy="505.55" r="0.5789123133595148" fill="#2e2068" stroke="none" stroke-width="0"/>
<circle cx="393.02" cy="477.90" r="0.37195333377049333" fill="#8a3c90" stroke="none" stroke-width="0"/>
<circle cx="371.59" cy="469.51" r="0.47796286655282083" fill="#2e2068" stroke="none" stroke-width="0"/>
<circle cx="367.94" cy="482.31" r="0.37857149560794473" fill="#2e2068" stroke="none" stroke-width="0"/>
<circle cx="404.40" cy="485.86" r="0.6926699132199788" fill="#2e2068" stroke="none" stroke-width="0"/>
<circle cx="396.64" cy="479.06" r="0.5760409639615565" fill="#5a3090" stroke="none" stroke-width="0"/>
<circle cx="380.71" cy="501.84" r="0.5800355266125001" fill="#8a3c90" stroke="none" stroke-width="0"/>
<circle cx="394.88" cy="481.78" r="0.47439791856823216" fill="#2e2068" stroke="none" stroke-width="0"/>
<circle cx="390.89" cy="483.25" r="0.43846513831540174" fill="#8a3c90" stroke="none" stroke-width="0"/>
<circle cx="377.18" cy="495.34" r="0.7912627267476979" fill="#3a2a7a" stroke="none" stroke-width="0"/>
<circle cx="396.32" cy="481.00" r="0.6158462598332501" fill="#8a3c90" stroke="none" stroke-width="0"/>
<circle cx="409.88" cy="472.79" r="0.7880345751552913" fill="#5a3090" stroke="none" stroke-width="0"/>
<circle cx="383.34" cy="483.65" r="0.574685931885759" fill="#2e2068" stroke="none" stroke-width="0"/>
<circle cx="416.37" cy="486.92" r="0.3652198314442622" fill="#8a3c90" stroke="none" stroke-width="0"/>
<circle cx="381.42" cy="497.43" r="0.4695108962208724" fill="#5a3090" stroke="none" stroke-width="0"/>
<circle cx="377.64" cy="502.26" r="0.7688609860686537" fill="#8a3c90" stroke="none" stroke-width="0"/>
<circle cx="379.29" cy="478.98" r="0.6952843358346521" fill="#5a3090" stroke="none" stroke-width="0"/>
<circle cx="395.55" cy="504.25" r="0.6370138973756846" fill="#3a2a7a" stroke="none" stroke-width="0"/>
<circle cx="382.21" cy="469.50" r="0.5515998629496497" fill="#2e2068" stroke="none" stroke-width="0"/>
<circle cx="398.15" cy="486.96" r="0.4640369844132848" fill="#5a3090" stroke="none" stroke-width="0"/>
<circle cx="373.56" cy="484.06" r="0.6516625453329202" fill="#8a3c90" stroke="none" stroke-width="0"/>
<circle cx="411.99" cy="490.99" r="0.47145937837743823" fill="#2e2068" stroke="none" stroke-width="0"/>
<circle cx="373.59" cy="488.32" r="0.39114803910833956" fill="#8a3c90" stroke="none" stroke-width="0"/>
<circle cx="402.26" cy="488.51" r="0.7579023875440218" fill="#5a3090" stroke="none" stroke-width="0"/>
<circle cx="399.56" cy="469.92" r="0.40122015430340907" fill="#5a3090" stroke="none" stroke-width="0"/>
<circle cx="379.81" cy="494.46" r="0.56328187637046" fill="#5a3090" stroke="none" stroke-width="0"/>
<circle cx="377.51" cy="483.82" r="0.6890010702139335" fill="#8a3c90" stroke="none" stroke-width="0"/>
<circle cx="390.86" cy="488.16" r="0.5543078990508201" fill="#3a2a7a" stroke="none" stroke-width="0"/>
<circle cx="373.40" cy="469.08" r="0.7138032256005254" fill="#8a3c90" stroke="none" stroke-width="0"/>
<circle cx="402.77" cy="483.01" r="0.5828745785666347" fill="#2e2068" stroke="none" stroke-width="0"/>
<circle cx="375.44" cy="505.43" r="0.6098386704950889" fill="#8a3c90" stroke="none" stroke-width="0"/>
<circle cx="389.96" cy="473.57" r="0.6965674609705351" fill="#5a3090" stroke="none" stroke-width="0"/>
<circle cx="386.19" cy="494.37" r="0.4076684880214767" fill="#8a3c90" stroke="none" stroke-width="0"/>
<circle cx="376.66" cy="490.62" r="0.745124108415741" fill="#5a3090" stroke="none" stroke-width="0"/>
<circle cx="413.45" cy="500.06" r="0.6029082312083747" fill="#3a2a7a" stroke="none" stroke-width="0"/>
<circle cx="388.45" cy="470.88" r="0.6305242457134459" fill="#5a3090" stroke="none" stroke-width="0"/>
<circle cx="374.87" cy="480.65" r="0.5861068350116091" fill="#3a2a7a" stroke="none" stroke-width="0"/>
<circle cx="392.76" cy="472.60" r="0.45298689600125636" fill="#8a3c90" stroke="none" stroke-width="0"/>
<circle cx="391.16" cy="485.73" r="0.6141819660248771" fill="#2e2068" stroke="none" stroke-width="0"/>
<circle cx="384.12" cy="505.37" r="0.4471080084746888" fill="#3a2a7a" stroke="none" stroke-width="0"/>
<circle cx="396.39" cy="495.61" r="0.5217664236469284" fill="#2e2068" stroke="none" stroke-width="0"/>
<circle cx="416.55" cy="498.78" r="0.389719745905892" fill="#3a2a7a" stroke="none" stroke-width="0"/>
<circle cx="412.73" cy="502.46" r="0.48943355894656193" fill="#8a3c90" stroke="none" stroke-width="0"/>
<circle cx="394.30" cy="471.84" r="0.6999179733531377" fill="#3a2a7a" stroke="none" stroke-width="0"/>
<circle cx="369.75" cy="489.61" r="0.7078346444164302" fill="#2e2068" stroke="none" stroke-width="0"/>
<circle cx="399.99" cy="499.65" r="0.6777185260747163" fill="#2e2068" stroke="none" stroke-width="0"/>
<circle cx="379.32" cy="493.87" r="0.4641193453292496" fill="#3a2a7a" stroke="none" stroke-width="0"/>
<circle cx="407.02" cy="468.10" r="0.6013279824620772" fill="#5a3090" stroke="none" stroke-width="0"/>
<circle cx="413.25" cy="486.80" r="0.36400329796685044" fill="#5a3090" stroke="none" stroke-width="0"/>
<circle cx="398.32" cy="490.03" r="0.36884533331052466" fill="#8a3c90" stroke="none" stroke-width="0"/>
<circle cx="382.06" cy="502.97" r="0.5720530543426052" fill="#3a2a7a" stroke="none" stroke-width="0"/>
<circle cx="390.74" cy="498.95" r="0.6011514339296964" fill="#8a3c90" stroke="none" stroke-width="0"/>
<circle cx="374.04" cy="483.50" r="0.632815606008573" fill="#8a3c90" stroke="none" stroke-width="0"/>
<circle cx="389.19" cy="469.43" r="0.39951215443038673" fill="#2e2068" stroke="none" stroke-width="0"/>
<circle cx="394.12" cy="466.93" r="0.42155255539263703" fill="#8a3c90" stroke="none" stroke-width="0"/>
<circle cx="391.76" cy="488.09" r="0.7890941983706594" fill="#3a2a7a" stroke="none" stroke-width="0"/>
<circle cx="373.49" cy="486.00" r="0.4244301951202634" fill="#2e2068" stroke="none" stroke-width="0"/>
<circle cx="377.87" cy="505.21" r="0.676032386614567" fill="#5a3090" stroke="none" stroke-width="0"/>
<circle cx="409.75" cy="473.47" r="0.523766755781884" fill="#8a3c90" stroke="none" stroke-width="0"/>
<circle cx="392.55" cy="495.71" r="0.6824559971565161" fill="#5a3090" stroke="none" stroke-width="0"/>
<circle cx="388.82" cy="500.93" r="0.5075492016486212" fill="#2e2068" stroke="none" stroke-width="0"/>
<circle cx="365.60" cy="493.67" r="0.6064848681249143" fill="#2e2068" stroke="none" stroke-width="0"/>
<circle cx="374.57" cy="500.68" r="0.7553450433937977" fill="#3a2a7a" stroke="none" stroke-width="0"/>
<circle cx="384.47" cy="476.81" r="0.6995404272351919" fill="#8a3c90" stroke="none" stroke-width="0"/>
<circle cx="379.18" cy="469.23" r="0.5462378456068799" fill="#2e2068" stroke="none" stroke-width="0"/>
<circle cx="398.71" cy="484.14" r="0.4713581298314468" fill="#3a2a7a" stroke="none" stroke-width="0"/>
<circle cx="416.06" cy="474.12" r="0.6904072763514055" fill="#2e2068" stroke="none" stroke-width="0"/>
<circle cx="402.64" cy="496.61" r="0.4503806825217954" fill="#2e2068" stroke="none" stroke-width="0"/>
<circle cx="380.49" cy="482.31" r="0.5899724475781624" fill="#2e2068" stroke="none" stroke-width="0"/>
<circle cx="402.24" cy="469.64" r="0.5989464226844925" fill="#2e2068" stroke="none" stroke-width="0"/>
<circle cx="397.90" cy="504.19" r="0.6192263197014813" fill="#2e2068" stroke="none" stroke-width="0"/>
<circle cx="375.90" cy="478.61" r="0.6772089296758137" fill="#8a3c90" stroke="none" stroke-width="0"/>
<circle cx="389.46" cy="490.71" r="0.45777703329103936" fill="#5a3090" stroke="none" stroke-width="0"/>
<circle cx="404.43" cy="483.56" r="0.7793135499203511" fill="#2e2068" stroke="none" stroke-width="0"/>
<circle cx="411.86" cy="487.00" r="0.5846194467590339" fill="#3a2a7a" stroke="none" stroke-width="0"/>
</g>
</g>
<rect x="364.20" y="466.00" width="53.30" height="39.90" fill="none" stroke="#6a6466" stroke-width="1.0"/>
<g filter="url(#lb)">
<rect x="309.00" y="507.20" width="53.80" height="40.40" fill="#d3c6d6"/>
<path d="M311.2,507.5 312.4,507.4 312.9,507.2 310.0,507.2Z" fill="#f1eff3" stroke="none" stroke-width="0"/>
<path d="M311.1,508.4 310.0,507.7 309.0,507.4 309.0,522.9 309.1,522.8 310.1,521.4 311.4,509.7Z" fill="#f1eff3" stroke="none" stroke-width="0"/>
<path d="M309.8,523.0 309.0,523.4 309.0,534.0 322.5,535.8 323.9,535.4 324.6,534.2 324.1,532.8 315.7,523.9 314.6,523.4 310.8,522.8Z" fill="#f1eff3" stroke="none" stroke-width="0"/>
<path d="M310.0,546.1 310.9,545.5 311.3,544.3 310.9,543.2 309.0,540.9 309.0,546.4Z" fill="#f1eff3" stroke="none" stroke-width="0"/>
<path d="M313.9,546.3 312.4,546.0 309.0,546.9 309.0,547.6 314.6,547.6Z" fill="#f1eff3" stroke="none" stroke-width="0"/>
<path d="M313.0,507.7 311.9,509.2 310.7,520.6 311.1,521.9 312.2,522.5 314.4,522.8 315.9,522.4 321.8,516.9 322.3,515.3 321.1,507.2 314.2,507.2Z" fill="#f1eff3" stroke="none" stroke-width="0"/>
<path d="M316.5,523.3 317.0,524.6 324.8,532.9 325.9,533.4 327.1,533.2 331.9,530.2 332.7,528.9 333.4,524.0 333.2,523.0 332.5,522.2 323.9,517.3 322.8,517.1 321.8,517.5 317.1,522.0Z" fill="#f1eff3" stroke="none" stroke-width="0"/>
<path d="M323.1,538.2 322.7,536.9 321.6,536.2 309.0,534.5 309.0,540.2 313.1,545.1 313.7,545.5 313.7,545.5 315.7,545.3 322.5,539.3Z" fill="#f1eff3" stroke="none" stroke-width="0"/>
<path d="M328.4,546.5 328.2,545.2 325.5,540.3 324.2,539.4 322.7,539.8 315.7,545.9 315.1,547.4 315.1,547.6 328.1,547.6Z" fill="#f1eff3" stroke="none" stroke-width="0"/>
<path d="M323.7,516.6 332.4,521.5 333.6,521.8 334.7,521.1 339.0,515.4 339.4,514.0 338.1,507.3 338.0,507.2 321.6,507.2 322.8,515.3Z" fill="#f1eff3" stroke="none" stroke-width="0"/>
<path d="M340.0,515.6 339.1,516.2 334.4,522.4 334.0,523.2 333.3,528.5 333.4,529.6 334.2,530.4 337.5,532.2 338.4,532.4 343.8,532.1 344.9,531.7 345.5,530.8 348.2,519.8 348.0,518.6 347.0,517.7 341.1,515.6Z" fill="#f1eff3" stroke="none" stroke-width="0"/>
<path d="M325.0,538.4 328.6,544.8 329.8,545.7 338.8,547.6 340.0,547.4 340.8,546.5 340.9,545.3 337.8,533.6 336.9,532.5 333.8,530.7 331.9,530.7 326.4,534.2 325.8,534.9 325.1,536.2 324.9,536.8 324.8,537.3Z" fill="#f1eff3" stroke="none" stroke-width="0"/>
<path d="M330.7,546.4 329.4,546.6 328.7,547.6 336.6,547.6Z" fill="#f1eff3" stroke="none" stroke-width="0"/>
<path d="M357.3,507.2 338.9,507.2 338.7,508.1 339.8,513.7 341.0,515.0 348.6,517.7 349.2,517.8 352.1,517.9 353.1,517.6 353.8,516.7 357.3,508.0Z" fill="#f1eff3" stroke="none" stroke-width="0"/>
<path d="M352.7,518.4 350.5,518.4 349.4,518.7 348.7,519.7 346.0,530.6 346.2,531.9 347.1,532.7 352.8,535.1 354.1,535.1 355.0,534.2 359.4,526.2 359.6,525.1 359.1,524.1 353.9,518.9Z" fill="#f1eff3" stroke="none" stroke-width="0"/>
<path d="M355.7,545.2 355.9,543.9 354.4,537.1 353.3,535.8 345.7,532.7 344.9,532.6 340.4,532.8 339.0,533.5 338.7,535.0 342.0,547.6 349.3,547.6 354.6,546.0Z" fill="#f1eff3" stroke="none" stroke-width="0"/>
<path d="M355.9,546.8 354.4,546.6 351.0,547.6 356.5,547.6Z" fill="#f1eff3" stroke="none" stroke-width="0"/>
<path d="M354.2,517.0 354.6,518.9 359.8,524.1 361.3,524.6 361.9,524.5 362.8,524.2 362.8,524.2 362.8,507.2 358.2,507.2Z" fill="#f1eff3" stroke="none" stroke-width="0"/>
<path d="M357.1,545.0 358.3,545.3 362.8,544.9 362.8,525.6 361.5,525.1 361.4,525.1 360.0,526.0 355.0,535.4 354.8,536.7 356.4,543.9Z" fill="#f1eff3" stroke="none" stroke-width="0"/>
<path d="M357.6,546.5 357.3,547.6 362.8,547.6 362.8,545.4 358.8,545.8Z" fill="#f1eff3" stroke="none" stroke-width="0"/>
</g>
<rect x="309.00" y="507.20" width="53.80" height="40.40" fill="none" stroke="#6a6466" stroke-width="1.0"/>
<g filter="url(#lb)">
<rect x="364.20" y="507.20" width="53.30" height="40.40" fill="#d3c6d6"/>
<path d="M370.5,525.7 372.3,524.4 372.8,522.2 371.6,507.4 371.5,507.2 364.2,507.2 364.2,527.7Z" fill="#f1eff3" stroke="none" stroke-width="0"/>
<path d="M382.0,536.7 381.2,534.7 374.7,527.0 371.1,526.0 364.2,528.2 364.2,547.6 382.6,547.6Z" fill="#f1eff3" stroke="none" stroke-width="0"/>
<path d="M396.7,523.4 396.1,508.0 395.7,507.2 372.7,507.2 372.2,508.7 373.5,523.9 374.3,525.8 380.3,532.8 382.4,534.0 384.7,533.4 395.2,526.3Z" fill="#f1eff3" stroke="none" stroke-width="0"/>
<path d="M384.1,547.5 384.5,547.6 398.9,547.6 405.1,547.2 407.6,546.0 416.9,534.1 417.5,532.2 417.5,531.7 416.8,529.8 414.8,528.7 398.4,525.9 396.0,526.4 384.0,534.5 382.5,537.5 383.0,545.1Z" fill="#f1eff3" stroke="none" stroke-width="0"/>
<path d="M397.2,522.5 398.0,524.5 400.0,525.6 417.5,528.7 417.5,507.2 396.5,507.2Z" fill="#f1eff3" stroke="none" stroke-width="0"/>
<path d="M408.5,545.7 407.8,547.5 407.8,547.6 417.5,547.6 417.5,534.1Z" fill="#f1eff3" stroke="none" stroke-width="0"/>
</g>
<rect x="364.20" y="507.20" width="53.30" height="40.40" fill="none" stroke="#6a6466" stroke-width="1.0"/>
<circle cx="376.03" cy="453.19" r="0.5" fill="#c06090" stroke="none" stroke-width="0"/>
<circle cx="409.90" cy="453.12" r="0.5" fill="#c06090" stroke="none" stroke-width="0"/>
<circle cx="313.07" cy="442.69" r="0.5" fill="#d04070" stroke="none" stroke-width="0"/>
<circle cx="378.79" cy="459.23" r="0.5" fill="#d04070" stroke="none" stroke-width="0"/>
<circle cx="349.41" cy="458.00" r="0.5" fill="#5060c0" stroke="none" stroke-width="0"/>
<circle cx="367.64" cy="446.81" r="0.5" fill="#d04070" stroke="none" stroke-width="0"/>
<circle cx="387.51" cy="440.51" r="0.5" fill="#d04070" stroke="none" stroke-width="0"/>
<circle cx="407.13" cy="454.10" r="0.5" fill="#d04070" stroke="none" stroke-width="0"/>
<circle cx="390.76" cy="427.73" r="0.5" fill="#c06090" stroke="none" stroke-width="0"/>
<circle cx="375.45" cy="429.81" r="0.5" fill="#d04070" stroke="none" stroke-width="0"/>
<circle cx="413.07" cy="425.20" r="0.5" fill="#d04070" stroke="none" stroke-width="0"/>
<circle cx="411.77" cy="431.30" r="0.5" fill="#d04070" stroke="none" stroke-width="0"/>
<circle cx="340.67" cy="461.54" r="0.5" fill="#c06090" stroke="none" stroke-width="0"/>
<circle cx="402.87" cy="448.78" r="0.5" fill="#d04070" stroke="none" stroke-width="0"/>
<circle cx="409.74" cy="451.24" r="0.5" fill="#5060c0" stroke="none" stroke-width="0"/>
<circle cx="341.67" cy="438.73" r="0.5" fill="#d04070" stroke="none" stroke-width="0"/>
<circle cx="409.19" cy="435.02" r="0.5" fill="#5060c0" stroke="none" stroke-width="0"/>
<circle cx="341.94" cy="447.92" r="0.5" fill="#d04070" stroke="none" stroke-width="0"/>
<rect x="328.80" y="429.10" width="28.10" height="20.40" fill="none" stroke="#222" stroke-width="0.7" stroke-dasharray="1 1"/>
<rect x="320.00" y="521.40" width="27.90" height="20.30" fill="none" stroke="#222" stroke-width="0.7" stroke-dasharray="1 1"/>
<line x1="351.70" y1="543.50" x2="360.20" y2="543.50" stroke="#222" stroke-width="0.9"/>
<line x1="398.20" y1="543.50" x2="414.90" y2="543.50" stroke="#222" stroke-width="0.9"/>
<text transform="translate(305.20 444.30) rotate(-90) scale(1 1.045)" font-size="9.4" text-anchor="middle" stroke="#1e1e1e">WT Ctrl</text>
<text transform="translate(305.20 486.00) rotate(-90) scale(1 1.045)" font-size="9.4" text-anchor="middle" stroke="#1e1e1e">Veh</text>
<text transform="translate(305.20 527.40) rotate(-90) scale(1 1.045)" font-size="9.4" text-anchor="middle" stroke="#1e1e1e">Osi</text>
<line x1="295.50" y1="473.00" x2="295.50" y2="540.40" stroke="#222" stroke-width="0.9"/>
<text transform="translate(291.80 506.20) rotate(-90) scale(1 1.045)" font-size="9.4" text-anchor="middle" stroke="#1e1e1e">EPP</text>
<line x1="495.50" y1="417.90" x2="495.50" y2="531.50" stroke="#5a5a5a" stroke-width="1"/>
<line x1="492.20" y1="531.50" x2="495.20" y2="531.50" stroke="#5a5a5a" stroke-width="1"/>
<text transform="translate(490.70 534.70) scale(1 1.045)" font-size="9.4" text-anchor="end" stroke="#1e1e1e">0</text>
<line x1="492.20" y1="503.50" x2="495.20" y2="503.50" stroke="#5a5a5a" stroke-width="1"/>
<text transform="translate(490.70 506.30) scale(1 1.045)" font-size="9.4" text-anchor="end" stroke="#1e1e1e">1000</text>
<line x1="492.20" y1="474.50" x2="495.20" y2="474.50" stroke="#5a5a5a" stroke-width="1"/>
<text transform="translate(490.70 477.90) scale(1 1.045)" font-size="9.4" text-anchor="end" stroke="#1e1e1e">2000</text>
<line x1="492.20" y1="446.50" x2="495.20" y2="446.50" stroke="#5a5a5a" stroke-width="1"/>
<text transform="translate(490.70 449.50) scale(1 1.045)" font-size="9.4" text-anchor="end" stroke="#1e1e1e">3000</text>
<line x1="492.20" y1="417.50" x2="495.20" y2="417.50" stroke="#5a5a5a" stroke-width="1"/>
<text transform="translate(490.70 421.10) scale(1 1.045)" font-size="9.4" text-anchor="end" stroke="#1e1e1e">4000</text>
<rect x="501.70" y="461.00" width="12.90" height="70.50" fill="#fff" stroke="#c4c4c4" stroke-width="0.9"/>
<rect x="541.60" y="457.70" width="13.00" height="73.80" fill="#fff" stroke="#e9b6db" stroke-width="0.9"/>
<line x1="495.20" y1="531.50" x2="561.40" y2="531.50" stroke="#5a5a5a" stroke-width="1"/>
<line x1="508.50" y1="531.50" x2="508.50" y2="534.00" stroke="#5a5a5a" stroke-width="1"/>
<line x1="528.50" y1="531.50" x2="528.50" y2="534.00" stroke="#5a5a5a" stroke-width="1"/>
<line x1="548.50" y1="531.50" x2="548.50" y2="534.00" stroke="#5a5a5a" stroke-width="1"/>
<line x1="508.50" y1="451.50" x2="508.50" y2="467.30" stroke="#222" stroke-width="1"/>
<line x1="505.00" y1="451.50" x2="511.40" y2="451.50" stroke="#222" stroke-width="1"/>
<line x1="505.00" y1="467.50" x2="511.40" y2="467.50" stroke="#222" stroke-width="1"/>
<circle cx="503.10" cy="451.10" r="2.1" fill="#fff" stroke="#222" stroke-width="0.75"/>
<circle cx="508.40" cy="450.40" r="2.1" fill="#fff" stroke="#222" stroke-width="0.75"/>
<circle cx="503.10" cy="455.60" r="2.1" fill="#fff" stroke="#222" stroke-width="0.75"/>
<circle cx="508.40" cy="454.20" r="2.1" fill="#fff" stroke="#222" stroke-width="0.75"/>
<circle cx="513.60" cy="456.90" r="2.1" fill="#fff" stroke="#222" stroke-width="0.75"/>
<circle cx="503.10" cy="461.20" r="2.1" fill="#fff" stroke="#222" stroke-width="0.75"/>
<circle cx="508.40" cy="463.00" r="2.1" fill="#fff" stroke="#222" stroke-width="0.75"/>
<circle cx="513.60" cy="462.10" r="2.1" fill="#fff" stroke="#222" stroke-width="0.75"/>
<circle cx="508.40" cy="469.10" r="2.1" fill="#fff" stroke="#222" stroke-width="0.75"/>
<circle cx="508.40" cy="473.50" r="2.1" fill="#fff" stroke="#222" stroke-width="0.75"/>
<line x1="528.50" y1="522.00" x2="528.50" y2="530.00" stroke="#222" stroke-width="1"/>
<line x1="525.00" y1="522.50" x2="531.40" y2="522.50" stroke="#222" stroke-width="1"/>
<line x1="525.00" y1="530.50" x2="531.40" y2="530.50" stroke="#222" stroke-width="1"/>
<circle cx="528.50" cy="521.20" r="2.1" fill="#fff" stroke="#222" stroke-width="0.75"/>
<circle cx="524.10" cy="526.80" r="2.1" fill="#fff" stroke="#222" stroke-width="0.75"/>
<circle cx="528.50" cy="526.80" r="2.1" fill="#fff" stroke="#222" stroke-width="0.75"/>
<circle cx="532.80" cy="527.70" r="2.1" fill="#fff" stroke="#222" stroke-width="0.75"/>
<circle cx="525.80" cy="528.90" r="2.1" fill="#fff" stroke="#222" stroke-width="0.75"/>
<circle cx="530.50" cy="529.00" r="2.1" fill="#fff" stroke="#222" stroke-width="0.75"/>
<line x1="548.50" y1="448.60" x2="548.50" y2="464.00" stroke="#222" stroke-width="1"/>
<line x1="544.90" y1="448.50" x2="551.30" y2="448.50" stroke="#222" stroke-width="1"/>
<line x1="544.90" y1="464.50" x2="551.30" y2="464.50" stroke="#222" stroke-width="1"/>
<circle cx="546.50" cy="449.00" r="2.1" fill="#fff" stroke="#222" stroke-width="0.75"/>
<circle cx="550.80" cy="447.60" r="2.1" fill="#fff" stroke="#222" stroke-width="0.75"/>
<circle cx="548.60" cy="451.60" r="2.1" fill="#fff" stroke="#222" stroke-width="0.75"/>
<circle cx="543.30" cy="459.00" r="2.1" fill="#fff" stroke="#222" stroke-width="0.75"/>
<circle cx="548.60" cy="458.10" r="2.1" fill="#fff" stroke="#222" stroke-width="0.75"/>
<circle cx="553.00" cy="460.90" r="2.1" fill="#fff" stroke="#222" stroke-width="0.75"/>
<circle cx="546.50" cy="461.60" r="2.1" fill="#fff" stroke="#222" stroke-width="0.75"/>
<circle cx="549.10" cy="465.10" r="2.1" fill="#fff" stroke="#222" stroke-width="0.75"/>
<circle cx="546.50" cy="465.60" r="2.1" fill="#fff" stroke="#222" stroke-width="0.75"/>
<text transform="translate(511.80 542.10) rotate(-45) scale(1 1.045)" font-size="9.5" text-anchor="end" stroke="#1e1e1e">WT Ctrl</text>
<text transform="translate(531.80 542.10) rotate(-45) scale(1 1.045)" font-size="9.5" text-anchor="end" stroke="#1e1e1e">Veh</text>
<text transform="translate(551.70 542.10) rotate(-45) scale(1 1.045)" font-size="9.5" text-anchor="end" stroke="#1e1e1e">Osi</text>
<line x1="511.30" y1="555.50" x2="550.60" y2="555.50" stroke="#5e5050" stroke-width="1"/>
<text transform="translate(530.95 567.70) scale(1 1.045)" font-size="9.4" text-anchor="middle" stroke="#1e1e1e">EPP</text>
<text transform="translate(461.40 474.80) rotate(-90) scale(1 1.045)" font-size="9.05" text-anchor="middle" stroke="#1e1e1e">Mean cell size (μm<tspan dy="-3" font-size="6">2</tspan><tspan dy="3">)</tspan></text>
<line x1="507.30" y1="408.70" x2="546.90" y2="408.70" stroke="#8d9cab" stroke-width="1.25"/>
<text transform="translate(527.10 406.80) scale(1 1.045)" font-size="6.7" text-anchor="middle" fill="#4a4444" stroke="#4a4444">p=0.6730</text>
<line x1="528.20" y1="418.40" x2="548.60" y2="418.40" stroke="#56677a" stroke-width="1.25"/>
<text transform="translate(538.40 416.50) scale(1 1.045)" font-size="6.7" text-anchor="middle" fill="#4a4444" stroke="#4a4444">p&lt;0.0001</text>
<line x1="507.60" y1="428.40" x2="528.60" y2="428.40" stroke="#56677a" stroke-width="1.25"/>
<text transform="translate(518.10 426.50) scale(1 1.045)" font-size="6.7" text-anchor="middle" fill="#4a4444" stroke="#4a4444">p&lt;0.0001</text>
<line x1="621.50" y1="420.90" x2="621.50" y2="535.40" stroke="#5a5a5a" stroke-width="1"/>
<line x1="618.70" y1="535.50" x2="621.70" y2="535.50" stroke="#5a5a5a" stroke-width="1"/>
<text transform="translate(617.20 538.60) scale(1 1.045)" font-size="9.4" text-anchor="end" stroke="#1e1e1e">0</text>
<line x1="618.70" y1="512.50" x2="621.70" y2="512.50" stroke="#5a5a5a" stroke-width="1"/>
<text transform="translate(617.20 515.70) scale(1 1.045)" font-size="9.4" text-anchor="end" stroke="#1e1e1e">5</text>
<line x1="618.70" y1="489.50" x2="621.70" y2="489.50" stroke="#5a5a5a" stroke-width="1"/>
<text transform="translate(617.20 492.80) scale(1 1.045)" font-size="9.4" text-anchor="end" stroke="#1e1e1e">10</text>
<line x1="618.70" y1="466.50" x2="621.70" y2="466.50" stroke="#5a5a5a" stroke-width="1"/>
<text transform="translate(617.20 469.90) scale(1 1.045)" font-size="9.4" text-anchor="end" stroke="#1e1e1e">15</text>
<line x1="618.70" y1="443.50" x2="621.70" y2="443.50" stroke="#5a5a5a" stroke-width="1"/>
<text transform="translate(617.20 447.00) scale(1 1.045)" font-size="9.4" text-anchor="end" stroke="#1e1e1e">20</text>
<line x1="618.70" y1="420.50" x2="621.70" y2="420.50" stroke="#5a5a5a" stroke-width="1"/>
<text transform="translate(617.20 424.10) scale(1 1.045)" font-size="9.4" text-anchor="end" stroke="#1e1e1e">25</text>
<rect x="628.20" y="530.80" width="12.70" height="4.60" fill="#e2e2e2" stroke="none" stroke-width="1"/>
<rect x="647.20" y="476.20" width="12.70" height="59.20" fill="#c9c7e1" stroke="none" stroke-width="1"/>
<rect x="666.20" y="519.50" width="12.60" height="15.90" fill="#ddb3d5" stroke="none" stroke-width="1"/>
<line x1="621.70" y1="535.50" x2="685.00" y2="535.50" stroke="#5a5a5a" stroke-width="1"/>
<line x1="634.50" y1="535.40" x2="634.50" y2="537.90" stroke="#5a5a5a" stroke-width="1"/>
<line x1="653.50" y1="535.40" x2="653.50" y2="537.90" stroke="#5a5a5a" stroke-width="1"/>
<line x1="672.50" y1="535.40" x2="672.50" y2="537.90" stroke="#5a5a5a" stroke-width="1"/>
<line x1="634.50" y1="523.60" x2="634.50" y2="534.90" stroke="#222" stroke-width="1"/>
<line x1="631.00" y1="523.50" x2="638.00" y2="523.50" stroke="#222" stroke-width="1"/>
<line x1="631.00" y1="534.50" x2="638.00" y2="534.50" stroke="#222" stroke-width="1"/>
<circle cx="634.50" cy="518.00" r="1.25" fill="#fff" stroke="#222" stroke-width="0.7"/>
<circle cx="630.00" cy="531.60" r="1.25" fill="#fff" stroke="#222" stroke-width="0.7"/>
<circle cx="633.20" cy="531.00" r="1.25" fill="#fff" stroke="#222" stroke-width="0.7"/>
<circle cx="636.50" cy="531.20" r="1.25" fill="#fff" stroke="#222" stroke-width="0.7"/>
<circle cx="639.70" cy="532.20" r="1.25" fill="#fff" stroke="#222" stroke-width="0.7"/>
<line x1="653.50" y1="443.10" x2="653.50" y2="509.10" stroke="#222" stroke-width="1"/>
<line x1="649.90" y1="443.50" x2="656.90" y2="443.50" stroke="#222" stroke-width="1"/>
<line x1="649.90" y1="509.50" x2="656.90" y2="509.50" stroke="#222" stroke-width="1"/>
<circle cx="653.40" cy="434.50" r="1.25" fill="#fff" stroke="#222" stroke-width="0.7"/>
<circle cx="653.40" cy="450.80" r="1.25" fill="#fff" stroke="#222" stroke-width="0.7"/>
<circle cx="653.40" cy="488.40" r="1.25" fill="#fff" stroke="#222" stroke-width="0.7"/>
<circle cx="653.40" cy="490.40" r="1.25" fill="#fff" stroke="#222" stroke-width="0.7"/>
<circle cx="653.40" cy="517.60" r="1.25" fill="#fff" stroke="#222" stroke-width="0.7"/>
<line x1="672.50" y1="512.50" x2="672.50" y2="526.50" stroke="#222" stroke-width="1"/>
<line x1="668.80" y1="512.50" x2="675.80" y2="512.50" stroke="#222" stroke-width="1"/>
<line x1="668.80" y1="526.50" x2="675.80" y2="526.50" stroke="#222" stroke-width="1"/>
<circle cx="672.30" cy="507.90" r="1.25" fill="#fff" stroke="#222" stroke-width="0.7"/>
<circle cx="674.70" cy="519.20" r="1.25" fill="#fff" stroke="#222" stroke-width="0.7"/>
<circle cx="670.30" cy="521.20" r="1.25" fill="#fff" stroke="#222" stroke-width="0.7"/>
<circle cx="674.70" cy="523.60" r="1.25" fill="#fff" stroke="#222" stroke-width="0.7"/>
<circle cx="670.30" cy="524.00" r="1.25" fill="#fff" stroke="#222" stroke-width="0.7"/>
<text transform="translate(636.70 545.40) rotate(-45) scale(1 1.045)" font-size="9.5" text-anchor="end" stroke="#1e1e1e">WT Ctrl</text>
<text transform="translate(655.60 545.40) rotate(-45) scale(1 1.045)" font-size="9.5" text-anchor="end" stroke="#1e1e1e">Veh</text>
<text transform="translate(674.50 545.40) rotate(-45) scale(1 1.045)" font-size="9.5" text-anchor="end" stroke="#1e1e1e">Osi</text>
<line x1="634.50" y1="559.50" x2="674.60" y2="559.50" stroke="#5e5050" stroke-width="1"/>
<text transform="translate(654.55 570.60) scale(1 1.045)" font-size="9.4" text-anchor="middle" stroke="#1e1e1e">EPP</text>
<text transform="translate(599.70 477.50) rotate(-90) scale(1 1.045)" font-size="9.05" text-anchor="middle" stroke="#1e1e1e">Relative mRNA level</text>
<line x1="632.00" y1="404.70" x2="670.00" y2="404.70" stroke="#8d9cab" stroke-width="1.25"/>
<text transform="translate(651.00 402.80) scale(1 1.045)" font-size="6.7" text-anchor="middle" fill="#4a4444" stroke="#4a4444">p=0.6691</text>
<line x1="653.00" y1="414.40" x2="672.90" y2="414.40" stroke="#8d9cab" stroke-width="1.25"/>
<text transform="translate(662.95 412.50) scale(1 1.045)" font-size="6.7" text-anchor="middle" fill="#4a4444" stroke="#4a4444">p=0.0088</text>
<line x1="634.40" y1="424.20" x2="654.00" y2="424.20" stroke="#56677a" stroke-width="1.25"/>
<text transform="translate(644.20 422.30) scale(1 1.045)" font-size="6.7" text-anchor="middle" fill="#4a4444" stroke="#4a4444">p=0.0013</text>
</svg>
</body></html>
